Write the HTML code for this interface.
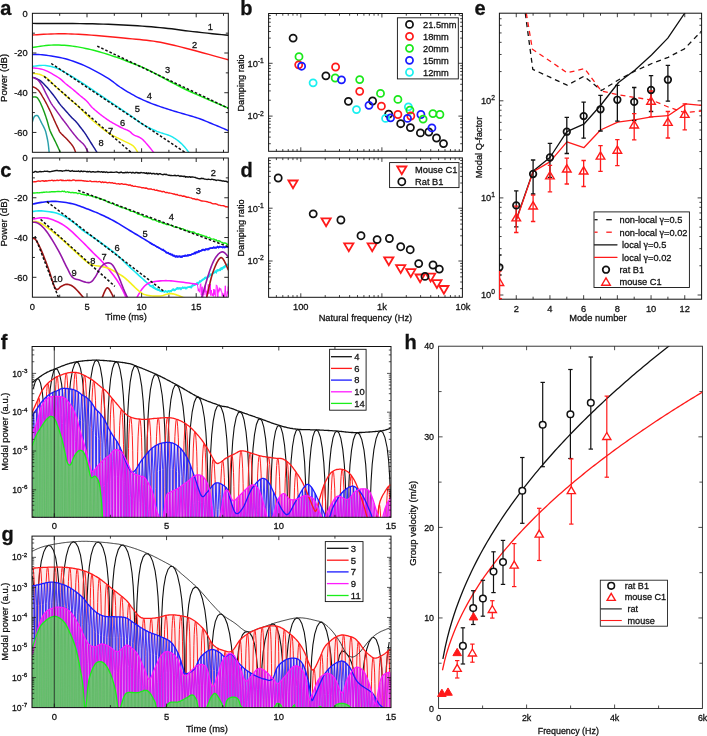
<!DOCTYPE html>
<html><head><meta charset="utf-8"><title>Figure</title>
<style>
html,body{margin:0;padding:0;background:#fff;}
body{width:707px;height:736px;overflow:hidden;}
svg{display:block;font-family:"Liberation Sans", sans-serif;will-change:transform;}
text{stroke:#111;stroke-width:0.28px;}
</style></head><body>
<svg width="707" height="736" viewBox="0 0 707 736">
<defs>
<clipPath id="clipA"><rect x="32.4" y="13.3" width="195.9" height="139"/></clipPath>
<clipPath id="clipC"><rect x="32.4" y="158" width="195.9" height="139.2"/></clipPath>
<clipPath id="clipE"><rect x="499.4" y="13.2" width="202.2" height="286"/></clipPath>
<clipPath id="clipH"><rect x="438.6" y="346.2" width="263.8" height="362.3"/></clipPath>
<clipPath id="clipF"><rect x="32.1" y="346.5" width="358.9" height="170.8"/></clipPath>
<clipPath id="clipG"><rect x="32" y="536.1" width="359" height="171.5"/></clipPath>
</defs>
<rect width="707" height="736" fill="#fff"/>

<g clip-path="url(#clipA)">
<path d="M32.4,23.4 L36.67,23.41 L42.44,23.43 L49.32,23.44 L56.91,23.46 L64.83,23.49 L72.68,23.53 L80.07,23.6 L86.6,23.7 L92.42,23.82 L97.97,23.96 L103.3,24.12 L108.43,24.29 L113.43,24.49 L118.32,24.71 L123.17,24.94 L128,25.2 L132.82,25.48 L137.57,25.79 L142.25,26.12 L146.84,26.47 L151.33,26.83 L155.71,27.21 L159.97,27.6 L164.1,28 L168,28.41 L171.66,28.84 L175.14,29.29 L178.54,29.74 L181.94,30.21 L185.41,30.67 L189.03,31.14 L192.9,31.6 L197.25,32.08 L202.12,32.6 L207.25,33.14 L212.4,33.67 L217.33,34.18 L221.78,34.63 L225.52,35.01 L228.3,35.3" stroke="#111" stroke-width="1.45" fill="none" stroke-linejoin="round" stroke-linecap="round" />
<path d="M32.4,35 L34.38,34.89 L37,34.73 L40.11,34.54 L43.58,34.34 L47.27,34.14 L51.05,33.97 L54.77,33.85 L58.3,33.8 L61.63,33.8 L64.9,33.83 L68.16,33.9 L71.48,33.99 L74.92,34.13 L78.55,34.31 L82.42,34.53 L86.6,34.8 L91.23,35.14 L96.32,35.55 L101.71,36.01 L107.26,36.51 L112.81,37.03 L118.22,37.55 L123.33,38.04 L128,38.5 L132.21,38.9 L136.11,39.26 L139.76,39.59 L143.24,39.92 L146.62,40.28 L149.98,40.68 L153.38,41.15 L156.9,41.7 L160.41,42.32 L163.78,42.97 L167.1,43.67 L170.44,44.42 L173.89,45.24 L177.53,46.14 L181.44,47.12 L185.7,48.2 L190.66,49.49 L196.38,51.01 L202.54,52.69 L208.8,54.41 L214.84,56.08 L220.32,57.6 L224.92,58.87 L228.3,59.8" stroke="#ff1a1a" stroke-width="1.45" fill="none" stroke-linejoin="round" stroke-linecap="round" />
<path d="M32.4,47.5 L33.83,47.29 L35.72,46.99 L37.97,46.63 L40.47,46.24 L43.15,45.86 L45.89,45.52 L48.61,45.25 L51.2,45.1 L53.74,45.04 L56.33,45.04 L58.97,45.09 L61.65,45.19 L64.34,45.34 L67.04,45.55 L69.73,45.8 L72.4,46.1 L75.05,46.46 L77.7,46.87 L80.35,47.34 L82.99,47.86 L85.64,48.42 L88.29,49.02 L90.95,49.65 L93.6,50.3 L96.31,51 L99.09,51.77 L101.9,52.59 L104.69,53.43 L107.44,54.28 L110.08,55.13 L112.58,55.94 L114.9,56.7 L116.97,57.4 L118.81,58.04 L120.49,58.65 L122.08,59.25 L123.66,59.86 L125.29,60.51 L127.04,61.22 L129,62 L131.03,62.79 L133.01,63.54 L135.02,64.3 L137.14,65.11 L139.44,66.04 L141.99,67.13 L144.89,68.43 L148.2,70 L151.98,71.89 L156.17,74.09 L160.7,76.51 L165.49,79.08 L170.46,81.74 L175.54,84.41 L180.64,87.02 L185.7,89.5 L191.07,92 L196.99,94.67 L203.17,97.39 L209.34,100.07 L215.22,102.59 L220.53,104.86 L224.98,106.76 L228.3,108.2" stroke="#1aee1a" stroke-width="1.45" fill="none" stroke-linejoin="round" stroke-linecap="round" />
<path d="M32.4,54.6 L33.24,54.61 L34.28,54.59 L35.51,54.57 L36.92,54.56 L38.5,54.58 L40.23,54.65 L42.1,54.78 L44.1,55 L46.3,55.28 L48.75,55.62 L51.39,56 L54.16,56.44 L57,56.93 L59.86,57.49 L62.68,58.11 L65.4,58.8 L68.05,59.56 L70.71,60.38 L73.36,61.27 L76.01,62.21 L78.65,63.22 L81.3,64.29 L83.95,65.42 L86.6,66.6 L89.31,67.89 L92.11,69.3 L94.95,70.79 L97.76,72.34 L100.51,73.89 L103.13,75.41 L105.58,76.86 L107.8,78.2 L109.73,79.43 L111.4,80.59 L112.88,81.68 L114.25,82.74 L115.57,83.79 L116.92,84.83 L118.37,85.9 L120,87 L121.79,88.15 L123.66,89.34 L125.61,90.55 L127.59,91.76 L129.61,92.96 L131.63,94.12 L133.63,95.24 L135.6,96.3 L137.54,97.3 L139.48,98.25 L141.42,99.16 L143.35,100.04 L145.28,100.89 L147.22,101.71 L149.16,102.51 L151.1,103.3 L153.05,104.06 L155,104.8 L156.95,105.51 L158.9,106.19 L160.85,106.86 L162.8,107.52 L164.75,108.16 L166.7,108.8 L168.64,109.43 L170.58,110.03 L172.52,110.63 L174.45,111.21 L176.38,111.78 L178.32,112.35 L180.26,112.92 L182.2,113.5 L184.15,114.07 L186.09,114.62 L188.04,115.16 L189.99,115.71 L191.95,116.26 L193.9,116.84 L195.85,117.45 L197.8,118.1 L199.75,118.8 L201.72,119.54 L203.68,120.3 L205.64,121.09 L207.6,121.9 L209.55,122.71 L211.48,123.51 L213.4,124.3 L215.4,125.13 L217.52,126.02 L219.69,126.93 L221.82,127.84 L223.83,128.69 L225.64,129.47 L227.16,130.11 L228.3,130.6" stroke="#1a1aff" stroke-width="1.45" fill="none" stroke-linejoin="round" stroke-linecap="round" />
<path d="M32.4,66.4 L33.3,66.3 L34.51,66.14 L35.94,65.95 L37.54,65.75 L39.22,65.57 L40.92,65.43 L42.57,65.37 L44.1,65.4 L45.55,65.52 L47.01,65.7 L48.46,65.94 L49.91,66.23 L51.35,66.57 L52.76,66.94 L54.15,67.36 L55.5,67.8 L56.78,68.27 L57.98,68.76 L59.14,69.3 L60.28,69.87 L61.45,70.49 L62.66,71.16 L63.97,71.9 L65.4,72.7 L66.91,73.55 L68.46,74.44 L70.07,75.37 L71.74,76.37 L73.51,77.44 L75.38,78.59 L77.37,79.84 L79.5,81.2 L81.76,82.67 L84.13,84.23 L86.62,85.89 L89.21,87.64 L91.92,89.47 L94.73,91.37 L97.66,93.35 L100.7,95.4 L104,97.62 L107.62,100.05 L111.45,102.62 L115.34,105.24 L119.17,107.82 L122.81,110.28 L126.13,112.53 L129,114.5 L131.38,116.17 L133.37,117.62 L135.07,118.9 L136.56,120.04 L137.95,121.09 L139.32,122.09 L140.77,123.08 L142.4,124.1 L144.16,125.13 L145.95,126.12 L147.76,127.07 L149.59,127.98 L151.42,128.86 L153.26,129.7 L155.08,130.52 L156.9,131.3 L158.73,132.02 L160.61,132.67 L162.5,133.27 L164.38,133.85 L166.22,134.43 L168,135.03 L169.71,135.68 L171.3,136.4 L172.78,137.19 L174.18,138.01 L175.5,138.86 L176.76,139.74 L177.96,140.66 L179.13,141.61 L180.27,142.59 L181.4,143.6 L182.55,144.72 L183.71,145.97 L184.87,147.31 L185.98,148.65 L187.01,149.94 L187.93,151.1 L188.71,152.08 L189.3,152.8" stroke="#1ae8f0" stroke-width="1.45" fill="none" stroke-linejoin="round" stroke-linecap="round" />
<path d="M32.4,67.8 L33.29,67.92 L34.44,68.05 L35.82,68.19 L37.36,68.38 L39.02,68.62 L40.73,68.94 L42.44,69.36 L44.1,69.9 L45.8,70.6 L47.64,71.45 L49.55,72.42 L51.49,73.46 L53.39,74.53 L55.19,75.58 L56.85,76.59 L58.3,77.5 L59.53,78.33 L60.58,79.12 L61.49,79.89 L62.3,80.63 L63.06,81.36 L63.8,82.07 L64.57,82.78 L65.4,83.5 L66.28,84.2 L67.14,84.89 L68.01,85.56 L68.87,86.22 L69.74,86.89 L70.61,87.57 L71.5,88.27 L72.4,89 L73.33,89.77 L74.28,90.58 L75.25,91.41 L76.23,92.25 L77.2,93.09 L78.16,93.92 L79.09,94.73 L80,95.5 L80.88,96.23 L81.74,96.92 L82.59,97.59 L83.42,98.25 L84.24,98.91 L85.04,99.58 L85.83,100.27 L86.6,101 L87.33,101.76 L88.02,102.55 L88.67,103.36 L89.32,104.17 L89.98,105 L90.66,105.84 L91.4,106.67 L92.2,107.5 L93.06,108.33 L93.97,109.15 L94.91,109.98 L95.88,110.81 L96.89,111.65 L97.93,112.49 L99,113.34 L100.1,114.2 L101.23,115.07 L102.39,115.96 L103.58,116.86 L104.8,117.76 L106.05,118.66 L107.34,119.55 L108.65,120.43 L110,121.3 L111.42,122.17 L112.95,123.07 L114.53,123.97 L116.13,124.85 L117.7,125.7 L119.22,126.51 L120.63,127.25 L121.9,127.9 L123.03,128.45 L124.07,128.9 L125.02,129.28 L125.89,129.62 L126.72,129.93 L127.5,130.25 L128.26,130.6 L129,131 L129.68,131.45 L130.27,131.91 L130.8,132.38 L131.31,132.87 L131.82,133.37 L132.39,133.87 L133.03,134.38 L133.8,134.9 L134.67,135.36 L135.61,135.75 L136.61,136.11 L137.68,136.5 L138.79,136.96 L139.95,137.55 L141.16,138.31 L142.4,139.3 L143.79,140.64 L145.36,142.35 L147.04,144.29 L148.74,146.33 L150.37,148.33 L151.85,150.16 L153.08,151.7 L154,152.8" stroke="#ff1aff" stroke-width="1.45" fill="none" stroke-linejoin="round" stroke-linecap="round" />
<path d="M32.4,73.4 L32.87,73.44 L33.51,73.49 L34.26,73.55 L35.1,73.61 L35.98,73.7 L36.87,73.8 L37.72,73.94 L38.5,74.1 L39.23,74.29 L39.95,74.51 L40.66,74.75 L41.37,75.01 L42.07,75.3 L42.75,75.61 L43.43,75.94 L44.1,76.3 L44.75,76.68 L45.38,77.07 L45.99,77.49 L46.59,77.93 L47.2,78.4 L47.81,78.9 L48.45,79.43 L49.1,80 L49.77,80.61 L50.45,81.27 L51.13,81.96 L51.82,82.69 L52.54,83.43 L53.27,84.19 L54.02,84.95 L54.8,85.7 L55.61,86.46 L56.46,87.23 L57.33,88.01 L58.21,88.81 L59.11,89.6 L60.01,90.4 L60.91,91.2 L61.8,92 L62.68,92.8 L63.57,93.6 L64.46,94.41 L65.34,95.22 L66.23,96.03 L67.12,96.83 L68.01,97.62 L68.9,98.4 L69.8,99.17 L70.73,99.94 L71.66,100.7 L72.59,101.46 L73.5,102.2 L74.38,102.92 L75.22,103.62 L76,104.3 L76.69,104.91 L77.28,105.46 L77.81,105.96 L78.33,106.45 L78.85,106.97 L79.43,107.54 L80.1,108.21 L80.9,109 L81.84,109.94 L82.91,111.02 L84.06,112.19 L85.26,113.42 L86.49,114.66 L87.71,115.88 L88.89,117.04 L90,118.1 L91.02,119.05 L91.96,119.91 L92.87,120.72 L93.76,121.51 L94.68,122.29 L95.66,123.1 L96.72,123.96 L97.9,124.9 L99.17,125.92 L100.48,126.99 L101.85,128.1 L103.29,129.24 L104.81,130.41 L106.43,131.58 L108.15,132.75 L110,133.9 L112.1,135.09 L114.48,136.34 L117.05,137.63 L119.68,138.91 L122.25,140.14 L124.65,141.29 L126.78,142.32 L128.5,143.2 L129.8,143.88 L130.78,144.38 L131.5,144.75 L132.04,145.04 L132.47,145.31 L132.85,145.6 L133.28,145.98 L133.8,146.5 L134.41,147.19 L135.05,148.01 L135.67,148.92 L136.28,149.86 L136.85,150.77 L137.35,151.6 L137.78,152.29 L138.1,152.8" stroke="#f5f01a" stroke-width="1.45" fill="none" stroke-linejoin="round" stroke-linecap="round" />
<path d="M32.4,77.1 L32.94,77.31 L33.67,77.59 L34.54,77.92 L35.49,78.29 L36.49,78.69 L37.47,79.12 L38.39,79.56 L39.2,80 L39.9,80.45 L40.54,80.91 L41.14,81.38 L41.72,81.88 L42.29,82.41 L42.86,82.96 L43.46,83.56 L44.1,84.2 L44.78,84.89 L45.49,85.65 L46.21,86.44 L46.94,87.26 L47.68,88.1 L48.41,88.95 L49.12,89.78 L49.8,90.6 L50.45,91.39 L51.09,92.17 L51.7,92.94 L52.31,93.71 L52.91,94.5 L53.52,95.3 L54.15,96.13 L54.8,97 L55.48,97.92 L56.17,98.9 L56.88,99.92 L57.6,100.95 L58.32,101.97 L59.03,102.97 L59.72,103.92 L60.4,104.8 L61.05,105.6 L61.68,106.34 L62.29,107.03 L62.9,107.69 L63.51,108.34 L64.12,109 L64.75,109.68 L65.4,110.4 L66.08,111.17 L66.77,111.98 L67.48,112.81 L68.2,113.64 L68.92,114.47 L69.63,115.29 L70.32,116.07 L71,116.8 L71.66,117.48 L72.32,118.13 L72.96,118.74 L73.6,119.34 L74.22,119.92 L74.83,120.5 L75.43,121.09 L76,121.7 L76.54,122.31 L77.04,122.89 L77.51,123.47 L77.98,124.06 L78.44,124.66 L78.92,125.29 L79.44,125.97 L80,126.7 L80.61,127.48 L81.24,128.3 L81.91,129.16 L82.59,130.04 L83.29,130.96 L84,131.91 L84.7,132.89 L85.4,133.9 L86.09,134.94 L86.79,136.03 L87.49,137.14 L88.2,138.29 L88.91,139.45 L89.63,140.63 L90.36,141.82 L91.1,143 L91.89,144.26 L92.76,145.63 L93.66,147.05 L94.56,148.47 L95.41,149.81 L96.17,151.02 L96.82,152.04 L97.3,152.8" stroke="#1a1a96" stroke-width="1.45" fill="none" stroke-linejoin="round" stroke-linecap="round" />
<path d="M32.4,77.1 L32.82,77.3 L33.4,77.56 L34.08,77.85 L34.84,78.19 L35.63,78.58 L36.41,79.01 L37.15,79.48 L37.8,80 L38.38,80.56 L38.93,81.16 L39.46,81.81 L39.97,82.51 L40.47,83.24 L40.97,84.02 L41.48,84.84 L42,85.7 L42.53,86.62 L43.05,87.59 L43.58,88.62 L44.11,89.68 L44.64,90.77 L45.18,91.88 L45.73,92.99 L46.3,94.1 L46.88,95.23 L47.48,96.39 L48.09,97.58 L48.71,98.78 L49.33,99.97 L49.95,101.13 L50.58,102.25 L51.2,103.3 L51.82,104.28 L52.43,105.21 L53.04,106.09 L53.66,106.94 L54.28,107.78 L54.91,108.62 L55.55,109.49 L56.2,110.4 L56.88,111.36 L57.59,112.35 L58.31,113.37 L59.04,114.39 L59.77,115.41 L60.48,116.39 L61.16,117.33 L61.8,118.2 L62.4,119 L62.97,119.75 L63.51,120.46 L64.04,121.13 L64.55,121.79 L65.06,122.44 L65.58,123.11 L66.1,123.8 L66.61,124.49 L67.09,125.14 L67.55,125.79 L68.02,126.44 L68.51,127.12 L69.04,127.84 L69.63,128.63 L70.3,129.5 L71.06,130.48 L71.9,131.57 L72.8,132.73 L73.74,133.94 L74.7,135.15 L75.66,136.33 L76.6,137.46 L77.5,138.5 L78.39,139.44 L79.29,140.32 L80.2,141.14 L81.1,141.94 L81.97,142.72 L82.81,143.52 L83.59,144.34 L84.3,145.2 L84.96,146.16 L85.59,147.21 L86.18,148.32 L86.72,149.42 L87.22,150.47 L87.65,151.41 L88.01,152.21 L88.3,152.8" stroke="#9418a8" stroke-width="1.45" fill="none" stroke-linejoin="round" stroke-linecap="round" />
<path d="M32.4,86.7 L32.65,86.8 L32.99,86.91 L33.39,87.04 L33.83,87.2 L34.3,87.38 L34.78,87.59 L35.26,87.83 L35.7,88.1 L36.13,88.4 L36.56,88.71 L37,89.06 L37.44,89.43 L37.88,89.84 L38.32,90.28 L38.76,90.77 L39.2,91.3 L39.64,91.89 L40.07,92.54 L40.51,93.23 L40.94,93.96 L41.38,94.71 L41.82,95.47 L42.26,96.24 L42.7,97 L43.14,97.74 L43.58,98.48 L44.02,99.22 L44.46,99.97 L44.9,100.75 L45.36,101.56 L45.82,102.4 L46.3,103.3 L46.8,104.26 L47.32,105.29 L47.86,106.36 L48.41,107.46 L48.95,108.57 L49.49,109.67 L50,110.76 L50.5,111.8 L50.97,112.8 L51.41,113.77 L51.83,114.71 L52.24,115.66 L52.66,116.6 L53.09,117.57 L53.53,118.56 L54,119.6 L54.51,120.72 L55.07,121.92 L55.65,123.18 L56.23,124.44 L56.81,125.67 L57.35,126.83 L57.86,127.89 L58.3,128.8 L58.64,129.53 L58.89,130.1 L59.08,130.56 L59.24,130.95 L59.43,131.32 L59.68,131.73 L60.02,132.2 L60.5,132.8 L61.14,133.52 L61.9,134.3 L62.76,135.14 L63.68,136.03 L64.63,136.93 L65.57,137.83 L66.47,138.73 L67.3,139.6 L68.08,140.45 L68.87,141.31 L69.65,142.17 L70.4,143.03 L71.12,143.88 L71.8,144.73 L72.43,145.57 L73,146.4 L73.51,147.26 L73.97,148.18 L74.39,149.11 L74.76,150.03 L75.08,150.89 L75.36,151.66 L75.6,152.31 L75.8,152.8" stroke="#a01616" stroke-width="1.45" fill="none" stroke-linejoin="round" stroke-linecap="round" />
<path d="M32.4,97 L32.66,96.99 L33.02,96.97 L33.45,96.94 L33.92,96.91 L34.41,96.9 L34.88,96.9 L35.32,96.93 L35.7,97 L36.02,97.08 L36.29,97.17 L36.54,97.27 L36.78,97.39 L37.01,97.56 L37.25,97.77 L37.51,98.05 L37.8,98.4 L38.11,98.82 L38.43,99.29 L38.77,99.82 L39.11,100.41 L39.47,101.05 L39.83,101.74 L40.21,102.49 L40.6,103.3 L41.01,104.19 L41.44,105.17 L41.89,106.22 L42.34,107.33 L42.8,108.45 L43.25,109.59 L43.69,110.71 L44.1,111.8 L44.49,112.86 L44.88,113.92 L45.25,114.99 L45.62,116.05 L45.98,117.11 L46.32,118.17 L46.67,119.24 L47,120.3 L47.33,121.39 L47.64,122.5 L47.95,123.64 L48.25,124.76 L48.54,125.86 L48.83,126.91 L49.12,127.9 L49.4,128.8 L49.66,129.57 L49.89,130.22 L50.1,130.79 L50.32,131.31 L50.55,131.84 L50.81,132.42 L51.12,133.09 L51.5,133.9 L51.95,134.84 L52.46,135.88 L53.01,136.99 L53.6,138.16 L54.21,139.36 L54.82,140.58 L55.42,141.8 L56,143 L56.59,144.26 L57.23,145.63 L57.89,147.05 L58.53,148.47 L59.14,149.81 L59.69,151.02 L60.15,152.04 L60.5,152.8" stroke="#189a18" stroke-width="1.45" fill="none" stroke-linejoin="round" stroke-linecap="round" />
<path d="M32.4,121.7 L32.53,121.3 L32.71,120.74 L32.91,120.07 L33.14,119.34 L33.39,118.6 L33.66,117.89 L33.93,117.28 L34.2,116.8 L34.48,116.44 L34.79,116.14 L35.12,115.9 L35.45,115.71 L35.78,115.57 L36.11,115.47 L36.42,115.42 L36.7,115.4 L36.95,115.41 L37.18,115.45 L37.38,115.54 L37.58,115.66 L37.78,115.84 L38,116.09 L38.23,116.4 L38.5,116.8 L38.8,117.29 L39.11,117.87 L39.44,118.53 L39.79,119.24 L40.15,120.01 L40.52,120.8 L40.9,121.6 L41.3,122.4 L41.73,123.23 L42.19,124.11 L42.68,125.02 L43.17,125.96 L43.66,126.89 L44.12,127.8 L44.54,128.68 L44.9,129.5 L45.2,130.25 L45.44,130.93 L45.65,131.57 L45.83,132.19 L45.99,132.82 L46.15,133.49 L46.31,134.2 L46.5,135 L46.7,135.87 L46.91,136.78 L47.12,137.74 L47.33,138.73 L47.54,139.76 L47.74,140.81 L47.92,141.9 L48.1,143 L48.27,144.21 L48.44,145.55 L48.6,146.97 L48.75,148.4 L48.89,149.76 L49.01,151 L49.12,152.03 L49.2,152.8" stroke="#2aa0aa" stroke-width="1.45" fill="none" stroke-linejoin="round" stroke-linecap="round" />
<path d="M97.2,46.1 L228.3,108.2" stroke="#111" stroke-width="1.5" fill="none" stroke-linejoin="round" stroke-linecap="round" stroke-dasharray="2.6 1.9" style="stroke-linecap:butt"/>
<path d="M51.2,63.5 L185,152.3" stroke="#111" stroke-width="1.5" fill="none" stroke-linejoin="round" stroke-linecap="round" stroke-dasharray="2.6 1.9" style="stroke-linecap:butt"/>
<path d="M44.1,76.4 L131,152.3" stroke="#111" stroke-width="1.5" fill="none" stroke-linejoin="round" stroke-linecap="round" stroke-dasharray="2.6 1.9" style="stroke-linecap:butt"/>
</g>
<text x="210.3" y="29.53" font-size="9.3" text-anchor="middle" font-weight="normal" fill="#111" >1</text>
<text x="194.7" y="47.63" font-size="9.3" text-anchor="middle" font-weight="normal" fill="#111" >2</text>
<text x="167.7" y="72.83" font-size="9.3" text-anchor="middle" font-weight="normal" fill="#111" >3</text>
<text x="149.4" y="99.33" font-size="9.3" text-anchor="middle" font-weight="normal" fill="#111" >4</text>
<text x="137.4" y="112.33" font-size="9.3" text-anchor="middle" font-weight="normal" fill="#111" >5</text>
<text x="122.6" y="126.33" font-size="9.3" text-anchor="middle" font-weight="normal" fill="#111" >6</text>
<text x="110.6" y="134.43" font-size="9.3" text-anchor="middle" font-weight="normal" fill="#111" >7</text>
<text x="101" y="146.13" font-size="9.3" text-anchor="middle" font-weight="normal" fill="#111" >8</text>
<line x1="32.4" y1="33.16" x2="34.9" y2="33.16" stroke="#111" stroke-width="0.9" />
<line x1="228.3" y1="33.16" x2="225.8" y2="33.16" stroke="#111" stroke-width="0.9" />
<line x1="32.4" y1="53.01" x2="36.4" y2="53.01" stroke="#111" stroke-width="0.9" />
<line x1="228.3" y1="53.01" x2="224.3" y2="53.01" stroke="#111" stroke-width="0.9" />
<line x1="32.4" y1="72.87" x2="34.9" y2="72.87" stroke="#111" stroke-width="0.9" />
<line x1="228.3" y1="72.87" x2="225.8" y2="72.87" stroke="#111" stroke-width="0.9" />
<line x1="32.4" y1="92.73" x2="36.4" y2="92.73" stroke="#111" stroke-width="0.9" />
<line x1="228.3" y1="92.73" x2="224.3" y2="92.73" stroke="#111" stroke-width="0.9" />
<line x1="32.4" y1="112.59" x2="34.9" y2="112.59" stroke="#111" stroke-width="0.9" />
<line x1="228.3" y1="112.59" x2="225.8" y2="112.59" stroke="#111" stroke-width="0.9" />
<line x1="32.4" y1="132.44" x2="36.4" y2="132.44" stroke="#111" stroke-width="0.9" />
<line x1="228.3" y1="132.44" x2="224.3" y2="132.44" stroke="#111" stroke-width="0.9" />
<line x1="59.7" y1="13.3" x2="59.7" y2="15.8" stroke="#111" stroke-width="0.9" />
<line x1="59.7" y1="152.3" x2="59.7" y2="149.8" stroke="#111" stroke-width="0.9" />
<line x1="87" y1="13.3" x2="87" y2="17.3" stroke="#111" stroke-width="0.9" />
<line x1="87" y1="152.3" x2="87" y2="148.3" stroke="#111" stroke-width="0.9" />
<line x1="114.3" y1="13.3" x2="114.3" y2="15.8" stroke="#111" stroke-width="0.9" />
<line x1="114.3" y1="152.3" x2="114.3" y2="149.8" stroke="#111" stroke-width="0.9" />
<line x1="141.6" y1="13.3" x2="141.6" y2="17.3" stroke="#111" stroke-width="0.9" />
<line x1="141.6" y1="152.3" x2="141.6" y2="148.3" stroke="#111" stroke-width="0.9" />
<line x1="168.9" y1="13.3" x2="168.9" y2="15.8" stroke="#111" stroke-width="0.9" />
<line x1="168.9" y1="152.3" x2="168.9" y2="149.8" stroke="#111" stroke-width="0.9" />
<line x1="196.2" y1="13.3" x2="196.2" y2="17.3" stroke="#111" stroke-width="0.9" />
<line x1="196.2" y1="152.3" x2="196.2" y2="148.3" stroke="#111" stroke-width="0.9" />
<line x1="223.5" y1="13.3" x2="223.5" y2="15.8" stroke="#111" stroke-width="0.9" />
<line x1="223.5" y1="152.3" x2="223.5" y2="149.8" stroke="#111" stroke-width="0.9" />
<rect x="32.4" y="13.3" width="195.9" height="139" stroke="#111" stroke-width="1.0" fill="none" />
<text x="27.6" y="16.63" font-size="9.3" text-anchor="end" font-weight="normal" fill="#111" >0</text>
<text x="27.6" y="56.34" font-size="9.3" text-anchor="end" font-weight="normal" fill="#111" >-20</text>
<text x="27.6" y="96.06" font-size="9.3" text-anchor="end" font-weight="normal" fill="#111" >-40</text>
<text x="27.6" y="135.77" font-size="9.3" text-anchor="end" font-weight="normal" fill="#111" >-60</text>
<text x="0" y="0" font-size="9.6" text-anchor="middle" fill="#111" transform="translate(7.4,77.9) rotate(-90)">Power (dB)</text>
<text x="0.3" y="14.9" font-size="20" text-anchor="start" font-weight="bold" fill="#111" >a</text>
<g clip-path="url(#clipC)">
<path d="M32.4,172.46 L33.65,172.4 L35.18,171.44 L36.05,171.43 L36.96,172.14 L37.94,171.99 L38.96,171.88 L40.03,171.47 L41.13,171.72 L42.28,171.67 L43.45,171.59 L44.66,171.11 L45.89,171.33 L47.14,171.24 L48.4,171.51 L49.68,171.73 L50.96,171.64 L52.25,171.18 L53.53,171.03 L54.81,170.81 L56.08,170.54 L57.34,170.49 L58.58,170.89 L59.8,170.71 L60.99,170.74 L62.15,171.23 L63.27,170.85 L64.36,170.87 L65.4,170.54 L66.41,170.32 L67.41,170.62 L68.39,170.44 L69.35,170.83 L70.31,171.33 L71.25,171.02 L72.18,170.55 L73.1,171.28 L74.02,171.21 L74.93,171.18 L75.83,171.38 L76.73,171.27 L77.62,171.33 L78.52,170.93 L79.41,171.6 L80.31,171.62 L81.2,170.86 L82.1,171.49 L83.01,171.5 L83.92,171.28 L84.84,171.39 L85.76,171.4 L86.7,171.87 L87.64,171.49 L88.6,171.86 L89.57,171.42 L90.55,171.98 L91.55,172.04 L92.57,171.63 L93.6,171.77 L94.66,172.15 L95.75,171.98 L96.88,171.78 L98.03,171.55 L99.21,171.68 L100.4,172.09 L101.62,171.59 L102.85,172.36 L104.09,171.75 L105.35,172.43 L106.61,171.86 L107.87,172.54 L109.14,172.32 L110.4,172.15 L111.66,172.2 L112.91,172.36 L114.15,172.33 L115.38,172.09 L116.59,172.01 L117.79,172.35 L118.95,172.8 L120.1,172.52 L121.22,172 L122.3,172.77 L123.35,172.7 L124.37,172.91 L125.34,172.22 L126.27,172.8 L127.16,172.14 L128,172.75 L129.51,172.41 L130.81,172.39 L131.93,173.06 L132.9,172.3 L133.74,172.73 L134.86,173.07 L135.88,172.47 L136.91,172.45 L138.04,173.16 L138.91,172.74 L139.91,173.08 L141.06,172.45 L142.4,172.86 L143.91,172.76 L145.53,173.37 L146.38,172.83 L147.25,173.76 L148.15,172.89 L149.07,173.66 L150,173.02 L150.96,173.32 L151.93,173.95 L152.92,173.36 L153.91,173.46 L154.92,174.04 L155.94,173.81 L156.97,173.55 L158.01,174.57 L159.04,173.81 L160.09,173.78 L161.13,174.17 L162.17,174.53 L163.22,174.74 L164.25,174.19 L165.29,174.5 L166.32,174.29 L167.33,174.79 L168.34,175.2 L169.34,175.26 L170.33,175.51 L171.3,175.46 L172.26,175.65 L173.23,175.59 L174.19,175.45 L175.16,175.3 L176.13,175.84 L177.09,175.59 L178.06,175.48 L179.03,175.93 L180,176.46 L180.96,175.82 L181.93,176.38 L182.9,176.3 L183.87,176.53 L184.83,176.26 L185.8,177.19 L186.77,176.6 L187.73,177.06 L188.7,176.98 L189.66,176.69 L190.63,177.35 L191.59,177.04 L192.55,177.07 L193.51,177.16 L194.47,177.4 L195.43,177.45 L196.39,178.1 L197.34,178.08 L198.3,178.67 L199.25,178.73 L200.2,178.89 L201.16,178.24 L202.15,178.57 L203.17,178.49 L204.2,178.95 L205.25,179.11 L206.32,179.41 L207.4,179.44 L208.48,179.12 L209.57,179.41 L210.67,179.64 L211.76,179.25 L212.85,179.41 L213.93,179.91 L215,179.74 L216.06,180.47 L217.1,180.11 L218.12,180.09 L219.12,180.29 L220.1,180.46 L221.04,180.56 L221.96,180.97 L222.84,181.02 L223.69,180.96 L224.49,181.39 L225.97,181.14 L227.24,181.98 L228.3,182.16 L228.3,181.7" stroke="#111" stroke-width="1.4" fill="none" stroke-linejoin="round" stroke-linecap="round" />
<path d="M32.4,181.69 L33.48,181.85 L34.34,181.63 L35.3,181.72 L36.36,181.64 L37.51,181.08 L38.73,180.93 L40.03,181.47 L41.39,180.89 L42.81,180.76 L44.27,181.26 L45.77,180.74 L47.3,180.94 L48.85,180.57 L50.42,180.64 L52,180.2 L52.81,180.56 L53.65,180.73 L54.5,180.43 L55.37,180.59 L56.25,180.51 L57.15,180.01 L58.07,180.55 L58.99,180.4 L59.93,180.16 L60.88,179.93 L61.84,180.59 L62.8,180.27 L63.78,180.46 L64.76,180.58 L65.74,180.45 L66.73,180.62 L67.72,180.2 L68.72,180.53 L69.71,180.25 L70.71,180.65 L71.71,180.62 L72.7,180 L73.69,180.05 L74.67,180.14 L75.65,180.76 L76.63,180.36 L77.59,180.54 L78.55,180.31 L79.5,180.51 L80.45,180.45 L81.4,180.46 L82.37,180.69 L83.34,180.74 L84.31,181.05 L85.29,180.93 L86.27,181.18 L87.26,181.19 L88.25,181.36 L89.23,181.17 L90.22,180.83 L91.21,181.46 L92.19,181.62 L93.18,181.65 L94.16,181.46 L95.13,181.65 L96.1,181.33 L97.06,181.9 L98.02,181.78 L98.97,181.63 L99.91,181.53 L100.83,182.25 L101.75,182.44 L102.66,181.8 L103.55,182.45 L104.43,182.22 L105.3,182.09 L106.15,182.28 L106.98,182.74 L107.8,182.9 L109.36,182.38 L110.83,182.97 L112.22,182.65 L113.54,183.32 L114.81,183.13 L116.05,183.7 L117.26,183.91 L118.47,183.67 L119.68,184.21 L120.92,183.81 L122.2,183.8 L123.53,184.4 L124.93,184.15 L126.42,184.51 L128,184.93 L128.83,185.22 L129.67,185 L130.54,185.05 L131.42,185.86 L132.31,185.57 L133.22,186.24 L134.15,186.35 L135.09,186.1 L136.03,186.34 L136.99,186.56 L137.96,186.83 L138.94,186.97 L139.92,187.13 L140.92,187.36 L141.91,187.8 L142.91,187.65 L143.92,187.78 L144.93,188.2 L145.94,188.01 L146.95,188.26 L147.96,188.99 L148.97,188.83 L149.98,189.05 L150.99,188.82 L151.99,189.34 L152.98,189.67 L153.97,189.42 L154.96,190.1 L155.93,190.31 L156.9,190.05 L157.85,190.7 L158.79,190.76 L159.72,191.12 L160.64,191.05 L161.55,191.53 L162.45,191.74 L163.34,191.36 L164.23,191.58 L165.11,192.26 L166,192.68 L166.88,192.3 L167.76,192.66 L168.65,192.97 L169.55,192.94 L170.44,193.18 L171.35,193.34 L172.27,193.59 L173.19,193.98 L174.13,193.96 L175.08,194.24 L176.05,194.77 L177.03,194.4 L178.04,195.07 L179.06,195.44 L180.1,195.34 L181.17,195.52 L182.26,196.24 L183.38,196.05 L184.53,196.27 L185.7,196.75 L186.93,197.25 L188.23,197.08 L189.59,197.58 L191.02,197.93 L192.49,198.69 L194.02,198.74 L195.58,199.45 L197.18,199.29 L198.81,199.82 L200.46,200.48 L202.12,201.07 L203.79,201.13 L205.47,201.36 L207.14,201.69 L208.8,202.42 L210.45,202.56 L212.07,203.45 L213.66,203.87 L215.23,203.73 L216.74,204.18 L218.22,204.96 L219.63,205.18 L220.99,205.65 L222.29,205.6 L223.51,205.73 L224.65,206.14 L225.7,206.8 L226.67,206.62 L227.54,206.89 L228.3,207.2" stroke="#ff1a1a" stroke-width="1.4" fill="none" stroke-linejoin="round" stroke-linecap="round" />
<path d="M32.4,193.13 L33.4,193.03 L34.65,193.01 L36.11,192.84 L36.91,192.76 L37.76,192.77 L38.64,192.83 L39.55,192.73 L40.49,192.65 L41.46,192.44 L42.45,192.45 L43.45,192.31 L44.47,192.21 L45.49,192.11 L46.52,192.07 L47.55,192.17 L48.57,192.08 L49.58,192.01 L50.58,191.94 L51.56,191.73 L52.53,191.7 L53.46,191.73 L54.37,191.7 L55.24,191.69 L56.07,191.66 L57.61,191.41 L58.96,191.52 L60.2,191.66 L61.37,191.5 L62.46,191.2 L63.49,191.54 L64.46,191.21 L65.38,192.12 L66.26,192.13 L67.11,191.89 L67.94,191.74 L68.75,192.44 L69.55,192.21 L70.35,192.62 L71.16,192.69 L71.98,192.46 L72.82,192.47 L73.65,192.76 L74.46,192.72 L75.65,192.64 L76.81,192.99 L77.94,193.72 L79.05,193.17 L80.14,193.41 L81.22,194.21 L82.29,194.09 L83.35,194.56 L84.39,194.71 L85.38,194.76 L86.33,195.58 L87.25,194.94 L88.16,195.32 L89.09,195.29 L90.03,195.92 L91.02,195.79 L92.08,196.13 L93.2,196.83 L94.41,196.76 L95.23,197.26 L96.07,197.87 L96.92,197.35 L97.79,197.6 L98.68,198.07 L99.59,198.93 L100.53,199.11 L101.48,199.08 L102.46,199.53 L103.47,199.75 L104.51,200.41 L105.57,200.4 L106.67,201.47 L107.8,202.1 L108.97,202.6 L110.18,202.86 L111.43,203.57 L112.72,203.14 L114.04,203.94 L115.38,205.15 L116.75,205.51 L118.13,205.71 L119.53,206.81 L120.94,207.06 L122.36,207.83 L123.77,207.89 L125.19,208.36 L126.6,209.18 L128,209.44 L129.4,210.25 L130.81,211.4 L132.23,211.36 L133.66,211.63 L135.09,212.26 L136.53,212.98 L137.98,214.19 L139.43,214.37 L140.89,214.89 L142.34,215.29 L143.8,216.75 L145.25,216.77 L146.7,217.12 L148.15,217.52 L149.6,218.06 L151.03,218.69 L152.43,219.7 L153.82,219.66 L155.19,220.03 L156.56,220.94 L157.93,221.16 L159.3,222.36 L160.69,221.94 L162.1,222.81 L163.53,223.51 L164.99,223.61 L166.5,224.67 L168.05,224.65 L169.64,224.92 L170.46,225.35 L171.3,225.24 L172.15,225.89 L173.02,225.99 L173.9,226.9 L174.8,227.11 L175.71,227.06 L176.63,226.87 L177.57,227.37 L178.51,227.64 L179.47,227.89 L180.43,228.2 L181.4,229.12 L182.38,228.68 L183.36,228.88 L184.36,230.05 L185.35,229.98 L186.35,230.7 L187.35,230.41 L188.35,231.21 L189.36,231.26 L190.36,231.7 L191.36,231.96 L192.36,232.01 L193.36,231.92 L194.36,232.34 L195.35,233.31 L196.33,233.65 L197.31,233.98 L198.28,233.71 L199.25,234.34 L200.2,234.8 L201.16,234.96 L202.15,235.47 L203.17,235.53 L204.2,236.01 L205.25,236.41 L206.32,236.37 L207.4,237.4 L208.48,237.82 L209.57,237.33 L210.67,238.62 L211.76,239 L212.85,239.1 L213.93,238.87 L215,240.11 L216.06,239.73 L217.1,240.95 L218.12,241.02 L219.12,240.79 L220.1,241.25 L221.04,242.07 L221.96,242.34 L222.84,242.84 L223.69,243.34 L224.49,242.92 L225.97,243.25 L227.24,244.64 L228.3,244.11 L228.3,244.6" stroke="#1aee1a" stroke-width="1.4" fill="none" stroke-linejoin="round" stroke-linecap="round" />
<path d="M32.4,204.2 L33.05,204.06 L33.87,203.86 L34.85,203.62 L35.96,203.36 L37.18,203.1 L38.49,202.84 L39.87,202.6 L41.3,202.4 L42.8,202.21 L44.41,202.01 L46.12,201.82 L47.9,201.64 L49.74,201.49 L51.64,201.39 L53.56,201.36 L55.5,201.4 L57.5,201.52 L59.6,201.7 L61.76,201.94 L63.95,202.23 L66.14,202.57 L68.3,202.94 L70.4,203.36 L72.4,203.8 L74.3,204.29 L76.14,204.83 L77.93,205.42 L79.68,206.04 L81.4,206.69 L83.12,207.36 L84.85,208.03 L86.6,208.7 L88.37,209.36 L90.13,210.04 L91.89,210.72 L93.65,211.41 L95.41,212.12 L97.17,212.86 L98.93,213.62 L100.7,214.4 L102.48,215.22 L104.27,216.06 L106.07,216.92 L107.86,217.81 L109.65,218.72 L111.43,219.64 L113.18,220.56 L114.9,221.5 L116.58,222.44 L118.22,223.4 L119.84,224.37 L121.44,225.35 L123.04,226.34 L124.66,227.35 L126.31,228.37 L128,229.4 L129.74,230.45 L131.51,231.52 L133.3,232.61 L135.11,233.71 L136.94,234.81 L138.76,235.91 L140.59,237.01 L142.4,238.1 L144.21,239.18 L146.02,240.27 L147.83,241.36 L149.65,242.44 L151.47,243.52 L153.28,244.59 L155.09,245.65 L156.9,246.7 L158.75,247.77 L160.68,248.89 L162.62,250.02 L164.56,251.13 L166.43,252.19 L168.21,253.16 L169.85,254.01 L171.3,254.7 L172.52,255.23 L173.54,255.63 L174.4,255.92 L175.17,256.11 L175.9,256.24 L176.66,256.31 L177.51,256.36 L178.5,256.4 L179.61,256.43 L180.79,256.42 L182.01,256.37 L183.27,256.27 L184.58,256.14 L185.9,255.95 L187.25,255.7 L188.6,255.4 L189.96,255.02 L191.33,254.54 L192.72,254 L194.13,253.41 L195.58,252.81 L197.07,252.2 L198.61,251.63 L200.2,251.1 L201.87,250.6 L203.62,250.08 L205.43,249.56 L207.27,249.06 L209.13,248.59 L210.98,248.17 L212.81,247.8 L214.6,247.5 L216.44,247.29 L218.4,247.15 L220.39,247.06 L222.35,247.03 L224.2,247.01 L225.85,247.02 L227.25,247.02 L228.3,247" stroke="#1a1aff" stroke-width="1.6" fill="none" stroke-linejoin="round" stroke-linecap="round" />
<path d="M150,243.06 L150.66,243.47 L151.33,243.85 L152.11,244.34 L152.78,244.59 L153.52,245.08 L154.34,245.07 L155.24,245.77 L155.88,246.36 L156.55,246.58 L157.27,247.1 L158.07,247.16 L158.95,247.84 L159.9,248.28 L160.9,249.07 L161.94,249.73 L163,249.23 L164.08,250.26 L165.16,251 L166.23,252.88 L167.27,253.16 L168.28,252.49 L169.23,254.28 L170.12,253.41 L170.93,254.76 L171.65,254.11 L172.3,254.14 L173.15,256.23 L173.9,255.18 L174.56,255.39 L175.17,257.08 L175.95,256.99 L176.56,255.88 L177.22,257.27 L177.95,256.46 L178.79,256.77 L179.69,255.84 L180.31,257.31 L180.95,256.79 L181.6,257.32 L182.26,257.14 L182.93,255.9 L183.62,255.96 L184.31,255.5 L185.01,255.37 L185.72,255.1 L186.44,255.46 L187.16,255.93 L187.88,254.57 L188.6,255.76 L189.32,254.88 L190.05,254.61 L190.78,255.38 L191.51,254.43 L192.25,253.82 L193,253.85 L193.75,253.98 L194.51,252.37 L195.29,253.88 L196.07,251.65 L196.87,252.78 L197.68,252.66 L198.5,250.7 L199.34,251.95 L200.2,250.83 L201.08,250.99 L201.99,249.58 L202.91,249.38 L203.86,249.37 L204.82,250.64 L205.79,248.85 L206.77,249.7 L207.76,249.79 L208.76,249.57 L209.75,248.13 L210.74,247.93 L211.72,248.06 L212.69,248.37 L213.65,246.86 L214.6,248 L215.56,247.97 L216.57,247.99 L217.6,246.27 L218.66,248.02 L219.73,246.27 L220.79,246.73 L221.84,247.25 L222.86,247.86 L223.84,246.7 L224.77,247.86 L225.65,247.11 L226.45,246.64 L227.16,246.65 L227.79,246.37 L228.3,247" stroke="#1a1aff" stroke-width="1.3" fill="none" stroke-linejoin="round" stroke-linecap="round" />
<path d="M32.4,211.6 L33.03,211.52 L33.81,211.39 L34.73,211.23 L35.79,211.08 L36.98,210.94 L38.3,210.85 L39.74,210.82 L41.3,210.9 L43.06,211.05 L45.05,211.24 L47.21,211.47 L49.47,211.77 L51.78,212.13 L54.06,212.57 L56.26,213.09 L58.3,213.7 L60.23,214.43 L62.13,215.28 L63.98,216.23 L65.79,217.24 L67.55,218.3 L69.24,219.38 L70.86,220.46 L72.4,221.5 L73.83,222.54 L75.14,223.6 L76.36,224.68 L77.53,225.76 L78.67,226.85 L79.83,227.92 L81.02,228.98 L82.3,230 L83.58,230.94 L84.79,231.78 L86,232.56 L87.24,233.36 L88.57,234.2 L90.04,235.16 L91.7,236.27 L93.6,237.6 L95.84,239.19 L98.41,241.01 L101.22,243.01 L104.14,245.11 L107.07,247.24 L109.92,249.34 L112.56,251.35 L114.9,253.2 L116.92,254.89 L118.72,256.49 L120.36,258.02 L121.88,259.51 L123.35,260.98 L124.83,262.45 L126.36,263.95 L128,265.5 L129.77,267.12 L131.61,268.8 L133.49,270.51 L135.39,272.22 L137.26,273.91 L139.07,275.54 L140.8,277.08 L142.4,278.5 L143.86,279.82 L145.19,281.08 L146.44,282.27 L147.63,283.39 L148.79,284.45 L149.97,285.44 L151.2,286.35 L152.5,287.2 L153.86,288 L155.23,288.75 L156.62,289.45 L158.03,290.07 L159.48,290.61 L160.97,291.03 L162.51,291.34 L164.1,291.5 L165.77,291.48 L167.5,291.28 L169.29,290.94 L171.12,290.5 L172.97,290 L174.83,289.49 L176.68,289.01 L178.5,288.6 L180.31,288.28 L182.12,288.01 L183.93,287.77 L185.75,287.51 L187.57,287.21 L189.38,286.83 L191.19,286.34 L193,285.7 L194.76,284.92 L196.45,284.03 L198.12,283.05 L199.8,281.97 L201.53,280.82 L203.35,279.61 L205.29,278.33 L207.4,277 L209.84,275.5 L212.66,273.77 L215.68,271.9 L218.75,270.01 L221.71,268.18 L224.39,266.52 L226.64,265.12 L228.3,264.1" stroke="#1ae8f0" stroke-width="1.6" fill="none" stroke-linejoin="round" stroke-linecap="round" />
<path d="M150,285.94 L150.84,286.46 L151.53,285.77 L152.32,285.5 L153.18,285.17 L154.12,287.83 L155.11,287.77 L156.15,289.26 L157.22,288.59 L158.31,290.4 L159.4,289.31 L160.5,291.46 L161.57,291.62 L162.61,290.93 L163.62,291.55 L164.58,292.13 L165.53,290.61 L166.48,291.73 L167.44,292.44 L168.39,290.57 L169.35,292.1 L170.31,291.49 L171.27,291.74 L172.24,289.83 L173.2,288.76 L174.16,290.73 L175.13,290.45 L176.09,289.02 L177.05,287.63 L178.02,287.73 L178.98,288.94 L179.95,287.67 L180.91,289.63 L181.88,288.33 L182.85,286.96 L183.81,288.28 L184.78,287.21 L185.75,288.9 L186.72,288.67 L187.69,287.24 L188.65,287.46 L189.62,287.41 L190.59,287.5 L191.55,287.75 L192.52,284.38 L193.48,285.06 L194.41,285.41 L195.33,284.01 L196.23,284.44 L197.12,282.34 L198.01,284.33 L198.9,282.64 L199.8,280.75 L200.71,281.89 L201.65,280.15 L202.61,279.13 L203.6,279.39 L204.62,277.6 L205.7,277.14 L206.82,278.53 L208.01,277.26 L208.65,274.68 L209.32,276.71 L210.02,273.85 L210.75,274.41 L211.5,275.78 L212.27,274.39 L213.05,272.9 L213.85,272.64 L214.66,272.18 L215.48,270.84 L216.3,273.12 L217.12,269.59 L217.94,270.26 L218.75,270.79 L219.56,269.18 L220.35,270.56 L221.13,267.72 L221.9,269.59 L222.64,268.86 L223.36,267.7 L224.06,267.97 L224.72,266.14 L225.35,266.98 L226.51,266.15 L227.5,264.65 L228.3,264.01 L228.3,264.1" stroke="#1ae8f0" stroke-width="1.3" fill="none" stroke-linejoin="round" stroke-linecap="round" />
<path d="M32.4,219.2 L33.08,219.07 L33.98,218.88 L35.04,218.65 L36.23,218.41 L37.5,218.18 L38.8,217.99 L40.08,217.85 L41.3,217.8 L42.46,217.8 L43.6,217.82 L44.75,217.87 L45.92,217.97 L47.13,218.13 L48.4,218.38 L49.75,218.73 L51.2,219.2 L52.77,219.78 L54.45,220.44 L56.21,221.2 L58.04,222.04 L59.89,222.98 L61.76,224 L63.6,225.11 L65.4,226.3 L67.17,227.61 L68.93,229.05 L70.69,230.59 L72.46,232.21 L74.22,233.88 L75.98,235.59 L77.74,237.3 L79.5,239 L81.29,240.73 L83.12,242.55 L84.97,244.4 L86.81,246.28 L88.62,248.12 L90.37,249.92 L92.04,251.62 L93.6,253.2 L95.03,254.61 L96.34,255.88 L97.55,257.04 L98.72,258.16 L99.86,259.27 L101.02,260.43 L102.22,261.69 L103.5,263.1 L104.88,264.68 L106.35,266.39 L107.86,268.2 L109.38,270.06 L110.88,271.93 L112.32,273.77 L113.68,275.54 L114.9,277.2 L116,278.77 L117.02,280.29 L117.97,281.77 L118.84,283.21 L119.67,284.6 L120.44,285.97 L121.18,287.3 L121.9,288.6 L122.6,289.92 L123.27,291.27 L123.9,292.62 L124.49,293.91 L125.02,295.12 L125.49,296.2 L125.89,297.11 L126.2,297.8" stroke="#ff1aff" stroke-width="1.6" fill="none" stroke-linejoin="round" stroke-linecap="round" />
<path d="M136.7,297.8 L137.13,297.07 L137.69,296.07 L138.35,294.87 L139.1,293.56 L139.9,292.21 L140.74,290.88 L141.58,289.65 L142.4,288.6 L143.18,287.69 L143.92,286.82 L144.67,286.01 L145.45,285.26 L146.3,284.55 L147.25,283.91 L148.34,283.32 L149.6,282.8 L151.06,282.34 L152.71,281.94 L154.51,281.61 L156.4,281.33 L158.35,281.1 L160.31,280.92 L162.24,280.79 L164.1,280.7 L165.87,280.67 L167.6,280.69 L169.31,280.78 L171.03,280.91 L172.78,281.07 L174.59,281.26 L176.49,281.48 L178.5,281.7 L180.77,281.97 L183.33,282.3 L186.05,282.67 L188.8,283.06 L191.43,283.45 L193.82,283.8 L195.82,284.09 L197.3,284.3" stroke="#ff1aff" stroke-width="1.6" fill="none" stroke-linejoin="round" stroke-linecap="round" />
<path d="M197.3,284.3 L197.8,286.83 L198.3,291.12 L198.8,288.68 L199.3,291.95 L199.8,292.26 L200.3,284.42 L200.8,283.68 L201.3,295.22 L201.8,287.13 L202.3,286.78 L202.8,297.44 L203.3,290.08 L203.8,295.21 L204.3,290.17 L204.8,292.45 L205.3,285.61 L205.8,292.39 L206.3,295.65 L206.8,290.82 L207.3,293.88 L207.8,292.9 L208.3,284.4 L208.8,294.12 L209.3,291.78 L209.8,287.72 L210.3,283.93 L210.8,295.62 L211.3,290.12 L211.8,293.56 L212.3,295.8 L212.8,293.5 L213.3,296.4 L213.8,289.03 L214.3,294.71 L214.8,289.72 L215.3,296.6 L215.8,295.8 L216.3,284.86 L216.8,285.4 L217.3,286.54 L217.8,297.02 L218.3,289.61 L218.8,292.27 L219.3,287.71 L219.8,290.6 L220.3,288.9 L220.8,288.41 L221.3,291.69 L221.8,291.68 L222.3,296.16 L222.8,293.05 L223.3,296.51 L223.8,295.49 L224.3,297.37 L224.8,292.9 L225.3,285.78 L225.8,295.55 L226.3,297 L226.8,296.17 L227.3,291.47 L227.8,293.49 L228.3,286.46 L228.8,295.14" stroke="#ff1aff" stroke-width="1.0" fill="none" stroke-linejoin="round" stroke-linecap="round" />
<path d="M32.4,221.4 L33.03,221.49 L33.81,221.53 L34.73,221.57 L35.79,221.66 L36.98,221.84 L38.3,222.18 L39.74,222.72 L41.3,223.5 L43.06,224.58 L45.05,225.93 L47.21,227.48 L49.47,229.18 L51.78,230.96 L54.06,232.77 L56.26,234.54 L58.3,236.2 L60.2,237.8 L62.03,239.4 L63.8,241 L65.53,242.6 L67.23,244.2 L68.94,245.8 L70.65,247.4 L72.4,249 L74.22,250.66 L76.11,252.4 L78.03,254.17 L79.94,255.93 L81.8,257.62 L83.55,259.17 L85.17,260.55 L86.6,261.7 L87.77,262.58 L88.69,263.24 L89.44,263.72 L90.1,264.07 L90.76,264.34 L91.51,264.59 L92.43,264.86 L93.6,265.2 L95.03,265.55 L96.65,265.83 L98.4,266.08 L100.26,266.33 L102.17,266.61 L104.09,266.96 L105.98,267.42 L107.8,268 L109.62,268.76 L111.52,269.67 L113.45,270.69 L115.36,271.77 L117.2,272.87 L118.94,273.94 L120.52,274.93 L121.9,275.8 L123.01,276.51 L123.86,277.09 L124.54,277.59 L125.11,278.06 L125.67,278.56 L126.28,279.13 L127.03,279.83 L128,280.7 L129.21,281.82 L130.59,283.15 L132.1,284.63 L133.68,286.18 L135.26,287.72 L136.79,289.17 L138.23,290.45 L139.5,291.5 L140.57,292.31 L141.48,292.97 L142.29,293.5 L143.04,293.92 L143.81,294.26 L144.66,294.56 L145.63,294.83 L146.8,295.1 L148.18,295.36 L149.73,295.59 L151.4,295.78 L153.15,295.93 L154.93,296.02 L156.7,296.07 L158.4,296.06 L160,296 L161.49,295.81 L162.92,295.48 L164.3,295.05 L165.66,294.59 L167.02,294.16 L168.4,293.81 L169.82,293.61 L171.3,293.6 L172.93,293.84 L174.74,294.28 L176.62,294.88 L178.51,295.55 L180.3,296.24 L181.92,296.89 L183.29,297.43 L184.3,297.8" stroke="#f5f01a" stroke-width="1.6" fill="none" stroke-linejoin="round" stroke-linecap="round" />
<path d="M32.4,222.1 L32.85,222.16 L33.44,222.19 L34.14,222.21 L34.92,222.27 L35.77,222.39 L36.66,222.62 L37.58,222.98 L38.5,223.5 L39.43,224.16 L40.39,224.89 L41.39,225.73 L42.42,226.69 L43.5,227.78 L44.62,229.01 L45.79,230.42 L47,232 L48.3,233.84 L49.69,235.94 L51.16,238.24 L52.65,240.67 L54.14,243.17 L55.61,245.67 L57,248.1 L58.3,250.4 L59.52,252.63 L60.69,254.89 L61.82,257.15 L62.91,259.38 L63.95,261.54 L64.94,263.6 L65.9,265.53 L66.8,267.3 L67.63,268.92 L68.37,270.43 L69.05,271.83 L69.69,273.12 L70.32,274.31 L70.96,275.38 L71.65,276.35 L72.4,277.2 L73.2,277.9 L74,278.43 L74.83,278.82 L75.68,279.11 L76.57,279.35 L77.49,279.57 L78.47,279.8 L79.5,280.1 L80.63,280.49 L81.88,280.94 L83.19,281.41 L84.54,281.87 L85.87,282.26 L87.15,282.54 L88.34,282.67 L89.4,282.6 L90.31,282.33 L91.12,281.91 L91.85,281.35 L92.52,280.68 L93.15,279.9 L93.78,279.05 L94.42,278.14 L95.1,277.2 L95.8,276.14 L96.5,274.91 L97.2,273.57 L97.9,272.18 L98.6,270.79 L99.3,269.48 L100,268.3 L100.7,267.3 L101.41,266.46 L102.12,265.72 L102.83,265.06 L103.55,264.49 L104.27,264.01 L104.98,263.62 L105.69,263.32 L106.4,263.1 L107.1,262.95 L107.8,262.86 L108.5,262.84 L109.2,262.92 L109.9,263.11 L110.6,263.42 L111.3,263.88 L112,264.5 L112.71,265.3 L113.42,266.28 L114.13,267.4 L114.84,268.65 L115.56,270 L116.27,271.42 L116.99,272.9 L117.7,274.4 L118.42,276 L119.16,277.76 L119.9,279.63 L120.64,281.54 L121.37,283.45 L122.08,285.3 L122.76,287.03 L123.4,288.6 L124.03,290.05 L124.65,291.47 L125.27,292.82 L125.86,294.09 L126.4,295.24 L126.88,296.26 L127.29,297.12 L127.6,297.8" stroke="#9418a8" stroke-width="1.6" fill="none" stroke-linejoin="round" stroke-linecap="round" />
<path d="M201.6,297.8 L202.26,295.55 L203.17,292.46 L204.24,288.76 L205.42,284.71 L206.66,280.56 L207.87,276.56 L209.01,272.96 L210,270 L210.86,267.61 L211.66,265.53 L212.4,263.7 L213.12,262.09 L213.82,260.65 L214.52,259.35 L215.24,258.15 L216,257 L216.79,255.91 L217.61,254.91 L218.43,254.03 L219.26,253.28 L220.09,252.66 L220.91,252.2 L221.72,251.91 L222.5,251.8 L223.3,251.97 L224.14,252.45 L224.98,253.15 L225.81,253.98 L226.58,254.84 L227.27,255.66 L227.86,256.34 L228.3,256.8" stroke="#9418a8" stroke-width="1.6" fill="none" stroke-linejoin="round" stroke-linecap="round" />
<path d="M32.4,238.3 L32.64,238.35 L32.94,238.36 L33.29,238.35 L33.7,238.39 L34.15,238.51 L34.64,238.75 L35.15,239.17 L35.7,239.8 L36.28,240.64 L36.9,241.63 L37.57,242.77 L38.26,244.05 L38.99,245.46 L39.74,247 L40.51,248.64 L41.3,250.4 L42.12,252.31 L42.97,254.4 L43.85,256.63 L44.76,258.97 L45.67,261.38 L46.59,263.83 L47.5,266.28 L48.4,268.7 L49.3,271.26 L50.21,274.08 L51.13,277.02 L52.04,279.93 L52.95,282.69 L53.83,285.14 L54.68,287.16 L55.5,288.6 L56.27,289.38 L57,289.6 L57.71,289.39 L58.39,288.88 L59.06,288.19 L59.73,287.46 L60.41,286.82 L61.1,286.4 L61.8,286.1 L62.49,285.75 L63.17,285.39 L63.86,285.04 L64.56,284.72 L65.28,284.48 L66.02,284.33 L66.8,284.3 L67.59,284.36 L68.39,284.47 L69.2,284.64 L70.04,284.9 L70.91,285.26 L71.82,285.73 L72.78,286.34 L73.8,287.1 L74.97,288.13 L76.3,289.47 L77.74,291 L79.19,292.62 L80.59,294.22 L81.85,295.69 L82.92,296.92 L83.7,297.8" stroke="#a01616" stroke-width="1.6" fill="none" stroke-linejoin="round" stroke-linecap="round" />
<path d="M102.1,297.8 L102.49,296.92 L103,295.62 L103.61,294.06 L104.29,292.4 L105.01,290.79 L105.74,289.38 L106.45,288.33 L107.1,287.8 L107.74,287.83 L108.41,288.31 L109.1,289.12 L109.77,290.15 L110.42,291.28 L111.02,292.41 L111.56,293.42 L112,294.2 L112.35,294.81 L112.63,295.38 L112.84,295.91 L113.01,296.4 L113.13,296.84 L113.23,297.22 L113.32,297.54 L113.4,297.8" stroke="#a01616" stroke-width="1.6" fill="none" stroke-linejoin="round" stroke-linecap="round" />
<path d="M206.6,297.8 L207.08,295.73 L207.71,292.9 L208.46,289.51 L209.29,285.8 L210.19,281.97 L211.13,278.25 L212.07,274.86 L213,272 L213.94,269.47 L214.93,266.98 L215.95,264.6 L217,262.43 L218.05,260.55 L219.1,259.06 L220.12,258.05 L221.1,257.6 L222.09,257.94 L223.13,259.07 L224.18,260.76 L225.21,262.8 L226.17,264.95 L227.03,266.98 L227.75,268.68 L228.3,269.8" stroke="#a01616" stroke-width="1.6" fill="none" stroke-linejoin="round" stroke-linecap="round" />
<path d="M78.1,190.4 L228.3,246.7" stroke="#111" stroke-width="1.5" fill="none" stroke-linejoin="round" stroke-linecap="round" stroke-dasharray="2.6 1.9" style="stroke-linecap:butt"/>
<path d="M47,201.7 L164.1,291.5" stroke="#111" stroke-width="1.5" fill="none" stroke-linejoin="round" stroke-linecap="round" stroke-dasharray="2.6 1.9" style="stroke-linecap:butt"/>
<path d="M40.6,219.4 L114.9,286.4" stroke="#111" stroke-width="1.5" fill="none" stroke-linejoin="round" stroke-linecap="round" stroke-dasharray="2.6 1.9" style="stroke-linecap:butt"/>
<path d="M35,236.2 L58.3,297.2" stroke="#111" stroke-width="1.5" fill="none" stroke-linejoin="round" stroke-linecap="round" stroke-dasharray="2.6 1.9" style="stroke-linecap:butt"/>
</g>
<text x="213.4" y="176.33" font-size="9.3" text-anchor="middle" font-weight="normal" fill="#111" >2</text>
<text x="198.3" y="194.43" font-size="9.3" text-anchor="middle" font-weight="normal" fill="#111" >3</text>
<text x="171.3" y="219.63" font-size="9.3" text-anchor="middle" font-weight="normal" fill="#111" >4</text>
<text x="145" y="236.63" font-size="9.3" text-anchor="middle" font-weight="normal" fill="#111" >5</text>
<text x="117" y="251.13" font-size="9.3" text-anchor="middle" font-weight="normal" fill="#111" >6</text>
<text x="104" y="259.63" font-size="9.3" text-anchor="middle" font-weight="normal" fill="#111" >7</text>
<text x="92.9" y="263.83" font-size="9.3" text-anchor="middle" font-weight="normal" fill="#111" >8</text>
<text x="74.1" y="275.63" font-size="9.3" text-anchor="middle" font-weight="normal" fill="#111" >9</text>
<text x="57.6" y="282.33" font-size="9.3" text-anchor="middle" font-weight="normal" fill="#111" >10</text>
<line x1="32.4" y1="177.89" x2="34.9" y2="177.89" stroke="#111" stroke-width="0.9" />
<line x1="228.3" y1="177.89" x2="225.8" y2="177.89" stroke="#111" stroke-width="0.9" />
<line x1="32.4" y1="197.77" x2="36.4" y2="197.77" stroke="#111" stroke-width="0.9" />
<line x1="228.3" y1="197.77" x2="224.3" y2="197.77" stroke="#111" stroke-width="0.9" />
<line x1="32.4" y1="217.66" x2="34.9" y2="217.66" stroke="#111" stroke-width="0.9" />
<line x1="228.3" y1="217.66" x2="225.8" y2="217.66" stroke="#111" stroke-width="0.9" />
<line x1="32.4" y1="237.54" x2="36.4" y2="237.54" stroke="#111" stroke-width="0.9" />
<line x1="228.3" y1="237.54" x2="224.3" y2="237.54" stroke="#111" stroke-width="0.9" />
<line x1="32.4" y1="257.43" x2="34.9" y2="257.43" stroke="#111" stroke-width="0.9" />
<line x1="228.3" y1="257.43" x2="225.8" y2="257.43" stroke="#111" stroke-width="0.9" />
<line x1="32.4" y1="277.31" x2="36.4" y2="277.31" stroke="#111" stroke-width="0.9" />
<line x1="228.3" y1="277.31" x2="224.3" y2="277.31" stroke="#111" stroke-width="0.9" />
<line x1="59.7" y1="158" x2="59.7" y2="160.5" stroke="#111" stroke-width="0.9" />
<line x1="59.7" y1="297.2" x2="59.7" y2="294.7" stroke="#111" stroke-width="0.9" />
<line x1="87" y1="158" x2="87" y2="162" stroke="#111" stroke-width="0.9" />
<line x1="87" y1="297.2" x2="87" y2="293.2" stroke="#111" stroke-width="0.9" />
<line x1="114.3" y1="158" x2="114.3" y2="160.5" stroke="#111" stroke-width="0.9" />
<line x1="114.3" y1="297.2" x2="114.3" y2="294.7" stroke="#111" stroke-width="0.9" />
<line x1="141.6" y1="158" x2="141.6" y2="162" stroke="#111" stroke-width="0.9" />
<line x1="141.6" y1="297.2" x2="141.6" y2="293.2" stroke="#111" stroke-width="0.9" />
<line x1="168.9" y1="158" x2="168.9" y2="160.5" stroke="#111" stroke-width="0.9" />
<line x1="168.9" y1="297.2" x2="168.9" y2="294.7" stroke="#111" stroke-width="0.9" />
<line x1="196.2" y1="158" x2="196.2" y2="162" stroke="#111" stroke-width="0.9" />
<line x1="196.2" y1="297.2" x2="196.2" y2="293.2" stroke="#111" stroke-width="0.9" />
<line x1="223.5" y1="158" x2="223.5" y2="160.5" stroke="#111" stroke-width="0.9" />
<line x1="223.5" y1="297.2" x2="223.5" y2="294.7" stroke="#111" stroke-width="0.9" />
<rect x="32.4" y="158" width="195.9" height="139.2" stroke="#111" stroke-width="1.0" fill="none" />
<text x="27.6" y="161.33" font-size="9.3" text-anchor="end" font-weight="normal" fill="#111" >0</text>
<text x="27.6" y="201.1" font-size="9.3" text-anchor="end" font-weight="normal" fill="#111" >-20</text>
<text x="27.6" y="240.87" font-size="9.3" text-anchor="end" font-weight="normal" fill="#111" >-40</text>
<text x="27.6" y="280.64" font-size="9.3" text-anchor="end" font-weight="normal" fill="#111" >-60</text>
<text x="32.4" y="309.83" font-size="9.3" text-anchor="middle" font-weight="normal" fill="#111" >0</text>
<text x="87" y="309.83" font-size="9.3" text-anchor="middle" font-weight="normal" fill="#111" >5</text>
<text x="141.6" y="309.83" font-size="9.3" text-anchor="middle" font-weight="normal" fill="#111" >10</text>
<text x="196.2" y="309.83" font-size="9.3" text-anchor="middle" font-weight="normal" fill="#111" >15</text>
<text x="126" y="319.83" font-size="9.3" text-anchor="middle" font-weight="normal" fill="#111" >Time (ms)</text>
<text x="0" y="0" font-size="9.7" text-anchor="middle" fill="#111" transform="translate(7.4,222.4) rotate(-90)">Power (dB)</text>
<text x="0.3" y="176.6" font-size="20" text-anchor="start" font-weight="bold" fill="#111" >c</text>
<line x1="276.39" y1="13.5" x2="276.39" y2="15.7" stroke="#111" stroke-width="0.8" />
<line x1="276.39" y1="151.3" x2="276.39" y2="149.1" stroke="#111" stroke-width="0.8" />
<line x1="282.81" y1="13.5" x2="282.81" y2="15.7" stroke="#111" stroke-width="0.8" />
<line x1="282.81" y1="151.3" x2="282.81" y2="149.1" stroke="#111" stroke-width="0.8" />
<line x1="288.24" y1="13.5" x2="288.24" y2="15.7" stroke="#111" stroke-width="0.8" />
<line x1="288.24" y1="151.3" x2="288.24" y2="149.1" stroke="#111" stroke-width="0.8" />
<line x1="292.94" y1="13.5" x2="292.94" y2="15.7" stroke="#111" stroke-width="0.8" />
<line x1="292.94" y1="151.3" x2="292.94" y2="149.1" stroke="#111" stroke-width="0.8" />
<line x1="297.09" y1="13.5" x2="297.09" y2="15.7" stroke="#111" stroke-width="0.8" />
<line x1="297.09" y1="151.3" x2="297.09" y2="149.1" stroke="#111" stroke-width="0.8" />
<line x1="300.8" y1="13.5" x2="300.8" y2="17.5" stroke="#111" stroke-width="0.8" />
<line x1="300.8" y1="151.3" x2="300.8" y2="147.3" stroke="#111" stroke-width="0.8" />
<line x1="325.21" y1="13.5" x2="325.21" y2="15.7" stroke="#111" stroke-width="0.8" />
<line x1="325.21" y1="151.3" x2="325.21" y2="149.1" stroke="#111" stroke-width="0.8" />
<line x1="339.49" y1="13.5" x2="339.49" y2="15.7" stroke="#111" stroke-width="0.8" />
<line x1="339.49" y1="151.3" x2="339.49" y2="149.1" stroke="#111" stroke-width="0.8" />
<line x1="349.63" y1="13.5" x2="349.63" y2="15.7" stroke="#111" stroke-width="0.8" />
<line x1="349.63" y1="151.3" x2="349.63" y2="149.1" stroke="#111" stroke-width="0.8" />
<line x1="357.49" y1="13.5" x2="357.49" y2="15.7" stroke="#111" stroke-width="0.8" />
<line x1="357.49" y1="151.3" x2="357.49" y2="149.1" stroke="#111" stroke-width="0.8" />
<line x1="363.91" y1="13.5" x2="363.91" y2="15.7" stroke="#111" stroke-width="0.8" />
<line x1="363.91" y1="151.3" x2="363.91" y2="149.1" stroke="#111" stroke-width="0.8" />
<line x1="369.34" y1="13.5" x2="369.34" y2="15.7" stroke="#111" stroke-width="0.8" />
<line x1="369.34" y1="151.3" x2="369.34" y2="149.1" stroke="#111" stroke-width="0.8" />
<line x1="374.04" y1="13.5" x2="374.04" y2="15.7" stroke="#111" stroke-width="0.8" />
<line x1="374.04" y1="151.3" x2="374.04" y2="149.1" stroke="#111" stroke-width="0.8" />
<line x1="378.19" y1="13.5" x2="378.19" y2="15.7" stroke="#111" stroke-width="0.8" />
<line x1="378.19" y1="151.3" x2="378.19" y2="149.1" stroke="#111" stroke-width="0.8" />
<line x1="381.9" y1="13.5" x2="381.9" y2="17.5" stroke="#111" stroke-width="0.8" />
<line x1="381.9" y1="151.3" x2="381.9" y2="147.3" stroke="#111" stroke-width="0.8" />
<line x1="406.31" y1="13.5" x2="406.31" y2="15.7" stroke="#111" stroke-width="0.8" />
<line x1="406.31" y1="151.3" x2="406.31" y2="149.1" stroke="#111" stroke-width="0.8" />
<line x1="420.59" y1="13.5" x2="420.59" y2="15.7" stroke="#111" stroke-width="0.8" />
<line x1="420.59" y1="151.3" x2="420.59" y2="149.1" stroke="#111" stroke-width="0.8" />
<line x1="430.73" y1="13.5" x2="430.73" y2="15.7" stroke="#111" stroke-width="0.8" />
<line x1="430.73" y1="151.3" x2="430.73" y2="149.1" stroke="#111" stroke-width="0.8" />
<line x1="438.59" y1="13.5" x2="438.59" y2="15.7" stroke="#111" stroke-width="0.8" />
<line x1="438.59" y1="151.3" x2="438.59" y2="149.1" stroke="#111" stroke-width="0.8" />
<line x1="445.01" y1="13.5" x2="445.01" y2="15.7" stroke="#111" stroke-width="0.8" />
<line x1="445.01" y1="151.3" x2="445.01" y2="149.1" stroke="#111" stroke-width="0.8" />
<line x1="450.44" y1="13.5" x2="450.44" y2="15.7" stroke="#111" stroke-width="0.8" />
<line x1="450.44" y1="151.3" x2="450.44" y2="149.1" stroke="#111" stroke-width="0.8" />
<line x1="455.14" y1="13.5" x2="455.14" y2="15.7" stroke="#111" stroke-width="0.8" />
<line x1="455.14" y1="151.3" x2="455.14" y2="149.1" stroke="#111" stroke-width="0.8" />
<line x1="459.29" y1="13.5" x2="459.29" y2="15.7" stroke="#111" stroke-width="0.8" />
<line x1="459.29" y1="151.3" x2="459.29" y2="149.1" stroke="#111" stroke-width="0.8" />
<line x1="268.6" y1="143.71" x2="270.8" y2="143.71" stroke="#111" stroke-width="0.8" />
<line x1="462.4" y1="143.71" x2="460.2" y2="143.71" stroke="#111" stroke-width="0.8" />
<line x1="268.6" y1="137.11" x2="270.8" y2="137.11" stroke="#111" stroke-width="0.8" />
<line x1="462.4" y1="137.11" x2="460.2" y2="137.11" stroke="#111" stroke-width="0.8" />
<line x1="268.6" y1="131.99" x2="270.8" y2="131.99" stroke="#111" stroke-width="0.8" />
<line x1="462.4" y1="131.99" x2="460.2" y2="131.99" stroke="#111" stroke-width="0.8" />
<line x1="268.6" y1="127.81" x2="270.8" y2="127.81" stroke="#111" stroke-width="0.8" />
<line x1="462.4" y1="127.81" x2="460.2" y2="127.81" stroke="#111" stroke-width="0.8" />
<line x1="268.6" y1="124.28" x2="270.8" y2="124.28" stroke="#111" stroke-width="0.8" />
<line x1="462.4" y1="124.28" x2="460.2" y2="124.28" stroke="#111" stroke-width="0.8" />
<line x1="268.6" y1="121.22" x2="270.8" y2="121.22" stroke="#111" stroke-width="0.8" />
<line x1="462.4" y1="121.22" x2="460.2" y2="121.22" stroke="#111" stroke-width="0.8" />
<line x1="268.6" y1="118.52" x2="270.8" y2="118.52" stroke="#111" stroke-width="0.8" />
<line x1="462.4" y1="118.52" x2="460.2" y2="118.52" stroke="#111" stroke-width="0.8" />
<line x1="268.6" y1="116.1" x2="272.6" y2="116.1" stroke="#111" stroke-width="0.8" />
<line x1="462.4" y1="116.1" x2="458.4" y2="116.1" stroke="#111" stroke-width="0.8" />
<line x1="268.6" y1="100.21" x2="270.8" y2="100.21" stroke="#111" stroke-width="0.8" />
<line x1="462.4" y1="100.21" x2="460.2" y2="100.21" stroke="#111" stroke-width="0.8" />
<line x1="268.6" y1="90.91" x2="270.8" y2="90.91" stroke="#111" stroke-width="0.8" />
<line x1="462.4" y1="90.91" x2="460.2" y2="90.91" stroke="#111" stroke-width="0.8" />
<line x1="268.6" y1="84.31" x2="270.8" y2="84.31" stroke="#111" stroke-width="0.8" />
<line x1="462.4" y1="84.31" x2="460.2" y2="84.31" stroke="#111" stroke-width="0.8" />
<line x1="268.6" y1="79.19" x2="270.8" y2="79.19" stroke="#111" stroke-width="0.8" />
<line x1="462.4" y1="79.19" x2="460.2" y2="79.19" stroke="#111" stroke-width="0.8" />
<line x1="268.6" y1="75.01" x2="270.8" y2="75.01" stroke="#111" stroke-width="0.8" />
<line x1="462.4" y1="75.01" x2="460.2" y2="75.01" stroke="#111" stroke-width="0.8" />
<line x1="268.6" y1="71.48" x2="270.8" y2="71.48" stroke="#111" stroke-width="0.8" />
<line x1="462.4" y1="71.48" x2="460.2" y2="71.48" stroke="#111" stroke-width="0.8" />
<line x1="268.6" y1="68.42" x2="270.8" y2="68.42" stroke="#111" stroke-width="0.8" />
<line x1="462.4" y1="68.42" x2="460.2" y2="68.42" stroke="#111" stroke-width="0.8" />
<line x1="268.6" y1="65.72" x2="270.8" y2="65.72" stroke="#111" stroke-width="0.8" />
<line x1="462.4" y1="65.72" x2="460.2" y2="65.72" stroke="#111" stroke-width="0.8" />
<line x1="268.6" y1="63.3" x2="272.6" y2="63.3" stroke="#111" stroke-width="0.8" />
<line x1="462.4" y1="63.3" x2="458.4" y2="63.3" stroke="#111" stroke-width="0.8" />
<line x1="268.6" y1="47.41" x2="270.8" y2="47.41" stroke="#111" stroke-width="0.8" />
<line x1="462.4" y1="47.41" x2="460.2" y2="47.41" stroke="#111" stroke-width="0.8" />
<line x1="268.6" y1="38.11" x2="270.8" y2="38.11" stroke="#111" stroke-width="0.8" />
<line x1="462.4" y1="38.11" x2="460.2" y2="38.11" stroke="#111" stroke-width="0.8" />
<line x1="268.6" y1="31.51" x2="270.8" y2="31.51" stroke="#111" stroke-width="0.8" />
<line x1="462.4" y1="31.51" x2="460.2" y2="31.51" stroke="#111" stroke-width="0.8" />
<line x1="268.6" y1="26.39" x2="270.8" y2="26.39" stroke="#111" stroke-width="0.8" />
<line x1="462.4" y1="26.39" x2="460.2" y2="26.39" stroke="#111" stroke-width="0.8" />
<line x1="268.6" y1="22.21" x2="270.8" y2="22.21" stroke="#111" stroke-width="0.8" />
<line x1="462.4" y1="22.21" x2="460.2" y2="22.21" stroke="#111" stroke-width="0.8" />
<line x1="268.6" y1="18.68" x2="270.8" y2="18.68" stroke="#111" stroke-width="0.8" />
<line x1="462.4" y1="18.68" x2="460.2" y2="18.68" stroke="#111" stroke-width="0.8" />
<line x1="268.6" y1="15.62" x2="270.8" y2="15.62" stroke="#111" stroke-width="0.8" />
<line x1="462.4" y1="15.62" x2="460.2" y2="15.62" stroke="#111" stroke-width="0.8" />
<rect x="268.6" y="13.5" width="193.8" height="137.8" stroke="#111" stroke-width="1.0" fill="none" />
<circle cx="293.1" cy="38.1" r="3.55" stroke="#111" stroke-width="1.75" fill="none"/>
<circle cx="299" cy="56.7" r="3.55" stroke="#1ae81a" stroke-width="1.75" fill="none"/>
<circle cx="298.7" cy="64.8" r="3.55" stroke="#ff1a1a" stroke-width="1.75" fill="none"/>
<circle cx="301.6" cy="66.2" r="3.55" stroke="#1a1aff" stroke-width="1.75" fill="none"/>
<circle cx="313.1" cy="82.8" r="3.55" stroke="#1af0f0" stroke-width="1.75" fill="none"/>
<circle cx="325.9" cy="75.8" r="3.55" stroke="#111" stroke-width="1.75" fill="none"/>
<circle cx="335.6" cy="67" r="3.55" stroke="#ff1a1a" stroke-width="1.75" fill="none"/>
<circle cx="335.2" cy="78" r="3.55" stroke="#1ae81a" stroke-width="1.75" fill="none"/>
<circle cx="341.5" cy="79.8" r="3.55" stroke="#1a1aff" stroke-width="1.75" fill="none"/>
<circle cx="359.7" cy="79.6" r="3.55" stroke="#1ae81a" stroke-width="1.75" fill="none"/>
<circle cx="359.7" cy="91.3" r="3.55" stroke="#ff1a1a" stroke-width="1.75" fill="none"/>
<circle cx="348.4" cy="101.3" r="3.55" stroke="#111" stroke-width="1.75" fill="none"/>
<circle cx="372.6" cy="101" r="3.55" stroke="#111" stroke-width="1.75" fill="none"/>
<circle cx="369" cy="105.3" r="3.55" stroke="#1a1aff" stroke-width="1.75" fill="none"/>
<circle cx="356.5" cy="109.6" r="3.55" stroke="#1af0f0" stroke-width="1.75" fill="none"/>
<circle cx="380.5" cy="93.4" r="3.55" stroke="#1ae81a" stroke-width="1.75" fill="none"/>
<circle cx="381.4" cy="106.2" r="3.55" stroke="#ff1a1a" stroke-width="1.75" fill="none"/>
<circle cx="397.9" cy="99.4" r="3.55" stroke="#1ae81a" stroke-width="1.75" fill="none"/>
<circle cx="388.7" cy="114.1" r="3.55" stroke="#111" stroke-width="1.75" fill="none"/>
<circle cx="385.6" cy="118.4" r="3.55" stroke="#1af0f0" stroke-width="1.75" fill="none"/>
<circle cx="390.6" cy="117.8" r="3.55" stroke="#1a1aff" stroke-width="1.75" fill="none"/>
<circle cx="397.9" cy="114.5" r="3.55" stroke="#ff1a1a" stroke-width="1.75" fill="none"/>
<circle cx="408.4" cy="106.8" r="3.55" stroke="#1af0f0" stroke-width="1.75" fill="none"/>
<circle cx="409.9" cy="110.1" r="3.55" stroke="#1ae81a" stroke-width="1.75" fill="none"/>
<circle cx="410.8" cy="116" r="3.55" stroke="#ff1a1a" stroke-width="1.75" fill="none"/>
<circle cx="407.5" cy="118.4" r="3.55" stroke="#1a1aff" stroke-width="1.75" fill="none"/>
<circle cx="420.9" cy="114.5" r="3.55" stroke="#1a1aff" stroke-width="1.75" fill="none"/>
<circle cx="423.1" cy="119.1" r="3.55" stroke="#1ae81a" stroke-width="1.75" fill="none"/>
<circle cx="432.9" cy="113.6" r="3.55" stroke="#1ae81a" stroke-width="1.75" fill="none"/>
<circle cx="439.9" cy="114.5" r="3.55" stroke="#1ae81a" stroke-width="1.75" fill="none"/>
<circle cx="400.7" cy="123.7" r="3.55" stroke="#111" stroke-width="1.75" fill="none"/>
<circle cx="410.4" cy="127.6" r="3.55" stroke="#111" stroke-width="1.75" fill="none"/>
<circle cx="420.4" cy="132.9" r="3.55" stroke="#111" stroke-width="1.75" fill="none"/>
<circle cx="428.8" cy="132" r="3.55" stroke="#111" stroke-width="1.75" fill="none"/>
<circle cx="431.9" cy="127.9" r="3.55" stroke="#1a1aff" stroke-width="1.75" fill="none"/>
<circle cx="436.5" cy="138" r="3.55" stroke="#111" stroke-width="1.75" fill="none"/>
<circle cx="443.5" cy="143.6" r="3.55" stroke="#111" stroke-width="1.75" fill="none"/>
<rect x="397.4" y="17.8" width="60.9" height="61.1" stroke="#111" stroke-width="0.9" fill="#fff" />
<circle cx="409.5" cy="24.4" r="3.55" stroke="#111" stroke-width="1.75" fill="none"/>
<text x="423" y="27.73" font-size="9.3" text-anchor="start" font-weight="normal" fill="#111" >21.5mm</text>
<circle cx="409.5" cy="36.37" r="3.55" stroke="#ff1a1a" stroke-width="1.75" fill="none"/>
<text x="423" y="39.7" font-size="9.3" text-anchor="start" font-weight="normal" fill="#111" >18mm</text>
<circle cx="409.5" cy="48.34" r="3.55" stroke="#1ae81a" stroke-width="1.75" fill="none"/>
<text x="423" y="51.67" font-size="9.3" text-anchor="start" font-weight="normal" fill="#111" >20mm</text>
<circle cx="409.5" cy="60.31" r="3.55" stroke="#1a1aff" stroke-width="1.75" fill="none"/>
<text x="423" y="63.64" font-size="9.3" text-anchor="start" font-weight="normal" fill="#111" >15mm</text>
<circle cx="409.5" cy="72.28" r="3.55" stroke="#1af0f0" stroke-width="1.75" fill="none"/>
<text x="423" y="75.61" font-size="9.3" text-anchor="start" font-weight="normal" fill="#111" >12mm</text>
<text x="263.8" y="66.63" font-size="9.3" text-anchor="end" fill="#111">10<tspan font-size="6.70" dy="-3.91">-1</tspan></text>
<text x="263.8" y="119.43" font-size="9.3" text-anchor="end" fill="#111">10<tspan font-size="6.70" dy="-3.91">-2</tspan></text>
<text x="0" y="0" font-size="9.2" text-anchor="middle" fill="#111" transform="translate(243.6,83) rotate(-90)">Damping ratio</text>
<text x="240.3" y="14.9" font-size="20" text-anchor="start" font-weight="bold" fill="#111" >b</text>
<line x1="276.39" y1="157.9" x2="276.39" y2="160.1" stroke="#111" stroke-width="0.8" />
<line x1="276.39" y1="297.3" x2="276.39" y2="295.1" stroke="#111" stroke-width="0.8" />
<line x1="282.81" y1="157.9" x2="282.81" y2="160.1" stroke="#111" stroke-width="0.8" />
<line x1="282.81" y1="297.3" x2="282.81" y2="295.1" stroke="#111" stroke-width="0.8" />
<line x1="288.24" y1="157.9" x2="288.24" y2="160.1" stroke="#111" stroke-width="0.8" />
<line x1="288.24" y1="297.3" x2="288.24" y2="295.1" stroke="#111" stroke-width="0.8" />
<line x1="292.94" y1="157.9" x2="292.94" y2="160.1" stroke="#111" stroke-width="0.8" />
<line x1="292.94" y1="297.3" x2="292.94" y2="295.1" stroke="#111" stroke-width="0.8" />
<line x1="297.09" y1="157.9" x2="297.09" y2="160.1" stroke="#111" stroke-width="0.8" />
<line x1="297.09" y1="297.3" x2="297.09" y2="295.1" stroke="#111" stroke-width="0.8" />
<line x1="300.8" y1="157.9" x2="300.8" y2="161.9" stroke="#111" stroke-width="0.8" />
<line x1="300.8" y1="297.3" x2="300.8" y2="293.3" stroke="#111" stroke-width="0.8" />
<line x1="325.21" y1="157.9" x2="325.21" y2="160.1" stroke="#111" stroke-width="0.8" />
<line x1="325.21" y1="297.3" x2="325.21" y2="295.1" stroke="#111" stroke-width="0.8" />
<line x1="339.49" y1="157.9" x2="339.49" y2="160.1" stroke="#111" stroke-width="0.8" />
<line x1="339.49" y1="297.3" x2="339.49" y2="295.1" stroke="#111" stroke-width="0.8" />
<line x1="349.63" y1="157.9" x2="349.63" y2="160.1" stroke="#111" stroke-width="0.8" />
<line x1="349.63" y1="297.3" x2="349.63" y2="295.1" stroke="#111" stroke-width="0.8" />
<line x1="357.49" y1="157.9" x2="357.49" y2="160.1" stroke="#111" stroke-width="0.8" />
<line x1="357.49" y1="297.3" x2="357.49" y2="295.1" stroke="#111" stroke-width="0.8" />
<line x1="363.91" y1="157.9" x2="363.91" y2="160.1" stroke="#111" stroke-width="0.8" />
<line x1="363.91" y1="297.3" x2="363.91" y2="295.1" stroke="#111" stroke-width="0.8" />
<line x1="369.34" y1="157.9" x2="369.34" y2="160.1" stroke="#111" stroke-width="0.8" />
<line x1="369.34" y1="297.3" x2="369.34" y2="295.1" stroke="#111" stroke-width="0.8" />
<line x1="374.04" y1="157.9" x2="374.04" y2="160.1" stroke="#111" stroke-width="0.8" />
<line x1="374.04" y1="297.3" x2="374.04" y2="295.1" stroke="#111" stroke-width="0.8" />
<line x1="378.19" y1="157.9" x2="378.19" y2="160.1" stroke="#111" stroke-width="0.8" />
<line x1="378.19" y1="297.3" x2="378.19" y2="295.1" stroke="#111" stroke-width="0.8" />
<line x1="381.9" y1="157.9" x2="381.9" y2="161.9" stroke="#111" stroke-width="0.8" />
<line x1="381.9" y1="297.3" x2="381.9" y2="293.3" stroke="#111" stroke-width="0.8" />
<line x1="406.31" y1="157.9" x2="406.31" y2="160.1" stroke="#111" stroke-width="0.8" />
<line x1="406.31" y1="297.3" x2="406.31" y2="295.1" stroke="#111" stroke-width="0.8" />
<line x1="420.59" y1="157.9" x2="420.59" y2="160.1" stroke="#111" stroke-width="0.8" />
<line x1="420.59" y1="297.3" x2="420.59" y2="295.1" stroke="#111" stroke-width="0.8" />
<line x1="430.73" y1="157.9" x2="430.73" y2="160.1" stroke="#111" stroke-width="0.8" />
<line x1="430.73" y1="297.3" x2="430.73" y2="295.1" stroke="#111" stroke-width="0.8" />
<line x1="438.59" y1="157.9" x2="438.59" y2="160.1" stroke="#111" stroke-width="0.8" />
<line x1="438.59" y1="297.3" x2="438.59" y2="295.1" stroke="#111" stroke-width="0.8" />
<line x1="445.01" y1="157.9" x2="445.01" y2="160.1" stroke="#111" stroke-width="0.8" />
<line x1="445.01" y1="297.3" x2="445.01" y2="295.1" stroke="#111" stroke-width="0.8" />
<line x1="450.44" y1="157.9" x2="450.44" y2="160.1" stroke="#111" stroke-width="0.8" />
<line x1="450.44" y1="297.3" x2="450.44" y2="295.1" stroke="#111" stroke-width="0.8" />
<line x1="455.14" y1="157.9" x2="455.14" y2="160.1" stroke="#111" stroke-width="0.8" />
<line x1="455.14" y1="297.3" x2="455.14" y2="295.1" stroke="#111" stroke-width="0.8" />
<line x1="459.29" y1="157.9" x2="459.29" y2="160.1" stroke="#111" stroke-width="0.8" />
<line x1="459.29" y1="297.3" x2="459.29" y2="295.1" stroke="#111" stroke-width="0.8" />
<line x1="268.6" y1="288.61" x2="270.8" y2="288.61" stroke="#111" stroke-width="0.8" />
<line x1="462.4" y1="288.61" x2="460.2" y2="288.61" stroke="#111" stroke-width="0.8" />
<line x1="268.6" y1="282.01" x2="270.8" y2="282.01" stroke="#111" stroke-width="0.8" />
<line x1="462.4" y1="282.01" x2="460.2" y2="282.01" stroke="#111" stroke-width="0.8" />
<line x1="268.6" y1="276.89" x2="270.8" y2="276.89" stroke="#111" stroke-width="0.8" />
<line x1="462.4" y1="276.89" x2="460.2" y2="276.89" stroke="#111" stroke-width="0.8" />
<line x1="268.6" y1="272.71" x2="270.8" y2="272.71" stroke="#111" stroke-width="0.8" />
<line x1="462.4" y1="272.71" x2="460.2" y2="272.71" stroke="#111" stroke-width="0.8" />
<line x1="268.6" y1="269.18" x2="270.8" y2="269.18" stroke="#111" stroke-width="0.8" />
<line x1="462.4" y1="269.18" x2="460.2" y2="269.18" stroke="#111" stroke-width="0.8" />
<line x1="268.6" y1="266.12" x2="270.8" y2="266.12" stroke="#111" stroke-width="0.8" />
<line x1="462.4" y1="266.12" x2="460.2" y2="266.12" stroke="#111" stroke-width="0.8" />
<line x1="268.6" y1="263.42" x2="270.8" y2="263.42" stroke="#111" stroke-width="0.8" />
<line x1="462.4" y1="263.42" x2="460.2" y2="263.42" stroke="#111" stroke-width="0.8" />
<line x1="268.6" y1="261" x2="272.6" y2="261" stroke="#111" stroke-width="0.8" />
<line x1="462.4" y1="261" x2="458.4" y2="261" stroke="#111" stroke-width="0.8" />
<line x1="268.6" y1="245.11" x2="270.8" y2="245.11" stroke="#111" stroke-width="0.8" />
<line x1="462.4" y1="245.11" x2="460.2" y2="245.11" stroke="#111" stroke-width="0.8" />
<line x1="268.6" y1="235.81" x2="270.8" y2="235.81" stroke="#111" stroke-width="0.8" />
<line x1="462.4" y1="235.81" x2="460.2" y2="235.81" stroke="#111" stroke-width="0.8" />
<line x1="268.6" y1="229.21" x2="270.8" y2="229.21" stroke="#111" stroke-width="0.8" />
<line x1="462.4" y1="229.21" x2="460.2" y2="229.21" stroke="#111" stroke-width="0.8" />
<line x1="268.6" y1="224.09" x2="270.8" y2="224.09" stroke="#111" stroke-width="0.8" />
<line x1="462.4" y1="224.09" x2="460.2" y2="224.09" stroke="#111" stroke-width="0.8" />
<line x1="268.6" y1="219.91" x2="270.8" y2="219.91" stroke="#111" stroke-width="0.8" />
<line x1="462.4" y1="219.91" x2="460.2" y2="219.91" stroke="#111" stroke-width="0.8" />
<line x1="268.6" y1="216.38" x2="270.8" y2="216.38" stroke="#111" stroke-width="0.8" />
<line x1="462.4" y1="216.38" x2="460.2" y2="216.38" stroke="#111" stroke-width="0.8" />
<line x1="268.6" y1="213.32" x2="270.8" y2="213.32" stroke="#111" stroke-width="0.8" />
<line x1="462.4" y1="213.32" x2="460.2" y2="213.32" stroke="#111" stroke-width="0.8" />
<line x1="268.6" y1="210.62" x2="270.8" y2="210.62" stroke="#111" stroke-width="0.8" />
<line x1="462.4" y1="210.62" x2="460.2" y2="210.62" stroke="#111" stroke-width="0.8" />
<line x1="268.6" y1="208.2" x2="272.6" y2="208.2" stroke="#111" stroke-width="0.8" />
<line x1="462.4" y1="208.2" x2="458.4" y2="208.2" stroke="#111" stroke-width="0.8" />
<line x1="268.6" y1="192.31" x2="270.8" y2="192.31" stroke="#111" stroke-width="0.8" />
<line x1="462.4" y1="192.31" x2="460.2" y2="192.31" stroke="#111" stroke-width="0.8" />
<line x1="268.6" y1="183.01" x2="270.8" y2="183.01" stroke="#111" stroke-width="0.8" />
<line x1="462.4" y1="183.01" x2="460.2" y2="183.01" stroke="#111" stroke-width="0.8" />
<line x1="268.6" y1="176.41" x2="270.8" y2="176.41" stroke="#111" stroke-width="0.8" />
<line x1="462.4" y1="176.41" x2="460.2" y2="176.41" stroke="#111" stroke-width="0.8" />
<line x1="268.6" y1="171.29" x2="270.8" y2="171.29" stroke="#111" stroke-width="0.8" />
<line x1="462.4" y1="171.29" x2="460.2" y2="171.29" stroke="#111" stroke-width="0.8" />
<line x1="268.6" y1="167.11" x2="270.8" y2="167.11" stroke="#111" stroke-width="0.8" />
<line x1="462.4" y1="167.11" x2="460.2" y2="167.11" stroke="#111" stroke-width="0.8" />
<line x1="268.6" y1="163.58" x2="270.8" y2="163.58" stroke="#111" stroke-width="0.8" />
<line x1="462.4" y1="163.58" x2="460.2" y2="163.58" stroke="#111" stroke-width="0.8" />
<line x1="268.6" y1="160.52" x2="270.8" y2="160.52" stroke="#111" stroke-width="0.8" />
<line x1="462.4" y1="160.52" x2="460.2" y2="160.52" stroke="#111" stroke-width="0.8" />
<rect x="268.6" y="157.9" width="193.8" height="139.4" stroke="#111" stroke-width="1.0" fill="none" />
<path d="M288.4,180.49 L297.6,180.49 L293,188.31 Z" stroke="#ff1a1a" stroke-width="1.8" fill="none" stroke-linejoin="miter"/>
<path d="M321.5,218.29 L330.7,218.29 L326.1,226.11 Z" stroke="#ff1a1a" stroke-width="1.8" fill="none" stroke-linejoin="miter"/>
<path d="M344.2,243.39 L353.4,243.39 L348.8,251.21 Z" stroke="#ff1a1a" stroke-width="1.8" fill="none" stroke-linejoin="miter"/>
<path d="M367.6,243.39 L376.8,243.39 L372.2,251.21 Z" stroke="#ff1a1a" stroke-width="1.8" fill="none" stroke-linejoin="miter"/>
<path d="M384.2,257.29 L393.4,257.29 L388.8,265.11 Z" stroke="#ff1a1a" stroke-width="1.8" fill="none" stroke-linejoin="miter"/>
<path d="M396.1,265.19 L405.3,265.19 L400.7,273.01 Z" stroke="#ff1a1a" stroke-width="1.8" fill="none" stroke-linejoin="miter"/>
<path d="M406.2,269.19 L415.4,269.19 L410.8,277.01 Z" stroke="#ff1a1a" stroke-width="1.8" fill="none" stroke-linejoin="miter"/>
<path d="M415.5,274.49 L424.7,274.49 L420.1,282.31 Z" stroke="#ff1a1a" stroke-width="1.8" fill="none" stroke-linejoin="miter"/>
<path d="M426,273.69 L435.2,273.69 L430.6,281.51 Z" stroke="#ff1a1a" stroke-width="1.8" fill="none" stroke-linejoin="miter"/>
<path d="M432.3,280.09 L441.5,280.09 L436.9,287.91 Z" stroke="#ff1a1a" stroke-width="1.8" fill="none" stroke-linejoin="miter"/>
<path d="M439.3,285.99 L448.5,285.99 L443.9,293.81 Z" stroke="#ff1a1a" stroke-width="1.8" fill="none" stroke-linejoin="miter"/>
<circle cx="278.2" cy="178" r="3.55" stroke="#111" stroke-width="1.75" fill="none"/>
<circle cx="313.2" cy="213.8" r="3.55" stroke="#111" stroke-width="1.75" fill="none"/>
<circle cx="340.9" cy="220" r="3.55" stroke="#111" stroke-width="1.75" fill="none"/>
<circle cx="361" cy="235.7" r="3.55" stroke="#111" stroke-width="1.75" fill="none"/>
<circle cx="377.1" cy="239.6" r="3.55" stroke="#111" stroke-width="1.75" fill="none"/>
<circle cx="389.4" cy="238.5" r="3.55" stroke="#111" stroke-width="1.75" fill="none"/>
<circle cx="400.7" cy="246.7" r="3.55" stroke="#111" stroke-width="1.75" fill="none"/>
<circle cx="410.2" cy="249.7" r="3.55" stroke="#111" stroke-width="1.75" fill="none"/>
<circle cx="418.7" cy="263.6" r="3.55" stroke="#111" stroke-width="1.75" fill="none"/>
<circle cx="433" cy="265" r="3.55" stroke="#111" stroke-width="1.75" fill="none"/>
<circle cx="439.3" cy="269.1" r="3.55" stroke="#111" stroke-width="1.75" fill="none"/>
<circle cx="425" cy="276.4" r="3.55" stroke="#111" stroke-width="1.75" fill="none"/>
<rect x="389.6" y="162.6" width="69.4" height="25" stroke="#111" stroke-width="0.9" fill="#fff" />
<path d="M397.2,166.49 L406.4,166.49 L401.8,174.31 Z" stroke="#ff1a1a" stroke-width="1.8" fill="none" stroke-linejoin="miter"/>
<circle cx="401.8" cy="181.7" r="3.55" stroke="#111" stroke-width="1.75" fill="none"/>
<text x="415" y="173.33" font-size="9.3" text-anchor="start" font-weight="normal" fill="#111" >Mouse C1</text>
<text x="415" y="184.93" font-size="9.3" text-anchor="start" font-weight="normal" fill="#111" >Rat B1</text>
<text x="263.8" y="211.53" font-size="9.3" text-anchor="end" fill="#111">10<tspan font-size="6.70" dy="-3.91">-1</tspan></text>
<text x="263.8" y="264.33" font-size="9.3" text-anchor="end" fill="#111">10<tspan font-size="6.70" dy="-3.91">-2</tspan></text>
<text x="0" y="0" font-size="9.2" text-anchor="middle" fill="#111" transform="translate(243.6,228) rotate(-90)">Damping ratio</text>
<text x="300.8" y="309.83" font-size="9.3" text-anchor="middle" font-weight="normal" fill="#111" >100</text>
<text x="381.9" y="309.83" font-size="9.3" text-anchor="middle" font-weight="normal" fill="#111" >1k</text>
<text x="463" y="309.83" font-size="9.3" text-anchor="middle" font-weight="normal" fill="#111" >10k</text>
<text x="365.4" y="320.53" font-size="9.3" text-anchor="middle" font-weight="normal" fill="#111" >Natural frequency (Hz)</text>
<text x="240.6" y="176.8" font-size="20" text-anchor="start" font-weight="bold" fill="#111" >d</text>
<line x1="516.25" y1="13.2" x2="516.25" y2="17.2" stroke="#111" stroke-width="0.8" />
<line x1="516.25" y1="299.2" x2="516.25" y2="295.2" stroke="#111" stroke-width="0.8" />
<line x1="533.1" y1="13.2" x2="533.1" y2="15.7" stroke="#111" stroke-width="0.8" />
<line x1="533.1" y1="299.2" x2="533.1" y2="296.7" stroke="#111" stroke-width="0.8" />
<line x1="549.95" y1="13.2" x2="549.95" y2="17.2" stroke="#111" stroke-width="0.8" />
<line x1="549.95" y1="299.2" x2="549.95" y2="295.2" stroke="#111" stroke-width="0.8" />
<line x1="566.8" y1="13.2" x2="566.8" y2="15.7" stroke="#111" stroke-width="0.8" />
<line x1="566.8" y1="299.2" x2="566.8" y2="296.7" stroke="#111" stroke-width="0.8" />
<line x1="583.65" y1="13.2" x2="583.65" y2="17.2" stroke="#111" stroke-width="0.8" />
<line x1="583.65" y1="299.2" x2="583.65" y2="295.2" stroke="#111" stroke-width="0.8" />
<line x1="600.5" y1="13.2" x2="600.5" y2="15.7" stroke="#111" stroke-width="0.8" />
<line x1="600.5" y1="299.2" x2="600.5" y2="296.7" stroke="#111" stroke-width="0.8" />
<line x1="617.35" y1="13.2" x2="617.35" y2="17.2" stroke="#111" stroke-width="0.8" />
<line x1="617.35" y1="299.2" x2="617.35" y2="295.2" stroke="#111" stroke-width="0.8" />
<line x1="634.2" y1="13.2" x2="634.2" y2="15.7" stroke="#111" stroke-width="0.8" />
<line x1="634.2" y1="299.2" x2="634.2" y2="296.7" stroke="#111" stroke-width="0.8" />
<line x1="651.05" y1="13.2" x2="651.05" y2="17.2" stroke="#111" stroke-width="0.8" />
<line x1="651.05" y1="299.2" x2="651.05" y2="295.2" stroke="#111" stroke-width="0.8" />
<line x1="667.9" y1="13.2" x2="667.9" y2="15.7" stroke="#111" stroke-width="0.8" />
<line x1="667.9" y1="299.2" x2="667.9" y2="296.7" stroke="#111" stroke-width="0.8" />
<line x1="684.75" y1="13.2" x2="684.75" y2="17.2" stroke="#111" stroke-width="0.8" />
<line x1="684.75" y1="299.2" x2="684.75" y2="295.2" stroke="#111" stroke-width="0.8" />
<line x1="499.4" y1="295" x2="503.4" y2="295" stroke="#111" stroke-width="0.8" />
<line x1="701.6" y1="295" x2="697.6" y2="295" stroke="#111" stroke-width="0.8" />
<line x1="499.4" y1="265.77" x2="501.6" y2="265.77" stroke="#111" stroke-width="0.8" />
<line x1="701.6" y1="265.77" x2="699.4" y2="265.77" stroke="#111" stroke-width="0.8" />
<line x1="499.4" y1="248.67" x2="501.6" y2="248.67" stroke="#111" stroke-width="0.8" />
<line x1="701.6" y1="248.67" x2="699.4" y2="248.67" stroke="#111" stroke-width="0.8" />
<line x1="499.4" y1="236.54" x2="501.6" y2="236.54" stroke="#111" stroke-width="0.8" />
<line x1="701.6" y1="236.54" x2="699.4" y2="236.54" stroke="#111" stroke-width="0.8" />
<line x1="499.4" y1="227.13" x2="501.6" y2="227.13" stroke="#111" stroke-width="0.8" />
<line x1="701.6" y1="227.13" x2="699.4" y2="227.13" stroke="#111" stroke-width="0.8" />
<line x1="499.4" y1="219.44" x2="501.6" y2="219.44" stroke="#111" stroke-width="0.8" />
<line x1="701.6" y1="219.44" x2="699.4" y2="219.44" stroke="#111" stroke-width="0.8" />
<line x1="499.4" y1="212.94" x2="501.6" y2="212.94" stroke="#111" stroke-width="0.8" />
<line x1="701.6" y1="212.94" x2="699.4" y2="212.94" stroke="#111" stroke-width="0.8" />
<line x1="499.4" y1="207.31" x2="501.6" y2="207.31" stroke="#111" stroke-width="0.8" />
<line x1="701.6" y1="207.31" x2="699.4" y2="207.31" stroke="#111" stroke-width="0.8" />
<line x1="499.4" y1="202.34" x2="501.6" y2="202.34" stroke="#111" stroke-width="0.8" />
<line x1="701.6" y1="202.34" x2="699.4" y2="202.34" stroke="#111" stroke-width="0.8" />
<line x1="499.4" y1="197.9" x2="503.4" y2="197.9" stroke="#111" stroke-width="0.8" />
<line x1="701.6" y1="197.9" x2="697.6" y2="197.9" stroke="#111" stroke-width="0.8" />
<line x1="499.4" y1="168.67" x2="501.6" y2="168.67" stroke="#111" stroke-width="0.8" />
<line x1="701.6" y1="168.67" x2="699.4" y2="168.67" stroke="#111" stroke-width="0.8" />
<line x1="499.4" y1="151.57" x2="501.6" y2="151.57" stroke="#111" stroke-width="0.8" />
<line x1="701.6" y1="151.57" x2="699.4" y2="151.57" stroke="#111" stroke-width="0.8" />
<line x1="499.4" y1="139.44" x2="501.6" y2="139.44" stroke="#111" stroke-width="0.8" />
<line x1="701.6" y1="139.44" x2="699.4" y2="139.44" stroke="#111" stroke-width="0.8" />
<line x1="499.4" y1="130.03" x2="501.6" y2="130.03" stroke="#111" stroke-width="0.8" />
<line x1="701.6" y1="130.03" x2="699.4" y2="130.03" stroke="#111" stroke-width="0.8" />
<line x1="499.4" y1="122.34" x2="501.6" y2="122.34" stroke="#111" stroke-width="0.8" />
<line x1="701.6" y1="122.34" x2="699.4" y2="122.34" stroke="#111" stroke-width="0.8" />
<line x1="499.4" y1="115.84" x2="501.6" y2="115.84" stroke="#111" stroke-width="0.8" />
<line x1="701.6" y1="115.84" x2="699.4" y2="115.84" stroke="#111" stroke-width="0.8" />
<line x1="499.4" y1="110.21" x2="501.6" y2="110.21" stroke="#111" stroke-width="0.8" />
<line x1="701.6" y1="110.21" x2="699.4" y2="110.21" stroke="#111" stroke-width="0.8" />
<line x1="499.4" y1="105.24" x2="501.6" y2="105.24" stroke="#111" stroke-width="0.8" />
<line x1="701.6" y1="105.24" x2="699.4" y2="105.24" stroke="#111" stroke-width="0.8" />
<line x1="499.4" y1="100.8" x2="503.4" y2="100.8" stroke="#111" stroke-width="0.8" />
<line x1="701.6" y1="100.8" x2="697.6" y2="100.8" stroke="#111" stroke-width="0.8" />
<line x1="499.4" y1="71.57" x2="501.6" y2="71.57" stroke="#111" stroke-width="0.8" />
<line x1="701.6" y1="71.57" x2="699.4" y2="71.57" stroke="#111" stroke-width="0.8" />
<line x1="499.4" y1="54.47" x2="501.6" y2="54.47" stroke="#111" stroke-width="0.8" />
<line x1="701.6" y1="54.47" x2="699.4" y2="54.47" stroke="#111" stroke-width="0.8" />
<line x1="499.4" y1="42.34" x2="501.6" y2="42.34" stroke="#111" stroke-width="0.8" />
<line x1="701.6" y1="42.34" x2="699.4" y2="42.34" stroke="#111" stroke-width="0.8" />
<line x1="499.4" y1="32.93" x2="501.6" y2="32.93" stroke="#111" stroke-width="0.8" />
<line x1="701.6" y1="32.93" x2="699.4" y2="32.93" stroke="#111" stroke-width="0.8" />
<line x1="499.4" y1="25.24" x2="501.6" y2="25.24" stroke="#111" stroke-width="0.8" />
<line x1="701.6" y1="25.24" x2="699.4" y2="25.24" stroke="#111" stroke-width="0.8" />
<line x1="499.4" y1="18.74" x2="501.6" y2="18.74" stroke="#111" stroke-width="0.8" />
<line x1="701.6" y1="18.74" x2="699.4" y2="18.74" stroke="#111" stroke-width="0.8" />
<g clip-path="url(#clipE)">
<path d="M525.3,13.2 L532.8,69.3 L549.9,77.2 L567.2,85.2 L584,76.2 L601.4,90.5 L618.3,80 L635.2,71 L651.8,63.5 L668.2,57.3 L684.5,48.8 L701.6,31" stroke="#111" stroke-width="1.3" fill="none" stroke-linejoin="round" stroke-linecap="round" stroke-dasharray="5 4" style="stroke-linecap:butt"/>
<path d="M526.3,13.2 L532.4,49.2 L549.9,61 L567.2,72.8 L584.6,68.6 L601.4,91 L618.3,94.8 L635.2,97.5 L651.8,100.1 L668.2,107 L684.5,112.5 L701.6,111" stroke="#ff1a1a" stroke-width="1.3" fill="none" stroke-linejoin="round" stroke-linecap="round" stroke-dasharray="5 4" style="stroke-linecap:butt"/>
<path d="M516.3,219.5 L533.2,171 L549.9,157.5 L566.9,131.7 L583.8,124.2 L600.5,105.5 L618.5,82.5 L635,70 L651.5,55 L667.8,38.1 L684.7,13.2" stroke="#111" stroke-width="1.3" fill="none" stroke-linejoin="round" stroke-linecap="round" />
<path d="M516.3,220.5 L533.2,171.6 L549.9,161.9 L566.9,141.9 L583.8,147.7 L600.5,130 L617.7,122.1 L634.5,119.8 L651.5,116.8 L668.1,115.7 L685.5,103.9 L701.6,105.4" stroke="#ff1a1a" stroke-width="1.3" fill="none" stroke-linejoin="round" stroke-linecap="round" />
</g>
<g clip-path="url(#clipE)">
<line x1="499.4" y1="255" x2="499.4" y2="275" stroke="#111" stroke-width="1.3" />
<line x1="497.2" y1="255" x2="501.6" y2="255" stroke="#111" stroke-width="1.3" />
<line x1="497.2" y1="275" x2="501.6" y2="275" stroke="#111" stroke-width="1.3" />
<line x1="516.25" y1="190.9" x2="516.25" y2="226.9" stroke="#111" stroke-width="1.3" />
<line x1="514.05" y1="190.9" x2="518.45" y2="190.9" stroke="#111" stroke-width="1.3" />
<line x1="514.05" y1="226.9" x2="518.45" y2="226.9" stroke="#111" stroke-width="1.3" />
<line x1="533.1" y1="160" x2="533.1" y2="194" stroke="#111" stroke-width="1.3" />
<line x1="530.9" y1="160" x2="535.3" y2="160" stroke="#111" stroke-width="1.3" />
<line x1="530.9" y1="194" x2="535.3" y2="194" stroke="#111" stroke-width="1.3" />
<line x1="549.95" y1="143.3" x2="549.95" y2="177.4" stroke="#111" stroke-width="1.3" />
<line x1="547.75" y1="143.3" x2="552.15" y2="143.3" stroke="#111" stroke-width="1.3" />
<line x1="547.75" y1="177.4" x2="552.15" y2="177.4" stroke="#111" stroke-width="1.3" />
<line x1="566.8" y1="117.4" x2="566.8" y2="153.5" stroke="#111" stroke-width="1.3" />
<line x1="564.6" y1="117.4" x2="569" y2="117.4" stroke="#111" stroke-width="1.3" />
<line x1="564.6" y1="153.5" x2="569" y2="153.5" stroke="#111" stroke-width="1.3" />
<line x1="583.65" y1="102.1" x2="583.65" y2="138.2" stroke="#111" stroke-width="1.3" />
<line x1="581.45" y1="102.1" x2="585.85" y2="102.1" stroke="#111" stroke-width="1.3" />
<line x1="581.45" y1="138.2" x2="585.85" y2="138.2" stroke="#111" stroke-width="1.3" />
<line x1="600.5" y1="95.3" x2="600.5" y2="131" stroke="#111" stroke-width="1.3" />
<line x1="598.3" y1="95.3" x2="602.7" y2="95.3" stroke="#111" stroke-width="1.3" />
<line x1="598.3" y1="131" x2="602.7" y2="131" stroke="#111" stroke-width="1.3" />
<line x1="617.35" y1="85.4" x2="617.35" y2="121.2" stroke="#111" stroke-width="1.3" />
<line x1="615.15" y1="85.4" x2="619.55" y2="85.4" stroke="#111" stroke-width="1.3" />
<line x1="615.15" y1="121.2" x2="619.55" y2="121.2" stroke="#111" stroke-width="1.3" />
<line x1="634.2" y1="87.5" x2="634.2" y2="120.5" stroke="#111" stroke-width="1.3" />
<line x1="632" y1="87.5" x2="636.4" y2="87.5" stroke="#111" stroke-width="1.3" />
<line x1="632" y1="120.5" x2="636.4" y2="120.5" stroke="#111" stroke-width="1.3" />
<line x1="651.05" y1="75.6" x2="651.05" y2="111.5" stroke="#111" stroke-width="1.3" />
<line x1="648.85" y1="75.6" x2="653.25" y2="75.6" stroke="#111" stroke-width="1.3" />
<line x1="648.85" y1="111.5" x2="653.25" y2="111.5" stroke="#111" stroke-width="1.3" />
<line x1="667.9" y1="65.3" x2="667.9" y2="101.2" stroke="#111" stroke-width="1.3" />
<line x1="665.7" y1="65.3" x2="670.1" y2="65.3" stroke="#111" stroke-width="1.3" />
<line x1="665.7" y1="101.2" x2="670.1" y2="101.2" stroke="#111" stroke-width="1.3" />
<line x1="499.4" y1="271" x2="499.4" y2="299" stroke="#ff1a1a" stroke-width="1.3" />
<line x1="497.2" y1="271" x2="501.6" y2="271" stroke="#ff1a1a" stroke-width="1.3" />
<line x1="497.2" y1="299" x2="501.6" y2="299" stroke="#ff1a1a" stroke-width="1.3" />
<line x1="516.25" y1="206.2" x2="516.25" y2="232.5" stroke="#ff1a1a" stroke-width="1.3" />
<line x1="514.05" y1="206.2" x2="518.45" y2="206.2" stroke="#ff1a1a" stroke-width="1.3" />
<line x1="514.05" y1="232.5" x2="518.45" y2="232.5" stroke="#ff1a1a" stroke-width="1.3" />
<line x1="533.1" y1="195.2" x2="533.1" y2="221.5" stroke="#ff1a1a" stroke-width="1.3" />
<line x1="530.9" y1="195.2" x2="535.3" y2="195.2" stroke="#ff1a1a" stroke-width="1.3" />
<line x1="530.9" y1="221.5" x2="535.3" y2="221.5" stroke="#ff1a1a" stroke-width="1.3" />
<line x1="549.95" y1="165.4" x2="549.95" y2="191.8" stroke="#ff1a1a" stroke-width="1.3" />
<line x1="547.75" y1="165.4" x2="552.15" y2="165.4" stroke="#ff1a1a" stroke-width="1.3" />
<line x1="547.75" y1="191.8" x2="552.15" y2="191.8" stroke="#ff1a1a" stroke-width="1.3" />
<line x1="566.8" y1="158.2" x2="566.8" y2="184" stroke="#ff1a1a" stroke-width="1.3" />
<line x1="564.6" y1="158.2" x2="569" y2="158.2" stroke="#ff1a1a" stroke-width="1.3" />
<line x1="564.6" y1="184" x2="569" y2="184" stroke="#ff1a1a" stroke-width="1.3" />
<line x1="583.65" y1="160.5" x2="583.65" y2="186.5" stroke="#ff1a1a" stroke-width="1.3" />
<line x1="581.45" y1="160.5" x2="585.85" y2="160.5" stroke="#ff1a1a" stroke-width="1.3" />
<line x1="581.45" y1="186.5" x2="585.85" y2="186.5" stroke="#ff1a1a" stroke-width="1.3" />
<line x1="600.5" y1="145.6" x2="600.5" y2="171.4" stroke="#ff1a1a" stroke-width="1.3" />
<line x1="598.3" y1="145.6" x2="602.7" y2="145.6" stroke="#ff1a1a" stroke-width="1.3" />
<line x1="598.3" y1="171.4" x2="602.7" y2="171.4" stroke="#ff1a1a" stroke-width="1.3" />
<line x1="617.35" y1="139.6" x2="617.35" y2="165.7" stroke="#ff1a1a" stroke-width="1.3" />
<line x1="615.15" y1="139.6" x2="619.55" y2="139.6" stroke="#ff1a1a" stroke-width="1.3" />
<line x1="615.15" y1="165.7" x2="619.55" y2="165.7" stroke="#ff1a1a" stroke-width="1.3" />
<line x1="634.2" y1="113.7" x2="634.2" y2="139.9" stroke="#ff1a1a" stroke-width="1.3" />
<line x1="632" y1="113.7" x2="636.4" y2="113.7" stroke="#ff1a1a" stroke-width="1.3" />
<line x1="632" y1="139.9" x2="636.4" y2="139.9" stroke="#ff1a1a" stroke-width="1.3" />
<line x1="651.05" y1="91" x2="651.05" y2="116.8" stroke="#ff1a1a" stroke-width="1.3" />
<line x1="648.85" y1="91" x2="653.25" y2="91" stroke="#ff1a1a" stroke-width="1.3" />
<line x1="648.85" y1="116.8" x2="653.25" y2="116.8" stroke="#ff1a1a" stroke-width="1.3" />
<line x1="667.9" y1="111.5" x2="667.9" y2="138" stroke="#ff1a1a" stroke-width="1.3" />
<line x1="665.7" y1="111.5" x2="670.1" y2="111.5" stroke="#ff1a1a" stroke-width="1.3" />
<line x1="665.7" y1="138" x2="670.1" y2="138" stroke="#ff1a1a" stroke-width="1.3" />
<line x1="684.75" y1="103.9" x2="684.75" y2="129.9" stroke="#ff1a1a" stroke-width="1.3" />
<line x1="682.55" y1="103.9" x2="686.95" y2="103.9" stroke="#ff1a1a" stroke-width="1.3" />
<line x1="682.55" y1="129.9" x2="686.95" y2="129.9" stroke="#ff1a1a" stroke-width="1.3" />
<path d="M495.1,285.45 L503.7,285.45 L499.4,278.15 Z" stroke="#ff1a1a" stroke-width="1.4" fill="none" stroke-linejoin="miter"/>
<path d="M511.95,220.85 L520.55,220.85 L516.25,213.54 Z" stroke="#ff1a1a" stroke-width="1.4" fill="none" stroke-linejoin="miter"/>
<path d="M528.8,209.06 L537.4,209.06 L533.1,201.75 Z" stroke="#ff1a1a" stroke-width="1.4" fill="none" stroke-linejoin="miter"/>
<path d="M545.65,178.85 L554.25,178.85 L549.95,171.54 Z" stroke="#ff1a1a" stroke-width="1.4" fill="none" stroke-linejoin="miter"/>
<path d="M562.5,172.06 L571.1,172.06 L566.8,164.75 Z" stroke="#ff1a1a" stroke-width="1.4" fill="none" stroke-linejoin="miter"/>
<path d="M579.35,174.06 L587.95,174.06 L583.65,166.75 Z" stroke="#ff1a1a" stroke-width="1.4" fill="none" stroke-linejoin="miter"/>
<path d="M596.2,159.16 L604.8,159.16 L600.5,151.84 Z" stroke="#ff1a1a" stroke-width="1.4" fill="none" stroke-linejoin="miter"/>
<path d="M613.05,153.25 L621.65,153.25 L617.35,145.94 Z" stroke="#ff1a1a" stroke-width="1.4" fill="none" stroke-linejoin="miter"/>
<path d="M629.9,127.95 L638.5,127.95 L634.2,120.64 Z" stroke="#ff1a1a" stroke-width="1.4" fill="none" stroke-linejoin="miter"/>
<path d="M646.75,104.25 L655.35,104.25 L651.05,96.94 Z" stroke="#ff1a1a" stroke-width="1.4" fill="none" stroke-linejoin="miter"/>
<path d="M663.6,125.36 L672.2,125.36 L667.9,118.05 Z" stroke="#ff1a1a" stroke-width="1.4" fill="none" stroke-linejoin="miter"/>
<path d="M680.45,117.36 L689.05,117.36 L684.75,110.05 Z" stroke="#ff1a1a" stroke-width="1.4" fill="none" stroke-linejoin="miter"/>
<circle cx="499.4" cy="267.3" r="3.3" stroke="#111" stroke-width="1.7" fill="none"/>
<circle cx="516.25" cy="205.4" r="3.3" stroke="#111" stroke-width="1.7" fill="none"/>
<circle cx="533.1" cy="174" r="3.3" stroke="#111" stroke-width="1.7" fill="none"/>
<circle cx="549.95" cy="157.5" r="3.3" stroke="#111" stroke-width="1.7" fill="none"/>
<circle cx="566.8" cy="131.7" r="3.3" stroke="#111" stroke-width="1.7" fill="none"/>
<circle cx="583.65" cy="116.1" r="3.3" stroke="#111" stroke-width="1.7" fill="none"/>
<circle cx="600.5" cy="109.3" r="3.3" stroke="#111" stroke-width="1.7" fill="none"/>
<circle cx="617.35" cy="99.8" r="3.3" stroke="#111" stroke-width="1.7" fill="none"/>
<circle cx="634.2" cy="101.9" r="3.3" stroke="#111" stroke-width="1.7" fill="none"/>
<circle cx="651.05" cy="90" r="3.3" stroke="#111" stroke-width="1.7" fill="none"/>
<circle cx="667.9" cy="79.7" r="3.3" stroke="#111" stroke-width="1.7" fill="none"/>
</g>
<rect x="499.4" y="13.2" width="202.2" height="286" stroke="#111" stroke-width="1.0" fill="none" />
<line x1="499.6" y1="271" x2="499.6" y2="299.2" stroke="#ff1a1a" stroke-width="1.3" />
<line x1="499.4" y1="298.6" x2="501.8" y2="298.6" stroke="#ff1a1a" stroke-width="1.3" />
<rect x="594" y="211.9" width="95.4" height="75.6" stroke="#111" stroke-width="0.9" fill="#fff" />
<line x1="594.5" y1="219.7" x2="597.6" y2="219.7" stroke="#111" stroke-width="1.3" />
<line x1="606.3" y1="219.7" x2="611.8" y2="219.7" stroke="#111" stroke-width="1.3" />
<line x1="594.5" y1="232.2" x2="597.6" y2="232.2" stroke="#ff1a1a" stroke-width="1.3" />
<line x1="606.3" y1="232.2" x2="611.8" y2="232.2" stroke="#ff1a1a" stroke-width="1.3" />
<path d="M594.5,244.8 L617,244.8" stroke="#111" stroke-width="1.3" fill="none" stroke-linejoin="round" stroke-linecap="round" />
<path d="M594.5,257.3 L617,257.3" stroke="#ff1a1a" stroke-width="1.3" fill="none" stroke-linejoin="round" stroke-linecap="round" />
<circle cx="606" cy="269.7" r="3.3" stroke="#111" stroke-width="1.7" fill="none"/>
<path d="M601.7,285.25 L610.3,285.25 L606,277.95 Z" stroke="#ff1a1a" stroke-width="1.4" fill="none" stroke-linejoin="miter"/>
<text x="619.5" y="223.01" font-size="9.25" text-anchor="start" font-weight="normal" fill="#111" >non-local <tspan font-family="Liberation Serif" font-size="10">&#947;</tspan>=0.5</text>
<text x="619.5" y="235.51" font-size="9.25" text-anchor="start" font-weight="normal" fill="#111" >non-local <tspan font-family="Liberation Serif" font-size="10">&#947;</tspan>=0.02</text>
<text x="622" y="248.11" font-size="9.25" text-anchor="start" font-weight="normal" fill="#111" >local <tspan font-family="Liberation Serif" font-size="10">&#947;</tspan>=0.5</text>
<text x="622" y="260.61" font-size="9.25" text-anchor="start" font-weight="normal" fill="#111" >local <tspan font-family="Liberation Serif" font-size="10">&#947;</tspan>=0.02</text>
<text x="619.5" y="273.01" font-size="9.25" text-anchor="start" font-weight="normal" fill="#111" >rat B1</text>
<text x="619.5" y="284.91" font-size="9.25" text-anchor="start" font-weight="normal" fill="#111" >mouse C1</text>
<text x="495" y="104.13" font-size="9.3" text-anchor="end" fill="#111">10<tspan font-size="6.70" dy="-3.91">2</tspan></text>
<text x="495" y="201.23" font-size="9.3" text-anchor="end" fill="#111">10<tspan font-size="6.70" dy="-3.91">1</tspan></text>
<text x="495" y="298.33" font-size="9.3" text-anchor="end" fill="#111">10<tspan font-size="6.70" dy="-3.91">0</tspan></text>
<text x="516.25" y="312.03" font-size="9.3" text-anchor="middle" font-weight="normal" fill="#111" >2</text>
<text x="549.95" y="312.03" font-size="9.3" text-anchor="middle" font-weight="normal" fill="#111" >4</text>
<text x="583.65" y="312.03" font-size="9.3" text-anchor="middle" font-weight="normal" fill="#111" >6</text>
<text x="617.35" y="312.03" font-size="9.3" text-anchor="middle" font-weight="normal" fill="#111" >8</text>
<text x="651.05" y="312.03" font-size="9.3" text-anchor="middle" font-weight="normal" fill="#111" >10</text>
<text x="684.75" y="312.03" font-size="9.3" text-anchor="middle" font-weight="normal" fill="#111" >12</text>
<text x="597.9" y="321.43" font-size="9.3" text-anchor="middle" font-weight="normal" fill="#111" >Mode number</text>
<text x="0" y="0" font-size="9.3" text-anchor="middle" fill="#111" transform="translate(482,147.4) rotate(-90)">Modal Q-factor</text>
<text x="474.5" y="14.9" font-size="20" text-anchor="start" font-weight="bold" fill="#111" >e</text>
<g clip-path="url(#clipF)">
<path d="M32.1,517.3 32.1,412.3 32.9,410.6 33.7,408.8 34.5,407.1 35.3,405.4 36.1,403.6 36.9,401.9 37.7,400.0 38.5,398.1 39.3,396.2 40.1,394.4 40.9,392.7 41.7,391.3 42.5,390.0 43.3,388.8 44.1,387.6 44.9,386.5 45.7,385.5 46.5,384.6 47.3,383.7 48.1,382.9 48.9,382.2 49.7,381.5 50.5,381.0 51.3,380.4 52.1,379.8 52.9,379.3 53.7,378.7 54.5,378.1 55.3,377.6 56.1,377.1 56.9,376.7 57.7,376.4 58.5,376.0 59.3,375.7 60.1,375.4 60.9,375.1 61.7,374.8 62.5,374.5 63.3,374.2 64.1,374.0 64.9,373.7 65.7,373.5 66.5,373.3 67.3,373.0 68.1,372.9 68.9,372.7 69.7,372.6 70.5,372.5 71.3,372.4 72.1,372.4 72.9,372.3 73.7,372.3 74.5,372.3 75.3,372.4 76.1,372.5 76.9,372.6 77.7,372.8 78.5,373.0 79.3,373.2 80.1,373.5 80.9,373.8 81.7,374.1 82.5,374.5 83.3,374.9 84.1,375.3 84.9,375.7 85.7,376.1 86.5,376.5 87.3,377.0 88.1,377.4 88.9,377.9 89.7,378.4 90.5,378.9 91.3,379.4 92.1,379.9 92.9,380.4 93.7,381.0 94.5,381.6 95.3,382.3 96.1,382.9 96.9,383.6 97.7,384.3 98.5,385.0 99.3,385.6 100.1,386.3 100.9,386.9 101.7,387.6 102.5,388.2 103.3,388.8 104.1,389.4 104.9,390.1 105.7,390.8 106.5,391.6 107.3,392.4 108.1,393.3 108.9,394.3 109.7,395.3 110.5,396.3 111.3,397.3 112.1,398.3 112.9,399.3 113.7,400.2 114.5,401.1 115.3,402.1 116.1,403.0 116.9,404.0 117.7,404.9 118.5,405.9 119.3,406.9 120.1,407.9 120.9,408.8 121.7,409.7 122.5,410.7 123.3,411.5 124.1,412.4 124.9,413.2 125.7,413.9 126.5,414.6 127.3,415.2 128.1,415.8 128.9,416.2 129.7,416.7 130.5,417.0 131.3,417.4 132.1,417.7 132.9,417.9 133.7,418.1 134.5,418.3 135.3,418.5 136.1,418.6 136.9,418.8 137.7,418.9 138.5,419.0 139.3,419.0 140.1,419.1 140.9,419.2 141.7,419.3 142.5,419.3 143.3,419.4 144.1,419.4 144.9,419.4 145.7,419.4 146.5,419.3 147.3,419.2 148.1,419.2 148.9,419.1 149.7,419.0 150.5,418.9 151.3,418.8 152.1,418.7 152.9,418.6 153.7,418.5 154.5,418.4 155.3,418.4 156.1,418.3 156.9,418.3 157.7,418.2 158.5,418.2 159.3,418.1 160.1,418.0 160.9,418.0 161.7,417.9 162.5,417.8 163.3,417.8 164.1,417.7 164.9,417.7 165.7,417.7 166.5,417.6 167.3,417.6 168.1,417.6 168.9,417.7 169.7,417.7 170.5,417.8 171.3,417.9 172.1,418.1 172.9,418.2 173.7,418.4 174.5,418.6 175.3,418.8 176.1,419.1 176.9,419.3 177.7,419.6 178.5,419.9 179.3,420.3 180.1,420.6 180.9,421.0 181.7,421.4 182.5,421.8 183.3,422.3 184.1,422.7 184.9,423.2 185.7,423.7 186.5,424.3 187.3,424.9 188.1,425.5 188.9,426.1 189.7,426.8 190.5,427.5 191.3,428.2 192.1,429.0 192.9,429.8 193.7,430.6 194.5,431.4 195.3,432.3 196.1,433.2 196.9,434.1 197.7,435.0 198.5,435.9 199.3,436.9 200.1,437.9 200.9,438.9 201.7,439.9 202.5,441.0 203.3,442.1 204.1,443.3 204.9,444.5 205.7,445.8 206.5,447.1 207.3,448.4 208.1,449.7 208.9,451.0 209.7,452.4 210.5,453.8 211.3,455.3 212.1,456.8 212.9,458.2 213.7,459.6 214.5,460.9 215.3,462.0 216.1,462.9 216.9,463.4 217.7,463.5 218.5,463.3 219.3,462.8 220.1,462.5 220.9,462.0 221.7,461.4 222.5,460.8 223.3,460.2 224.1,459.5 224.9,458.9 225.7,458.4 226.5,457.9 227.3,457.5 228.1,457.0 228.9,456.6 229.7,456.2 230.5,455.8 231.3,455.4 232.1,455.0 232.9,454.7 233.7,454.3 234.5,453.9 235.3,453.5 236.1,453.0 236.9,452.6 237.7,452.1 238.5,451.7 239.3,451.3 240.1,451.0 240.9,450.9 241.7,450.8 242.5,450.8 243.3,450.9 244.1,451.1 244.9,451.2 245.7,451.4 246.5,451.7 247.3,451.9 248.1,452.2 248.9,452.4 249.7,452.7 250.5,452.9 251.3,453.1 252.1,453.4 252.9,453.6 253.7,453.9 254.5,454.1 255.3,454.4 256.1,454.6 256.9,454.9 257.7,455.1 258.5,455.4 259.3,455.6 260.1,455.8 260.9,456.0 261.7,456.2 262.5,456.3 263.3,456.5 264.1,456.6 264.9,456.7 265.7,456.9 266.5,457.0 267.3,457.1 268.1,457.2 268.9,457.3 269.7,457.4 270.5,457.5 271.3,457.7 272.1,457.8 272.9,457.9 273.7,458.0 274.5,458.1 275.3,458.2 276.1,458.3 276.9,458.3 277.7,458.4 278.5,458.4 279.3,458.4 280.1,458.4 280.9,458.5 281.7,458.6 282.5,458.9 283.3,459.2 284.1,459.6 284.9,460.0 285.7,460.6 286.5,461.1 287.3,461.7 288.1,462.4 288.9,463.1 289.7,463.9 290.5,464.8 291.3,465.7 292.1,466.7 292.9,467.7 293.7,468.8 294.5,469.9 295.3,471.0 296.1,472.1 296.9,473.3 297.7,474.4 298.5,475.6 299.3,476.8 300.1,478.1 300.9,479.5 301.7,480.9 302.5,482.4 303.3,484.0 304.1,485.8 304.9,487.6 305.7,489.5 306.5,491.4 307.3,493.3 308.1,495.2 308.9,497.2 309.7,499.1 310.5,501.1 311.3,503.1 312.1,505.0 312.9,506.8 313.7,508.6 314.5,510.4 315.3,511.4 316.1,510.8 316.9,508.9 317.7,506.1 318.5,502.9 319.3,499.9 320.1,497.2 320.9,494.5 321.7,491.9 322.5,489.3 323.3,486.9 324.1,484.8 324.9,482.9 325.7,481.2 326.5,479.6 327.3,478.1 328.1,476.7 328.9,475.4 329.7,474.3 330.5,473.3 331.3,472.5 332.1,471.8 332.9,471.2 333.7,470.7 334.5,470.3 335.3,470.0 336.1,469.7 336.9,469.5 337.7,469.4 338.5,469.3 339.3,469.2 340.1,469.2 340.9,469.2 341.7,469.3 342.5,469.5 343.3,469.7 344.1,469.9 344.9,470.2 345.7,470.6 346.5,471.0 347.3,471.5 348.1,472.1 348.9,472.8 349.7,473.6 350.5,474.5 351.3,475.5 352.1,476.6 352.9,477.8 353.7,479.1 354.5,480.5 355.3,482.1 356.1,483.8 356.9,485.7 357.7,487.7 358.5,489.9 359.3,492.0 360.1,494.3 360.9,496.6 361.7,499.0 362.5,501.5 363.3,504.0 364.1,506.6 364.9,509.4 365.7,512.4 366.5,515.2 367.3,517.3 368.1,517.3 368.9,517.3 369.7,517.3 370.5,517.3 371.3,517.3 372.1,517.3 372.9,517.3 373.7,517.3 374.5,517.3 375.3,517.3 376.1,517.3 376.9,517.0 377.7,513.6 378.5,508.8 379.3,504.3 380.1,501.3 380.9,499.2 381.7,497.4 382.5,495.8 383.3,494.3 384.1,493.0 384.9,491.6 385.7,490.4 386.5,489.1 387.3,487.9 388.1,486.9 388.9,486.1 389.7,485.3 390.5,484.7 391.0,484.2 391.0,517.3 Z" fill="#ffe0e0" fill-opacity="0.3" stroke="none"/>
<path d="M33.3,388.7 35.2,381.9 37.1,378.8 38.9,379.2 40.6,383.4 42.4,393.0 43.7,406.6 44.6,422.7 45.2,443.3 45.6,466.4 45.8,499.3 45.9,519.3 M46.7,519.3 46.8,498.8 47.0,465.7 47.4,442.2 48.0,420.9 48.9,403.8 50.2,388.8 52.0,377.3 53.7,371.1 55.5,368.7 57.5,369.6 59.6,374.2 61.6,384.2 63.1,398.1 64.1,414.3 64.9,435.0 65.3,458.2 65.5,491.1 65.7,519.3 M66.5,519.3 66.7,490.7 66.9,457.6 67.3,434.2 68.1,413.0 69.1,396.0 70.6,381.1 72.6,369.8 74.7,363.9 76.7,361.8 78.6,363.2 80.5,368.4 82.4,378.9 83.8,393.2 84.8,409.8 85.4,430.7 85.8,453.9 86.1,486.9 86.2,519.3 M87.0,519.3 87.1,486.9 87.4,453.8 87.8,430.5 88.4,409.5 89.4,392.8 90.8,378.2 92.7,367.4 94.6,361.9 96.5,360.2 98.4,361.9 100.3,367.4 102.2,378.3 103.6,392.9 104.6,409.6 105.2,430.6 105.6,453.9 105.9,487.0 106.0,519.3 M106.8,519.3 106.9,487.0 107.2,454.0 107.6,430.8 108.2,409.9 109.2,393.3 110.6,379.0 112.5,368.4 114.4,363.2 116.3,361.7 118.2,363.6 120.0,369.3 121.9,380.3 123.3,395.0 124.3,411.8 124.9,432.9 125.3,456.2 125.5,489.3 125.7,519.3 M126.4,519.3 126.6,489.5 126.8,456.5 127.2,433.2 127.8,412.4 128.8,395.9 130.2,381.8 132.1,371.5 133.9,366.8 135.8,365.9 137.8,368.4 139.7,374.6 141.7,386.1 143.2,401.2 144.2,418.2 144.9,439.5 145.2,462.9 145.5,496.1 145.6,519.3 M146.5,519.3 146.6,496.5 146.9,463.6 147.2,440.5 147.9,419.8 148.9,403.5 150.4,389.7 152.4,379.8 154.3,375.2 156.3,374.4 158.3,377.0 160.2,383.4 162.2,395.2 163.7,410.4 164.7,427.5 165.4,448.9 165.7,472.3 166.0,505.5 166.1,519.3 M167.0,519.3 167.1,506.1 167.4,473.2 167.7,450.1 168.4,429.5 169.4,413.3 170.9,399.7 172.9,389.9 174.8,385.6 176.8,384.9 178.9,387.8 180.9,394.4 183.0,406.4 184.6,421.7 185.6,439.0 186.3,460.4 186.8,483.9 187.0,517.1 187.2,519.3 M188.0,519.3 188.2,517.8 188.4,485.0 188.9,461.9 189.6,441.4 190.6,425.3 192.2,411.8 194.3,402.2 196.3,397.8 198.4,397.2 200.4,399.8 202.4,406.1 204.4,417.7 205.9,432.8 206.9,449.8 207.6,471.1 208.0,494.5 208.2,519.3 208.4,519.3 M209.2,519.3 209.4,519.3 209.6,495.1 210.0,472.0 210.7,451.3 211.7,435.0 213.2,421.1 215.2,411.0 217.2,406.3 219.2,405.3 221.2,407.6 223.3,413.5 225.3,424.5 226.8,439.2 227.8,456.2 228.5,477.4 228.9,500.8 229.2,519.3 229.3,519.3 M230.2,519.3 230.3,519.3 230.6,501.4 231.0,478.2 231.7,457.5 232.7,441.2 234.2,427.3 236.2,417.3 238.3,412.7 240.3,411.7 242.2,414.1 244.1,420.2 246.0,431.7 247.5,446.6 248.4,463.6 249.1,484.8 249.5,508.2 249.7,519.3 249.9,519.3 M250.6,519.3 250.8,519.3 251.0,508.8 251.4,485.6 252.1,464.9 253.0,448.6 254.5,434.6 256.4,424.5 258.3,419.7 260.2,418.7 262.0,421.0 263.8,427.2 265.6,438.6 267.0,453.6 267.9,470.6 268.5,491.8 268.9,515.2 269.1,519.3 269.3,519.3 M270.0,519.3 270.2,519.3 270.4,515.7 270.8,492.6 271.4,471.9 272.3,455.5 273.7,441.5 275.5,431.4 277.3,426.6 279.1,425.4 280.9,427.6 282.7,433.6 284.5,444.8 285.9,459.6 286.8,476.5 287.4,497.6 287.8,519.3 288.0,519.3 288.1,519.3 M288.9,519.3 289.0,519.3 289.2,519.3 289.6,498.1 290.2,477.2 291.1,460.7 292.5,446.5 294.3,436.0 296.1,430.8 297.9,429.3 299.7,431.2 301.5,436.7 303.2,447.5 304.6,462.0 305.4,478.7 306.1,499.7 306.4,519.3 306.6,519.3 306.8,519.3 M307.5,519.3 307.7,519.3 307.9,519.3 308.2,499.7 308.9,478.8 309.7,462.1 311.1,447.7 312.8,436.9 314.6,431.5 316.4,429.9 318.4,431.7 320.4,437.2 322.3,448.1 323.8,462.6 324.8,479.3 325.5,500.3 325.9,519.3 326.1,519.3 326.3,519.3 M327.1,519.3 327.3,519.3 327.5,519.3 327.9,500.5 328.6,479.5 329.6,462.9 331.1,448.6 333.0,437.9 335.0,432.6 337.0,431.1 338.9,432.9 340.9,438.6 342.8,449.6 344.3,464.2 345.3,481.0 346.0,502.0 346.4,519.3 346.6,519.3 346.7,519.3 M347.6,519.3 347.7,519.3 347.9,519.3 348.3,502.2 349.0,481.3 350.0,464.7 351.5,450.4 353.4,439.7 355.4,434.3 357.3,432.6 359.5,434.2 361.8,439.6 364.0,450.2 365.7,464.6 366.8,481.2 367.6,502.1 368.0,519.3 368.3,519.3 368.5,519.3 M369.4,519.3 369.6,519.3 369.9,519.3 370.3,501.9 371.1,480.9 372.2,464.2 373.9,449.6 376.1,438.6 378.4,432.9 380.6,430.9 382.8,432.3 384.9,437.3 387.1,447.5 388.7,461.4 389.7,477.7 390.5,498.4 390.9,519.3" fill="none" stroke="#111" stroke-width="1.1" />
<path d="M32.1,505.5 32.2,519.3 32.3,519.3 M35.7,519.3 35.8,519.3 35.9,497.4 36.0,473.9 36.2,452.5 36.5,435.2 36.9,419.8 37.5,407.7 38.0,400.9 38.6,397.8 39.2,398.2 39.7,402.3 40.3,411.8 40.7,425.4 41.0,441.5 41.2,462.1 41.3,485.2 41.4,518.1 41.5,519.3 M44.9,519.3 45.0,512.7 45.1,479.6 45.2,456.2 45.4,435.0 45.7,417.9 46.1,403.0 46.7,391.5 47.2,385.4 47.8,383.2 48.4,384.3 48.9,389.3 49.5,399.6 49.9,413.7 50.2,430.2 50.4,451.0 50.5,474.2 50.6,507.2 50.7,519.3 M54.1,519.3 54.2,504.7 54.3,471.6 54.4,448.2 54.6,427.1 54.9,410.3 55.3,395.5 55.9,384.4 56.4,378.7 57.0,376.7 57.6,378.1 58.1,383.3 58.7,393.8 59.1,408.1 59.4,424.7 59.6,445.6 59.7,468.8 59.8,501.8 59.9,519.3 M63.3,519.3 63.4,500.5 63.5,467.5 63.6,444.1 63.8,423.1 64.1,406.3 64.5,391.7 65.1,380.8 65.6,375.2 66.2,373.3 66.8,374.9 67.3,380.2 67.9,390.8 68.3,405.2 68.6,421.8 68.8,442.7 68.9,466.0 69.0,499.0 69.1,519.3 M72.5,519.3 72.6,498.6 72.7,465.6 72.8,442.3 73.0,421.4 73.3,404.7 73.7,390.2 74.3,379.5 74.8,374.1 75.4,372.4 76.0,374.2 76.5,379.7 77.1,390.6 77.5,405.1 77.8,421.9 78.0,442.9 78.1,466.2 78.2,499.3 78.3,519.3 M81.7,519.3 81.8,500.5 81.9,467.5 82.0,444.2 82.2,423.4 82.5,406.8 82.9,392.6 83.5,382.1 84.0,376.9 84.6,375.5 85.2,377.5 85.7,383.2 86.3,394.3 86.7,409.0 87.0,425.8 87.2,446.9 87.3,470.3 87.4,503.4 87.5,519.3 M90.9,519.3 91.0,505.5 91.1,472.5 91.2,449.3 91.4,428.5 91.7,412.0 92.1,397.8 92.7,387.4 93.2,382.4 93.8,381.1 94.4,383.2 94.9,389.1 95.5,400.3 95.9,415.2 96.2,432.0 96.4,453.2 96.5,476.6 96.6,509.7 96.7,519.3 M100.1,519.3 100.2,512.7 100.3,479.7 100.4,456.5 100.6,435.7 100.9,419.3 101.3,405.1 101.9,394.8 102.4,389.8 103.0,388.6 103.6,390.7 104.1,396.6 104.7,407.8 105.1,422.7 105.4,439.6 105.6,460.7 105.7,484.1 105.8,517.2 105.9,519.3 M109.3,519.3 109.4,519.3 109.5,488.2 109.6,465.1 109.8,444.4 110.1,428.1 110.5,414.2 111.1,404.1 111.6,399.4 112.2,398.4 112.8,400.8 113.3,406.9 113.9,418.4 114.3,433.3 114.6,450.3 114.8,471.5 114.9,494.9 115.0,519.3 115.1,519.3 M118.5,519.3 118.6,519.3 118.7,499.4 118.8,476.3 119.0,455.5 119.3,439.2 119.7,425.3 120.3,415.2 120.8,410.4 121.4,409.4 122.0,411.7 122.5,417.8 123.1,429.2 123.5,444.2 123.8,461.1 124.0,482.3 124.1,505.7 124.2,519.3 124.3,519.3 M127.7,519.3 127.8,519.3 127.9,508.9 128.0,485.7 128.2,464.8 128.5,448.3 128.9,434.1 129.5,423.7 130.0,418.5 130.6,417.1 131.2,419.0 131.7,424.7 132.3,435.7 132.7,450.2 133.0,467.0 133.2,488.0 133.3,511.3 133.4,519.3 133.5,519.3 M136.9,519.3 137.0,519.3 137.1,512.1 137.2,488.8 137.4,467.9 137.7,451.2 138.1,436.8 138.7,426.1 139.2,420.7 139.8,419.1 140.4,420.8 140.9,426.3 141.5,437.2 141.9,451.7 142.2,468.3 142.4,489.3 142.5,512.6 142.6,519.3 142.7,519.3 M146.1,519.3 146.2,519.3 146.3,512.6 146.4,489.3 146.6,468.3 146.9,451.7 147.3,437.2 147.9,426.3 148.4,420.8 149.0,419.1 149.6,420.7 150.1,426.1 150.7,436.8 151.1,451.2 151.4,467.8 151.6,488.8 151.7,512.0 151.8,519.3 151.9,519.3 M155.3,519.3 155.4,519.3 155.5,511.6 155.6,488.3 155.8,467.4 156.1,450.7 156.5,436.2 157.1,425.4 157.6,419.9 158.2,418.2 158.8,419.8 159.3,425.2 159.9,436.0 160.3,450.4 160.6,467.0 160.8,488.0 160.9,511.2 161.0,519.3 161.1,519.3 M164.5,519.3 164.6,519.3 164.7,511.0 164.8,487.7 165.0,466.7 165.3,450.0 165.7,435.6 166.3,424.8 166.8,419.3 167.4,417.6 168.0,419.3 168.5,424.8 169.1,435.6 169.5,450.1 169.8,466.8 170.0,487.8 170.1,511.1 170.2,519.3 170.3,519.3 M173.7,519.3 173.8,519.3 173.9,511.7 174.0,488.4 174.2,467.5 174.5,451.0 174.9,436.6 175.5,426.0 176.0,420.7 176.6,419.2 177.2,421.1 177.7,426.8 178.3,437.8 178.7,452.4 179.0,469.2 179.2,490.2 179.3,513.6 179.4,519.3 179.5,519.3 M182.9,519.3 183.0,519.3 183.1,515.4 183.2,492.2 183.4,471.3 183.7,454.8 184.1,440.6 184.7,430.2 185.2,425.1 185.8,423.8 186.4,425.9 186.9,431.8 187.5,443.0 187.9,457.7 188.2,474.6 188.4,495.7 188.5,519.1 188.6,519.3 188.7,519.3 M192.1,519.3 192.2,519.3 192.3,519.3 192.4,499.2 192.6,478.5 192.9,462.1 193.3,448.1 193.9,437.9 194.4,433.0 195.0,431.9 195.6,434.3 196.1,440.3 196.7,451.8 197.1,466.7 197.4,483.7 197.6,504.9 197.7,519.3 197.8,519.3 197.9,519.3 M201.3,519.3 201.4,519.3 201.5,519.3 201.6,509.8 201.8,489.1 202.1,472.8 202.5,458.9 203.1,448.9 203.6,444.3 204.2,443.4 204.8,446.0 205.3,452.3 205.9,464.0 206.3,479.2 206.6,496.3 206.8,517.6 206.9,519.3 207.0,519.3 207.1,519.3 M210.5,519.3 210.6,519.3 210.7,519.3 210.8,519.3 211.0,503.7 211.3,487.6 211.7,473.9 212.3,464.2 212.8,459.8 213.4,459.1 214.0,461.8 214.5,468.1 215.1,479.7 215.5,494.7 215.8,511.6 216.0,519.3 216.1,519.3 216.2,519.3 216.3,519.3 M219.7,519.3 219.8,519.3 219.9,519.3 220.0,519.3 220.2,511.4 220.5,494.6 220.9,479.9 221.5,468.8 222.0,462.9 222.6,460.7 223.2,462.0 223.7,466.9 224.3,477.3 224.7,491.4 225.0,507.9 225.2,519.3 225.3,519.3 225.4,519.3 225.5,519.3 M228.9,519.3 229.0,519.3 229.1,519.3 229.2,519.3 229.4,505.4 229.7,488.6 230.1,473.9 230.7,462.9 231.2,457.2 231.8,455.2 232.4,456.6 232.9,461.8 233.5,472.3 233.9,486.5 234.2,503.1 234.4,519.3 234.5,519.3 234.6,519.3 234.7,519.3 M238.1,519.3 238.2,519.3 238.3,519.3 238.4,519.3 238.6,500.6 238.9,483.9 239.3,469.2 239.9,458.2 240.4,452.7 241.0,450.9 241.6,452.5 242.1,458.0 242.7,468.8 243.1,483.3 243.4,500.0 243.6,519.3 243.7,519.3 243.8,519.3 243.9,519.3 M247.3,519.3 247.4,519.3 247.5,519.3 247.6,519.3 247.8,501.1 248.1,484.5 248.5,470.2 249.1,459.6 249.6,454.3 250.2,452.8 250.8,454.7 251.3,460.3 251.9,471.2 252.3,485.8 252.6,502.5 252.8,519.3 252.9,519.3 253.0,519.3 253.1,519.3 M256.5,519.3 256.6,519.3 256.7,519.3 256.8,519.3 257.0,504.0 257.3,487.4 257.7,473.1 258.3,462.5 258.8,457.2 259.4,455.6 260.0,457.5 260.5,463.1 261.1,473.9 261.5,488.5 261.8,505.2 262.0,519.3 262.1,519.3 262.2,519.3 262.3,519.3 M265.7,519.3 265.8,519.3 265.9,519.3 266.0,519.3 266.2,506.0 266.5,489.3 266.9,474.9 267.5,464.3 268.0,458.9 268.6,457.3 269.2,459.1 269.7,464.6 270.3,475.4 270.7,489.9 271.0,506.6 271.2,519.3 271.3,519.3 271.4,519.3 271.5,519.3 M274.9,519.3 275.0,519.3 275.1,519.3 275.2,519.3 275.4,507.2 275.7,490.6 276.1,476.2 276.7,465.5 277.2,460.0 277.8,458.4 278.4,460.1 278.9,465.5 279.5,476.3 279.9,490.8 280.2,507.4 280.4,519.3 280.5,519.3 280.6,519.3 280.7,519.3 M284.1,519.3 284.2,519.3 284.3,519.3 284.4,519.3 284.6,508.9 284.9,492.4 285.3,478.2 285.9,467.8 286.4,462.8 287.0,461.5 287.6,463.6 288.1,469.6 288.7,480.9 289.1,495.7 289.4,512.7 289.6,519.3 289.7,519.3 289.8,519.3 289.9,519.3 M293.3,519.3 293.4,519.3 293.5,519.3 293.6,519.3 293.8,517.9 294.1,501.6 294.5,487.8 295.1,477.8 295.6,473.2 296.2,472.3 296.8,474.8 297.3,481.1 297.9,492.7 298.3,507.8 298.6,519.3 298.8,519.3 298.9,519.3 299.0,519.3 299.1,519.3 M302.5,519.3 302.6,519.3 302.7,519.3 302.8,519.3 303.0,519.3 303.3,516.3 303.7,502.8 304.3,493.3 304.8,489.1 305.4,488.8 306.0,491.8 306.5,498.7 307.1,510.8 307.5,519.3 307.8,519.3 308.0,519.3 308.1,519.3 308.2,519.3 308.3,519.3 M311.7,519.3 311.8,519.3 311.9,519.3 312.0,519.3 312.2,519.3 312.5,519.3 312.9,519.3 313.5,515.1 314.0,511.0 314.6,510.6 315.2,513.0 315.7,518.4 316.3,519.3 316.7,519.3 317.0,519.3 317.2,519.3 317.3,519.3 317.4,519.3 317.5,519.3 M320.9,519.3 321.0,519.3 321.1,519.3 321.2,519.3 321.4,519.3 321.7,519.3 322.1,508.5 322.7,496.0 323.2,488.8 323.8,485.5 324.4,485.8 324.9,489.9 325.5,499.5 325.9,513.0 326.2,519.3 326.4,519.3 326.5,519.3 326.6,519.3 326.7,519.3 M330.1,519.3 330.2,519.3 330.3,519.3 330.4,519.3 330.6,519.3 330.9,505.3 331.3,490.4 331.9,479.2 332.4,473.3 333.0,471.2 333.6,472.5 334.1,477.7 334.7,488.2 335.1,502.4 335.4,519.0 335.6,519.3 335.7,519.3 335.8,519.3 335.9,519.3 M339.3,519.3 339.4,519.3 339.5,519.3 339.6,519.3 339.8,518.2 340.1,501.6 340.5,487.1 341.1,476.4 341.6,471.0 342.2,469.4 342.8,471.2 343.3,476.8 343.9,487.8 344.3,502.4 344.6,519.1 344.8,519.3 344.9,519.3 345.0,519.3 345.1,519.3 M348.5,519.3 348.6,519.3 348.7,519.3 348.8,519.3 349.0,519.3 349.3,505.5 349.7,491.5 350.3,481.4 350.8,476.6 351.4,475.7 352.0,478.1 352.5,484.4 353.1,496.1 353.5,511.2 353.8,519.3 354.0,519.3 354.1,519.3 354.2,519.3 354.3,519.3 M357.7,519.3 357.8,519.3 357.9,519.3 358.0,519.3 358.2,519.3 358.5,519.3 358.9,508.8 359.5,499.6 360.0,495.7 360.6,495.7 361.2,499.1 361.7,506.3 362.3,518.8 362.7,519.3 363.0,519.3 363.2,519.3 363.3,519.3 363.4,519.3 363.5,519.3 M366.9,519.3 367.0,519.3 367.1,519.3 367.2,519.3 367.4,519.3 367.7,519.3 368.1,519.3 368.7,519.3 369.2,519.3 369.8,519.3 370.4,519.3 370.9,519.3 371.5,519.3 371.9,519.3 372.2,519.3 372.4,519.3 372.5,519.3 372.6,519.3 372.7,519.3 M376.1,519.3 376.2,519.3 376.3,519.3 376.4,519.3 376.6,519.3 376.9,519.3 377.3,519.3 377.9,519.3 378.4,510.9 379.0,505.8 379.6,504.9 380.1,508.3 380.7,517.6 381.1,519.3 381.4,519.3 381.6,519.3 381.7,519.3 381.8,519.3 381.9,519.3 M385.3,519.3 385.4,519.3 385.5,519.3 385.6,519.3 385.8,519.3 386.1,519.3 386.5,507.0 387.1,495.4 387.6,489.2 388.2,486.8 388.8,487.9 389.3,492.8 389.9,503.1 390.3,517.2 390.6,519.3 390.8,519.3 390.9,519.3 391.0,519.3" fill="none" stroke="#ff2020" stroke-width="1.0" />
<path d="M32.1,517.3 32.1,415.9 32.9,414.7 33.7,413.5 34.5,412.3 35.3,411.1 36.1,409.9 36.9,408.8 37.7,407.6 38.5,406.4 39.3,405.2 40.1,404.1 40.9,402.9 41.7,401.9 42.5,400.9 43.3,400.0 44.1,399.1 44.9,398.3 45.7,397.5 46.5,396.8 47.3,396.1 48.1,395.4 48.9,394.8 49.7,394.2 50.5,393.7 51.3,393.2 52.1,392.8 52.9,392.4 53.7,392.0 54.5,391.7 55.3,391.5 56.1,391.2 56.9,390.9 57.7,390.5 58.5,390.1 59.3,389.6 60.1,389.2 60.9,388.8 61.7,388.6 62.5,388.5 63.3,388.4 64.1,388.4 64.9,388.4 65.7,388.5 66.5,388.5 67.3,388.6 68.1,388.7 68.9,388.8 69.7,388.9 70.5,389.0 71.3,389.1 72.1,389.3 72.9,389.5 73.7,389.7 74.5,390.0 75.3,390.3 76.1,390.6 76.9,391.1 77.7,391.5 78.5,392.1 79.3,392.7 80.1,393.3 80.9,394.0 81.7,394.6 82.5,395.1 83.3,395.6 84.1,396.0 84.9,396.5 85.7,397.0 86.5,397.5 87.3,398.2 88.1,398.9 88.9,399.6 89.7,400.5 90.5,401.4 91.3,402.4 92.1,403.5 92.9,404.8 93.7,406.1 94.5,407.3 95.3,408.5 96.1,409.5 96.9,410.3 97.7,411.1 98.5,411.8 99.3,412.6 100.1,413.5 100.9,414.5 101.7,415.6 102.5,416.7 103.3,417.9 104.1,419.2 104.9,420.6 105.7,422.1 106.5,423.8 107.3,425.5 108.1,427.2 108.9,428.8 109.7,430.2 110.5,431.7 111.3,433.0 112.1,434.4 112.9,435.6 113.7,436.8 114.5,437.9 115.3,439.0 116.1,440.2 116.9,441.4 117.7,442.7 118.5,444.2 119.3,445.8 120.1,447.6 120.9,449.4 121.7,451.3 122.5,453.2 123.3,455.2 124.1,457.4 124.9,459.4 125.7,461.4 126.5,463.2 127.3,464.9 128.1,466.7 128.9,468.3 129.7,469.7 130.5,470.9 131.3,471.8 132.1,472.2 132.9,472.2 133.7,471.7 134.5,471.0 135.3,470.1 136.1,469.1 136.9,467.8 137.7,466.5 138.5,465.1 139.3,463.8 140.1,462.5 140.9,461.3 141.7,460.2 142.5,459.2 143.3,458.2 144.1,457.1 144.9,456.1 145.7,455.1 146.5,454.1 147.3,453.1 148.1,452.2 148.9,451.3 149.7,450.4 150.5,449.6 151.3,448.8 152.1,448.1 152.9,447.5 153.7,446.9 154.5,446.3 155.3,445.8 156.1,445.4 156.9,445.0 157.7,444.6 158.5,444.2 159.3,443.9 160.1,443.6 160.9,443.4 161.7,443.1 162.5,442.9 163.3,442.8 164.1,442.6 164.9,442.5 165.7,442.4 166.5,442.4 167.3,442.4 168.1,442.4 168.9,442.4 169.7,442.5 170.5,442.6 171.3,442.8 172.1,442.9 172.9,443.2 173.7,443.5 174.5,443.8 175.3,444.2 176.1,444.7 176.9,445.2 177.7,445.8 178.5,446.4 179.3,447.1 180.1,447.9 180.9,448.8 181.7,449.7 182.5,450.7 183.3,451.8 184.1,452.9 184.9,454.1 185.7,455.4 186.5,456.7 187.3,458.1 188.1,459.7 188.9,461.4 189.7,463.3 190.5,465.4 191.3,467.6 192.1,469.9 192.9,472.2 193.7,474.5 194.5,476.7 195.3,478.9 196.1,481.4 196.9,483.9 197.7,486.4 198.5,488.8 199.3,491.1 200.1,493.2 200.9,494.9 201.7,496.1 202.5,496.7 203.3,496.7 204.1,496.1 204.9,495.1 205.7,494.0 206.5,492.9 207.3,492.1 208.1,491.2 208.9,490.3 209.7,489.2 210.5,488.2 211.3,487.1 212.1,486.1 212.9,485.2 213.7,484.4 214.5,483.7 215.3,483.2 216.1,482.9 216.9,482.8 217.7,482.8 218.5,482.9 219.3,483.2 220.1,483.5 220.9,483.9 221.7,484.3 222.5,484.8 223.3,485.3 224.1,485.8 224.9,486.4 225.7,487.1 226.5,488.0 227.3,489.3 228.1,491.0 228.9,494.0 229.7,497.6 230.5,500.1 231.3,502.7 232.1,505.2 232.9,507.6 233.7,509.7 234.5,511.5 235.3,512.8 236.1,513.5 236.9,513.7 237.7,513.6 238.5,513.2 239.3,512.6 240.1,511.7 240.9,510.7 241.7,509.6 242.5,508.5 243.3,507.2 244.1,505.7 244.9,504.0 245.7,502.2 246.5,500.2 247.3,498.3 248.1,496.3 248.9,494.4 249.7,492.7 250.5,491.1 251.3,489.6 252.1,488.4 252.9,487.2 253.7,486.1 254.5,485.1 255.3,484.1 256.1,483.1 256.9,482.3 257.7,481.4 258.5,480.7 259.3,480.0 260.1,479.4 260.9,479.0 261.7,478.6 262.5,478.4 263.3,478.3 264.1,478.5 264.9,478.8 265.7,479.3 266.5,480.0 267.3,480.9 268.1,481.8 268.9,482.9 269.7,484.2 270.5,485.6 271.3,487.3 272.1,489.0 272.9,490.8 273.7,492.6 274.5,494.3 275.3,496.0 276.1,497.6 276.9,499.3 277.7,501.0 278.5,502.7 279.3,504.4 280.1,506.1 280.9,507.6 281.7,509.1 282.5,510.3 283.3,511.5 284.1,512.5 284.9,513.5 285.7,514.1 286.5,514.5 287.3,514.5 288.1,514.2 288.9,513.5 289.7,512.4 290.5,511.1 291.3,509.6 292.1,508.1 292.9,506.5 293.7,504.9 294.5,503.4 295.3,502.0 296.1,500.6 296.9,499.2 297.7,497.8 298.5,496.4 299.3,494.9 300.1,493.5 300.9,492.1 301.7,490.8 302.5,489.5 303.3,488.2 304.1,487.1 304.9,486.1 305.7,485.3 306.5,484.7 307.3,484.4 308.1,484.3 308.9,484.7 309.7,485.3 310.5,486.1 311.3,487.0 312.1,488.1 312.9,489.4 313.7,490.8 314.5,492.3 315.3,493.9 316.1,495.5 316.9,497.2 317.7,498.8 318.5,500.4 319.3,502.1 320.1,503.9 320.9,505.7 321.7,507.6 322.5,509.4 323.3,511.2 324.1,513.0 324.9,515.0 325.7,517.0 326.5,517.3 327.3,517.3 328.1,517.3 328.9,517.3 329.7,516.6 330.5,514.7 331.3,511.8 332.1,509.3 332.9,507.5 333.7,505.9 334.5,504.4 335.3,502.8 336.1,501.4 336.9,500.0 337.7,498.6 338.5,497.3 339.3,496.1 340.1,495.0 340.9,494.0 341.7,493.0 342.5,492.2 343.3,491.4 344.1,490.6 344.9,490.0 345.7,489.3 346.5,488.7 347.3,488.2 348.1,487.7 348.9,487.2 349.7,486.8 350.5,486.5 351.3,486.3 352.1,486.2 352.9,486.2 353.7,486.4 354.5,486.7 355.3,487.1 356.1,487.7 356.9,488.4 357.7,489.1 358.5,489.9 359.3,490.8 360.1,491.8 360.9,492.9 361.7,494.1 362.5,495.4 363.3,496.7 364.1,498.2 364.9,499.8 365.7,501.5 366.5,503.3 367.3,505.1 368.1,507.0 368.9,508.9 369.7,510.8 370.5,512.6 371.3,514.8 372.1,517.3 372.9,517.3 373.7,517.3 374.5,517.3 375.3,517.3 376.1,517.3 376.9,517.3 377.7,517.3 378.5,517.3 379.3,517.3 380.1,517.3 380.9,517.3 381.7,517.3 382.5,517.3 383.3,517.3 384.1,517.3 384.9,517.3 385.7,517.3 386.5,517.3 387.3,517.3 388.1,517.3 388.9,517.3 389.7,517.3 390.5,517.3 391.0,517.3 391.0,517.3 Z" fill="#c4c4f6" fill-opacity="0.5" stroke="none"/>
<path d="M32.2,490.2 32.5,441.9 33.6,413.6 34.7,438.7 35.0,486.0 35.1,519.3 M35.3,519.3 35.4,485.4 35.7,437.1 36.8,408.9 37.9,433.9 38.2,481.3 38.3,519.3 M38.5,519.3 38.6,480.7 38.9,432.4 40.0,404.2 41.1,429.3 41.4,476.7 41.5,519.3 M41.7,519.3 41.8,476.2 42.1,427.9 43.2,400.1 44.3,425.6 44.6,473.1 44.7,519.3 M44.9,519.3 45.0,472.7 45.3,424.5 46.4,396.9 47.5,422.6 47.8,470.1 47.9,519.3 M48.1,519.3 48.2,469.8 48.5,421.7 49.6,394.3 50.7,420.2 51.0,467.8 51.1,519.3 M51.3,519.3 51.4,467.6 51.7,419.6 52.8,392.4 53.9,418.6 54.2,466.3 54.3,519.3 M54.5,519.3 54.6,466.2 54.9,418.2 56.0,391.2 57.1,417.4 57.4,465.1 57.5,519.3 M57.7,519.3 57.8,464.9 58.1,416.9 59.2,389.7 60.3,415.7 60.6,463.4 60.7,519.3 M60.9,519.3 61.0,463.3 61.3,415.3 62.4,388.5 63.5,415.0 63.8,462.9 63.9,519.3 M64.1,519.3 64.2,462.9 64.5,415.0 65.6,388.5 66.7,415.2 67.0,463.0 67.1,519.3 M67.3,519.3 67.4,463.1 67.7,415.3 68.8,388.7 69.9,415.5 70.2,463.4 70.3,519.3 M70.5,519.3 70.6,463.5 70.9,415.7 72.0,389.3 73.1,416.1 73.4,464.1 73.5,519.3 M73.7,519.3 73.8,464.2 74.1,416.5 75.2,390.2 76.3,417.3 76.6,465.4 76.7,519.3 M76.9,519.3 77.0,465.6 77.3,417.9 78.4,392.0 79.5,419.4 79.8,467.6 79.9,519.3 M80.1,519.3 80.2,467.9 80.5,420.3 81.6,394.5 82.7,421.8 83.0,469.9 83.1,519.3 M83.3,519.3 83.4,470.1 83.7,422.4 84.8,396.4 85.9,423.7 86.2,471.8 86.3,519.3 M86.5,519.3 86.6,472.1 86.9,424.5 88.0,398.8 89.1,426.4 89.4,474.6 89.5,519.3 M89.7,519.3 89.8,475.0 90.1,427.6 91.2,402.2 92.3,430.4 92.6,478.8 92.7,519.3 M92.9,519.3 93.0,479.4 93.3,432.1 94.4,407.2 95.5,435.3 95.8,483.6 95.9,519.3 M96.1,519.3 96.2,484.1 96.5,436.6 97.6,411.0 98.7,438.6 99.0,486.8 99.1,519.3 M99.3,519.3 99.4,487.2 99.7,439.7 100.8,414.4 101.9,442.4 102.2,490.8 102.3,519.3 M102.5,519.3 102.6,491.3 102.9,444.0 104.0,419.0 105.1,447.5 105.4,496.0 105.5,519.3 M105.7,519.3 105.8,496.7 106.1,449.6 107.2,425.3 108.3,454.2 108.6,502.7 108.7,519.3 M108.9,519.3 109.0,503.4 109.3,456.2 110.4,431.5 111.5,459.9 111.8,508.4 111.9,519.3 M112.1,519.3 112.2,509.0 112.5,461.7 113.6,436.6 114.7,464.7 115.0,513.1 115.1,519.3 M115.3,519.3 115.4,513.6 115.7,466.2 116.8,441.2 117.9,469.6 118.2,518.1 118.3,519.3 M118.5,519.3 118.6,518.8 118.9,471.7 120.0,447.4 121.1,476.4 121.4,519.3 121.5,519.3 M121.7,519.3 121.8,519.3 122.1,478.9 123.2,455.0 124.3,484.4 124.6,519.3 124.7,519.3 M124.9,519.3 125.0,519.3 125.3,487.1 126.4,462.9 127.5,491.9 127.8,519.3 127.9,519.3 M128.1,519.3 128.2,519.3 128.5,494.2 129.6,469.6 130.7,497.7 131.0,519.3 131.1,519.3 M131.3,519.3 131.4,519.3 131.7,498.7 132.8,472.2 133.9,498.2 134.2,519.3 134.3,519.3 M134.5,519.3 134.6,519.3 134.9,497.2 136.0,469.2 137.1,494.2 137.4,519.3 137.5,519.3 M137.7,519.3 137.8,519.3 138.1,492.4 139.2,464.0 140.3,488.9 140.6,519.3 140.7,519.3 M140.9,519.3 141.0,519.3 141.3,487.3 142.4,459.3 143.5,484.6 143.8,519.3 143.9,519.3 M144.1,519.3 144.2,519.3 144.5,483.2 145.6,455.2 146.7,480.5 147.0,519.3 147.1,519.3 M147.3,519.3 147.4,519.3 147.7,479.2 148.8,451.4 149.9,476.9 150.2,519.3 150.3,519.3 M150.5,519.3 150.6,519.3 150.9,475.8 152.0,448.2 153.1,474.0 153.4,519.3 153.5,519.3 M153.7,519.3 153.8,519.3 154.1,473.2 155.2,445.9 156.3,471.9 156.6,519.3 156.7,519.3 M156.9,519.3 157.0,519.3 157.3,471.4 158.4,444.3 159.5,470.5 159.8,518.2 159.9,519.3 M160.1,519.3 160.2,518.1 160.5,470.1 161.6,443.2 162.7,469.5 163.0,517.3 163.1,519.3 M163.3,519.3 163.4,517.2 163.7,469.3 164.8,442.5 165.9,469.0 166.2,516.9 166.3,519.3 M166.5,519.3 166.6,516.9 166.9,469.0 168.0,442.4 169.1,469.0 169.4,516.9 169.5,519.3 M169.7,519.3 169.8,517.0 170.1,469.2 171.2,442.7 172.3,469.6 172.6,517.6 172.7,519.3 M172.9,519.3 173.0,517.7 173.3,469.9 174.4,443.8 175.5,470.9 175.8,519.0 175.9,519.3 M176.1,519.3 176.2,519.2 176.5,471.5 177.6,445.7 178.7,473.2 179.0,519.3 179.1,519.3 M179.3,519.3 179.4,519.3 179.7,474.2 180.8,448.7 181.9,476.5 182.2,519.3 182.3,519.3 M182.5,519.3 182.6,519.3 182.9,477.9 184.0,452.8 185.1,481.0 185.4,519.3 185.5,519.3 M185.7,519.3 185.8,519.3 186.1,482.7 187.2,457.9 188.3,486.6 188.6,519.3 188.7,519.3 M188.9,519.3 189.0,519.3 189.3,489.0 190.4,465.1 191.5,494.7 191.8,519.3 191.9,519.3 M192.1,519.3 192.2,519.3 192.5,497.8 193.6,474.2 194.7,503.8 195.0,519.3 195.1,519.3 M195.3,519.3 195.4,519.3 195.7,506.9 196.8,483.5 197.9,513.5 198.2,519.3 198.3,519.3 M198.5,519.3 198.6,519.3 198.9,516.7 200.0,492.9 201.1,519.3 201.4,519.3 201.5,519.3 M201.7,519.3 201.8,519.3 202.1,519.3 203.2,496.7 204.3,519.3 204.6,519.3 204.7,519.3 M204.9,519.3 205.0,519.3 205.3,519.3 206.4,493.1 207.5,518.5 207.8,519.3 207.9,519.3 M208.1,519.3 208.2,519.3 208.5,517.3 209.6,489.4 210.7,514.6 211.0,519.3 211.1,519.3 M211.3,519.3 211.4,519.3 211.7,513.2 212.8,485.3 213.9,510.9 214.2,519.3 214.3,519.3 M214.5,519.3 214.6,519.3 214.9,510.0 216.0,482.9 217.1,509.4 217.4,519.3 217.5,519.3 M217.7,519.3 217.8,519.3 218.1,509.5 219.2,483.2 220.3,510.2 220.6,519.3 220.7,519.3 M220.9,519.3 221.0,519.3 221.3,510.7 222.4,484.8 223.5,512.0 223.8,519.3 223.9,519.3 M224.1,519.3 224.2,519.3 224.5,512.7 225.6,487.0 226.7,514.9 227.0,519.3 227.1,519.3 M227.3,519.3 227.4,519.3 227.7,516.8 228.8,493.5 229.9,519.3 230.2,519.3 230.3,519.3 M230.5,519.3 230.6,519.3 230.9,519.3 232.0,504.9 233.1,519.3 233.4,519.3 233.5,519.3 M233.7,519.3 233.8,519.3 234.1,519.3 235.2,512.7 236.3,519.3 236.6,519.3 236.7,519.3 M236.9,519.3 237.0,519.3 237.3,519.3 238.4,513.3 239.5,519.3 239.8,519.3 239.9,519.3 M240.1,519.3 240.2,519.3 240.5,519.3 241.6,509.8 242.7,519.3 243.0,519.3 243.1,519.3 M243.3,519.3 243.4,519.3 243.7,519.3 244.8,504.2 245.9,519.3 246.2,519.3 246.3,519.3 M246.5,519.3 246.6,519.3 246.9,519.3 248.0,496.5 249.1,519.3 249.4,519.3 249.5,519.3 M249.7,519.3 249.8,519.3 250.1,518.4 251.2,489.8 252.3,514.8 252.6,519.3 252.7,519.3 M252.9,519.3 253.0,519.3 253.3,513.2 254.4,485.2 255.5,510.5 255.8,519.3 255.9,519.3 M256.1,519.3 256.2,519.3 256.5,509.3 257.6,481.5 258.7,507.2 259.0,519.3 259.1,519.3 M259.3,519.3 259.4,519.3 259.7,506.3 260.8,479.0 261.9,505.2 262.2,519.3 262.3,519.3 M262.5,519.3 262.6,519.3 262.9,504.9 264.0,478.5 265.1,505.5 265.4,519.3 265.5,519.3 M265.7,519.3 265.8,519.3 266.1,506.3 267.2,480.8 268.3,508.6 268.6,519.3 268.7,519.3 M268.9,519.3 269.0,519.3 269.3,510.2 270.4,485.4 271.5,514.2 271.8,519.3 271.9,519.3 M272.1,519.3 272.2,519.3 272.5,516.6 273.6,492.3 274.7,519.3 275.0,519.3 275.1,519.3 M275.3,519.3 275.4,519.3 275.7,519.3 276.8,499.1 277.9,519.3 278.2,519.3 278.3,519.3 M278.5,519.3 278.6,519.3 278.9,519.3 280.0,505.9 281.1,519.3 281.4,519.3 281.5,519.3 M281.7,519.3 281.8,519.3 282.1,519.3 283.2,511.3 284.3,519.3 284.6,519.3 284.7,519.3 M284.9,519.3 285.0,519.3 285.3,519.3 286.4,514.5 287.5,519.3 287.8,519.3 287.9,519.3 M288.1,519.3 288.2,519.3 288.5,519.3 289.6,512.6 290.7,519.3 291.0,519.3 291.1,519.3 M291.3,519.3 291.4,519.3 291.7,519.3 292.8,506.7 293.9,519.3 294.2,519.3 294.3,519.3 M294.5,519.3 294.6,519.3 294.9,519.3 296.0,500.8 297.1,519.3 297.4,519.3 297.5,519.3 M297.7,519.3 297.8,519.3 298.1,519.3 299.2,495.1 300.3,519.3 300.6,519.3 300.7,519.3 M300.9,519.3 301.0,519.3 301.3,518.0 302.4,489.6 303.5,514.6 303.8,519.3 303.9,519.3 M304.1,519.3 304.2,519.3 304.5,513.2 305.6,485.4 306.7,511.2 307.0,519.3 307.1,519.3 M307.3,519.3 307.4,519.3 307.7,510.9 308.8,484.6 309.9,512.1 310.2,519.3 310.3,519.3 M310.5,519.3 310.6,519.3 310.9,513.2 312.0,487.9 313.1,516.3 313.4,519.3 313.5,519.3 M313.7,519.3 313.8,519.3 314.1,518.2 315.2,493.7 316.3,519.3 316.6,519.3 316.7,519.3 M316.9,519.3 317.0,519.3 317.3,519.3 318.4,500.2 319.5,519.3 319.8,519.3 319.9,519.3 M320.1,519.3 320.2,519.3 320.5,519.3 321.6,507.3 322.7,519.3 323.0,519.3 323.1,519.3 M323.3,519.3 323.4,519.3 323.7,519.3 324.8,514.8 325.9,519.3 326.2,519.3 326.3,519.3 M326.5,519.3 326.6,519.3 326.9,519.3 328.0,519.0 329.1,519.3 329.4,519.3 329.5,519.3 M329.7,519.3 329.8,519.3 330.1,519.3 331.2,512.1 332.3,519.3 332.6,519.3 332.7,519.3 M332.9,519.3 333.0,519.3 333.3,519.3 334.4,504.5 335.5,519.3 335.8,519.3 335.9,519.3 M336.1,519.3 336.2,519.3 336.5,519.3 337.6,498.8 338.7,519.3 339.0,519.3 339.1,519.3 M339.3,519.3 339.4,519.3 339.7,519.3 340.8,494.1 341.9,519.3 342.2,519.3 342.3,519.3 M342.5,519.3 342.6,519.3 342.9,518.3 344.0,490.7 345.1,516.4 345.4,519.3 345.5,519.3 M345.7,519.3 345.8,519.3 346.1,515.6 347.2,488.2 348.3,514.2 348.6,519.3 348.7,519.3 M348.9,519.3 349.0,519.3 349.3,513.6 350.4,486.5 351.5,512.9 351.8,519.3 351.9,519.3 M352.1,519.3 352.2,519.3 352.5,512.8 353.6,486.3 354.7,513.4 355.0,519.3 355.1,519.3 M355.3,519.3 355.4,519.3 355.7,514.1 356.8,488.3 357.9,515.8 358.2,519.3 358.3,519.3 M358.5,519.3 358.6,519.3 358.9,517.0 360.0,491.6 361.1,519.3 361.4,519.3 361.5,519.3 M361.7,519.3 361.8,519.3 362.1,519.3 363.2,496.6 364.3,519.3 364.6,519.3 364.7,519.3 M364.9,519.3 365.0,519.3 365.3,519.3 366.4,503.0 367.5,519.3 367.8,519.3 367.9,519.3 M368.1,519.3 368.2,519.3 368.5,519.3 369.6,510.6 370.7,519.3 371.0,519.3 371.1,519.3 M371.3,519.3 371.4,519.3 371.7,519.3 372.8,519.3 373.9,519.3 374.2,519.3 374.3,519.3 M374.5,519.3 374.6,519.3 374.9,519.3 376.0,519.3 377.1,519.3 377.4,519.3 377.5,519.3 M377.7,519.3 377.8,519.3 378.1,519.3 379.2,519.3 380.3,519.3 380.6,519.3 380.7,519.3 M380.9,519.3 381.0,519.3 381.3,519.3 382.4,519.3 383.5,519.3 383.8,519.3 383.9,519.3 M384.1,519.3 384.2,519.3 384.5,519.3 385.6,519.3 386.7,519.3 387.0,519.3 387.1,519.3 M387.3,519.3 387.4,519.3 387.7,519.3 388.8,519.3 389.9,519.3 390.2,519.3 390.3,519.3 M390.5,519.3 390.6,519.3 390.9,519.3" fill="none" stroke="#1818ff" stroke-width="0.85" />
<path d="M32.1,517.3 32.1,434.0 32.9,432.1 33.7,430.3 34.5,428.5 35.3,426.5 36.1,424.5 36.9,422.2 37.7,419.5 38.5,416.3 39.3,413.1 40.1,410.2 40.9,407.7 41.7,405.8 42.5,404.3 43.3,403.0 44.1,401.9 44.9,400.9 45.7,400.0 46.5,399.3 47.3,398.5 48.1,397.9 48.9,397.5 49.7,397.2 50.5,396.9 51.3,396.7 52.1,396.6 52.9,396.5 53.7,396.4 54.5,396.3 55.3,396.3 56.1,396.3 56.9,396.3 57.7,396.4 58.5,396.4 59.3,396.5 60.1,396.6 60.9,396.6 61.7,396.8 62.5,397.0 63.3,397.3 64.1,397.7 64.9,398.3 65.7,399.0 66.5,399.8 67.3,400.7 68.1,401.6 68.9,402.6 69.7,403.7 70.5,404.8 71.3,406.0 72.1,407.3 72.9,408.7 73.7,410.3 74.5,412.0 75.3,414.0 76.1,416.3 76.9,418.8 77.7,421.7 78.5,424.8 79.3,428.0 80.1,431.0 80.9,433.8 81.7,436.4 82.5,439.0 83.3,441.5 84.1,444.0 84.9,446.6 85.7,449.4 86.5,452.6 87.3,456.0 88.1,459.5 88.9,462.6 89.7,465.6 90.5,468.8 91.3,470.7 92.1,471.3 92.9,471.1 93.7,470.6 94.5,469.8 95.3,468.9 96.1,467.9 96.9,466.9 97.7,465.9 98.5,465.0 99.3,464.2 100.1,463.4 100.9,462.6 101.7,461.7 102.5,460.9 103.3,460.1 104.1,459.3 104.9,458.6 105.7,457.9 106.5,457.3 107.3,456.8 108.1,456.2 108.9,455.7 109.7,455.1 110.5,454.3 111.3,453.3 112.1,452.2 112.9,451.2 113.7,450.4 114.5,449.9 115.3,449.8 116.1,449.7 116.9,449.8 117.7,450.0 118.5,450.2 119.3,450.6 120.1,451.1 120.9,451.7 121.7,452.4 122.5,453.3 123.3,454.5 124.1,455.9 124.9,457.5 125.7,459.2 126.5,460.9 127.3,462.6 128.1,464.2 128.9,465.9 129.7,467.9 130.5,469.8 131.3,471.3 132.1,472.3 132.9,473.0 133.7,473.5 134.5,473.9 135.3,474.3 136.1,474.6 136.9,474.9 137.7,475.2 138.5,475.4 139.3,475.7 140.1,476.0 140.9,476.3 141.7,476.4 142.5,476.5 143.3,476.7 144.1,477.2 144.9,478.0 145.7,479.0 146.5,480.1 147.3,481.4 148.1,482.7 148.9,484.1 149.7,485.6 150.5,487.2 151.3,489.0 152.1,491.1 152.9,493.7 153.7,497.0 154.5,500.7 155.3,504.7 156.1,508.4 156.9,511.2 157.7,513.4 158.5,515.3 159.3,517.3 160.1,517.3 160.9,517.3 161.7,517.3 162.5,517.3 163.3,517.3 164.1,511.8 164.9,504.7 165.7,498.9 166.5,495.6 167.3,494.0 168.1,493.3 168.9,492.9 169.7,492.6 170.5,492.1 171.3,491.7 172.1,491.3 172.9,490.9 173.7,490.6 174.5,490.2 175.3,489.9 176.1,489.5 176.9,489.1 177.7,488.6 178.5,488.1 179.3,487.5 180.1,487.0 180.9,486.4 181.7,485.8 182.5,485.2 183.3,484.6 184.1,484.0 184.9,483.4 185.7,482.9 186.5,482.3 187.3,481.7 188.1,481.1 188.9,480.4 189.7,479.7 190.5,479.1 191.3,478.4 192.1,477.7 192.9,477.1 193.7,476.5 194.5,476.0 195.3,475.5 196.1,475.2 196.9,475.0 197.7,474.9 198.5,474.9 199.3,474.9 200.1,475.1 200.9,475.4 201.7,475.8 202.5,476.3 203.3,477.0 204.1,477.8 204.9,478.9 205.7,480.1 206.5,481.5 207.3,483.2 208.1,485.1 208.9,487.7 209.7,491.2 210.5,496.2 211.3,502.2 212.1,509.0 212.9,516.4 213.7,517.3 214.5,517.3 215.3,517.3 216.1,517.3 216.9,517.3 217.7,517.3 218.5,517.3 219.3,517.3 220.1,516.5 220.9,512.4 221.7,507.4 222.5,502.3 223.3,497.6 224.1,494.0 224.9,491.7 225.7,490.4 226.5,490.0 227.3,490.3 228.1,490.9 228.9,492.2 229.7,494.1 230.5,496.3 231.3,498.2 232.1,499.6 232.9,500.5 233.7,500.7 234.5,500.4 235.3,499.9 236.1,499.1 236.9,498.3 237.7,497.4 238.5,496.5 239.3,495.7 240.1,495.0 240.9,494.3 241.7,493.5 242.5,492.7 243.3,491.9 244.1,491.1 244.9,490.3 245.7,489.5 246.5,488.8 247.3,488.0 248.1,487.3 248.9,486.7 249.7,486.1 250.5,485.6 251.3,485.2 252.1,485.0 252.9,484.9 253.7,484.9 254.5,485.1 255.3,485.6 256.1,486.2 256.9,487.1 257.7,488.1 258.5,489.3 259.3,490.8 260.1,492.7 260.9,494.8 261.7,497.3 262.5,499.9 263.3,502.6 264.1,505.3 264.9,508.3 265.7,511.8 266.5,515.5 267.3,517.3 268.1,517.3 268.9,517.3 269.7,517.3 270.5,517.3 271.3,517.3 272.1,517.3 272.9,516.9 273.7,514.0 274.5,511.0 275.3,508.1 276.1,505.4 276.9,502.9 277.7,500.6 278.5,498.8 279.3,497.3 280.1,496.1 280.9,495.2 281.7,494.4 282.5,494.0 283.3,493.7 284.1,493.6 284.9,494.0 285.7,494.7 286.5,495.8 287.3,496.9 288.1,497.9 288.9,498.7 289.7,499.2 290.5,499.5 291.3,499.7 292.1,499.8 292.9,499.8 293.7,499.7 294.5,499.6 295.3,499.5 296.1,499.3 296.9,499.1 297.7,498.9 298.5,498.5 299.3,498.1 300.1,497.7 300.9,497.2 301.7,496.8 302.5,496.4 303.3,496.1 304.1,495.8 304.9,495.7 305.7,495.7 306.5,495.8 307.3,495.9 308.1,496.0 308.9,496.2 309.7,496.5 310.5,496.8 311.3,497.2 312.1,497.7 312.9,498.4 313.7,499.2 314.5,500.3 315.3,501.7 316.1,503.4 316.9,505.3 317.7,507.5 318.5,509.6 319.3,511.7 320.1,513.5 320.9,515.3 321.7,517.2 322.5,517.3 323.3,517.3 324.1,517.3 324.9,517.3 325.7,516.9 326.5,514.0 327.3,512.0 328.1,510.2 328.9,508.5 329.7,507.0 330.5,505.6 331.3,504.3 332.1,503.0 332.9,501.6 333.7,500.2 334.5,499.0 335.3,498.0 336.1,497.1 336.9,496.5 337.7,496.1 338.5,496.0 339.3,496.2 340.1,496.4 340.9,496.8 341.7,497.2 342.5,497.7 343.3,498.2 344.1,498.6 344.9,499.0 345.7,499.3 346.5,499.4 347.3,499.4 348.1,499.2 348.9,498.7 349.7,498.0 350.5,497.2 351.3,496.2 352.1,495.2 352.9,494.1 353.7,493.1 354.5,492.2 355.3,491.5 356.1,491.0 356.9,490.5 357.7,490.1 358.5,489.7 359.3,489.4 360.1,489.2 360.9,489.0 361.7,488.8 362.5,488.8 363.3,488.8 364.1,488.8 364.9,488.9 365.7,489.0 366.5,489.2 367.3,489.5 368.1,490.0 368.9,490.8 369.7,491.8 370.5,493.1 371.3,494.9 372.1,497.0 372.9,499.3 373.7,501.8 374.5,504.4 375.3,507.1 376.1,509.8 376.9,512.4 377.7,514.8 378.5,517.0 379.3,517.3 380.1,517.3 380.9,517.3 381.7,517.3 382.5,517.3 383.3,514.8 384.1,511.9 384.9,509.2 385.7,506.8 386.5,504.8 387.3,503.1 388.1,501.7 388.9,500.5 389.7,499.4 390.5,498.2 391.0,497.5 391.0,517.3 Z" fill="#e070f0" fill-opacity="0.6" stroke="none"/>
<path d="M32.6,432.8 33.5,457.3 33.8,504.5 33.9,519.3 M34.1,519.3 34.2,503.7 34.5,455.1 35.4,426.3 36.3,450.4 36.6,497.4 36.7,519.3 M36.9,519.3 37.0,496.5 37.3,447.6 38.2,417.5 39.1,440.4 39.4,487.1 39.5,519.3 M39.7,519.3 39.8,485.9 40.1,436.9 41.0,407.5 41.9,432.0 42.2,479.2 42.3,519.3 M42.5,519.3 42.6,478.7 42.9,430.3 43.8,402.3 44.7,427.7 45.0,475.2 45.1,519.3 M45.3,519.3 45.4,474.9 45.7,426.7 46.6,399.2 47.5,425.0 47.8,472.6 47.9,519.3 M48.1,519.3 48.2,472.4 48.5,424.3 49.4,397.3 50.3,423.6 50.6,471.4 50.7,519.3 M50.9,519.3 51.0,471.3 51.3,423.4 52.2,396.6 53.1,423.0 53.4,470.9 53.5,519.3 M53.7,519.3 53.8,470.8 54.1,422.9 55.0,396.3 55.9,422.9 56.2,470.8 56.3,519.3 M56.5,519.3 56.6,470.8 56.9,422.9 57.8,396.4 58.7,423.1 59.0,470.9 59.1,519.3 M59.3,519.3 59.4,471.0 59.7,423.1 60.6,396.6 61.5,423.3 61.8,471.2 61.9,519.3 M62.1,519.3 62.2,471.3 62.5,423.6 63.4,397.3 64.3,424.5 64.6,472.6 64.7,519.3 M64.9,519.3 65.0,472.8 65.3,425.2 66.2,399.5 67.1,427.1 67.4,475.3 67.5,519.3 M67.7,519.3 67.8,475.7 68.1,428.2 69.0,402.7 69.9,430.6 70.2,478.9 70.3,519.3 M70.5,519.3 70.6,479.3 70.9,431.9 71.8,406.8 72.7,435.0 73.0,483.4 73.1,519.3 M73.3,519.3 73.4,484.1 73.7,436.8 74.6,412.3 75.5,441.2 75.8,490.0 75.9,519.3 M76.1,519.3 76.2,490.9 76.5,444.0 77.4,420.6 78.3,450.8 78.6,499.9 78.7,519.3 M78.9,519.3 79.0,501.1 79.3,454.5 80.2,431.4 81.1,461.2 81.4,510.1 81.5,519.3 M81.7,519.3 81.8,511.1 82.1,464.2 83.0,440.5 83.9,470.1 84.2,518.9 84.3,519.3 M84.5,519.3 84.6,519.3 84.9,473.1 85.8,449.8 86.7,480.2 87.0,519.3 87.1,519.3 M87.3,519.3 87.4,519.3 87.7,484.2 88.6,461.5 89.5,491.5 89.8,519.3 89.9,519.3 M90.1,519.3 90.2,519.3 90.5,495.3 91.4,470.8 92.3,497.9 92.6,519.3 92.7,519.3 M92.9,519.3 93.0,519.3 93.3,497.5 94.2,470.1 95.1,495.7 95.4,519.3 95.5,519.3 M95.7,519.3 95.8,519.3 96.1,494.6 97.0,466.8 97.9,492.3 98.2,519.3 98.3,519.3 M98.5,519.3 98.6,519.3 98.9,491.2 99.8,463.7 100.7,489.3 101.0,519.3 101.1,519.3 M101.3,519.3 101.4,519.3 101.7,488.4 102.6,460.8 103.5,486.5 103.8,519.3 103.9,519.3 M104.1,519.3 104.2,519.3 104.5,485.6 105.4,458.2 106.3,484.1 106.6,519.3 106.7,519.3 M106.9,519.3 107.0,519.3 107.3,483.4 108.2,456.2 109.1,482.1 109.4,519.3 109.5,519.3 M109.7,519.3 109.8,519.3 110.1,481.3 111.0,453.7 111.9,479.0 112.2,519.3 112.3,519.3 M112.5,519.3 112.6,519.3 112.9,477.8 113.8,450.3 114.7,476.5 115.0,519.3 115.1,519.3 M115.3,519.3 115.4,519.3 115.7,476.3 116.6,449.8 117.5,476.5 117.8,519.3 117.9,519.3 M118.1,519.3 118.2,519.3 118.5,476.8 119.4,450.7 120.3,477.8 120.6,519.3 120.7,519.3 M120.9,519.3 121.0,519.3 121.3,478.6 122.2,453.0 123.1,480.9 123.4,519.3 123.5,519.3 M123.7,519.3 123.8,519.3 124.1,482.5 125.0,457.7 125.9,486.3 126.2,519.3 126.3,519.3 M126.5,519.3 126.6,519.3 126.9,488.3 127.8,463.6 128.7,492.2 129.0,519.3 129.1,519.3 M129.3,519.3 129.4,519.3 129.7,494.5 130.6,470.0 131.5,498.2 131.8,519.3 131.9,519.3 M132.1,519.3 132.2,519.3 132.5,499.2 133.4,473.3 134.3,500.5 134.6,519.3 134.7,519.3 M134.9,519.3 135.0,519.3 135.3,500.9 136.2,474.6 137.1,501.6 137.4,519.3 137.5,519.3 M137.7,519.3 137.8,519.3 138.1,501.9 139.0,475.6 139.9,502.6 140.2,519.3 140.3,519.3 M140.5,519.3 140.6,519.3 140.9,502.9 141.8,476.4 142.7,503.1 143.0,519.3 143.1,519.3 M143.3,519.3 143.4,519.3 143.7,503.5 144.6,477.7 145.5,505.4 145.8,519.3 145.9,519.3 M146.1,519.3 146.2,519.3 146.5,506.7 147.4,481.5 148.3,509.7 148.6,519.3 148.7,519.3 M148.9,519.3 149.0,519.3 149.3,511.4 150.2,486.6 151.1,515.2 151.4,519.3 151.5,519.3 M151.7,519.3 151.8,519.3 152.1,517.6 153.0,494.1 153.9,519.3 154.2,519.3 154.3,519.3 M154.5,519.3 154.6,519.3 154.9,519.3 155.8,507.1 156.7,519.3 157.0,519.3 157.1,519.3 M157.3,519.3 157.4,519.3 157.7,519.3 158.6,515.5 159.5,519.3 159.8,519.3 159.9,519.3 M160.1,519.3 160.2,519.3 160.5,519.3 161.4,519.3 162.3,519.3 162.6,519.3 162.7,519.3 M162.9,519.3 163.0,519.3 163.3,519.3 164.2,511.0 165.1,519.3 165.4,519.3 165.5,519.3 M165.7,519.3 165.8,519.3 166.1,519.3 167.0,494.4 167.9,519.3 168.2,519.3 168.3,519.3 M168.5,519.3 168.6,519.3 168.9,519.3 169.8,492.5 170.7,518.6 171.0,519.3 171.1,519.3 M171.3,519.3 171.4,519.3 171.7,518.1 172.6,491.0 173.5,517.3 173.8,519.3 173.9,519.3 M174.1,519.3 174.2,519.3 174.5,516.9 175.4,489.8 176.3,516.0 176.6,519.3 176.7,519.3 M176.9,519.3 177.0,519.3 177.3,515.4 178.2,488.2 179.1,514.2 179.4,519.3 179.5,519.3 M179.7,519.3 179.8,519.3 180.1,513.6 181.0,486.3 181.9,512.3 182.2,519.3 182.3,519.3 M182.5,519.3 182.6,519.3 182.9,511.6 183.8,484.3 184.7,510.2 185.0,519.3 185.1,519.3 M185.3,519.3 185.4,519.3 185.7,509.5 186.6,482.2 187.5,508.1 187.8,519.3 187.9,519.3 M188.1,519.3 188.2,519.3 188.5,507.4 189.4,480.0 190.3,505.8 190.6,519.3 190.7,519.3 M190.9,519.3 191.0,519.3 191.3,505.0 192.2,477.6 193.1,503.5 193.4,519.3 193.5,519.3 M193.7,519.3 193.8,519.3 194.1,502.8 195.0,475.7 195.9,501.9 196.2,519.3 196.3,519.3 M196.5,519.3 196.6,519.3 196.9,501.7 197.8,474.9 198.7,501.5 199.0,519.3 199.1,519.3 M199.3,519.3 199.4,519.3 199.7,501.6 200.6,475.3 201.5,502.3 201.8,519.3 201.9,519.3 M202.1,519.3 202.2,519.3 202.5,502.9 203.4,477.1 204.3,504.7 204.6,519.3 204.7,519.3 M204.9,519.3 205.0,519.3 205.3,506.0 206.2,480.9 207.1,509.4 207.4,519.3 207.5,519.3 M207.7,519.3 207.8,519.3 208.1,511.7 209.0,488.0 209.9,519.2 210.2,519.3 210.3,519.3 M210.5,519.3 210.6,519.3 210.9,519.3 211.8,506.0 212.7,519.3 213.0,519.3 213.1,519.3 M213.3,519.3 213.4,519.3 213.7,519.3 214.6,519.3 215.5,519.3 215.8,519.3 215.9,519.3 M216.1,519.3 216.2,519.3 216.5,519.3 217.4,519.3 218.3,519.3 218.6,519.3 218.7,519.3 M218.9,519.3 219.0,519.3 219.3,519.3 220.2,516.1 221.1,519.3 221.4,519.3 221.5,519.3 M221.7,519.3 221.8,519.3 222.1,519.3 223.0,499.3 223.9,519.3 224.2,519.3 224.3,519.3 M224.5,519.3 224.6,519.3 224.9,518.4 225.8,490.3 226.7,516.7 227.0,519.3 227.1,519.3 M227.3,519.3 227.4,519.3 227.7,517.2 228.6,491.6 229.5,519.3 229.8,519.3 229.9,519.3 M230.1,519.3 230.2,519.3 230.5,519.3 231.4,498.4 232.3,519.3 232.6,519.3 232.7,519.3 M232.9,519.3 233.0,519.3 233.3,519.3 234.2,500.6 235.1,519.3 235.4,519.3 235.5,519.3 M235.7,519.3 235.8,519.3 236.1,519.3 237.0,498.2 237.9,519.3 238.2,519.3 238.3,519.3 M238.5,519.3 238.6,519.3 238.9,519.3 239.8,495.3 240.7,519.3 241.0,519.3 241.1,519.3 M241.3,519.3 241.4,519.3 241.7,519.3 242.6,492.6 243.5,518.3 243.8,519.3 243.9,519.3 M244.1,519.3 244.2,519.3 244.5,517.4 245.4,489.8 246.3,515.5 246.6,519.3 246.7,519.3 M246.9,519.3 247.0,519.3 247.3,514.7 248.2,487.2 249.1,513.1 249.4,519.3 249.5,519.3 M249.7,519.3 249.8,519.3 250.1,512.4 251.0,485.3 251.9,511.6 252.2,519.3 252.3,519.3 M252.5,519.3 252.6,519.3 252.9,511.5 253.8,484.9 254.7,511.9 255.0,519.3 255.1,519.3 M255.3,519.3 255.4,519.3 255.7,512.5 256.6,486.7 257.5,514.5 257.8,519.3 257.9,519.3 M258.1,519.3 258.2,519.3 258.5,515.9 259.4,491.0 260.3,519.3 260.6,519.3 260.7,519.3 M260.9,519.3 261.0,519.3 261.3,519.3 262.2,498.9 263.1,519.3 263.4,519.3 263.5,519.3 M263.7,519.3 263.8,519.3 264.1,519.3 265.0,508.7 265.9,519.3 266.2,519.3 266.3,519.3 M266.5,519.3 266.6,519.3 266.9,519.3 267.8,519.3 268.7,519.3 269.0,519.3 269.1,519.3 M269.3,519.3 269.4,519.3 269.7,519.3 270.6,519.3 271.5,519.3 271.8,519.3 271.9,519.3 M272.1,519.3 272.2,519.3 272.5,519.3 273.4,515.1 274.3,519.3 274.6,519.3 274.7,519.3 M274.9,519.3 275.0,519.3 275.3,519.3 276.2,505.1 277.1,519.3 277.4,519.3 277.5,519.3 M277.7,519.3 277.8,519.3 278.1,519.3 279.0,497.8 279.9,519.3 280.2,519.3 280.3,519.3 M280.5,519.3 280.6,519.3 280.9,519.3 281.8,494.4 282.7,519.3 283.0,519.3 283.1,519.3 M283.3,519.3 283.4,519.3 283.7,519.3 284.6,493.8 285.5,519.3 285.8,519.3 285.9,519.3 M286.1,519.3 286.2,519.3 286.5,519.3 287.4,497.0 288.3,519.3 288.6,519.3 288.7,519.3 M288.9,519.3 289.0,519.3 289.3,519.3 290.2,499.4 291.1,519.3 291.4,519.3 291.5,519.3 M291.7,519.3 291.8,519.3 292.1,519.3 293.0,499.8 293.9,519.3 294.2,519.3 294.3,519.3 M294.5,519.3 294.6,519.3 294.9,519.3 295.8,499.4 296.7,519.3 297.0,519.3 297.1,519.3 M297.3,519.3 297.4,519.3 297.7,519.3 298.6,498.5 299.5,519.3 299.8,519.3 299.9,519.3 M300.1,519.3 300.2,519.3 300.5,519.3 301.4,496.9 302.3,519.3 302.6,519.3 302.7,519.3 M302.9,519.3 303.0,519.3 303.3,519.3 304.2,495.8 305.1,519.3 305.4,519.3 305.5,519.3 M305.7,519.3 305.8,519.3 306.1,519.3 307.0,495.8 307.9,519.3 308.2,519.3 308.3,519.3 M308.5,519.3 308.6,519.3 308.9,519.3 309.8,496.5 310.7,519.3 311.0,519.3 311.1,519.3 M311.3,519.3 311.4,519.3 311.7,519.3 312.6,498.1 313.5,519.3 313.8,519.3 313.9,519.3 M314.1,519.3 314.2,519.3 314.5,519.3 315.4,501.9 316.3,519.3 316.6,519.3 316.7,519.3 M316.9,519.3 317.0,519.3 317.3,519.3 318.2,508.8 319.1,519.3 319.4,519.3 319.5,519.3 M319.7,519.3 319.8,519.3 320.1,519.3 321.0,515.5 321.9,519.3 322.2,519.3 322.3,519.3 M322.5,519.3 322.6,519.3 322.9,519.3 323.8,519.3 324.7,519.3 325.0,519.3 325.1,519.3 M325.3,519.3 325.4,519.3 325.7,519.3 326.6,513.7 327.5,519.3 327.8,519.3 327.9,519.3 M328.1,519.3 328.2,519.3 328.5,519.3 329.4,507.6 330.3,519.3 330.6,519.3 330.7,519.3 M330.9,519.3 331.0,519.3 331.3,519.3 332.2,502.8 333.1,519.3 333.4,519.3 333.5,519.3 M333.7,519.3 333.8,519.3 334.1,519.3 335.0,498.3 335.9,519.3 336.2,519.3 336.3,519.3 M336.5,519.3 336.6,519.3 336.9,519.3 337.8,496.1 338.7,519.3 339.0,519.3 339.1,519.3 M339.3,519.3 339.4,519.3 339.7,519.3 340.6,496.6 341.5,519.3 341.8,519.3 341.9,519.3 M342.1,519.3 342.2,519.3 342.5,519.3 343.4,498.2 344.3,519.3 344.6,519.3 344.7,519.3 M344.9,519.3 345.0,519.3 345.3,519.3 346.2,499.4 347.1,519.3 347.4,519.3 347.5,519.3 M347.7,519.3 347.8,519.3 348.1,519.3 349.0,498.6 349.9,519.3 350.2,519.3 350.3,519.3 M350.5,519.3 350.6,519.3 350.9,519.3 351.8,495.6 352.7,519.3 353.0,519.3 353.1,519.3 M353.3,519.3 353.4,519.3 353.7,519.3 354.6,492.1 355.5,517.9 355.8,519.3 355.9,519.3 M356.1,519.3 356.2,519.3 356.5,517.3 357.4,490.2 358.3,516.4 358.6,519.3 358.7,519.3 M358.9,519.3 359.0,519.3 359.3,516.1 360.2,489.2 361.1,515.6 361.4,519.3 361.5,519.3 M361.7,519.3 361.8,519.3 362.1,515.4 363.0,488.8 363.9,515.4 364.2,519.3 364.3,519.3 M364.5,519.3 364.6,519.3 364.9,515.5 365.8,489.0 366.7,515.9 367.0,519.3 367.1,519.3 M367.3,519.3 367.4,519.3 367.7,516.3 368.6,490.4 369.5,518.1 369.8,519.3 369.9,519.3 M370.1,519.3 370.2,519.3 370.5,519.3 371.4,495.1 372.3,519.3 372.6,519.3 372.7,519.3 M372.9,519.3 373.0,519.3 373.3,519.3 374.2,503.4 375.1,519.3 375.4,519.3 375.5,519.3 M375.7,519.3 375.8,519.3 376.1,519.3 377.0,512.7 377.9,519.3 378.2,519.3 378.3,519.3 M378.5,519.3 378.6,519.3 378.9,519.3 379.8,519.3 380.7,519.3 381.0,519.3 381.1,519.3 M381.3,519.3 381.4,519.3 381.7,519.3 382.6,518.8 383.5,519.3 383.8,519.3 383.9,519.3 M384.1,519.3 384.2,519.3 384.5,519.3 385.4,507.7 386.3,519.3 386.6,519.3 386.7,519.3 M386.9,519.3 387.0,519.3 387.3,519.3 388.2,501.6 389.1,519.3 389.4,519.3 389.5,519.3 M389.7,519.3 389.8,519.3 390.1,519.3 391.0,497.5" fill="none" stroke="#e800f0" stroke-width="0.85" />
<path d="M32.1,517.3 32.1,446.0 32.9,443.8 33.7,441.6 34.5,439.5 35.3,437.6 36.1,435.8 36.9,434.3 37.7,432.8 38.5,431.5 39.3,430.2 40.1,428.9 40.9,427.6 41.7,426.4 42.5,425.0 43.3,423.8 44.1,422.5 44.9,421.4 45.7,420.3 46.5,419.5 47.3,418.6 48.1,417.9 48.9,417.3 49.7,416.7 50.5,416.4 51.3,416.3 52.1,416.5 52.9,416.9 53.7,417.7 54.5,418.7 55.3,420.0 56.1,421.8 56.9,424.0 57.7,426.3 58.5,428.5 59.3,430.8 60.1,433.1 60.9,435.7 61.7,438.4 62.5,441.3 63.3,444.6 64.1,448.3 64.9,452.5 65.7,456.5 66.5,460.1 67.3,462.6 68.1,464.2 68.9,465.0 69.7,465.1 70.5,464.7 71.3,463.6 72.1,461.7 72.9,459.4 73.7,457.4 74.5,455.8 75.3,454.6 76.1,453.5 76.9,452.4 77.7,451.6 78.5,450.9 79.3,450.5 80.1,450.3 80.9,450.4 81.7,450.6 82.5,451.1 83.3,452.0 84.1,453.2 84.9,455.1 85.7,457.5 86.5,460.4 87.3,463.4 88.1,466.4 88.9,469.8 89.7,473.6 90.5,476.5 91.3,477.8 92.1,477.8 92.9,477.2 93.7,476.5 94.5,476.1 95.3,476.3 96.1,477.0 96.9,478.1 97.7,479.4 98.5,481.2 99.3,483.7 100.1,488.1 100.9,495.3 101.7,504.3 102.5,517.0 103.3,517.3 104.1,517.3 104.9,517.3 105.7,517.3 106.5,517.3 107.3,517.3 108.1,517.3 108.9,517.3 109.7,517.3 110.5,517.3 111.3,517.3 112.1,517.3 112.9,517.3 113.7,517.3 114.5,517.3 115.3,517.3 116.1,517.3 116.9,517.3 117.7,517.3 118.5,517.3 119.3,517.3 120.1,517.3 120.9,517.3 121.7,517.3 122.5,517.3 123.3,517.3 124.1,517.3 124.9,517.3 125.7,517.3 126.5,517.3 127.3,517.3 128.1,517.3 128.9,517.3 129.7,517.3 130.5,517.3 131.3,517.3 132.1,517.3 132.9,517.3 133.7,517.3 134.5,517.3 135.3,517.3 136.1,517.3 136.9,517.3 137.7,517.3 138.5,517.3 139.3,517.3 140.1,517.3 140.9,517.3 141.7,517.3 142.5,517.3 143.3,517.3 144.1,517.3 144.9,517.3 145.7,517.3 146.5,517.3 147.3,517.3 148.1,517.3 148.9,517.3 149.7,517.3 150.5,517.3 151.3,517.3 152.1,517.3 152.9,517.3 153.7,517.3 154.5,517.3 155.3,517.3 156.1,517.3 156.9,517.3 157.7,517.3 158.5,517.3 159.3,517.3 160.1,517.3 160.9,517.3 161.7,517.3 162.5,517.3 163.3,517.3 164.1,517.3 164.9,517.3 165.7,517.3 166.5,517.3 167.3,517.3 168.1,517.3 168.9,517.3 169.7,517.3 170.5,517.3 171.3,517.3 172.1,517.3 172.9,517.3 173.7,517.3 174.5,517.3 175.3,517.3 176.1,517.3 176.9,517.3 177.7,517.3 178.5,517.3 179.3,517.3 180.1,517.3 180.9,517.3 181.7,517.3 182.5,517.3 183.3,517.3 184.1,517.3 184.9,517.3 185.7,517.3 186.5,517.3 187.3,517.3 188.1,517.3 188.9,517.3 189.7,517.3 190.5,517.3 191.3,517.3 192.1,517.3 192.9,517.3 193.7,517.3 194.5,517.3 195.3,517.3 196.1,517.3 196.9,517.3 197.7,517.3 198.5,517.3 199.3,517.3 200.1,517.3 200.9,517.3 201.7,517.3 202.5,517.3 203.3,517.3 204.1,517.3 204.9,517.3 205.7,517.3 206.5,517.3 207.3,517.3 208.1,517.3 208.9,517.3 209.7,517.3 210.5,517.3 211.3,517.3 212.1,517.3 212.9,517.3 213.7,517.3 214.5,517.3 215.3,517.3 216.1,517.3 216.9,517.3 217.7,517.3 218.5,517.3 219.3,517.3 220.1,517.3 220.9,517.3 221.7,517.3 222.5,517.3 223.3,517.3 224.1,517.3 224.9,517.3 225.7,517.3 226.5,517.3 227.3,517.3 228.1,517.3 228.9,517.3 229.7,517.3 230.5,517.3 231.3,517.3 232.1,517.3 232.9,517.3 233.7,517.3 234.5,517.3 235.3,517.3 236.1,517.3 236.9,517.3 237.7,517.3 238.5,517.3 239.3,517.3 240.1,517.3 240.9,517.3 241.7,517.3 242.5,517.3 243.3,517.3 244.1,517.3 244.9,517.3 245.7,517.3 246.5,517.3 247.3,517.3 248.1,517.3 248.9,517.3 249.7,517.3 250.5,517.3 251.3,517.3 252.1,517.3 252.9,517.3 253.7,517.3 254.5,517.3 255.3,517.3 256.1,517.3 256.9,517.3 257.7,517.3 258.5,517.3 259.3,517.3 260.1,517.3 260.9,517.3 261.7,517.3 262.5,517.3 263.3,517.3 264.1,517.3 264.9,517.3 265.7,517.3 266.5,517.3 267.3,517.3 268.1,517.3 268.9,517.3 269.7,517.3 270.5,517.3 271.3,517.3 272.1,517.3 272.9,517.3 273.7,517.3 274.5,517.3 275.3,517.3 276.1,517.3 276.9,517.3 277.7,517.3 278.5,517.3 279.3,517.3 280.1,517.3 280.9,517.3 281.7,517.3 282.5,517.3 283.3,517.3 284.1,517.3 284.9,517.3 285.7,517.3 286.5,517.3 287.3,517.3 288.1,517.3 288.9,517.3 289.7,517.3 290.5,517.3 291.3,517.3 292.1,517.3 292.9,517.3 293.7,517.3 294.5,517.3 295.3,517.3 296.1,517.3 296.9,517.3 297.7,517.3 298.5,517.3 299.3,517.3 300.1,517.3 300.9,517.3 301.7,517.3 302.5,517.3 303.3,517.3 304.1,517.3 304.9,517.3 305.7,517.3 306.5,517.3 307.3,517.3 308.1,517.3 308.9,517.3 309.7,517.3 310.5,517.3 311.3,517.3 312.1,517.3 312.9,517.3 313.7,517.3 314.5,517.3 315.3,517.3 316.1,517.3 316.9,517.3 317.7,517.3 318.5,517.3 319.3,517.3 320.1,517.3 320.9,517.3 321.7,517.3 322.5,517.3 323.3,517.3 324.1,517.3 324.9,517.3 325.7,517.3 326.5,517.3 327.3,517.3 328.1,517.3 328.9,517.3 329.7,517.3 330.5,517.3 331.3,517.3 332.1,517.3 332.9,517.3 333.7,517.3 334.5,517.3 335.3,517.3 336.1,517.3 336.9,517.3 337.7,517.3 338.5,517.3 339.3,517.3 340.1,517.3 340.9,517.3 341.7,517.3 342.5,517.3 343.3,517.3 344.1,517.3 344.9,517.3 345.7,517.3 346.5,517.3 347.3,517.3 348.1,517.3 348.9,517.3 349.7,517.3 350.5,517.3 351.3,517.3 352.1,517.3 352.9,517.3 353.7,517.3 354.5,517.3 355.3,517.3 356.1,517.3 356.9,517.3 357.7,517.3 358.5,517.3 359.3,517.3 360.1,517.3 360.9,517.3 361.7,517.3 362.5,517.3 363.3,517.3 364.1,517.3 364.9,517.3 365.7,517.3 366.5,517.3 367.3,517.3 368.1,517.3 368.9,517.3 369.7,517.3 370.5,517.3 371.3,517.3 372.1,517.3 372.9,517.3 373.7,517.3 374.5,517.3 375.3,517.3 376.1,517.3 376.9,517.3 377.7,517.3 378.5,517.3 379.3,517.3 380.1,517.3 380.9,517.3 381.7,517.3 382.5,517.3 383.3,517.3 384.1,517.3 384.9,517.3 385.7,517.3 386.5,517.3 387.3,517.3 388.1,517.3 388.9,517.3 389.7,517.3 390.5,517.3 391.0,517.3 391.0,517.3 Z" fill="#6cc870" fill-opacity="0.94" stroke="none"/>
<path d="M32.3,472.2 32.9,443.8 33.5,468.7 33.7,516.0 33.8,519.3 M35.6,519.3 35.7,511.2 35.9,462.9 36.5,435.0 37.1,460.4 37.3,507.9 37.4,519.3 M39.2,519.3 39.3,504.7 39.5,456.5 40.1,428.9 40.7,454.5 40.9,502.0 41.0,519.3 M42.8,519.3 42.9,498.9 43.1,450.7 43.7,423.1 44.3,448.8 44.5,496.3 44.6,519.3 M46.4,519.3 46.5,494.0 46.7,445.9 47.3,418.6 47.9,444.7 48.1,492.3 48.2,519.3 M50.0,519.3 50.1,491.0 50.3,443.1 50.9,416.3 51.5,442.9 51.7,490.8 51.8,519.3 M53.6,519.3 53.7,492.1 53.9,444.5 54.5,418.7 55.1,446.3 55.3,494.6 55.4,519.3 M57.2,519.3 57.3,499.5 57.5,452.2 58.1,427.4 58.7,455.8 58.9,504.2 59.0,519.3 M60.8,519.3 60.9,510.0 61.1,462.8 61.7,438.4 62.3,467.3 62.5,515.9 62.6,519.3 M64.4,519.3 64.5,519.3 64.7,477.9 65.3,454.6 65.9,484.2 66.1,519.3 66.2,519.3 M68.0,519.3 68.1,519.3 68.3,491.0 68.9,465.0 69.5,491.7 69.7,519.3 69.8,519.3 M71.6,519.3 71.7,519.3 71.9,488.9 72.5,460.6 73.1,485.4 73.3,519.3 73.4,519.3 M75.2,519.3 75.3,519.3 75.5,481.0 76.1,453.5 76.7,479.3 76.9,519.3 77.0,519.3 M78.8,519.3 78.9,519.3 79.1,477.2 79.7,450.4 80.3,476.9 80.5,519.3 80.6,519.3 M82.4,519.3 82.5,519.3 82.7,477.9 83.3,452.0 83.9,479.5 84.1,519.3 84.2,519.3 M86.0,519.3 86.1,519.3 86.3,486.2 86.9,461.9 87.5,490.9 87.7,519.3 87.8,519.3 M89.6,519.3 89.7,519.3 89.9,500.9 90.5,476.5 91.1,504.2 91.3,519.3 91.4,519.3 M93.2,519.3 93.3,519.3 93.5,503.3 94.1,476.2 94.7,502.7 94.9,519.3 95.0,519.3 M96.8,519.3 96.9,519.3 97.1,504.9 97.7,479.4 98.3,507.4 98.5,519.3 98.6,519.3 M100.4,519.3 100.5,519.3 100.7,519.3 101.3,499.6 101.9,519.3 102.1,519.3 102.2,519.3 M104.0,519.3 104.1,519.3 104.3,519.3 104.9,519.3 105.5,519.3 105.7,519.3 105.8,519.3 M107.6,519.3 107.7,519.3 107.9,519.3 108.5,519.3 109.1,519.3 109.3,519.3 109.4,519.3 M111.2,519.3 111.3,519.3 111.5,519.3 112.1,519.3 112.7,519.3 112.9,519.3 113.0,519.3 M114.8,519.3 114.9,519.3 115.1,519.3 115.7,519.3 116.3,519.3 116.5,519.3 116.6,519.3 M118.4,519.3 118.5,519.3 118.7,519.3 119.3,519.3 119.9,519.3 120.1,519.3 120.2,519.3 M122.0,519.3 122.1,519.3 122.3,519.3 122.9,519.3 123.5,519.3 123.7,519.3 123.8,519.3 M125.6,519.3 125.7,519.3 125.9,519.3 126.5,519.3 127.1,519.3 127.3,519.3 127.4,519.3 M129.2,519.3 129.3,519.3 129.5,519.3 130.1,519.3 130.7,519.3 130.9,519.3 131.0,519.3 M132.8,519.3 132.9,519.3 133.1,519.3 133.7,519.3 134.3,519.3 134.5,519.3 134.6,519.3 M136.4,519.3 136.5,519.3 136.7,519.3 137.3,519.3 137.9,519.3 138.1,519.3 138.2,519.3 M140.0,519.3 140.1,519.3 140.3,519.3 140.9,519.3 141.5,519.3 141.7,519.3 141.8,519.3 M143.6,519.3 143.7,519.3 143.9,519.3 144.5,519.3 145.1,519.3 145.3,519.3 145.4,519.3 M147.2,519.3 147.3,519.3 147.5,519.3 148.1,519.3 148.7,519.3 148.9,519.3 149.0,519.3 M150.8,519.3 150.9,519.3 151.1,519.3 151.7,519.3 152.3,519.3 152.5,519.3 152.6,519.3 M154.4,519.3 154.5,519.3 154.7,519.3 155.3,519.3 155.9,519.3 156.1,519.3 156.2,519.3 M158.0,519.3 158.1,519.3 158.3,519.3 158.9,519.3 159.5,519.3 159.7,519.3 159.8,519.3 M161.6,519.3 161.7,519.3 161.9,519.3 162.5,519.3 163.1,519.3 163.3,519.3 163.4,519.3 M165.2,519.3 165.3,519.3 165.5,519.3 166.1,519.3 166.7,519.3 166.9,519.3 167.0,519.3 M168.8,519.3 168.9,519.3 169.1,519.3 169.7,519.3 170.3,519.3 170.5,519.3 170.6,519.3 M172.4,519.3 172.5,519.3 172.7,519.3 173.3,519.3 173.9,519.3 174.1,519.3 174.2,519.3 M176.0,519.3 176.1,519.3 176.3,519.3 176.9,519.3 177.5,519.3 177.7,519.3 177.8,519.3 M179.6,519.3 179.7,519.3 179.9,519.3 180.5,519.3 181.1,519.3 181.3,519.3 181.4,519.3 M183.2,519.3 183.3,519.3 183.5,519.3 184.1,519.3 184.7,519.3 184.9,519.3 185.0,519.3 M186.8,519.3 186.9,519.3 187.1,519.3 187.7,519.3 188.3,519.3 188.5,519.3 188.6,519.3 M190.4,519.3 190.5,519.3 190.7,519.3 191.3,519.3 191.9,519.3 192.1,519.3 192.2,519.3 M194.0,519.3 194.1,519.3 194.3,519.3 194.9,519.3 195.5,519.3 195.7,519.3 195.8,519.3 M197.6,519.3 197.7,519.3 197.9,519.3 198.5,519.3 199.1,519.3 199.3,519.3 199.4,519.3 M201.2,519.3 201.3,519.3 201.5,519.3 202.1,519.3 202.7,519.3 202.9,519.3 203.0,519.3 M204.8,519.3 204.9,519.3 205.1,519.3 205.7,519.3 206.3,519.3 206.5,519.3 206.6,519.3 M208.4,519.3 208.5,519.3 208.7,519.3 209.3,519.3 209.9,519.3 210.1,519.3 210.2,519.3 M212.0,519.3 212.1,519.3 212.3,519.3 212.9,519.3 213.5,519.3 213.7,519.3 213.8,519.3 M215.6,519.3 215.7,519.3 215.9,519.3 216.5,519.3 217.1,519.3 217.3,519.3 217.4,519.3 M219.2,519.3 219.3,519.3 219.5,519.3 220.1,519.3 220.7,519.3 220.9,519.3 221.0,519.3 M222.8,519.3 222.9,519.3 223.1,519.3 223.7,519.3 224.3,519.3 224.5,519.3 224.6,519.3 M226.4,519.3 226.5,519.3 226.7,519.3 227.3,519.3 227.9,519.3 228.1,519.3 228.2,519.3 M230.0,519.3 230.1,519.3 230.3,519.3 230.9,519.3 231.5,519.3 231.7,519.3 231.8,519.3 M233.6,519.3 233.7,519.3 233.9,519.3 234.5,519.3 235.1,519.3 235.3,519.3 235.4,519.3 M237.2,519.3 237.3,519.3 237.5,519.3 238.1,519.3 238.7,519.3 238.9,519.3 239.0,519.3 M240.8,519.3 240.9,519.3 241.1,519.3 241.7,519.3 242.3,519.3 242.5,519.3 242.6,519.3 M244.4,519.3 244.5,519.3 244.7,519.3 245.3,519.3 245.9,519.3 246.1,519.3 246.2,519.3 M248.0,519.3 248.1,519.3 248.3,519.3 248.9,519.3 249.5,519.3 249.7,519.3 249.8,519.3 M251.6,519.3 251.7,519.3 251.9,519.3 252.5,519.3 253.1,519.3 253.3,519.3 253.4,519.3 M255.2,519.3 255.3,519.3 255.5,519.3 256.1,519.3 256.7,519.3 256.9,519.3 257.0,519.3 M258.8,519.3 258.9,519.3 259.1,519.3 259.7,519.3 260.3,519.3 260.5,519.3 260.6,519.3 M262.4,519.3 262.5,519.3 262.7,519.3 263.3,519.3 263.9,519.3 264.1,519.3 264.2,519.3 M266.0,519.3 266.1,519.3 266.3,519.3 266.9,519.3 267.5,519.3 267.7,519.3 267.8,519.3 M269.6,519.3 269.7,519.3 269.9,519.3 270.5,519.3 271.1,519.3 271.3,519.3 271.4,519.3 M273.2,519.3 273.3,519.3 273.5,519.3 274.1,519.3 274.7,519.3 274.9,519.3 275.0,519.3 M276.8,519.3 276.9,519.3 277.1,519.3 277.7,519.3 278.3,519.3 278.5,519.3 278.6,519.3 M280.4,519.3 280.5,519.3 280.7,519.3 281.3,519.3 281.9,519.3 282.1,519.3 282.2,519.3 M284.0,519.3 284.1,519.3 284.3,519.3 284.9,519.3 285.5,519.3 285.7,519.3 285.8,519.3 M287.6,519.3 287.7,519.3 287.9,519.3 288.5,519.3 289.1,519.3 289.3,519.3 289.4,519.3 M291.2,519.3 291.3,519.3 291.5,519.3 292.1,519.3 292.7,519.3 292.9,519.3 293.0,519.3 M294.8,519.3 294.9,519.3 295.1,519.3 295.7,519.3 296.3,519.3 296.5,519.3 296.6,519.3 M298.4,519.3 298.5,519.3 298.7,519.3 299.3,519.3 299.9,519.3 300.1,519.3 300.2,519.3 M302.0,519.3 302.1,519.3 302.3,519.3 302.9,519.3 303.5,519.3 303.7,519.3 303.8,519.3 M305.6,519.3 305.7,519.3 305.9,519.3 306.5,519.3 307.1,519.3 307.3,519.3 307.4,519.3 M309.2,519.3 309.3,519.3 309.5,519.3 310.1,519.3 310.7,519.3 310.9,519.3 311.0,519.3 M312.8,519.3 312.9,519.3 313.1,519.3 313.7,519.3 314.3,519.3 314.5,519.3 314.6,519.3 M316.4,519.3 316.5,519.3 316.7,519.3 317.3,519.3 317.9,519.3 318.1,519.3 318.2,519.3 M320.0,519.3 320.1,519.3 320.3,519.3 320.9,519.3 321.5,519.3 321.7,519.3 321.8,519.3 M323.6,519.3 323.7,519.3 323.9,519.3 324.5,519.3 325.1,519.3 325.3,519.3 325.4,519.3 M327.2,519.3 327.3,519.3 327.5,519.3 328.1,519.3 328.7,519.3 328.9,519.3 329.0,519.3 M330.8,519.3 330.9,519.3 331.1,519.3 331.7,519.3 332.3,519.3 332.5,519.3 332.6,519.3 M334.4,519.3 334.5,519.3 334.7,519.3 335.3,519.3 335.9,519.3 336.1,519.3 336.2,519.3 M338.0,519.3 338.1,519.3 338.3,519.3 338.9,519.3 339.5,519.3 339.7,519.3 339.8,519.3 M341.6,519.3 341.7,519.3 341.9,519.3 342.5,519.3 343.1,519.3 343.3,519.3 343.4,519.3 M345.2,519.3 345.3,519.3 345.5,519.3 346.1,519.3 346.7,519.3 346.9,519.3 347.0,519.3 M348.8,519.3 348.9,519.3 349.1,519.3 349.7,519.3 350.3,519.3 350.5,519.3 350.6,519.3 M352.4,519.3 352.5,519.3 352.7,519.3 353.3,519.3 353.9,519.3 354.1,519.3 354.2,519.3 M356.0,519.3 356.1,519.3 356.3,519.3 356.9,519.3 357.5,519.3 357.7,519.3 357.8,519.3 M359.6,519.3 359.7,519.3 359.9,519.3 360.5,519.3 361.1,519.3 361.3,519.3 361.4,519.3 M363.2,519.3 363.3,519.3 363.5,519.3 364.1,519.3 364.7,519.3 364.9,519.3 365.0,519.3 M366.8,519.3 366.9,519.3 367.1,519.3 367.7,519.3 368.3,519.3 368.5,519.3 368.6,519.3 M370.4,519.3 370.5,519.3 370.7,519.3 371.3,519.3 371.9,519.3 372.1,519.3 372.2,519.3 M374.0,519.3 374.1,519.3 374.3,519.3 374.9,519.3 375.5,519.3 375.7,519.3 375.8,519.3 M377.6,519.3 377.7,519.3 377.9,519.3 378.5,519.3 379.1,519.3 379.3,519.3 379.4,519.3 M381.2,519.3 381.3,519.3 381.5,519.3 382.1,519.3 382.7,519.3 382.9,519.3 383.0,519.3 M384.8,519.3 384.9,519.3 385.1,519.3 385.7,519.3 386.3,519.3 386.5,519.3 386.6,519.3 M388.4,519.3 388.5,519.3 388.7,519.3 389.3,519.3 389.9,519.3 390.1,519.3 390.2,519.3" fill="none" stroke="#58b860" stroke-width="0.6" />
<path d="M32.1,382.5 32.9,381.9 33.7,381.3 34.5,380.7 35.3,380.1 36.1,379.5 36.9,379.0 37.7,378.4 38.5,377.8 39.3,377.2 40.1,376.6 40.9,376.1 41.7,375.5 42.5,375.0 43.3,374.5 44.1,374.0 44.9,373.5 45.7,373.1 46.5,372.6 47.3,372.2 48.1,371.8 48.9,371.5 49.7,371.1 50.5,370.7 51.3,370.4 52.1,370.1 52.9,369.8 53.7,369.4 54.5,369.1 55.3,368.8 56.1,368.5 56.9,368.2 57.7,367.8 58.5,367.5 59.3,367.2 60.1,366.9 60.9,366.5 61.7,366.2 62.5,365.9 63.3,365.6 64.1,365.3 64.9,365.0 65.7,364.7 66.5,364.5 67.3,364.2 68.1,363.9 68.9,363.7 69.7,363.4 70.5,363.2 71.3,363.0 72.1,362.8 72.9,362.6 73.7,362.4 74.5,362.2 75.3,362.1 76.1,361.9 76.9,361.8 77.7,361.6 78.5,361.5 79.3,361.4 80.1,361.3 80.9,361.2 81.7,361.1 82.5,361.0 83.3,360.9 84.1,360.8 84.9,360.7 85.7,360.7 86.5,360.6 87.3,360.5 88.1,360.5 88.9,360.4 89.7,360.4 90.5,360.3 91.3,360.3 92.1,360.2 92.9,360.2 93.7,360.2 94.5,360.2 95.3,360.2 96.1,360.2 96.9,360.2 97.7,360.2 98.5,360.2 99.3,360.2 100.1,360.3 100.9,360.3 101.7,360.4 102.5,360.4 103.3,360.5 104.1,360.5 104.9,360.6 105.7,360.6 106.5,360.7 107.3,360.8 108.1,360.8 108.9,360.9 109.7,361.0 110.5,361.0 111.3,361.1 112.1,361.2 112.9,361.3 113.7,361.4 114.5,361.5 115.3,361.6 116.1,361.7 116.9,361.8 117.7,361.9 118.5,362.0 119.3,362.1 120.1,362.2 120.9,362.3 121.7,362.4 122.5,362.5 123.3,362.6 124.1,362.7 124.9,362.9 125.7,363.0 126.5,363.1 127.3,363.3 128.1,363.4 128.9,363.6 129.7,363.7 130.5,363.9 131.3,364.1 132.1,364.4 132.9,364.7 133.7,365.0 134.5,365.4 135.3,365.7 136.1,366.0 136.9,366.4 137.7,366.7 138.5,367.0 139.3,367.3 140.1,367.6 140.9,367.9 141.7,368.2 142.5,368.5 143.3,368.9 144.1,369.2 144.9,369.5 145.7,369.8 146.5,370.2 147.3,370.5 148.1,370.8 148.9,371.2 149.7,371.5 150.5,371.8 151.3,372.2 152.1,372.5 152.9,372.9 153.7,373.2 154.5,373.6 155.3,373.9 156.1,374.3 156.9,374.7 157.7,375.1 158.5,375.4 159.3,375.8 160.1,376.2 160.9,376.6 161.7,377.0 162.5,377.4 163.3,377.8 164.1,378.2 164.9,378.6 165.7,379.0 166.5,379.5 167.3,379.9 168.1,380.3 168.9,380.7 169.7,381.1 170.5,381.5 171.3,382.0 172.1,382.4 172.9,382.8 173.7,383.3 174.5,383.7 175.3,384.1 176.1,384.5 176.9,385.0 177.7,385.4 178.5,385.9 179.3,386.3 180.1,386.7 180.9,387.2 181.7,387.7 182.5,388.1 183.3,388.6 184.1,389.1 184.9,389.6 185.7,390.0 186.5,390.5 187.3,391.0 188.1,391.5 188.9,391.9 189.7,392.4 190.5,392.9 191.3,393.3 192.1,393.8 192.9,394.3 193.7,394.7 194.5,395.1 195.3,395.6 196.1,396.0 196.9,396.4 197.7,396.8 198.5,397.2 199.3,397.6 200.1,397.9 200.9,398.3 201.7,398.7 202.5,399.0 203.3,399.3 204.1,399.7 204.9,400.0 205.7,400.3 206.5,400.6 207.3,401.0 208.1,401.3 208.9,401.6 209.7,401.9 210.5,402.2 211.3,402.5 212.1,402.8 212.9,403.1 213.7,403.3 214.5,403.6 215.3,403.9 216.1,404.2 216.9,404.5 217.7,404.8 218.5,405.0 219.3,405.3 220.1,405.6 220.9,405.8 221.7,406.0 222.5,406.3 223.3,406.4 224.1,406.5 224.9,406.6 225.7,406.7 226.5,406.8 227.3,407.0 228.1,407.2 228.9,407.5 229.7,407.8 230.5,408.0 231.3,408.3 232.1,408.6 232.9,408.9 233.7,409.2 234.5,409.5 235.3,409.8 236.1,410.1 236.9,410.5 237.7,410.8 238.5,411.1 239.3,411.4 240.1,411.7 240.9,411.9 241.7,412.2 242.5,412.5 243.3,412.8 244.1,413.1 244.9,413.4 245.7,413.6 246.5,413.9 247.3,414.2 248.1,414.5 248.9,414.8 249.7,415.0 250.5,415.3 251.3,415.6 252.1,415.9 252.9,416.2 253.7,416.4 254.5,416.7 255.3,417.0 256.1,417.3 256.9,417.5 257.7,417.8 258.5,418.1 259.3,418.4 260.1,418.7 260.9,419.0 261.7,419.2 262.5,419.5 263.3,419.8 264.1,420.1 264.9,420.4 265.7,420.7 266.5,421.0 267.3,421.3 268.1,421.6 268.9,421.9 269.7,422.2 270.5,422.5 271.3,422.8 272.1,423.1 272.9,423.4 273.7,423.7 274.5,423.9 275.3,424.2 276.1,424.5 276.9,424.7 277.7,425.0 278.5,425.2 279.3,425.5 280.1,425.7 280.9,425.9 281.7,426.2 282.5,426.4 283.3,426.6 284.1,426.8 284.9,427.0 285.7,427.2 286.5,427.4 287.3,427.6 288.1,427.8 288.9,427.9 289.7,428.1 290.5,428.3 291.3,428.4 292.1,428.5 292.9,428.7 293.7,428.8 294.5,428.9 295.3,429.0 296.1,429.1 296.9,429.2 297.7,429.3 298.5,429.4 299.3,429.4 300.1,429.5 300.9,429.5 301.7,429.6 302.5,429.6 303.3,429.6 304.1,429.7 304.9,429.7 305.7,429.7 306.5,429.7 307.3,429.7 308.1,429.7 308.9,429.7 309.7,429.7 310.5,429.8 311.3,429.8 312.1,429.8 312.9,429.8 313.7,429.8 314.5,429.8 315.3,429.9 316.1,429.9 316.9,429.9 317.7,430.0 318.5,430.0 319.3,430.0 320.1,430.1 320.9,430.1 321.7,430.1 322.5,430.2 323.3,430.2 324.1,430.3 324.9,430.3 325.7,430.4 326.5,430.4 327.3,430.4 328.1,430.5 328.9,430.5 329.7,430.6 330.5,430.6 331.3,430.7 332.1,430.7 332.9,430.8 333.7,430.8 334.5,430.9 335.3,430.9 336.1,431.0 336.9,431.1 337.7,431.1 338.5,431.2 339.3,431.3 340.1,431.3 340.9,431.4 341.7,431.5 342.5,431.6 343.3,431.7 344.1,431.8 344.9,431.9 345.7,432.0 346.5,432.1 347.3,432.1 348.1,432.2 348.9,432.3 349.7,432.4 350.5,432.4 351.3,432.5 352.1,432.5 352.9,432.5 353.7,432.6 354.5,432.6 355.3,432.6 356.1,432.6 356.9,432.6 357.7,432.6 358.5,432.6 359.3,432.5 360.1,432.5 360.9,432.5 361.7,432.5 362.5,432.4 363.3,432.4 364.1,432.3 364.9,432.3 365.7,432.2 366.5,432.2 367.3,432.1 368.1,432.1 368.9,432.0 369.7,432.0 370.5,431.9 371.3,431.9 372.1,431.8 372.9,431.7 373.7,431.7 374.5,431.6 375.3,431.5 376.1,431.4 376.9,431.4 377.7,431.3 378.5,431.2 379.3,431.1 380.1,431.0 380.9,430.9 381.7,430.8 382.5,430.7 383.3,430.5 384.1,430.3 384.9,430.2 385.7,430.0 386.5,429.7 387.3,429.5 388.1,429.2 388.9,429.0 389.7,428.7 390.5,428.4" fill="none" stroke="#111" stroke-width="1.3"/>
<path d="M32.1,412.3 32.9,410.6 33.7,408.8 34.5,407.1 35.3,405.4 36.1,403.6 36.9,401.9 37.7,400.0 38.5,398.1 39.3,396.2 40.1,394.4 40.9,392.7 41.7,391.3 42.5,390.0 43.3,388.8 44.1,387.6 44.9,386.5 45.7,385.5 46.5,384.6 47.3,383.7 48.1,382.9 48.9,382.2 49.7,381.5 50.5,381.0 51.3,380.4 52.1,379.8 52.9,379.3 53.7,378.7 54.5,378.1 55.3,377.6 56.1,377.1 56.9,376.7 57.7,376.4 58.5,376.0 59.3,375.7 60.1,375.4 60.9,375.1 61.7,374.8 62.5,374.5 63.3,374.2 64.1,374.0 64.9,373.7 65.7,373.5 66.5,373.3 67.3,373.0 68.1,372.9 68.9,372.7 69.7,372.6 70.5,372.5 71.3,372.4 72.1,372.4 72.9,372.3 73.7,372.3 74.5,372.3 75.3,372.4 76.1,372.5 76.9,372.6 77.7,372.8 78.5,373.0 79.3,373.2 80.1,373.5 80.9,373.8 81.7,374.1 82.5,374.5 83.3,374.9 84.1,375.3 84.9,375.7 85.7,376.1 86.5,376.5 87.3,377.0 88.1,377.4 88.9,377.9 89.7,378.4 90.5,378.9 91.3,379.4 92.1,379.9 92.9,380.4 93.7,381.0 94.5,381.6 95.3,382.3 96.1,382.9 96.9,383.6 97.7,384.3 98.5,385.0 99.3,385.6 100.1,386.3 100.9,386.9 101.7,387.6 102.5,388.2 103.3,388.8 104.1,389.4 104.9,390.1 105.7,390.8 106.5,391.6 107.3,392.4 108.1,393.3 108.9,394.3 109.7,395.3 110.5,396.3 111.3,397.3 112.1,398.3 112.9,399.3 113.7,400.2 114.5,401.1 115.3,402.1 116.1,403.0 116.9,404.0 117.7,404.9 118.5,405.9 119.3,406.9 120.1,407.9 120.9,408.8 121.7,409.7 122.5,410.7 123.3,411.5 124.1,412.4 124.9,413.2 125.7,413.9 126.5,414.6 127.3,415.2 128.1,415.8 128.9,416.2 129.7,416.7 130.5,417.0 131.3,417.4 132.1,417.7 132.9,417.9 133.7,418.1 134.5,418.3 135.3,418.5 136.1,418.6 136.9,418.8 137.7,418.9 138.5,419.0 139.3,419.0 140.1,419.1 140.9,419.2 141.7,419.3 142.5,419.3 143.3,419.4 144.1,419.4 144.9,419.4 145.7,419.4 146.5,419.3 147.3,419.2 148.1,419.2 148.9,419.1 149.7,419.0 150.5,418.9 151.3,418.8 152.1,418.7 152.9,418.6 153.7,418.5 154.5,418.4 155.3,418.4 156.1,418.3 156.9,418.3 157.7,418.2 158.5,418.2 159.3,418.1 160.1,418.0 160.9,418.0 161.7,417.9 162.5,417.8 163.3,417.8 164.1,417.7 164.9,417.7 165.7,417.7 166.5,417.6 167.3,417.6 168.1,417.6 168.9,417.7 169.7,417.7 170.5,417.8 171.3,417.9 172.1,418.1 172.9,418.2 173.7,418.4 174.5,418.6 175.3,418.8 176.1,419.1 176.9,419.3 177.7,419.6 178.5,419.9 179.3,420.3 180.1,420.6 180.9,421.0 181.7,421.4 182.5,421.8 183.3,422.3 184.1,422.7 184.9,423.2 185.7,423.7 186.5,424.3 187.3,424.9 188.1,425.5 188.9,426.1 189.7,426.8 190.5,427.5 191.3,428.2 192.1,429.0 192.9,429.8 193.7,430.6 194.5,431.4 195.3,432.3 196.1,433.2 196.9,434.1 197.7,435.0 198.5,435.9 199.3,436.9 200.1,437.9 200.9,438.9 201.7,439.9 202.5,441.0 203.3,442.1 204.1,443.3 204.9,444.5 205.7,445.8 206.5,447.1 207.3,448.4 208.1,449.7 208.9,451.0 209.7,452.4 210.5,453.8 211.3,455.3 212.1,456.8 212.9,458.2 213.7,459.6 214.5,460.9 215.3,462.0 216.1,462.9 216.9,463.4 217.7,463.5 218.5,463.3 219.3,462.8 220.1,462.5 220.9,462.0 221.7,461.4 222.5,460.8 223.3,460.2 224.1,459.5 224.9,458.9 225.7,458.4 226.5,457.9 227.3,457.5 228.1,457.0 228.9,456.6 229.7,456.2 230.5,455.8 231.3,455.4 232.1,455.0 232.9,454.7 233.7,454.3 234.5,453.9 235.3,453.5 236.1,453.0 236.9,452.6 237.7,452.1 238.5,451.7 239.3,451.3 240.1,451.0 240.9,450.9 241.7,450.8 242.5,450.8 243.3,450.9 244.1,451.1 244.9,451.2 245.7,451.4 246.5,451.7 247.3,451.9 248.1,452.2 248.9,452.4 249.7,452.7 250.5,452.9 251.3,453.1 252.1,453.4 252.9,453.6 253.7,453.9 254.5,454.1 255.3,454.4 256.1,454.6 256.9,454.9 257.7,455.1 258.5,455.4 259.3,455.6 260.1,455.8 260.9,456.0 261.7,456.2 262.5,456.3 263.3,456.5 264.1,456.6 264.9,456.7 265.7,456.9 266.5,457.0 267.3,457.1 268.1,457.2 268.9,457.3 269.7,457.4 270.5,457.5 271.3,457.7 272.1,457.8 272.9,457.9 273.7,458.0 274.5,458.1 275.3,458.2 276.1,458.3 276.9,458.3 277.7,458.4 278.5,458.4 279.3,458.4 280.1,458.4 280.9,458.5 281.7,458.6 282.5,458.9 283.3,459.2 284.1,459.6 284.9,460.0 285.7,460.6 286.5,461.1 287.3,461.7 288.1,462.4 288.9,463.1 289.7,463.9 290.5,464.8 291.3,465.7 292.1,466.7 292.9,467.7 293.7,468.8 294.5,469.9 295.3,471.0 296.1,472.1 296.9,473.3 297.7,474.4 298.5,475.6 299.3,476.8 300.1,478.1 300.9,479.5 301.7,480.9 302.5,482.4 303.3,484.0 304.1,485.8 304.9,487.6 305.7,489.5 306.5,491.4 307.3,493.3 308.1,495.2 308.9,497.2 309.7,499.1 310.5,501.1 311.3,503.1 312.1,505.0 312.9,506.8 313.7,508.6 314.5,510.4 315.3,511.4 316.1,510.8 316.9,508.9 317.7,506.1 318.5,502.9 319.3,499.9 320.1,497.2 320.9,494.5 321.7,491.9 322.5,489.3 323.3,486.9 324.1,484.8 324.9,482.9 325.7,481.2 326.5,479.6 327.3,478.1 328.1,476.7 328.9,475.4 329.7,474.3 330.5,473.3 331.3,472.5 332.1,471.8 332.9,471.2 333.7,470.7 334.5,470.3 335.3,470.0 336.1,469.7 336.9,469.5 337.7,469.4 338.5,469.3 339.3,469.2 340.1,469.2 340.9,469.2 341.7,469.3 342.5,469.5 343.3,469.7 344.1,469.9 344.9,470.2 345.7,470.6 346.5,471.0 347.3,471.5 348.1,472.1 348.9,472.8 349.7,473.6 350.5,474.5 351.3,475.5 352.1,476.6 352.9,477.8 353.7,479.1 354.5,480.5 355.3,482.1 356.1,483.8 356.9,485.7 357.7,487.7 358.5,489.9 359.3,492.0 360.1,494.3 360.9,496.6 361.7,499.0 362.5,501.5 363.3,504.0 364.1,506.6 364.9,509.4 365.7,512.4 366.5,515.2 367.3,517.6 368.1,520.0 368.9,520.3 369.7,520.3 370.5,520.3 371.3,520.3 372.1,520.3 372.9,520.3 373.7,520.3 374.5,520.3 375.3,520.3 376.1,519.6 376.9,517.0 377.7,513.6 378.5,508.8 379.3,504.3 380.1,501.3 380.9,499.2 381.7,497.4 382.5,495.8 383.3,494.3 384.1,493.0 384.9,491.6 385.7,490.4 386.5,489.1 387.3,487.9 388.1,486.9 388.9,486.1 389.7,485.3 390.5,484.7" fill="none" stroke="#ff1a1a" stroke-width="1.3"/>
<path d="M32.1,415.9 32.9,414.7 33.7,413.5 34.5,412.3 35.3,411.1 36.1,409.9 36.9,408.8 37.7,407.6 38.5,406.4 39.3,405.2 40.1,404.1 40.9,402.9 41.7,401.9 42.5,400.9 43.3,400.0 44.1,399.1 44.9,398.3 45.7,397.5 46.5,396.8 47.3,396.1 48.1,395.4 48.9,394.8 49.7,394.2 50.5,393.7 51.3,393.2 52.1,392.8 52.9,392.4 53.7,392.0 54.5,391.7 55.3,391.5 56.1,391.2 56.9,390.9 57.7,390.5 58.5,390.1 59.3,389.6 60.1,389.2 60.9,388.8 61.7,388.6 62.5,388.5 63.3,388.4 64.1,388.4 64.9,388.4 65.7,388.5 66.5,388.5 67.3,388.6 68.1,388.7 68.9,388.8 69.7,388.9 70.5,389.0 71.3,389.1 72.1,389.3 72.9,389.5 73.7,389.7 74.5,390.0 75.3,390.3 76.1,390.6 76.9,391.1 77.7,391.5 78.5,392.1 79.3,392.7 80.1,393.3 80.9,394.0 81.7,394.6 82.5,395.1 83.3,395.6 84.1,396.0 84.9,396.5 85.7,397.0 86.5,397.5 87.3,398.2 88.1,398.9 88.9,399.6 89.7,400.5 90.5,401.4 91.3,402.4 92.1,403.5 92.9,404.8 93.7,406.1 94.5,407.3 95.3,408.5 96.1,409.5 96.9,410.3 97.7,411.1 98.5,411.8 99.3,412.6 100.1,413.5 100.9,414.5 101.7,415.6 102.5,416.7 103.3,417.9 104.1,419.2 104.9,420.6 105.7,422.1 106.5,423.8 107.3,425.5 108.1,427.2 108.9,428.8 109.7,430.2 110.5,431.7 111.3,433.0 112.1,434.4 112.9,435.6 113.7,436.8 114.5,437.9 115.3,439.0 116.1,440.2 116.9,441.4 117.7,442.7 118.5,444.2 119.3,445.8 120.1,447.6 120.9,449.4 121.7,451.3 122.5,453.2 123.3,455.2 124.1,457.4 124.9,459.4 125.7,461.4 126.5,463.2 127.3,464.9 128.1,466.7 128.9,468.3 129.7,469.7 130.5,470.9 131.3,471.8 132.1,472.2 132.9,472.2 133.7,471.7 134.5,471.0 135.3,470.1 136.1,469.1 136.9,467.8 137.7,466.5 138.5,465.1 139.3,463.8 140.1,462.5 140.9,461.3 141.7,460.2 142.5,459.2 143.3,458.2 144.1,457.1 144.9,456.1 145.7,455.1 146.5,454.1 147.3,453.1 148.1,452.2 148.9,451.3 149.7,450.4 150.5,449.6 151.3,448.8 152.1,448.1 152.9,447.5 153.7,446.9 154.5,446.3 155.3,445.8 156.1,445.4 156.9,445.0 157.7,444.6 158.5,444.2 159.3,443.9 160.1,443.6 160.9,443.4 161.7,443.1 162.5,442.9 163.3,442.8 164.1,442.6 164.9,442.5 165.7,442.4 166.5,442.4 167.3,442.4 168.1,442.4 168.9,442.4 169.7,442.5 170.5,442.6 171.3,442.8 172.1,442.9 172.9,443.2 173.7,443.5 174.5,443.8 175.3,444.2 176.1,444.7 176.9,445.2 177.7,445.8 178.5,446.4 179.3,447.1 180.1,447.9 180.9,448.8 181.7,449.7 182.5,450.7 183.3,451.8 184.1,452.9 184.9,454.1 185.7,455.4 186.5,456.7 187.3,458.1 188.1,459.7 188.9,461.4 189.7,463.3 190.5,465.4 191.3,467.6 192.1,469.9 192.9,472.2 193.7,474.5 194.5,476.7 195.3,478.9 196.1,481.4 196.9,483.9 197.7,486.4 198.5,488.8 199.3,491.1 200.1,493.2 200.9,494.9 201.7,496.1 202.5,496.7 203.3,496.7 204.1,496.1 204.9,495.1 205.7,494.0 206.5,492.9 207.3,492.1 208.1,491.2 208.9,490.3 209.7,489.2 210.5,488.2 211.3,487.1 212.1,486.1 212.9,485.2 213.7,484.4 214.5,483.7 215.3,483.2 216.1,482.9 216.9,482.8 217.7,482.8 218.5,482.9 219.3,483.2 220.1,483.5 220.9,483.9 221.7,484.3 222.5,484.8 223.3,485.3 224.1,485.8 224.9,486.4 225.7,487.1 226.5,488.0 227.3,489.3 228.1,491.0 228.9,494.0 229.7,497.6 230.5,500.1 231.3,502.7 232.1,505.2 232.9,507.6 233.7,509.7 234.5,511.5 235.3,512.8 236.1,513.5 236.9,513.7 237.7,513.6 238.5,513.2 239.3,512.6 240.1,511.7 240.9,510.7 241.7,509.6 242.5,508.5 243.3,507.2 244.1,505.7 244.9,504.0 245.7,502.2 246.5,500.2 247.3,498.3 248.1,496.3 248.9,494.4 249.7,492.7 250.5,491.1 251.3,489.6 252.1,488.4 252.9,487.2 253.7,486.1 254.5,485.1 255.3,484.1 256.1,483.1 256.9,482.3 257.7,481.4 258.5,480.7 259.3,480.0 260.1,479.4 260.9,479.0 261.7,478.6 262.5,478.4 263.3,478.3 264.1,478.5 264.9,478.8 265.7,479.3 266.5,480.0 267.3,480.9 268.1,481.8 268.9,482.9 269.7,484.2 270.5,485.6 271.3,487.3 272.1,489.0 272.9,490.8 273.7,492.6 274.5,494.3 275.3,496.0 276.1,497.6 276.9,499.3 277.7,501.0 278.5,502.7 279.3,504.4 280.1,506.1 280.9,507.6 281.7,509.1 282.5,510.3 283.3,511.5 284.1,512.5 284.9,513.5 285.7,514.1 286.5,514.5 287.3,514.5 288.1,514.2 288.9,513.5 289.7,512.4 290.5,511.1 291.3,509.6 292.1,508.1 292.9,506.5 293.7,504.9 294.5,503.4 295.3,502.0 296.1,500.6 296.9,499.2 297.7,497.8 298.5,496.4 299.3,494.9 300.1,493.5 300.9,492.1 301.7,490.8 302.5,489.5 303.3,488.2 304.1,487.1 304.9,486.1 305.7,485.3 306.5,484.7 307.3,484.4 308.1,484.3 308.9,484.7 309.7,485.3 310.5,486.1 311.3,487.0 312.1,488.1 312.9,489.4 313.7,490.8 314.5,492.3 315.3,493.9 316.1,495.5 316.9,497.2 317.7,498.8 318.5,500.4 319.3,502.1 320.1,503.9 320.9,505.7 321.7,507.6 322.5,509.4 323.3,511.2 324.1,513.0 324.9,515.0 325.7,517.0 326.5,518.5 327.3,519.1 328.1,518.9 328.9,518.0 329.7,516.6 330.5,514.7 331.3,511.8 332.1,509.3 332.9,507.5 333.7,505.9 334.5,504.4 335.3,502.8 336.1,501.4 336.9,500.0 337.7,498.6 338.5,497.3 339.3,496.1 340.1,495.0 340.9,494.0 341.7,493.0 342.5,492.2 343.3,491.4 344.1,490.6 344.9,490.0 345.7,489.3 346.5,488.7 347.3,488.2 348.1,487.7 348.9,487.2 349.7,486.8 350.5,486.5 351.3,486.3 352.1,486.2 352.9,486.2 353.7,486.4 354.5,486.7 355.3,487.1 356.1,487.7 356.9,488.4 357.7,489.1 358.5,489.9 359.3,490.8 360.1,491.8 360.9,492.9 361.7,494.1 362.5,495.4 363.3,496.7 364.1,498.2 364.9,499.8 365.7,501.5 366.5,503.3 367.3,505.1 368.1,507.0 368.9,508.9 369.7,510.8 370.5,512.6 371.3,514.8 372.1,517.6 372.9,519.5 373.7,520.3 374.5,520.3 375.3,520.3 376.1,520.3 376.9,520.3 377.7,520.3 378.5,520.3 379.3,520.3 380.1,520.3 380.9,520.3 381.7,520.3 382.5,520.3 383.3,520.3 384.1,520.3 384.9,520.3 385.7,520.3 386.5,520.3 387.3,520.3 388.1,520.3 388.9,520.3 389.7,520.3 390.5,520.3" fill="none" stroke="#1a1aff" stroke-width="1.3"/>
<path d="M32.1,434.0 32.9,432.1 33.7,430.3 34.5,428.5 35.3,426.5 36.1,424.5 36.9,422.2 37.7,419.5 38.5,416.3 39.3,413.1 40.1,410.2 40.9,407.7 41.7,405.8 42.5,404.3 43.3,403.0 44.1,401.9 44.9,400.9 45.7,400.0 46.5,399.3 47.3,398.5 48.1,397.9 48.9,397.5 49.7,397.2 50.5,396.9 51.3,396.7 52.1,396.6 52.9,396.5 53.7,396.4 54.5,396.3 55.3,396.3 56.1,396.3 56.9,396.3 57.7,396.4 58.5,396.4 59.3,396.5 60.1,396.6 60.9,396.6 61.7,396.8 62.5,397.0 63.3,397.3 64.1,397.7 64.9,398.3 65.7,399.0 66.5,399.8 67.3,400.7 68.1,401.6 68.9,402.6 69.7,403.7 70.5,404.8 71.3,406.0 72.1,407.3 72.9,408.7 73.7,410.3 74.5,412.0 75.3,414.0 76.1,416.3 76.9,418.8 77.7,421.7 78.5,424.8 79.3,428.0 80.1,431.0 80.9,433.8 81.7,436.4 82.5,439.0 83.3,441.5 84.1,444.0 84.9,446.6 85.7,449.4 86.5,452.6 87.3,456.0 88.1,459.5 88.9,462.6 89.7,465.6 90.5,468.8 91.3,470.7 92.1,471.3 92.9,471.1 93.7,470.6 94.5,469.8 95.3,468.9 96.1,467.9 96.9,466.9 97.7,465.9 98.5,465.0 99.3,464.2 100.1,463.4 100.9,462.6 101.7,461.7 102.5,460.9 103.3,460.1 104.1,459.3 104.9,458.6 105.7,457.9 106.5,457.3 107.3,456.8 108.1,456.2 108.9,455.7 109.7,455.1 110.5,454.3 111.3,453.3 112.1,452.2 112.9,451.2 113.7,450.4 114.5,449.9 115.3,449.8 116.1,449.7 116.9,449.8 117.7,450.0 118.5,450.2 119.3,450.6 120.1,451.1 120.9,451.7 121.7,452.4 122.5,453.3 123.3,454.5 124.1,455.9 124.9,457.5 125.7,459.2 126.5,460.9 127.3,462.6 128.1,464.2 128.9,465.9 129.7,467.9 130.5,469.8 131.3,471.3 132.1,472.3 132.9,473.0 133.7,473.5 134.5,473.9 135.3,474.3 136.1,474.6 136.9,474.9 137.7,475.2 138.5,475.4 139.3,475.7 140.1,476.0 140.9,476.3 141.7,476.4 142.5,476.5 143.3,476.7 144.1,477.2 144.9,478.0 145.7,479.0 146.5,480.1 147.3,481.4 148.1,482.7 148.9,484.1 149.7,485.6 150.5,487.2 151.3,489.0 152.1,491.1 152.9,493.7 153.7,497.0 154.5,500.7 155.3,504.7 156.1,508.4 156.9,511.2 157.7,513.4 158.5,515.3 159.3,517.8 160.1,520.3 160.9,520.3 161.7,520.3 162.5,520.3 163.3,517.5 164.1,511.8 164.9,504.7 165.7,498.9 166.5,495.6 167.3,494.0 168.1,493.3 168.9,492.9 169.7,492.6 170.5,492.1 171.3,491.7 172.1,491.3 172.9,490.9 173.7,490.6 174.5,490.2 175.3,489.9 176.1,489.5 176.9,489.1 177.7,488.6 178.5,488.1 179.3,487.5 180.1,487.0 180.9,486.4 181.7,485.8 182.5,485.2 183.3,484.6 184.1,484.0 184.9,483.4 185.7,482.9 186.5,482.3 187.3,481.7 188.1,481.1 188.9,480.4 189.7,479.7 190.5,479.1 191.3,478.4 192.1,477.7 192.9,477.1 193.7,476.5 194.5,476.0 195.3,475.5 196.1,475.2 196.9,475.0 197.7,474.9 198.5,474.9 199.3,474.9 200.1,475.1 200.9,475.4 201.7,475.8 202.5,476.3 203.3,477.0 204.1,477.8 204.9,478.9 205.7,480.1 206.5,481.5 207.3,483.2 208.1,485.1 208.9,487.7 209.7,491.2 210.5,496.2 211.3,502.2 212.1,509.0 212.9,516.4 213.7,520.3 214.5,520.3 215.3,520.3 216.1,520.3 216.9,520.3 217.7,520.3 218.5,520.3 219.3,519.8 220.1,516.5 220.9,512.4 221.7,507.4 222.5,502.3 223.3,497.6 224.1,494.0 224.9,491.7 225.7,490.4 226.5,490.0 227.3,490.3 228.1,490.9 228.9,492.2 229.7,494.1 230.5,496.3 231.3,498.2 232.1,499.6 232.9,500.5 233.7,500.7 234.5,500.4 235.3,499.9 236.1,499.1 236.9,498.3 237.7,497.4 238.5,496.5 239.3,495.7 240.1,495.0 240.9,494.3 241.7,493.5 242.5,492.7 243.3,491.9 244.1,491.1 244.9,490.3 245.7,489.5 246.5,488.8 247.3,488.0 248.1,487.3 248.9,486.7 249.7,486.1 250.5,485.6 251.3,485.2 252.1,485.0 252.9,484.9 253.7,484.9 254.5,485.1 255.3,485.6 256.1,486.2 256.9,487.1 257.7,488.1 258.5,489.3 259.3,490.8 260.1,492.7 260.9,494.8 261.7,497.3 262.5,499.9 263.3,502.6 264.1,505.3 264.9,508.3 265.7,511.8 266.5,515.5 267.3,518.8 268.1,520.3 268.9,520.3 269.7,520.3 270.5,520.3 271.3,520.3 272.1,520.0 272.9,516.9 273.7,514.0 274.5,511.0 275.3,508.1 276.1,505.4 276.9,502.9 277.7,500.6 278.5,498.8 279.3,497.3 280.1,496.1 280.9,495.2 281.7,494.4 282.5,494.0 283.3,493.7 284.1,493.6 284.9,494.0 285.7,494.7 286.5,495.8 287.3,496.9 288.1,497.9 288.9,498.7 289.7,499.2 290.5,499.5 291.3,499.7 292.1,499.8 292.9,499.8 293.7,499.7 294.5,499.6 295.3,499.5 296.1,499.3 296.9,499.1 297.7,498.9 298.5,498.5 299.3,498.1 300.1,497.7 300.9,497.2 301.7,496.8 302.5,496.4 303.3,496.1 304.1,495.8 304.9,495.7 305.7,495.7 306.5,495.8 307.3,495.9 308.1,496.0 308.9,496.2 309.7,496.5 310.5,496.8 311.3,497.2 312.1,497.7 312.9,498.4 313.7,499.2 314.5,500.3 315.3,501.7 316.1,503.4 316.9,505.3 317.7,507.5 318.5,509.6 319.3,511.7 320.1,513.5 320.9,515.3 321.7,517.2 322.5,519.8 323.3,520.3 324.1,520.3 324.9,520.3 325.7,516.9 326.5,514.0 327.3,512.0 328.1,510.2 328.9,508.5 329.7,507.0 330.5,505.6 331.3,504.3 332.1,503.0 332.9,501.6 333.7,500.2 334.5,499.0 335.3,498.0 336.1,497.1 336.9,496.5 337.7,496.1 338.5,496.0 339.3,496.2 340.1,496.4 340.9,496.8 341.7,497.2 342.5,497.7 343.3,498.2 344.1,498.6 344.9,499.0 345.7,499.3 346.5,499.4 347.3,499.4 348.1,499.2 348.9,498.7 349.7,498.0 350.5,497.2 351.3,496.2 352.1,495.2 352.9,494.1 353.7,493.1 354.5,492.2 355.3,491.5 356.1,491.0 356.9,490.5 357.7,490.1 358.5,489.7 359.3,489.4 360.1,489.2 360.9,489.0 361.7,488.8 362.5,488.8 363.3,488.8 364.1,488.8 364.9,488.9 365.7,489.0 366.5,489.2 367.3,489.5 368.1,490.0 368.9,490.8 369.7,491.8 370.5,493.1 371.3,494.9 372.1,497.0 372.9,499.3 373.7,501.8 374.5,504.4 375.3,507.1 376.1,509.8 376.9,512.4 377.7,514.8 378.5,517.0 379.3,519.1 380.1,520.3 380.9,520.3 381.7,520.3 382.5,519.4 383.3,514.8 384.1,511.9 384.9,509.2 385.7,506.8 386.5,504.8 387.3,503.1 388.1,501.7 388.9,500.5 389.7,499.4 390.5,498.2" fill="none" stroke="#ff1aff" stroke-width="1.3"/>
<path d="M32.1,446.0 32.9,443.8 33.7,441.6 34.5,439.5 35.3,437.6 36.1,435.8 36.9,434.3 37.7,432.8 38.5,431.5 39.3,430.2 40.1,428.9 40.9,427.6 41.7,426.4 42.5,425.0 43.3,423.8 44.1,422.5 44.9,421.4 45.7,420.3 46.5,419.5 47.3,418.6 48.1,417.9 48.9,417.3 49.7,416.7 50.5,416.4 51.3,416.3 52.1,416.5 52.9,416.9 53.7,417.7 54.5,418.7 55.3,420.0 56.1,421.8 56.9,424.0 57.7,426.3 58.5,428.5 59.3,430.8 60.1,433.1 60.9,435.7 61.7,438.4 62.5,441.3 63.3,444.6 64.1,448.3 64.9,452.5 65.7,456.5 66.5,460.1 67.3,462.6 68.1,464.2 68.9,465.0 69.7,465.1 70.5,464.7 71.3,463.6 72.1,461.7 72.9,459.4 73.7,457.4 74.5,455.8 75.3,454.6 76.1,453.5 76.9,452.4 77.7,451.6 78.5,450.9 79.3,450.5 80.1,450.3 80.9,450.4 81.7,450.6 82.5,451.1 83.3,452.0 84.1,453.2 84.9,455.1 85.7,457.5 86.5,460.4 87.3,463.4 88.1,466.4 88.9,469.8 89.7,473.6 90.5,476.5 91.3,477.8 92.1,477.8 92.9,477.2 93.7,476.5 94.5,476.1 95.3,476.3 96.1,477.0 96.9,478.1 97.7,479.4 98.5,481.2 99.3,483.7 100.1,488.1 100.9,495.3 101.7,504.3 102.5,517.0 103.3,520.3 104.1,520.3 104.9,520.3 105.7,520.3 106.5,520.3 107.3,520.3 108.1,520.3 108.9,520.3 109.7,520.3 110.5,520.3 111.3,520.3 112.1,520.3 112.9,520.3 113.7,520.3 114.5,520.3 115.3,520.3 116.1,520.3 116.9,520.3 117.7,520.3 118.5,520.3 119.3,520.3 120.1,520.3 120.9,520.3 121.7,520.3 122.5,520.3 123.3,520.3 124.1,520.3 124.9,520.3 125.7,520.3 126.5,520.3 127.3,520.3 128.1,520.3 128.9,520.3 129.7,520.3 130.5,520.3 131.3,520.3 132.1,520.3 132.9,520.3 133.7,520.3 134.5,520.3 135.3,520.3 136.1,520.3 136.9,520.3 137.7,520.3 138.5,520.3 139.3,520.3 140.1,520.3 140.9,520.3 141.7,520.3 142.5,520.3 143.3,520.3 144.1,520.3 144.9,520.3 145.7,520.3 146.5,520.3 147.3,520.3 148.1,520.3 148.9,520.3 149.7,520.3 150.5,520.3 151.3,520.3 152.1,520.3 152.9,520.3 153.7,520.3 154.5,520.3 155.3,520.3 156.1,520.3 156.9,520.3 157.7,520.3 158.5,520.3 159.3,520.3 160.1,520.3 160.9,520.3 161.7,520.3 162.5,520.3 163.3,520.3 164.1,520.3 164.9,520.3 165.7,520.3 166.5,520.3 167.3,520.3 168.1,520.3 168.9,520.3 169.7,520.3 170.5,520.3 171.3,520.3 172.1,520.3 172.9,520.3 173.7,520.3 174.5,520.3 175.3,520.3 176.1,520.3 176.9,520.3 177.7,520.3 178.5,520.3 179.3,520.3 180.1,520.3 180.9,520.3 181.7,520.3 182.5,520.3 183.3,520.3 184.1,520.3 184.9,520.3 185.7,520.3 186.5,520.3 187.3,520.3 188.1,520.3 188.9,520.3 189.7,520.3 190.5,520.3 191.3,520.3 192.1,520.3 192.9,520.3 193.7,520.3 194.5,520.3 195.3,520.3 196.1,520.3 196.9,520.3 197.7,520.3 198.5,520.3 199.3,520.3 200.1,520.3 200.9,520.3 201.7,520.3 202.5,520.3 203.3,520.3 204.1,520.3 204.9,520.3 205.7,520.3 206.5,520.3 207.3,520.3 208.1,520.3 208.9,520.3 209.7,520.3 210.5,520.3 211.3,520.3 212.1,520.3 212.9,520.3 213.7,520.3 214.5,520.3 215.3,520.3 216.1,520.3 216.9,520.3 217.7,520.3 218.5,520.3 219.3,520.3 220.1,520.3 220.9,520.3 221.7,520.3 222.5,520.3 223.3,520.3 224.1,520.3 224.9,520.3 225.7,520.3 226.5,520.3 227.3,520.3 228.1,520.3 228.9,520.3 229.7,520.3 230.5,520.3 231.3,520.3 232.1,520.3 232.9,520.3 233.7,520.3 234.5,520.3 235.3,520.3 236.1,520.3 236.9,520.3 237.7,520.3 238.5,520.3 239.3,520.3 240.1,520.3 240.9,520.3 241.7,520.3 242.5,520.3 243.3,520.3 244.1,520.3 244.9,520.3 245.7,520.3 246.5,520.3 247.3,520.3 248.1,520.3 248.9,520.3 249.7,520.3 250.5,520.3 251.3,520.3 252.1,520.3 252.9,520.3 253.7,520.3 254.5,520.3 255.3,520.3 256.1,520.3 256.9,520.3 257.7,520.3 258.5,520.3 259.3,520.3 260.1,520.3 260.9,520.3 261.7,520.3 262.5,520.3 263.3,520.3 264.1,520.3 264.9,520.3 265.7,520.3 266.5,520.3 267.3,520.3 268.1,520.3 268.9,520.3 269.7,520.3 270.5,520.3 271.3,520.3 272.1,520.3 272.9,520.3 273.7,520.3 274.5,520.3 275.3,520.3 276.1,520.3 276.9,520.3 277.7,520.3 278.5,520.3 279.3,520.3 280.1,520.3 280.9,520.3 281.7,520.3 282.5,520.3 283.3,520.3 284.1,520.3 284.9,520.3 285.7,520.3 286.5,520.3 287.3,520.3 288.1,520.3 288.9,520.3 289.7,520.3 290.5,520.3 291.3,520.3 292.1,520.3 292.9,520.3 293.7,520.3 294.5,520.3 295.3,520.3 296.1,520.3 296.9,520.3 297.7,520.3 298.5,520.3 299.3,520.3 300.1,520.3 300.9,520.3 301.7,520.3 302.5,520.3 303.3,520.3 304.1,520.3 304.9,520.3 305.7,520.3 306.5,520.3 307.3,520.3 308.1,520.3 308.9,520.3 309.7,520.3 310.5,520.3 311.3,520.3 312.1,520.3 312.9,520.3 313.7,520.3 314.5,520.3 315.3,520.3 316.1,520.3 316.9,520.3 317.7,520.3 318.5,520.3 319.3,520.3 320.1,520.3 320.9,520.3 321.7,520.3 322.5,520.3 323.3,520.3 324.1,520.3 324.9,520.3 325.7,520.3 326.5,520.3 327.3,520.3 328.1,520.3 328.9,520.3 329.7,520.3 330.5,520.3 331.3,520.3 332.1,520.3 332.9,520.3 333.7,520.3 334.5,520.3 335.3,520.3 336.1,520.3 336.9,520.3 337.7,520.3 338.5,520.3 339.3,520.3 340.1,520.3 340.9,520.3 341.7,520.3 342.5,520.3 343.3,520.3 344.1,520.3 344.9,520.3 345.7,520.3 346.5,520.3 347.3,520.3 348.1,520.3 348.9,520.3 349.7,520.3 350.5,520.3 351.3,520.3 352.1,520.3 352.9,520.3 353.7,520.3 354.5,520.3 355.3,520.3 356.1,520.3 356.9,520.3 357.7,520.3 358.5,520.3 359.3,520.3 360.1,520.3 360.9,520.3 361.7,520.3 362.5,520.3 363.3,520.3 364.1,520.3 364.9,520.3 365.7,520.3 366.5,520.3 367.3,520.3 368.1,520.3 368.9,520.3 369.7,520.3 370.5,520.3 371.3,520.3 372.1,520.3 372.9,520.3 373.7,520.3 374.5,520.3 375.3,520.3 376.1,520.3 376.9,520.3 377.7,520.3 378.5,520.3 379.3,520.3 380.1,520.3 380.9,520.3 381.7,520.3 382.5,520.3 383.3,520.3 384.1,520.3 384.9,520.3 385.7,520.3 386.5,520.3 387.3,520.3 388.1,520.3 388.9,520.3 389.7,520.3 390.5,520.3" fill="none" stroke="#1aee1a" stroke-width="1.3"/>
<line x1="54.3" y1="346.5" x2="54.3" y2="517.3" stroke="#222" stroke-width="0.8" />
</g>
<line x1="32.1" y1="516.92" x2="34.3" y2="516.92" stroke="#111" stroke-width="0.7" />
<line x1="391" y1="516.92" x2="388.8" y2="516.92" stroke="#111" stroke-width="0.7" />
<line x1="32.1" y1="510.09" x2="34.3" y2="510.09" stroke="#111" stroke-width="0.7" />
<line x1="391" y1="510.09" x2="388.8" y2="510.09" stroke="#111" stroke-width="0.7" />
<line x1="32.1" y1="505.24" x2="34.3" y2="505.24" stroke="#111" stroke-width="0.7" />
<line x1="391" y1="505.24" x2="388.8" y2="505.24" stroke="#111" stroke-width="0.7" />
<line x1="32.1" y1="501.48" x2="34.3" y2="501.48" stroke="#111" stroke-width="0.7" />
<line x1="391" y1="501.48" x2="388.8" y2="501.48" stroke="#111" stroke-width="0.7" />
<line x1="32.1" y1="498.41" x2="34.3" y2="498.41" stroke="#111" stroke-width="0.7" />
<line x1="391" y1="498.41" x2="388.8" y2="498.41" stroke="#111" stroke-width="0.7" />
<line x1="32.1" y1="495.81" x2="34.3" y2="495.81" stroke="#111" stroke-width="0.7" />
<line x1="391" y1="495.81" x2="388.8" y2="495.81" stroke="#111" stroke-width="0.7" />
<line x1="32.1" y1="493.56" x2="34.3" y2="493.56" stroke="#111" stroke-width="0.7" />
<line x1="391" y1="493.56" x2="388.8" y2="493.56" stroke="#111" stroke-width="0.7" />
<line x1="32.1" y1="491.58" x2="34.3" y2="491.58" stroke="#111" stroke-width="0.7" />
<line x1="391" y1="491.58" x2="388.8" y2="491.58" stroke="#111" stroke-width="0.7" />
<line x1="32.1" y1="489.8" x2="36.1" y2="489.8" stroke="#111" stroke-width="0.7" />
<line x1="391" y1="489.8" x2="387" y2="489.8" stroke="#111" stroke-width="0.7" />
<line x1="32.1" y1="478.12" x2="34.3" y2="478.12" stroke="#111" stroke-width="0.7" />
<line x1="391" y1="478.12" x2="388.8" y2="478.12" stroke="#111" stroke-width="0.7" />
<line x1="32.1" y1="471.29" x2="34.3" y2="471.29" stroke="#111" stroke-width="0.7" />
<line x1="391" y1="471.29" x2="388.8" y2="471.29" stroke="#111" stroke-width="0.7" />
<line x1="32.1" y1="466.44" x2="34.3" y2="466.44" stroke="#111" stroke-width="0.7" />
<line x1="391" y1="466.44" x2="388.8" y2="466.44" stroke="#111" stroke-width="0.7" />
<line x1="32.1" y1="462.68" x2="34.3" y2="462.68" stroke="#111" stroke-width="0.7" />
<line x1="391" y1="462.68" x2="388.8" y2="462.68" stroke="#111" stroke-width="0.7" />
<line x1="32.1" y1="459.61" x2="34.3" y2="459.61" stroke="#111" stroke-width="0.7" />
<line x1="391" y1="459.61" x2="388.8" y2="459.61" stroke="#111" stroke-width="0.7" />
<line x1="32.1" y1="457.01" x2="34.3" y2="457.01" stroke="#111" stroke-width="0.7" />
<line x1="391" y1="457.01" x2="388.8" y2="457.01" stroke="#111" stroke-width="0.7" />
<line x1="32.1" y1="454.76" x2="34.3" y2="454.76" stroke="#111" stroke-width="0.7" />
<line x1="391" y1="454.76" x2="388.8" y2="454.76" stroke="#111" stroke-width="0.7" />
<line x1="32.1" y1="452.78" x2="34.3" y2="452.78" stroke="#111" stroke-width="0.7" />
<line x1="391" y1="452.78" x2="388.8" y2="452.78" stroke="#111" stroke-width="0.7" />
<line x1="32.1" y1="451" x2="36.1" y2="451" stroke="#111" stroke-width="0.7" />
<line x1="391" y1="451" x2="387" y2="451" stroke="#111" stroke-width="0.7" />
<line x1="32.1" y1="439.32" x2="34.3" y2="439.32" stroke="#111" stroke-width="0.7" />
<line x1="391" y1="439.32" x2="388.8" y2="439.32" stroke="#111" stroke-width="0.7" />
<line x1="32.1" y1="432.49" x2="34.3" y2="432.49" stroke="#111" stroke-width="0.7" />
<line x1="391" y1="432.49" x2="388.8" y2="432.49" stroke="#111" stroke-width="0.7" />
<line x1="32.1" y1="427.64" x2="34.3" y2="427.64" stroke="#111" stroke-width="0.7" />
<line x1="391" y1="427.64" x2="388.8" y2="427.64" stroke="#111" stroke-width="0.7" />
<line x1="32.1" y1="423.88" x2="34.3" y2="423.88" stroke="#111" stroke-width="0.7" />
<line x1="391" y1="423.88" x2="388.8" y2="423.88" stroke="#111" stroke-width="0.7" />
<line x1="32.1" y1="420.81" x2="34.3" y2="420.81" stroke="#111" stroke-width="0.7" />
<line x1="391" y1="420.81" x2="388.8" y2="420.81" stroke="#111" stroke-width="0.7" />
<line x1="32.1" y1="418.21" x2="34.3" y2="418.21" stroke="#111" stroke-width="0.7" />
<line x1="391" y1="418.21" x2="388.8" y2="418.21" stroke="#111" stroke-width="0.7" />
<line x1="32.1" y1="415.96" x2="34.3" y2="415.96" stroke="#111" stroke-width="0.7" />
<line x1="391" y1="415.96" x2="388.8" y2="415.96" stroke="#111" stroke-width="0.7" />
<line x1="32.1" y1="413.98" x2="34.3" y2="413.98" stroke="#111" stroke-width="0.7" />
<line x1="391" y1="413.98" x2="388.8" y2="413.98" stroke="#111" stroke-width="0.7" />
<line x1="32.1" y1="412.2" x2="36.1" y2="412.2" stroke="#111" stroke-width="0.7" />
<line x1="391" y1="412.2" x2="387" y2="412.2" stroke="#111" stroke-width="0.7" />
<line x1="32.1" y1="400.52" x2="34.3" y2="400.52" stroke="#111" stroke-width="0.7" />
<line x1="391" y1="400.52" x2="388.8" y2="400.52" stroke="#111" stroke-width="0.7" />
<line x1="32.1" y1="393.69" x2="34.3" y2="393.69" stroke="#111" stroke-width="0.7" />
<line x1="391" y1="393.69" x2="388.8" y2="393.69" stroke="#111" stroke-width="0.7" />
<line x1="32.1" y1="388.84" x2="34.3" y2="388.84" stroke="#111" stroke-width="0.7" />
<line x1="391" y1="388.84" x2="388.8" y2="388.84" stroke="#111" stroke-width="0.7" />
<line x1="32.1" y1="385.08" x2="34.3" y2="385.08" stroke="#111" stroke-width="0.7" />
<line x1="391" y1="385.08" x2="388.8" y2="385.08" stroke="#111" stroke-width="0.7" />
<line x1="32.1" y1="382.01" x2="34.3" y2="382.01" stroke="#111" stroke-width="0.7" />
<line x1="391" y1="382.01" x2="388.8" y2="382.01" stroke="#111" stroke-width="0.7" />
<line x1="32.1" y1="379.41" x2="34.3" y2="379.41" stroke="#111" stroke-width="0.7" />
<line x1="391" y1="379.41" x2="388.8" y2="379.41" stroke="#111" stroke-width="0.7" />
<line x1="32.1" y1="377.16" x2="34.3" y2="377.16" stroke="#111" stroke-width="0.7" />
<line x1="391" y1="377.16" x2="388.8" y2="377.16" stroke="#111" stroke-width="0.7" />
<line x1="32.1" y1="375.18" x2="34.3" y2="375.18" stroke="#111" stroke-width="0.7" />
<line x1="391" y1="375.18" x2="388.8" y2="375.18" stroke="#111" stroke-width="0.7" />
<line x1="32.1" y1="373.4" x2="36.1" y2="373.4" stroke="#111" stroke-width="0.7" />
<line x1="391" y1="373.4" x2="387" y2="373.4" stroke="#111" stroke-width="0.7" />
<line x1="32.1" y1="361.72" x2="34.3" y2="361.72" stroke="#111" stroke-width="0.7" />
<line x1="391" y1="361.72" x2="388.8" y2="361.72" stroke="#111" stroke-width="0.7" />
<line x1="32.1" y1="354.89" x2="34.3" y2="354.89" stroke="#111" stroke-width="0.7" />
<line x1="391" y1="354.89" x2="388.8" y2="354.89" stroke="#111" stroke-width="0.7" />
<line x1="32.1" y1="350.04" x2="34.3" y2="350.04" stroke="#111" stroke-width="0.7" />
<line x1="391" y1="350.04" x2="388.8" y2="350.04" stroke="#111" stroke-width="0.7" />
<line x1="54.3" y1="346.5" x2="54.3" y2="350.5" stroke="#111" stroke-width="0.8" />
<line x1="54.3" y1="517.3" x2="54.3" y2="513.3" stroke="#111" stroke-width="0.8" />
<line x1="110.42" y1="346.5" x2="110.42" y2="349" stroke="#111" stroke-width="0.8" />
<line x1="110.42" y1="517.3" x2="110.42" y2="514.8" stroke="#111" stroke-width="0.8" />
<line x1="166.55" y1="346.5" x2="166.55" y2="350.5" stroke="#111" stroke-width="0.8" />
<line x1="166.55" y1="517.3" x2="166.55" y2="513.3" stroke="#111" stroke-width="0.8" />
<line x1="222.68" y1="346.5" x2="222.68" y2="349" stroke="#111" stroke-width="0.8" />
<line x1="222.68" y1="517.3" x2="222.68" y2="514.8" stroke="#111" stroke-width="0.8" />
<line x1="278.8" y1="346.5" x2="278.8" y2="350.5" stroke="#111" stroke-width="0.8" />
<line x1="278.8" y1="517.3" x2="278.8" y2="513.3" stroke="#111" stroke-width="0.8" />
<line x1="334.93" y1="346.5" x2="334.93" y2="349" stroke="#111" stroke-width="0.8" />
<line x1="334.93" y1="517.3" x2="334.93" y2="514.8" stroke="#111" stroke-width="0.8" />
<rect x="32.1" y="346.5" width="358.9" height="170.8" stroke="#111" stroke-width="1.0" fill="none" />
<rect x="329.6" y="349.3" width="36.5" height="60.9" stroke="#111" stroke-width="0.9" fill="#fff" />
<line x1="331" y1="356.7" x2="351.9" y2="356.7" stroke="#111" stroke-width="1.3" />
<text x="354.2" y="360.07" font-size="9.4" text-anchor="start" font-weight="normal" fill="#111" >4</text>
<line x1="331" y1="368.4" x2="351.9" y2="368.4" stroke="#ff1a1a" stroke-width="1.3" />
<text x="354.2" y="371.77" font-size="9.4" text-anchor="start" font-weight="normal" fill="#111" >6</text>
<line x1="331" y1="380.1" x2="351.9" y2="380.1" stroke="#1a1aff" stroke-width="1.3" />
<text x="354.2" y="383.47" font-size="9.4" text-anchor="start" font-weight="normal" fill="#111" >8</text>
<line x1="331" y1="391.8" x2="351.9" y2="391.8" stroke="#ff1aff" stroke-width="1.3" />
<text x="354.2" y="395.17" font-size="9.4" text-anchor="start" font-weight="normal" fill="#111" >10</text>
<line x1="331" y1="403.4" x2="351.9" y2="403.4" stroke="#1aee1a" stroke-width="1.3" />
<text x="354.2" y="406.77" font-size="9.4" text-anchor="start" font-weight="normal" fill="#111" >14</text>
<text x="27.4" y="376.51" font-size="8.7" text-anchor="end" fill="#111">10<tspan font-size="6.26" dy="-3.65">-3</tspan></text>
<text x="27.4" y="415.31" font-size="8.7" text-anchor="end" fill="#111">10<tspan font-size="6.26" dy="-3.65">-4</tspan></text>
<text x="27.4" y="454.11" font-size="8.7" text-anchor="end" fill="#111">10<tspan font-size="6.26" dy="-3.65">-5</tspan></text>
<text x="27.4" y="492.91" font-size="8.7" text-anchor="end" fill="#111">10<tspan font-size="6.26" dy="-3.65">-6</tspan></text>
<text x="54.3" y="529.37" font-size="9.4" text-anchor="middle" font-weight="normal" fill="#111" >0</text>
<text x="166.55" y="529.37" font-size="9.4" text-anchor="middle" font-weight="normal" fill="#111" >5</text>
<text x="278.8" y="529.37" font-size="9.4" text-anchor="middle" font-weight="normal" fill="#111" >10</text>
<text x="391.05" y="529.37" font-size="9.4" text-anchor="middle" font-weight="normal" fill="#111" >15</text>
<text x="0" y="0" font-size="9.4" text-anchor="middle" fill="#111" transform="translate(7.8,431.7) rotate(-90)">Modal power (a.u.)</text>
<text x="0.8" y="348.7" font-size="20" text-anchor="start" font-weight="bold" fill="#111" >f</text>
<g clip-path="url(#clipG)">
<path d="M32.0,707.6 32.0,568.2 32.8,568.2 33.6,568.1 34.4,568.0 35.2,568.0 36.0,567.9 36.8,567.8 37.6,567.8 38.4,567.7 39.2,567.7 40.0,567.6 40.8,567.6 41.6,567.5 42.4,567.5 43.2,567.4 44.0,567.4 44.8,567.4 45.6,567.3 46.4,567.3 47.2,567.3 48.0,567.2 48.8,567.2 49.6,567.2 50.4,567.2 51.2,567.1 52.0,567.1 52.8,567.1 53.6,567.1 54.4,567.1 55.2,567.1 56.0,567.1 56.8,567.1 57.6,567.1 58.4,567.1 59.2,567.1 60.0,567.2 60.8,567.2 61.6,567.2 62.4,567.2 63.2,567.3 64.0,567.3 64.8,567.4 65.6,567.4 66.4,567.5 67.2,567.5 68.0,567.6 68.8,567.7 69.6,567.8 70.4,567.9 71.2,568.0 72.0,568.1 72.8,568.2 73.6,568.4 74.4,568.5 75.2,568.6 76.0,568.8 76.8,568.9 77.6,569.1 78.4,569.2 79.2,569.4 80.0,569.6 80.8,569.8 81.6,570.0 82.4,570.3 83.2,570.5 84.0,570.8 84.8,571.1 85.6,571.4 86.4,571.7 87.2,572.0 88.0,572.3 88.8,572.7 89.6,573.1 90.4,573.4 91.2,573.8 92.0,574.2 92.8,574.6 93.6,575.1 94.4,575.5 95.2,576.0 96.0,576.4 96.8,576.9 97.6,577.4 98.4,577.9 99.2,578.4 100.0,579.0 100.8,579.6 101.6,580.1 102.4,580.8 103.2,581.4 104.0,582.0 104.8,582.7 105.6,583.3 106.4,584.0 107.2,584.6 108.0,585.3 108.8,586.0 109.6,586.7 110.4,587.3 111.2,588.0 112.0,588.7 112.8,589.3 113.6,590.0 114.4,590.6 115.2,591.2 116.0,591.8 116.8,592.4 117.6,593.1 118.4,593.7 119.2,594.3 120.0,594.9 120.8,595.6 121.6,596.2 122.4,596.8 123.2,597.5 124.0,598.2 124.8,598.9 125.6,599.6 126.4,600.4 127.2,601.3 128.0,602.2 128.8,603.2 129.6,604.3 130.4,605.4 131.2,606.6 132.0,607.7 132.8,608.7 133.6,609.7 134.4,610.8 135.2,611.8 136.0,612.8 136.8,613.8 137.6,614.7 138.4,615.6 139.2,616.3 140.0,616.9 140.8,617.4 141.6,617.8 142.4,618.0 143.2,618.2 144.0,618.3 144.8,618.3 145.6,618.4 146.4,618.4 147.2,618.4 148.0,618.4 148.8,618.4 149.6,618.4 150.4,618.4 151.2,618.3 152.0,618.3 152.8,618.2 153.6,618.2 154.4,618.1 155.2,618.0 156.0,617.9 156.8,617.7 157.6,617.6 158.4,617.4 159.2,617.3 160.0,617.0 160.8,616.8 161.6,616.6 162.4,616.3 163.2,616.1 164.0,615.9 164.8,615.7 165.6,615.5 166.4,615.3 167.2,615.2 168.0,615.1 168.8,615.0 169.6,614.9 170.4,614.9 171.2,614.8 172.0,614.8 172.8,614.9 173.6,614.9 174.4,614.9 175.2,615.0 176.0,615.1 176.8,615.2 177.6,615.3 178.4,615.4 179.2,615.5 180.0,615.7 180.8,615.8 181.6,615.9 182.4,616.1 183.2,616.2 184.0,616.4 184.8,616.6 185.6,616.7 186.4,617.0 187.2,617.2 188.0,617.4 188.8,617.7 189.6,618.0 190.4,618.4 191.2,618.8 192.0,619.2 192.8,619.7 193.6,620.2 194.4,620.7 195.2,621.3 196.0,621.9 196.8,622.5 197.6,623.2 198.4,623.9 199.2,624.6 200.0,625.4 200.8,626.1 201.6,627.0 202.4,627.8 203.2,628.7 204.0,629.6 204.8,630.7 205.6,631.8 206.4,633.1 207.2,634.6 208.0,636.1 208.8,637.7 209.6,639.3 210.4,640.8 211.2,642.1 212.0,643.4 212.8,644.4 213.6,645.3 214.4,646.0 215.2,646.6 216.0,647.2 216.8,647.7 217.6,648.2 218.4,648.6 219.2,649.0 220.0,649.3 220.8,649.6 221.6,649.9 222.4,650.2 223.2,650.5 224.0,650.7 224.8,651.0 225.6,651.2 226.4,651.4 227.2,651.6 228.0,651.8 228.8,651.9 229.6,651.9 230.4,651.7 231.2,651.4 232.0,650.9 232.8,650.2 233.6,649.4 234.4,648.3 235.2,647.1 236.0,645.8 236.8,644.5 237.6,643.3 238.4,642.1 239.2,641.0 240.0,640.0 240.8,639.1 241.6,638.4 242.4,637.7 243.2,637.0 244.0,636.4 244.8,635.8 245.6,635.2 246.4,634.7 247.2,634.1 248.0,633.7 248.8,633.2 249.6,632.7 250.4,632.3 251.2,631.9 252.0,631.5 252.8,631.1 253.6,630.7 254.4,630.3 255.2,630.0 256.0,629.6 256.8,629.3 257.6,629.0 258.4,628.7 259.2,628.4 260.0,628.1 260.8,627.9 261.6,627.6 262.4,627.4 263.2,627.2 264.0,626.9 264.8,626.8 265.6,626.6 266.4,626.4 267.2,626.3 268.0,626.1 268.8,626.0 269.6,625.9 270.4,625.8 271.2,625.8 272.0,625.8 272.8,625.8 273.6,625.8 274.4,625.8 275.2,625.9 276.0,626.0 276.8,626.2 277.6,626.4 278.4,626.6 279.2,626.9 280.0,627.2 280.8,627.6 281.6,628.0 282.4,628.4 283.2,628.9 284.0,629.4 284.8,630.0 285.6,630.5 286.4,631.1 287.2,631.7 288.0,632.3 288.8,632.9 289.6,633.5 290.4,634.2 291.2,634.9 292.0,635.6 292.8,636.3 293.6,637.0 294.4,637.8 295.2,638.6 296.0,639.4 296.8,640.3 297.6,641.2 298.4,642.2 299.2,643.3 300.0,644.4 300.8,645.6 301.6,646.9 302.4,648.3 303.2,649.8 304.0,651.3 304.8,652.9 305.6,654.7 306.4,656.7 307.2,658.8 308.0,660.9 308.8,663.0 309.6,665.0 310.4,666.7 311.2,668.3 312.0,669.7 312.8,670.1 313.6,669.7 314.4,668.7 315.2,667.4 316.0,665.9 316.8,664.2 317.6,662.4 318.4,660.7 319.2,658.9 320.0,657.2 320.8,655.5 321.6,653.6 322.4,651.5 323.2,649.6 324.0,648.1 324.8,646.8 325.6,645.7 326.4,644.8 327.2,643.9 328.0,643.1 328.8,642.4 329.6,641.6 330.4,640.9 331.2,640.3 332.0,639.6 332.8,639.0 333.6,638.4 334.4,637.9 335.2,637.4 336.0,636.9 336.8,636.5 337.6,636.1 338.4,635.8 339.2,635.5 340.0,635.3 340.8,635.1 341.6,635.0 342.4,635.0 343.2,635.0 344.0,635.1 344.8,635.2 345.6,635.3 346.4,635.5 347.2,635.6 348.0,635.8 348.8,636.1 349.6,636.3 350.4,636.5 351.2,636.8 352.0,637.1 352.8,637.4 353.6,637.8 354.4,638.2 355.2,638.8 356.0,639.5 356.8,640.3 357.6,641.2 358.4,642.0 359.2,643.0 360.0,644.0 360.8,645.1 361.6,646.3 362.4,647.5 363.2,648.6 364.0,649.7 364.8,650.6 365.6,651.5 366.4,652.4 367.2,653.1 368.0,653.9 368.8,654.6 369.6,655.2 370.4,655.8 371.2,656.5 372.0,657.1 372.8,657.7 373.6,658.0 374.4,658.2 375.2,658.2 376.0,658.1 376.8,657.8 377.6,657.6 378.4,657.3 379.2,656.9 380.0,656.5 380.8,656.1 381.6,655.7 382.4,655.2 383.2,654.7 384.0,654.2 384.8,653.7 385.6,653.1 386.4,652.5 387.2,651.8 388.0,651.1 388.8,650.4 389.6,649.7 390.4,649.0 391.0,648.5 391.0,707.6 Z" fill="#f9d8d8" fill-opacity="0.55" stroke="none"/>
<path d="M32.6,576.1 33.8,588.4 34.6,604.3 35.1,622.1 35.4,647.6 35.6,709.6 M36.6,709.6 36.8,646.9 37.0,621.2 37.5,603.0 38.4,586.4 39.6,573.0 41.3,561.1 43.7,552.1 46.1,547.2 48.5,545.3 50.9,546.2 53.3,549.9 55.7,557.8 57.4,568.7 58.6,581.5 59.5,597.6 60.0,615.5 60.2,641.1 60.4,709.6 M61.4,709.6 61.6,640.9 61.9,615.3 62.4,597.1 63.2,580.8 64.4,567.7 66.2,556.3 68.6,547.7 71.0,543.3 73.3,541.7 75.7,542.9 78.1,547.0 80.5,555.2 82.3,566.4 83.5,579.3 84.3,595.5 84.8,613.5 85.1,639.1 85.3,709.6 M86.3,709.6 86.5,639.2 86.7,613.6 87.2,595.5 88.1,579.3 89.3,566.5 91.0,555.4 93.4,547.2 95.8,543.1 98.2,542.0 100.6,543.5 103.0,547.9 105.4,556.4 107.1,567.8 108.3,580.8 109.2,597.1 109.7,615.2 109.9,640.9 110.1,709.6 M111.1,709.6 111.3,641.0 111.6,615.5 112.1,597.5 112.9,581.4 114.1,568.6 115.9,557.7 118.3,549.6 120.7,545.8 123.1,545.0 125.4,547.0 127.8,551.9 130.2,560.9 132.0,572.7 133.2,586.0 134.0,602.5 134.5,620.7 134.8,646.4 135.0,709.6 M136.0,709.6 136.2,646.8 136.4,621.3 136.9,603.5 137.8,587.5 139.0,575.1 140.7,564.5 143.1,557.1 145.5,553.9 147.9,553.6 150.3,556.0 152.7,561.4 155.1,570.9 156.8,583.0 158.0,596.5 158.9,613.2 159.4,631.5 159.6,657.2 159.8,709.6 M160.8,709.6 161.0,657.9 161.3,632.5 161.8,614.7 162.6,598.9 163.8,586.6 165.6,576.4 168.0,569.4 170.4,566.5 172.8,566.5 175.1,569.3 177.5,575.6 179.9,586.3 181.7,599.0 182.9,612.9 183.7,629.9 184.2,648.3 184.5,674.2 184.7,709.6 M185.7,709.6 185.9,675.3 186.1,650.0 186.6,632.3 187.5,616.8 188.7,604.9 190.4,595.3 192.8,589.1 195.2,587.0 197.6,588.0 200.0,591.8 202.4,598.7 204.8,609.8 206.5,623.1 207.7,637.4 208.6,654.6 209.1,673.2 209.3,699.1 209.5,709.6 M210.5,709.6 210.7,700.6 211.0,675.4 211.5,657.8 212.3,642.5 213.5,630.9 215.3,621.6 217.7,615.8 220.1,613.9 222.5,614.7 224.8,617.8 227.2,623.7 229.6,633.6 231.4,645.9 232.6,659.6 233.4,676.3 233.9,694.7 234.2,709.6 234.4,709.6 M235.4,709.6 235.6,709.6 235.8,696.1 236.3,678.4 237.2,662.9 238.4,651.0 240.1,641.3 242.5,634.8 244.9,632.1 247.3,631.6 249.7,632.9 252.1,636.6 254.5,644.0 256.2,654.5 257.4,666.9 258.3,682.9 258.8,700.8 259.0,709.6 259.2,709.6 M260.2,709.6 260.4,709.6 260.7,700.1 261.2,681.9 262.0,665.4 263.2,652.1 265.0,640.3 267.4,631.1 269.8,626.0 272.1,623.9 274.5,624.4 276.9,627.9 279.3,635.6 281.1,646.3 282.3,658.9 283.1,674.9 283.6,692.8 283.9,709.6 284.1,709.6 M285.1,709.6 285.3,709.6 285.5,692.3 286.0,674.2 286.9,657.7 288.1,644.5 289.8,632.9 292.2,624.1 294.6,619.5 297.0,617.9 299.4,619.1 301.8,623.4 304.2,632.0 305.9,643.4 307.1,656.5 308.0,672.9 308.5,691.1 308.7,709.6 308.9,709.6 M309.9,709.6 310.1,709.6 310.4,691.5 310.9,673.5 311.7,657.5 312.9,644.9 314.7,634.1 317.1,626.4 319.5,622.7 321.9,622.2 324.2,625.0 326.6,631.0 329.0,641.6 330.8,654.6 332.0,668.8 332.8,686.1 333.3,704.7 333.6,709.6 333.8,709.6 M334.8,709.6 335.0,709.6 335.2,707.2 335.7,689.9 336.6,674.8 337.8,663.6 339.5,655.2 341.9,651.0 344.3,651.6 346.7,653.8 349.1,657.2 351.5,662.5 353.9,670.6 355.6,680.9 356.8,692.9 357.7,708.5 358.2,709.6 358.4,709.6 358.6,709.6 M359.6,709.6 359.8,709.6 360.1,709.6 360.6,705.5 361.4,688.2 362.6,673.8 364.4,660.4 366.8,649.0 369.2,641.9 371.6,638.1 373.9,637.3 376.3,639.7 378.7,646.6 380.5,656.8 381.7,669.1 382.5,685.0 383.0,702.8 383.3,709.6 383.5,709.6 M384.5,709.6 384.7,709.6 384.9,702.1 385.4,683.8 386.3,667.3 387.5,653.9 389.2,642.0" fill="none" stroke="#111" stroke-width="1.1" />
<path d="M32.3,569.5 32.8,568.2 33.3,569.4 33.7,573.6 34.2,581.9 34.5,593.1 34.7,606.0 34.9,622.2 35.0,640.2 35.1,665.8 35.1,709.6 M37.9,709.6 37.9,665.6 38.0,640.0 38.1,621.9 38.3,605.7 38.5,592.8 38.8,581.6 39.3,573.2 39.7,568.9 40.2,567.6 40.7,568.9 41.1,573.1 41.6,581.4 41.9,592.6 42.1,605.5 42.3,621.7 42.4,639.7 42.5,665.3 42.5,709.6 M45.3,709.6 45.3,665.2 45.4,639.6 45.5,621.6 45.7,605.3 45.9,592.4 46.2,581.2 46.7,572.8 47.1,568.6 47.6,567.3 48.1,568.5 48.5,572.8 49.0,581.1 49.3,592.3 49.5,605.2 49.7,621.4 49.8,639.4 49.9,665.0 49.9,709.6 M52.7,709.6 52.7,664.9 52.8,639.4 52.9,621.3 53.1,605.1 53.3,592.2 53.6,581.0 54.1,572.6 54.5,568.4 55.0,567.1 55.5,568.4 55.9,572.6 56.4,581.0 56.7,592.2 56.9,605.1 57.1,621.3 57.2,639.4 57.3,664.9 57.3,709.6 M60.1,709.6 60.1,665.0 60.2,639.4 60.3,621.4 60.5,605.1 60.7,592.3 61.0,581.1 61.5,572.7 61.9,568.5 62.4,567.2 62.9,568.6 63.3,572.8 63.8,581.2 64.1,592.4 64.3,605.3 64.5,621.5 64.6,639.6 64.7,665.2 64.7,709.6 M67.5,709.6 67.5,665.4 67.6,639.8 67.7,621.8 67.9,605.6 68.1,592.7 68.4,581.5 68.9,573.2 69.3,569.1 69.8,567.8 70.3,569.2 70.7,573.5 71.2,581.9 71.5,593.1 71.7,606.1 71.9,622.3 72.0,640.4 72.1,666.0 72.1,709.6 M74.9,709.6 74.9,666.4 75.0,640.8 75.1,622.8 75.3,606.6 75.5,593.7 75.8,582.6 76.3,574.4 76.7,570.2 77.2,569.0 77.7,570.4 78.1,574.7 78.6,583.2 78.9,594.4 79.1,607.4 79.3,623.7 79.4,641.7 79.5,667.3 79.5,709.6 M82.3,709.6 82.3,668.1 82.4,642.5 82.5,624.5 82.7,608.3 82.9,595.5 83.2,584.4 83.7,576.2 84.1,572.2 84.6,571.0 85.1,572.5 85.5,576.9 86.0,585.4 86.3,596.7 86.5,609.7 86.7,626.0 86.8,644.1 86.9,669.7 86.9,709.6 M89.7,709.6 89.7,671.0 89.8,645.4 89.9,627.4 90.1,611.2 90.3,598.4 90.6,587.4 91.1,579.3 91.5,575.3 92.0,574.2 92.5,575.8 92.9,580.2 93.4,588.8 93.7,600.2 93.9,613.2 94.1,629.5 94.2,647.6 94.3,673.3 94.3,709.6 M97.1,709.6 97.1,674.9 97.2,649.4 97.3,631.4 97.5,615.3 97.7,602.5 98.0,591.5 98.5,583.5 98.9,579.6 99.4,578.6 99.9,580.2 100.3,584.7 100.8,593.4 101.1,604.9 101.3,617.9 101.5,634.3 101.6,652.4 101.7,678.0 101.7,709.6 M104.5,709.6 104.5,680.3 104.6,654.7 104.7,636.8 104.9,620.7 105.1,608.0 105.4,597.0 105.9,589.1 106.3,585.2 106.8,584.3 107.3,586.0 107.7,590.6 108.2,599.3 108.5,610.8 108.7,623.9 108.9,640.3 109.0,658.4 109.1,684.0 109.1,709.6 M111.9,709.6 111.9,686.5 112.0,660.9 112.1,642.9 112.3,626.8 112.5,614.1 112.8,603.2 113.3,595.2 113.7,591.4 114.2,590.4 114.7,592.1 115.1,596.7 115.6,605.4 115.9,616.8 116.1,629.9 116.3,646.3 116.4,664.4 116.5,690.0 116.5,709.6 M119.3,709.6 119.3,692.2 119.4,666.7 119.5,648.7 119.7,632.6 119.9,619.9 120.2,609.0 120.7,601.0 121.1,597.1 121.6,596.2 122.1,597.9 122.5,602.5 123.0,611.2 123.3,622.7 123.5,635.8 123.7,652.1 123.8,670.3 123.9,695.9 123.9,709.6 M126.7,709.6 126.7,698.6 126.8,673.1 126.9,655.1 127.1,639.1 127.3,626.4 127.6,615.6 128.1,607.8 128.5,604.2 129.0,603.5 129.5,605.4 129.9,610.3 130.4,619.3 130.7,631.0 130.9,644.2 131.1,660.7 131.2,678.8 131.3,704.5 131.3,709.6 M134.1,709.6 134.1,708.3 134.2,682.7 134.3,664.8 134.5,648.8 134.7,636.2 135.0,625.4 135.5,617.7 135.9,614.0 136.4,613.3 136.9,615.2 137.3,619.9 137.8,628.8 138.1,640.3 138.3,653.5 138.5,669.9 138.6,688.0 138.7,709.6 138.7,709.6 M141.5,709.6 141.5,709.6 141.6,690.0 141.7,672.0 141.9,655.8 142.1,643.0 142.4,631.9 142.9,623.7 143.3,619.5 143.8,618.3 144.3,619.6 144.7,623.9 145.2,632.2 145.5,643.4 145.7,656.3 145.9,672.6 146.0,690.6 146.1,709.6 146.1,709.6 M148.9,709.6 148.9,709.6 149.0,690.7 149.1,672.6 149.3,656.4 149.5,643.5 149.8,632.3 150.3,623.9 150.7,619.7 151.2,618.3 151.7,619.6 152.1,623.8 152.6,632.1 152.9,643.3 153.1,656.2 153.3,672.4 153.4,690.4 153.5,709.6 153.5,709.6 M156.3,709.6 156.3,709.6 156.4,690.1 156.5,672.0 156.7,655.7 156.9,642.8 157.2,631.5 157.7,623.1 158.1,618.8 158.6,617.4 159.1,618.6 159.5,622.7 160.0,630.9 160.3,642.0 160.5,654.9 160.7,671.0 160.8,689.1 160.9,709.6 160.9,709.6 M163.7,709.6 163.7,709.6 163.8,688.2 163.9,670.1 164.1,653.8 164.3,640.9 164.6,629.6 165.1,621.1 165.5,616.8 166.0,615.4 166.5,616.6 166.9,620.7 167.4,629.0 167.7,640.2 167.9,653.0 168.1,669.2 168.2,687.3 168.3,709.6 168.3,709.6 M171.1,709.6 171.1,709.6 171.2,687.1 171.3,669.1 171.5,652.8 171.7,639.9 172.0,628.7 172.5,620.4 172.9,616.2 173.4,614.9 173.9,616.2 174.3,620.5 174.8,628.8 175.1,640.1 175.3,653.0 175.5,669.2 175.6,687.3 175.7,709.6 175.7,709.6 M178.5,709.6 178.5,709.6 178.6,687.7 178.7,669.6 178.9,653.4 179.1,640.6 179.4,629.4 179.9,621.2 180.3,617.0 180.8,615.8 181.3,617.2 181.7,621.5 182.2,629.9 182.5,641.2 182.7,654.1 182.9,670.4 183.0,688.4 183.1,709.6 183.1,709.6 M185.9,709.6 185.9,709.6 186.0,689.1 186.1,671.1 186.3,654.9 186.5,642.0 186.8,630.9 187.3,622.7 187.7,618.7 188.2,617.5 188.7,619.0 189.1,623.4 189.6,631.9 189.9,643.2 190.1,656.2 190.3,672.5 190.4,690.6 190.5,709.6 190.5,709.6 M193.3,709.6 193.3,709.6 193.4,692.3 193.5,674.3 193.7,658.2 193.9,645.4 194.2,634.5 194.7,626.4 195.1,622.6 195.6,621.6 196.1,623.3 196.5,627.8 197.0,636.5 197.3,648.0 197.5,661.1 197.7,677.5 197.8,695.6 197.9,709.6 197.9,709.6 M200.7,709.6 200.7,709.6 200.8,698.4 200.9,680.4 201.1,664.4 201.3,651.7 201.6,640.9 202.1,633.0 202.5,629.3 203.0,628.5 203.5,630.3 203.9,635.1 204.4,644.0 204.7,655.6 204.9,668.8 205.1,685.3 205.2,703.5 205.3,709.6 205.3,709.6 M208.1,709.6 208.1,709.6 208.2,708.7 208.3,690.9 208.5,675.0 208.7,662.5 209.0,652.0 209.5,644.6 209.9,641.2 210.4,640.8 210.9,642.9 211.3,647.9 211.8,656.9 212.1,668.6 212.3,681.8 212.5,698.3 212.6,709.6 212.7,709.6 212.7,709.6 M215.5,709.6 215.5,709.6 215.6,709.6 215.7,701.2 215.9,685.1 216.1,672.3 216.4,661.3 216.9,653.3 217.3,649.3 217.8,648.3 218.3,649.8 218.7,654.3 219.2,662.8 219.5,674.2 219.7,687.2 219.9,703.5 220.0,709.6 220.1,709.6 220.1,709.6 M222.9,709.6 222.9,709.6 223.0,709.6 223.1,704.7 223.3,688.5 223.5,675.7 223.8,664.6 224.3,656.4 224.7,652.3 225.2,651.1 225.7,652.5 226.1,656.9 226.6,665.3 226.9,676.6 227.1,689.6 227.3,705.9 227.4,709.6 227.5,709.6 227.5,709.6 M230.3,709.6 230.3,709.6 230.4,709.6 230.5,705.9 230.7,689.6 230.9,676.6 231.2,665.2 231.7,656.6 232.1,652.1 232.6,650.4 233.1,651.3 233.5,655.0 234.0,662.8 234.3,673.5 234.5,686.1 234.7,702.1 234.8,709.6 234.9,709.6 234.9,709.6 M237.7,709.6 237.7,709.6 237.8,709.6 237.9,697.0 238.1,680.5 238.3,667.3 238.6,655.6 239.1,646.6 239.5,641.8 240.0,640.0 240.5,640.8 240.9,644.5 241.4,652.4 241.7,663.3 241.9,676.0 242.1,692.1 242.2,709.6 242.3,709.6 242.3,709.6 M245.1,709.6 245.1,709.6 245.2,707.7 245.3,689.6 245.5,673.3 245.7,660.2 246.0,648.8 246.5,640.1 246.9,635.6 247.4,634.0 247.9,635.0 248.3,639.0 248.8,647.1 249.1,658.1 249.3,670.8 249.5,687.0 249.6,705.0 249.7,709.6 249.7,709.6 M252.5,709.6 252.5,709.6 252.6,703.4 252.7,685.3 252.9,669.0 253.1,656.0 253.4,644.6 253.9,636.1 254.3,631.7 254.8,630.1 255.3,631.3 255.7,635.3 256.2,643.4 256.5,654.5 256.7,667.3 256.9,683.5 257.0,701.5 257.1,709.6 257.1,709.6 M259.9,709.6 259.9,709.6 260.0,700.4 260.1,682.3 260.3,666.0 260.5,653.1 260.8,641.7 261.3,633.3 261.7,628.9 262.2,627.4 262.7,628.6 263.1,632.7 263.6,640.9 263.9,652.0 264.1,664.9 264.3,681.1 264.4,699.1 264.5,709.6 264.5,709.6 M267.3,709.6 267.3,709.6 267.4,698.5 267.5,680.4 267.7,664.1 267.9,651.2 268.2,640.0 268.7,631.6 269.1,627.3 269.6,625.9 270.1,627.2 270.5,631.4 271.0,639.7 271.3,650.8 271.5,663.7 271.7,680.0 271.8,698.0 271.9,709.6 271.9,709.6 M274.7,709.6 274.7,709.6 274.8,698.1 274.9,680.1 275.1,663.9 275.3,651.0 275.6,639.8 276.1,631.6 276.5,627.4 277.0,626.2 277.5,627.7 277.9,632.0 278.4,640.5 278.7,651.8 278.9,664.8 279.1,681.1 279.2,699.1 279.3,709.6 279.3,709.6 M282.1,709.6 282.1,709.6 282.2,700.6 282.3,682.6 282.5,666.4 282.7,653.7 283.0,642.7 283.5,634.6 283.9,630.7 284.4,629.7 284.9,631.3 285.3,635.9 285.8,644.5 286.1,656.0 286.3,669.1 286.5,685.4 286.6,703.5 286.7,709.6 286.7,709.6 M289.5,709.6 289.5,709.6 289.6,705.8 289.7,687.8 289.9,671.7 290.1,659.0 290.4,648.1 290.9,640.1 291.3,636.3 291.8,635.4 292.3,637.1 292.7,641.7 293.2,650.5 293.5,662.0 293.7,675.1 293.9,691.5 294.0,709.6 294.1,709.6 294.1,709.6 M296.9,709.6 296.9,709.6 297.0,709.6 297.1,694.8 297.3,678.8 297.5,666.1 297.8,655.3 298.3,647.6 298.7,644.0 299.2,643.3 299.7,645.2 300.1,650.1 300.6,659.2 300.9,670.9 301.1,684.2 301.3,700.7 301.4,709.6 301.5,709.6 301.5,709.6 M304.3,709.6 304.3,709.6 304.4,709.6 304.5,706.5 304.7,690.6 304.9,678.2 305.2,667.7 305.7,660.4 306.1,657.3 306.6,657.2 307.1,659.7 307.5,665.1 308.0,674.7 308.3,686.8 308.5,700.4 308.7,709.6 308.8,709.6 308.9,709.6 308.9,709.6 M311.7,709.6 311.7,709.6 311.8,709.6 311.9,709.6 312.1,707.7 312.3,695.0 312.6,684.0 313.1,675.5 313.5,671.0 314.0,669.3 314.5,670.0 314.9,673.5 315.4,681.0 315.7,691.5 315.9,703.9 316.1,709.6 316.2,709.6 316.3,709.6 316.3,709.6 M319.1,709.6 319.1,709.6 319.2,709.6 319.3,709.6 319.5,696.3 319.7,682.9 320.0,671.0 320.5,661.7 320.9,656.5 321.4,654.1 321.9,654.2 322.3,657.3 322.8,664.5 323.1,674.9 323.3,687.3 323.5,703.2 323.6,709.6 323.7,709.6 323.7,709.6 M326.5,709.6 326.5,709.6 326.6,709.6 326.7,698.7 326.9,682.3 327.1,669.1 327.4,657.6 327.9,648.8 328.3,644.1 328.8,642.4 329.3,643.2 329.7,647.1 330.2,655.0 330.5,665.9 330.7,678.6 330.9,694.7 331.0,709.6 331.1,709.6 331.1,709.6 M333.9,709.6 333.9,709.6 334.0,709.6 334.1,692.3 334.3,676.0 334.5,662.9 334.8,651.5 335.3,642.9 335.7,638.4 336.2,636.8 336.7,637.9 337.1,641.9 337.6,650.0 337.9,661.0 338.1,673.8 338.3,690.0 338.4,708.0 338.5,709.6 338.5,709.6 M341.3,709.6 341.3,709.6 341.4,707.3 341.5,689.3 341.7,673.0 341.9,660.1 342.2,648.9 342.7,640.6 343.1,636.3 343.6,635.1 344.1,636.4 344.5,640.7 345.0,649.1 345.3,660.3 345.5,673.3 345.7,689.5 345.8,707.6 345.9,709.6 345.9,709.6 M348.7,709.6 348.7,709.6 348.8,708.3 348.9,690.3 349.1,674.1 349.3,661.3 349.6,650.2 350.1,642.0 350.5,637.9 351.0,636.7 351.5,638.2 351.9,642.6 352.4,651.1 352.7,662.4 352.9,675.4 353.1,691.7 353.2,709.6 353.3,709.6 353.3,709.6 M356.1,709.6 356.1,709.6 356.2,709.6 356.3,694.0 356.5,677.9 356.7,665.3 357.0,654.4 357.5,646.6 357.9,642.8 358.4,642.0 358.9,643.9 359.3,648.6 359.8,657.6 360.1,669.3 360.3,682.5 360.5,698.9 360.6,709.6 360.7,709.6 360.7,709.6 M363.5,709.6 363.5,709.6 363.6,709.6 363.7,703.5 363.9,687.5 364.1,674.9 364.4,664.1 364.9,656.3 365.3,652.6 365.8,651.7 366.3,653.5 366.7,658.2 367.2,667.0 367.5,678.5 367.7,691.6 367.9,708.0 368.0,709.6 368.1,709.6 368.1,709.6 M370.9,709.6 370.9,709.6 371.0,709.6 371.1,709.6 371.3,694.5 371.5,681.8 371.8,670.9 372.3,662.9 372.7,659.0 373.2,657.9 373.7,659.4 374.1,663.7 374.6,672.1 374.9,683.3 375.1,696.2 375.3,709.6 375.4,709.6 375.5,709.6 375.5,709.6 M378.3,709.6 378.3,709.6 378.4,709.6 378.5,709.6 378.7,695.1 378.9,682.1 379.2,670.8 379.7,662.2 380.1,657.7 380.6,656.2 381.1,657.3 381.5,661.2 382.0,669.3 382.3,680.3 382.5,693.1 382.7,709.2 382.8,709.6 382.9,709.6 382.9,709.6 M385.7,709.6 385.7,709.6 385.8,709.6 385.9,707.1 386.1,690.7 386.3,677.6 386.6,666.2 387.1,657.4 387.5,652.8 388.0,651.1 388.5,652.0 388.9,655.9 389.4,663.8 389.7,674.7 389.9,687.4 390.1,703.5 390.2,709.6 390.3,709.6 390.3,709.6" fill="none" stroke="#ff2020" stroke-width="1.0" />
<path d="M32.0,707.6 32.0,585.9 32.8,585.8 33.6,585.6 34.4,585.5 35.2,585.3 36.0,585.2 36.8,585.0 37.6,584.8 38.4,584.7 39.2,584.5 40.0,584.3 40.8,584.1 41.6,583.9 42.4,583.7 43.2,583.5 44.0,583.3 44.8,583.1 45.6,582.9 46.4,582.7 47.2,582.6 48.0,582.4 48.8,582.3 49.6,582.2 50.4,582.1 51.2,582.1 52.0,582.1 52.8,582.1 53.6,582.2 54.4,582.3 55.2,582.4 56.0,582.6 56.8,582.7 57.6,582.9 58.4,583.1 59.2,583.3 60.0,583.6 60.8,583.8 61.6,584.0 62.4,584.3 63.2,584.6 64.0,584.9 64.8,585.2 65.6,585.5 66.4,585.9 67.2,586.3 68.0,586.7 68.8,587.1 69.6,587.5 70.4,588.0 71.2,588.5 72.0,589.0 72.8,589.5 73.6,590.1 74.4,590.7 75.2,591.2 76.0,591.8 76.8,592.4 77.6,593.0 78.4,593.7 79.2,594.3 80.0,595.0 80.8,595.7 81.6,596.4 82.4,597.2 83.2,598.0 84.0,598.9 84.8,599.9 85.6,601.0 86.4,602.0 87.2,603.1 88.0,604.1 88.8,605.0 89.6,605.9 90.4,606.8 91.2,607.6 92.0,608.5 92.8,609.3 93.6,610.1 94.4,610.8 95.2,611.5 96.0,612.1 96.8,612.6 97.6,613.2 98.4,613.7 99.2,614.2 100.0,614.6 100.8,615.0 101.6,615.4 102.4,615.7 103.2,616.0 104.0,616.2 104.8,616.4 105.6,616.5 106.4,616.6 107.2,616.7 108.0,616.7 108.8,616.7 109.6,616.8 110.4,616.8 111.2,616.7 112.0,616.7 112.8,616.7 113.6,616.7 114.4,616.7 115.2,616.8 116.0,616.8 116.8,616.9 117.6,616.9 118.4,616.9 119.2,616.9 120.0,616.9 120.8,617.0 121.6,617.0 122.4,617.1 123.2,617.2 124.0,617.3 124.8,617.5 125.6,617.7 126.4,618.0 127.2,618.3 128.0,618.7 128.8,619.2 129.6,619.8 130.4,620.4 131.2,621.0 132.0,621.6 132.8,622.2 133.6,622.8 134.4,623.3 135.2,623.8 136.0,624.4 136.8,624.9 137.6,625.4 138.4,625.9 139.2,626.5 140.0,627.0 140.8,627.5 141.6,628.0 142.4,628.5 143.2,629.0 144.0,629.4 144.8,629.9 145.6,630.4 146.4,630.8 147.2,631.2 148.0,631.6 148.8,632.0 149.6,632.3 150.4,632.6 151.2,633.0 152.0,633.3 152.8,633.6 153.6,633.9 154.4,634.2 155.2,634.5 156.0,634.7 156.8,635.0 157.6,635.3 158.4,635.6 159.2,636.0 160.0,636.3 160.8,636.6 161.6,637.0 162.4,637.4 163.2,637.7 164.0,638.1 164.8,638.4 165.6,638.8 166.4,639.2 167.2,639.6 168.0,640.0 168.8,640.5 169.6,641.0 170.4,641.7 171.2,642.4 172.0,643.3 172.8,644.2 173.6,645.3 174.4,646.5 175.2,647.8 176.0,649.2 176.8,650.7 177.6,652.3 178.4,654.0 179.2,656.0 180.0,658.2 180.8,660.8 181.6,663.5 182.4,666.0 183.2,668.7 184.0,672.0 184.8,673.3 185.6,673.6 186.4,673.6 187.2,673.5 188.0,673.3 188.8,673.0 189.6,672.6 190.4,672.2 191.2,671.7 192.0,671.1 192.8,670.5 193.6,669.7 194.4,668.8 195.2,667.6 196.0,666.1 196.8,664.5 197.6,662.7 198.4,661.0 199.2,659.4 200.0,658.1 200.8,657.0 201.6,656.0 202.4,655.2 203.2,654.4 204.0,653.7 204.8,653.0 205.6,652.4 206.4,651.8 207.2,651.3 208.0,650.8 208.8,650.4 209.6,650.0 210.4,649.8 211.2,649.6 212.0,649.5 212.8,649.5 213.6,649.7 214.4,649.9 215.2,650.2 216.0,650.6 216.8,651.0 217.6,651.4 218.4,651.9 219.2,652.3 220.0,652.8 220.8,653.4 221.6,654.1 222.4,655.0 223.2,655.7 224.0,656.3 224.8,656.6 225.6,656.7 226.4,656.3 227.2,655.7 228.0,655.0 228.8,654.4 229.6,653.9 230.4,653.8 231.2,654.0 232.0,654.5 232.8,655.3 233.6,656.2 234.4,657.3 235.2,658.4 236.0,659.6 236.8,660.7 237.6,661.8 238.4,662.7 239.2,663.6 240.0,664.5 240.8,665.3 241.6,666.1 242.4,666.8 243.2,667.6 244.0,668.3 244.8,668.9 245.6,669.6 246.4,670.2 247.2,670.8 248.0,671.3 248.8,671.8 249.6,672.4 250.4,672.9 251.2,673.4 252.0,673.9 252.8,674.3 253.6,674.8 254.4,675.2 255.2,675.6 256.0,676.0 256.8,676.4 257.6,676.7 258.4,677.1 259.2,677.4 260.0,677.7 260.8,678.0 261.6,678.3 262.4,678.6 263.2,678.8 264.0,679.0 264.8,679.2 265.6,679.4 266.4,679.7 267.2,679.9 268.0,680.1 268.8,680.3 269.6,680.3 270.4,680.2 271.2,680.0 272.0,679.5 272.8,678.5 273.6,677.0 274.4,674.9 275.2,672.5 276.0,670.2 276.8,668.3 277.6,666.9 278.4,665.8 279.2,664.8 280.0,664.0 280.8,663.3 281.6,662.6 282.4,662.0 283.2,661.4 284.0,660.9 284.8,660.4 285.6,659.9 286.4,659.5 287.2,659.2 288.0,658.9 288.8,658.6 289.6,658.5 290.4,658.3 291.2,658.2 292.0,658.2 292.8,658.1 293.6,658.1 294.4,658.2 295.2,658.3 296.0,658.4 296.8,658.6 297.6,659.0 298.4,659.4 299.2,659.9 300.0,660.6 300.8,661.4 301.6,662.3 302.4,663.5 303.2,664.9 304.0,666.6 304.8,668.7 305.6,671.0 306.4,673.7 307.2,676.6 308.0,679.8 308.8,683.2 309.6,687.5 310.4,693.4 311.2,698.4 312.0,700.5 312.8,700.0 313.6,698.1 314.4,696.2 315.2,694.6 316.0,692.9 316.8,691.1 317.6,689.2 318.4,687.3 319.2,685.4 320.0,683.6 320.8,681.8 321.6,680.1 322.4,678.4 323.2,676.8 324.0,675.3 324.8,673.9 325.6,672.7 326.4,671.6 327.2,670.6 328.0,669.6 328.8,668.7 329.6,668.0 330.4,667.2 331.2,666.5 332.0,665.8 332.8,665.2 333.6,664.6 334.4,664.0 335.2,663.5 336.0,663.0 336.8,662.6 337.6,662.2 338.4,661.8 339.2,661.5 340.0,661.3 340.8,661.1 341.6,661.0 342.4,661.1 343.2,661.3 344.0,661.6 344.8,662.1 345.6,662.7 346.4,663.4 347.2,664.3 348.0,665.2 348.8,666.1 349.6,667.2 350.4,668.4 351.2,669.9 352.0,671.5 352.8,673.3 353.6,675.0 354.4,676.7 355.2,678.2 356.0,679.6 356.8,680.9 357.6,681.9 358.4,682.8 359.2,683.6 360.0,684.3 360.8,685.0 361.6,685.5 362.4,686.1 363.2,686.6 364.0,687.2 364.8,687.7 365.6,688.2 366.4,688.7 367.2,689.2 368.0,689.7 368.8,690.2 369.6,690.8 370.4,691.4 371.2,692.1 372.0,692.8 372.8,693.7 373.6,694.7 374.4,695.9 375.2,697.2 376.0,698.7 376.8,700.2 377.6,701.7 378.4,703.0 379.2,704.1 380.0,705.0 380.8,705.7 381.6,706.4 382.4,707.0 383.2,707.5 384.0,707.6 384.8,707.6 385.6,707.6 386.4,707.6 387.2,707.6 388.0,707.6 388.8,707.6 389.6,707.6 390.4,707.6 391.0,707.6 391.0,707.6 Z" fill="#c4c4f6" fill-opacity="0.5" stroke="none"/>
<path d="M32.8,585.8 33.8,606.2 34.1,643.2 34.2,709.6 M34.3,709.6 34.4,643.1 34.7,606.0 35.7,585.2 36.7,605.6 37.0,642.6 37.1,709.6 M37.2,709.6 37.3,642.6 37.6,605.5 38.6,584.6 39.6,605.1 39.9,642.0 40.0,709.6 M40.1,709.6 40.2,642.0 40.5,604.8 41.5,584.0 42.5,604.3 42.8,641.3 42.9,709.6 M43.0,709.6 43.1,641.2 43.4,604.1 44.4,583.2 45.4,603.6 45.7,640.6 45.8,709.6 M45.9,709.6 46.0,640.5 46.3,603.4 47.3,582.5 48.3,603.0 48.6,640.0 48.7,709.6 M48.8,709.6 48.9,639.9 49.2,602.8 50.2,582.1 51.2,602.7 51.5,639.8 51.6,709.6 M51.7,709.6 51.8,639.8 52.1,602.7 53.1,582.2 54.1,602.9 54.4,640.0 54.5,709.6 M54.6,709.6 54.7,640.0 55.0,603.0 56.0,582.6 57.0,603.4 57.3,640.5 57.4,709.6 M57.5,709.6 57.6,640.6 57.9,603.6 58.9,583.2 59.9,604.1 60.2,641.3 60.3,709.6 M60.4,709.6 60.5,641.4 60.8,604.4 61.8,584.1 62.8,605.0 63.1,642.2 63.2,709.6 M63.3,709.6 63.4,642.3 63.7,605.4 64.7,585.1 65.7,606.2 66.0,643.4 66.1,709.6 M66.2,709.6 66.3,643.5 66.6,606.6 67.6,586.5 68.6,607.6 68.9,644.8 69.0,709.6 M69.1,709.6 69.2,645.0 69.5,608.1 70.5,588.1 71.5,609.3 71.8,646.5 71.9,709.6 M72.0,709.6 72.1,646.8 72.4,609.9 73.4,590.0 74.4,611.2 74.7,648.5 74.8,709.6 M74.9,709.6 75.0,648.8 75.3,611.9 76.3,592.0 77.3,613.4 77.6,650.7 77.7,709.6 M77.8,709.6 77.9,651.0 78.2,614.2 79.2,594.3 80.2,615.8 80.5,653.1 80.6,709.6 M80.7,709.6 80.8,653.4 81.1,616.6 82.1,596.9 83.1,618.5 83.4,655.9 83.5,709.6 M83.6,709.6 83.7,656.3 84.0,619.6 85.0,600.2 86.0,622.1 86.3,659.5 86.4,709.6 M86.5,709.6 86.6,660.0 86.9,623.3 87.9,604.0 88.9,625.7 89.2,663.1 89.3,709.6 M89.4,709.6 89.5,663.5 89.8,626.8 90.8,607.2 91.8,628.9 92.1,666.2 92.2,709.6 M92.3,709.6 92.4,666.6 92.7,629.9 93.7,610.2 94.7,631.6 95.0,669.0 95.1,709.6 M95.2,709.6 95.3,669.2 95.6,632.4 96.6,612.5 97.6,633.8 97.9,671.0 98.0,709.6 M98.1,709.6 98.2,671.3 98.5,634.4 99.5,614.3 100.5,635.5 100.8,672.7 100.9,709.6 M101.0,709.6 101.1,672.8 101.4,635.9 102.4,615.7 103.4,636.6 103.7,673.8 103.8,709.6 M103.9,709.6 104.0,673.9 104.3,636.9 105.3,616.5 106.3,637.2 106.6,674.3 106.7,709.6 M106.8,709.6 106.9,674.3 107.2,637.3 108.2,616.7 109.2,637.4 109.5,674.4 109.6,709.6 M109.7,709.6 109.8,674.4 110.1,637.4 111.1,616.7 112.1,637.3 112.4,674.4 112.5,709.6 M112.6,709.6 112.7,674.4 113.0,637.3 114.0,616.7 115.0,637.4 115.3,674.5 115.4,709.6 M115.5,709.6 115.6,674.5 115.9,637.4 116.9,616.9 117.9,637.5 118.2,674.6 118.3,709.6 M118.4,709.6 118.5,674.6 118.8,637.5 119.8,616.9 120.8,637.6 121.1,674.7 121.2,709.6 M121.3,709.6 121.4,674.7 121.7,637.6 122.7,617.1 123.7,637.8 124.0,675.0 124.1,709.6 M124.2,709.6 124.3,675.0 124.6,638.0 125.6,617.7 126.6,638.6 126.9,675.8 127.0,709.6 M127.1,709.6 127.2,676.0 127.5,639.1 128.5,619.0 129.5,640.3 129.8,677.6 129.9,709.6 M130.0,709.6 130.1,677.9 130.4,641.0 131.4,621.2 132.4,642.5 132.7,679.8 132.8,709.6 M132.9,709.6 133.0,680.1 133.3,643.2 134.3,623.3 135.3,644.5 135.6,681.8 135.7,709.6 M135.8,709.6 135.9,682.0 136.2,645.1 137.2,625.1 138.2,646.4 138.5,683.7 138.6,709.6 M138.7,709.6 138.8,683.9 139.1,647.0 140.1,627.0 141.1,648.3 141.4,685.5 141.5,709.6 M141.6,709.6 141.7,685.7 142.0,648.9 143.0,628.9 144.0,650.0 144.3,687.3 144.4,709.6 M144.5,709.6 144.6,687.5 144.9,650.6 145.9,630.5 146.9,651.6 147.2,688.9 147.3,709.6 M147.4,709.6 147.5,689.0 147.8,652.1 148.8,632.0 149.8,653.0 150.1,690.2 150.2,709.6 M150.3,709.6 150.4,690.3 150.7,653.4 151.7,633.1 152.7,654.1 153.0,691.3 153.1,709.6 M153.2,709.6 153.3,691.4 153.6,654.5 154.6,634.2 155.6,655.2 155.9,692.4 156.0,709.6 M156.1,709.6 156.2,692.5 156.5,655.6 157.5,635.3 158.5,656.3 158.8,693.5 158.9,709.6 M159.0,709.6 159.1,693.6 159.4,656.7 160.4,636.5 161.4,657.5 161.7,694.7 161.8,709.6 M161.9,709.6 162.0,694.9 162.3,657.9 163.3,637.8 164.3,658.8 164.6,696.0 164.7,709.6 M164.8,709.6 164.9,696.1 165.2,659.2 166.2,639.1 167.2,660.2 167.5,697.4 167.6,709.6 M167.7,709.6 167.8,697.6 168.1,660.7 169.1,640.7 170.1,662.0 170.4,699.3 170.5,709.6 M170.6,709.6 170.7,699.6 171.0,662.9 172.0,643.3 173.0,665.0 173.3,702.5 173.4,709.6 M173.5,709.6 173.6,703.0 173.9,666.4 174.9,647.3 175.9,669.6 176.2,707.2 176.3,709.6 M176.4,709.6 176.5,707.9 176.8,671.4 177.8,652.7 178.8,675.5 179.1,709.6 179.2,709.6 M179.3,709.6 179.4,709.6 179.7,678.0 180.7,660.4 181.7,684.3 182.0,709.6 182.1,709.6 M182.2,709.6 182.3,709.6 182.6,687.3 183.6,670.6 184.6,693.7 184.9,709.6 185.0,709.6 M185.1,709.6 185.2,709.6 185.5,694.2 186.5,673.6 187.5,694.1 187.8,709.6 187.9,709.6 M188.0,709.6 188.1,709.6 188.4,693.8 189.4,672.7 190.4,692.8 190.7,709.6 190.8,709.6 M190.9,709.6 191.0,709.6 191.3,692.2 192.3,670.9 193.3,690.6 193.6,709.6 193.7,709.6 M193.8,709.6 193.9,709.6 194.2,689.6 195.2,667.6 196.2,686.4 196.5,709.6 196.6,709.6 M196.7,709.6 196.8,709.6 197.1,684.3 198.1,661.6 199.1,680.3 199.4,709.6 199.5,709.6 M199.6,709.6 199.7,709.6 200.0,678.6 201.0,656.7 202.0,676.2 202.3,709.6 202.4,709.6 M202.5,709.6 202.6,709.6 202.9,675.3 203.9,653.8 204.9,673.6 205.2,709.6 205.3,709.6 M205.4,709.6 205.5,709.6 205.8,672.8 206.8,651.5 207.8,671.5 208.1,708.4 208.2,709.6 M208.3,709.6 208.4,708.3 208.7,671.0 209.7,650.0 210.7,670.3 211.0,707.3 211.1,709.6 M211.2,709.6 211.3,707.2 211.6,670.1 212.6,649.5 213.6,670.3 213.9,707.4 214.0,709.6 M214.1,709.6 214.2,707.5 214.5,670.5 215.5,650.3 216.5,671.4 216.8,708.6 216.9,709.6 M217.0,709.6 217.1,708.8 217.4,671.9 218.4,651.9 219.4,673.0 219.7,709.6 219.8,709.6 M219.9,709.6 220.0,709.6 220.3,673.6 221.3,653.8 222.3,675.4 222.6,709.6 222.7,709.6 M222.8,709.6 222.9,709.6 223.2,676.4 224.2,656.4 225.2,677.3 225.5,709.6 225.6,709.6 M225.7,709.6 225.8,709.6 226.1,677.0 227.1,655.8 228.1,675.6 228.4,709.6 228.5,709.6 M228.6,709.6 228.7,709.6 229.0,674.8 230.0,653.8 231.0,674.5 231.3,709.6 231.4,709.6 M231.5,709.6 231.6,709.6 231.9,675.1 232.9,655.4 233.9,677.2 234.2,709.6 234.3,709.6 M234.4,709.6 234.5,709.6 234.8,678.5 235.8,659.3 236.8,681.3 237.1,709.6 237.2,709.6 M237.3,709.6 237.4,709.6 237.7,682.6 238.7,663.1 239.7,684.7 240.0,709.6 240.1,709.6 M240.2,709.6 240.3,709.6 240.6,685.7 241.6,666.1 242.6,687.6 242.9,709.6 243.0,709.6 M243.1,709.6 243.2,709.6 243.5,688.5 244.5,668.7 245.5,690.1 245.8,709.6 245.9,709.6 M246.0,709.6 246.1,709.6 246.4,690.8 247.4,670.9 248.4,692.2 248.7,709.6 248.8,709.6 M248.9,709.6 249.0,709.6 249.3,692.8 250.3,672.8 251.3,694.0 251.6,709.6 251.7,709.6 M251.8,709.6 251.9,709.6 252.2,694.6 253.2,674.6 254.2,695.7 254.5,709.6 254.6,709.6 M254.7,709.6 254.8,709.6 255.1,696.2 256.1,676.0 257.1,697.1 257.4,709.6 257.5,709.6 M257.6,709.6 257.7,709.6 258.0,697.5 259.0,677.3 260.0,698.3 260.3,709.6 260.4,709.6 M260.5,709.6 260.6,709.6 260.9,698.7 261.9,678.4 262.9,699.3 263.2,709.6 263.3,709.6 M263.4,709.6 263.5,709.6 263.8,699.6 264.8,679.2 265.8,700.1 266.1,709.6 266.2,709.6 M266.3,709.6 266.4,709.6 266.7,700.4 267.7,680.1 268.7,700.9 269.0,709.6 269.1,709.6 M269.2,709.6 269.3,709.6 269.6,700.9 270.6,680.2 271.6,700.4 271.9,709.6 272.0,709.6 M272.1,709.6 272.2,709.6 272.5,699.5 273.5,677.2 274.5,695.4 274.8,709.6 274.9,709.6 M275.0,709.6 275.1,709.6 275.4,692.4 276.4,669.2 277.4,687.9 277.7,709.6 277.8,709.6 M277.9,709.6 278.0,709.6 278.3,686.5 279.3,664.7 280.3,684.4 280.6,709.6 280.7,709.6 M280.8,709.6 280.9,709.6 281.2,683.5 282.2,662.1 283.2,682.0 283.5,709.6 283.6,709.6 M283.7,709.6 283.8,709.6 284.1,681.4 285.1,660.2 286.1,680.3 286.4,709.6 286.5,709.6 M286.6,709.6 286.7,709.6 287.0,679.8 288.0,658.9 289.0,679.2 289.3,709.6 289.4,709.6 M289.5,709.6 289.6,709.6 289.9,679.0 290.9,658.3 291.9,678.8 292.2,709.6 292.3,709.6 M292.4,709.6 292.5,709.6 292.8,678.7 293.8,658.1 294.8,678.8 295.1,709.6 295.2,709.6 M295.3,709.6 295.4,709.6 295.7,679.0 296.7,658.6 297.7,679.6 298.0,709.6 298.1,709.6 M298.2,709.6 298.3,709.6 298.6,680.2 299.6,660.3 300.6,681.8 300.9,709.6 301.0,709.6 M301.1,709.6 301.2,709.6 301.5,682.9 302.5,663.6 303.5,686.0 303.8,709.6 303.9,709.6 M304.0,709.6 304.1,709.6 304.4,688.3 305.4,670.4 306.4,694.2 306.7,709.6 306.8,709.6 M306.9,709.6 307.0,709.6 307.3,697.7 308.3,681.0 309.3,706.1 309.6,709.6 309.7,709.6 M309.8,709.6 309.9,709.6 310.2,709.6 311.2,698.4 312.2,709.6 312.5,709.6 312.6,709.6 M312.7,709.6 312.8,709.6 313.1,709.6 314.1,696.9 315.1,709.6 315.4,709.6 315.5,709.6 M315.6,709.6 315.7,709.6 316.0,709.6 317.0,690.6 318.0,708.9 318.3,709.6 318.4,709.6 M318.5,709.6 318.6,709.6 318.9,706.7 319.9,683.8 320.9,702.3 321.2,709.6 321.3,709.6 M321.4,709.6 321.5,709.6 321.8,700.2 322.8,677.6 323.8,696.3 324.1,709.6 324.2,709.6 M324.3,709.6 324.4,709.6 324.7,694.6 325.7,672.5 326.7,691.8 327.0,709.6 327.1,709.6 M327.2,709.6 327.3,709.6 327.6,690.6 328.6,669.0 329.6,688.6 329.9,709.6 330.0,709.6 M330.1,709.6 330.2,709.6 330.5,687.7 331.5,666.2 332.5,686.1 332.8,709.6 332.9,709.6 M333.0,709.6 333.1,709.6 333.4,685.3 334.4,664.0 335.4,684.0 335.7,709.6 335.8,709.6 M335.9,709.6 336.0,709.6 336.3,683.4 337.3,662.3 338.3,682.5 338.6,709.6 338.7,709.6 M338.8,709.6 338.9,709.6 339.2,682.1 340.2,661.2 341.2,681.7 341.5,709.6 341.6,709.6 M341.7,709.6 341.8,709.6 342.1,681.7 343.1,661.2 344.1,682.2 344.4,709.6 344.5,709.6 M344.6,709.6 344.7,709.6 345.0,682.8 346.0,663.0 347.0,684.6 347.3,709.6 347.4,709.6 M347.5,709.6 347.6,709.6 347.9,685.7 348.9,666.3 349.9,688.2 350.2,709.6 350.3,709.6 M350.4,709.6 350.5,709.6 350.8,689.8 351.8,671.1 352.8,693.8 353.1,709.6 353.2,709.6 M353.3,709.6 353.4,709.6 353.7,695.9 354.7,677.3 355.7,699.7 356.0,709.6 356.1,709.6 M356.2,709.6 356.3,709.6 356.6,701.2 357.6,681.9 358.6,703.6 358.9,709.6 359.0,709.6 M359.1,709.6 359.2,709.6 359.5,704.5 360.5,684.7 361.5,706.1 361.8,709.6 361.9,709.6 M362.0,709.6 362.1,709.6 362.4,706.7 363.4,686.8 364.4,708.0 364.7,709.6 364.8,709.6 M364.9,709.6 365.0,709.6 365.3,708.6 366.3,688.6 367.3,709.6 367.6,709.6 367.7,709.6 M367.8,709.6 367.9,709.6 368.2,709.6 369.2,690.5 370.2,709.6 370.5,709.6 370.6,709.6 M370.7,709.6 370.8,709.6 371.1,709.6 372.1,692.9 373.1,709.6 373.4,709.6 373.5,709.6 M373.6,709.6 373.7,709.6 374.0,709.6 375.0,696.9 376.0,709.6 376.3,709.6 376.4,709.6 M376.5,709.6 376.6,709.6 376.9,709.6 377.9,702.2 378.9,709.6 379.2,709.6 379.3,709.6 M379.4,709.6 379.5,709.6 379.8,709.6 380.8,705.7 381.8,709.6 382.1,709.6 382.2,709.6 M382.3,709.6 382.4,709.6 382.7,709.6 383.7,707.9 384.7,709.6 385.0,709.6 385.1,709.6 M385.2,709.6 385.3,709.6 385.6,709.6 386.6,709.6 387.6,709.6 387.9,709.6 388.0,709.6 M388.1,709.6 388.2,709.6 388.5,709.6 389.5,709.6 390.5,709.6 390.8,709.6 390.9,709.6" fill="none" stroke="#1818ff" stroke-width="0.8" />
<path d="M32.0,707.6 32.0,655.0 32.8,652.3 33.6,648.7 34.4,645.1 35.2,641.5 36.0,638.0 36.8,634.3 37.6,630.4 38.4,627.0 39.2,624.4 40.0,622.2 40.8,620.2 41.6,618.4 42.4,616.7 43.2,615.3 44.0,614.1 44.8,613.0 45.6,612.2 46.4,611.4 47.2,610.8 48.0,610.3 48.8,609.8 49.6,609.3 50.4,609.0 51.2,608.6 52.0,608.3 52.8,608.0 53.6,607.8 54.4,607.5 55.2,607.4 56.0,607.2 56.8,607.1 57.6,607.1 58.4,607.1 59.2,607.1 60.0,607.1 60.8,607.3 61.6,607.4 62.4,607.6 63.2,607.8 64.0,608.1 64.8,608.3 65.6,608.7 66.4,609.0 67.2,609.5 68.0,610.0 68.8,610.6 69.6,611.2 70.4,612.0 71.2,612.9 72.0,613.9 72.8,614.9 73.6,616.1 74.4,617.3 75.2,618.6 76.0,619.9 76.8,621.3 77.6,622.7 78.4,624.1 79.2,625.6 80.0,627.1 80.8,628.8 81.6,630.6 82.4,632.4 83.2,634.2 84.0,636.0 84.8,637.7 85.6,639.4 86.4,640.9 87.2,642.2 88.0,643.3 88.8,644.2 89.6,645.0 90.4,645.5 91.2,646.0 92.0,646.3 92.8,646.5 93.6,646.7 94.4,646.8 95.2,646.8 96.0,646.6 96.8,646.2 97.6,645.8 98.4,645.3 99.2,644.8 100.0,644.4 100.8,644.1 101.6,644.0 102.4,644.0 103.2,644.1 104.0,644.3 104.8,644.5 105.6,644.8 106.4,645.1 107.2,645.4 108.0,645.8 108.8,646.2 109.6,646.7 110.4,647.3 111.2,647.9 112.0,648.6 112.8,649.3 113.6,649.9 114.4,650.5 115.2,651.0 116.0,651.4 116.8,651.6 117.6,651.6 118.4,651.4 119.2,651.0 120.0,650.5 120.8,649.8 121.6,649.1 122.4,648.3 123.2,647.6 124.0,646.9 124.8,646.4 125.6,645.6 126.4,645.0 127.2,645.1 128.0,645.4 128.8,645.9 129.6,646.4 130.4,646.9 131.2,647.5 132.0,648.2 132.8,648.9 133.6,649.6 134.4,650.3 135.2,651.2 136.0,652.1 136.8,653.1 137.6,654.3 138.4,655.6 139.2,657.2 140.0,658.9 140.8,660.7 141.6,662.7 142.4,664.7 143.2,666.6 144.0,668.5 144.8,670.3 145.6,672.3 146.4,674.4 147.2,676.5 148.0,678.1 148.8,679.1 149.6,679.2 150.4,678.4 151.2,676.9 152.0,675.0 152.8,672.9 153.6,670.9 154.4,669.2 155.2,667.5 156.0,665.8 156.8,664.0 157.6,662.2 158.4,660.5 159.2,658.9 160.0,657.4 160.8,656.1 161.6,655.1 162.4,654.2 163.2,653.4 164.0,652.7 164.8,652.2 165.6,651.9 166.4,651.7 167.2,651.6 168.0,651.7 168.8,651.8 169.6,652.0 170.4,652.4 171.2,652.8 172.0,653.2 172.8,653.8 173.6,654.4 174.4,655.1 175.2,655.9 176.0,656.9 176.8,658.0 177.6,659.4 178.4,661.3 179.2,663.5 180.0,666.1 180.8,668.7 181.6,671.2 182.4,673.2 183.2,674.5 184.0,675.4 184.8,675.7 185.6,675.6 186.4,675.3 187.2,674.9 188.0,674.2 188.8,673.4 189.6,672.5 190.4,671.6 191.2,670.7 192.0,669.9 192.8,669.1 193.6,668.4 194.4,667.7 195.2,667.0 196.0,666.3 196.8,665.7 197.6,665.2 198.4,664.8 199.2,664.6 200.0,664.5 200.8,664.4 201.6,664.5 202.4,664.6 203.2,664.8 204.0,665.2 204.8,665.8 205.6,666.6 206.4,667.7 207.2,669.3 208.0,671.8 208.8,674.9 209.6,678.4 210.4,681.7 211.2,684.4 212.0,686.0 212.8,686.5 213.6,685.9 214.4,684.5 215.2,682.7 216.0,680.5 216.8,678.2 217.6,675.9 218.4,673.7 219.2,671.0 220.0,668.0 220.8,665.2 221.6,662.9 222.4,661.2 223.2,659.8 224.0,658.5 224.8,657.4 225.6,656.3 226.4,655.5 227.2,654.7 228.0,654.1 228.8,653.7 229.6,653.5 230.4,653.4 231.2,653.5 232.0,653.9 232.8,654.4 233.6,655.1 234.4,656.0 235.2,657.3 236.0,658.7 236.8,660.4 237.6,662.1 238.4,663.9 239.2,665.8 240.0,667.7 240.8,669.9 241.6,672.3 242.4,674.7 243.2,677.0 244.0,678.9 244.8,680.3 245.6,681.0 246.4,681.2 247.2,680.8 248.0,680.0 248.8,679.1 249.6,678.1 250.4,677.1 251.2,676.3 252.0,675.4 252.8,674.3 253.6,673.3 254.4,672.2 255.2,671.2 256.0,670.3 256.8,669.5 257.6,669.0 258.4,668.6 259.2,668.5 260.0,668.5 260.8,668.7 261.6,668.9 262.4,669.3 263.2,669.7 264.0,670.2 264.8,670.8 265.6,671.4 266.4,672.0 267.2,672.8 268.0,673.5 268.8,674.4 269.6,675.2 270.4,676.1 271.2,676.9 272.0,677.8 272.8,678.7 273.6,679.5 274.4,680.5 275.2,681.7 276.0,682.9 276.8,683.6 277.6,683.6 278.4,683.3 279.2,682.7 280.0,682.0 280.8,681.2 281.6,680.3 282.4,679.4 283.2,678.4 284.0,677.5 284.8,676.6 285.6,675.7 286.4,674.7 287.2,673.6 288.0,672.5 288.8,671.5 289.6,670.4 290.4,669.4 291.2,668.5 292.0,667.7 292.8,667.0 293.6,666.6 294.4,666.2 295.2,666.0 296.0,666.0 296.8,666.0 297.6,666.2 298.4,666.6 299.2,667.1 300.0,667.7 300.8,668.5 301.6,669.5 302.4,670.7 303.2,672.1 304.0,673.7 304.8,675.7 305.6,678.0 306.4,681.2 307.2,686.7 308.0,694.0 308.8,698.8 309.6,700.0 310.4,698.8 311.2,696.7 312.0,694.9 312.8,693.1 313.6,691.1 314.4,689.0 315.2,686.9 316.0,684.9 316.8,683.0 317.6,681.3 318.4,679.9 319.2,678.7 320.0,677.7 320.8,676.9 321.6,676.2 322.4,675.5 323.2,675.0 324.0,674.6 324.8,674.2 325.6,673.9 326.4,673.7 327.2,673.5 328.0,673.5 328.8,673.6 329.6,673.8 330.4,674.2 331.2,674.7 332.0,675.3 332.8,676.1 333.6,677.0 334.4,678.0 335.2,679.1 336.0,680.6 336.8,682.3 337.6,684.3 338.4,686.4 339.2,688.4 340.0,690.2 340.8,691.8 341.6,692.7 342.4,692.8 343.2,691.9 344.0,689.7 344.8,686.8 345.6,683.8 346.4,681.2 347.2,679.2 348.0,677.7 348.8,676.3 349.6,674.9 350.4,673.6 351.2,672.4 352.0,671.2 352.8,670.2 353.6,669.2 354.4,668.4 355.2,667.8 356.0,667.4 356.8,667.2 357.6,667.2 358.4,667.3 359.2,667.6 360.0,668.0 360.8,668.5 361.6,669.2 362.4,670.0 363.2,671.0 364.0,672.0 364.8,673.2 365.6,674.6 366.4,676.3 367.2,678.2 368.0,680.4 368.8,682.7 369.6,685.1 370.4,687.7 371.2,690.2 372.0,692.6 372.8,695.3 373.6,699.1 374.4,702.8 375.2,703.9 376.0,702.5 376.8,699.1 377.6,694.7 378.4,690.0 379.2,685.6 380.0,681.9 380.8,679.1 381.6,677.3 382.4,676.1 383.2,675.2 384.0,674.5 384.8,674.0 385.6,673.5 386.4,673.2 387.2,672.9 388.0,672.6 388.8,672.3 389.6,672.5 390.4,673.1 391.0,673.5 391.0,707.6 Z" fill="#e070f0" fill-opacity="0.6" stroke="none"/>
<path d="M32.6,653.2 33.5,669.6 33.8,705.3 33.9,709.6 M34.1,709.6 34.2,703.8 34.5,665.4 35.4,640.6 36.3,657.1 36.6,692.7 36.7,709.6 M36.9,709.6 37.0,691.1 37.3,652.6 38.2,627.8 39.1,645.2 39.4,681.4 39.5,709.6 M39.7,709.6 39.8,680.5 40.1,642.6 41.0,619.7 41.9,638.3 42.2,674.7 42.3,709.6 M42.5,709.6 42.6,674.1 42.9,636.5 43.8,614.4 44.7,633.7 45.0,670.4 45.1,709.6 M45.3,709.6 45.4,670.1 45.7,632.7 46.6,611.3 47.5,631.2 47.8,668.0 47.9,709.6 M48.1,709.6 48.2,667.8 48.5,630.6 49.4,609.4 50.3,629.6 50.6,666.5 50.7,709.6 M50.9,709.6 51.0,666.4 51.3,629.2 52.2,608.2 53.1,628.5 53.4,665.5 53.5,709.6 M53.7,709.6 53.8,665.4 54.1,628.2 55.0,607.4 55.9,627.8 56.2,664.9 56.3,709.6 M56.5,709.6 56.6,664.8 56.9,627.7 57.8,607.1 58.7,627.7 59.0,664.7 59.1,709.6 M59.3,709.6 59.4,664.8 59.7,627.7 60.6,607.2 61.5,628.0 61.8,665.1 61.9,709.6 M62.1,709.6 62.2,665.2 62.5,628.2 63.4,607.9 64.3,628.8 64.6,665.9 64.7,709.6 M64.9,709.6 65.0,666.1 65.3,629.1 66.2,608.9 67.1,630.0 67.4,667.3 67.5,709.6 M67.7,709.6 67.8,667.5 68.1,630.6 69.0,610.7 69.9,632.2 70.2,669.5 70.3,709.6 M70.5,709.6 70.6,669.9 70.9,633.1 71.8,613.6 72.7,635.5 73.0,672.9 73.1,709.6 M73.3,709.6 73.4,673.4 73.7,636.8 74.6,617.6 75.5,639.7 75.8,677.3 75.9,709.6 M76.1,709.6 76.2,677.9 76.5,641.3 77.4,622.3 78.3,644.6 78.6,682.2 78.7,709.6 M78.9,709.6 79.0,682.8 79.3,646.3 80.2,627.5 81.1,650.2 81.4,687.9 81.5,709.6 M81.7,709.6 81.8,688.6 82.1,652.2 83.0,633.8 83.9,656.5 84.2,694.2 84.3,709.6 M84.5,709.6 84.6,694.9 84.9,658.5 85.8,639.8 86.7,662.1 87.0,699.6 87.1,709.6 M87.3,709.6 87.4,700.1 87.7,663.5 88.6,644.0 89.5,665.5 89.8,702.8 89.9,709.6 M90.1,709.6 90.2,703.1 90.5,666.2 91.4,646.1 92.3,667.0 92.6,704.2 92.7,709.6 M92.9,709.6 93.0,704.2 93.3,667.2 94.2,646.8 95.1,667.4 95.4,704.4 95.5,709.6 M95.7,709.6 95.8,704.3 96.1,667.2 97.0,646.1 97.9,666.2 98.2,703.1 98.3,709.6 M98.5,709.6 98.6,702.9 98.9,665.6 99.8,644.5 100.7,664.7 101.0,701.8 101.1,709.6 M101.3,709.6 101.4,701.7 101.7,664.6 102.6,644.0 103.5,664.8 103.8,701.9 103.9,709.6 M104.1,709.6 104.2,702.0 104.5,665.0 105.4,644.7 106.3,665.7 106.6,702.9 106.7,709.6 M106.9,709.6 107.0,703.0 107.3,666.1 108.2,645.9 109.1,667.0 109.4,704.3 109.5,709.6 M109.7,709.6 109.8,704.5 110.1,667.7 111.0,647.8 111.9,669.2 112.2,706.5 112.3,709.6 M112.5,709.6 112.6,706.8 112.9,670.0 113.8,650.1 114.7,671.4 115.0,708.6 115.1,709.6 M115.3,709.6 115.4,708.8 115.7,671.9 116.6,651.6 117.5,672.3 117.8,709.3 117.9,709.6 M118.1,709.6 118.2,709.2 118.5,672.0 119.4,650.9 120.3,670.8 120.6,707.6 120.7,709.6 M120.9,709.6 121.0,707.3 121.3,670.0 122.2,648.5 123.1,668.2 123.4,705.0 123.5,709.6 M123.7,709.6 123.8,704.8 124.1,667.5 125.0,646.2 125.9,665.9 126.2,702.8 126.3,709.6 M126.5,709.6 126.6,702.7 126.9,665.6 127.8,645.3 128.7,666.4 129.0,703.7 129.1,709.6 M129.3,709.6 129.4,703.9 129.7,667.0 130.6,647.1 131.5,668.4 131.8,705.7 131.9,709.6 M132.1,709.6 132.2,706.0 132.5,669.2 133.4,649.4 134.3,670.9 134.6,708.3 134.7,709.6 M134.9,709.6 135.0,708.6 135.3,671.9 136.2,652.3 137.1,674.2 137.4,709.6 137.5,709.6 M137.7,709.6 137.8,709.6 138.1,675.6 139.0,656.8 139.9,679.3 140.2,709.6 140.3,709.6 M140.5,709.6 140.6,709.6 140.9,681.5 141.8,663.2 142.7,686.1 143.0,709.6 143.1,709.6 M143.3,709.6 143.4,709.6 143.7,688.4 144.6,669.9 145.5,692.7 145.8,709.6 145.9,709.6 M146.1,709.6 146.2,709.6 146.5,695.2 147.4,676.9 148.3,699.3 148.6,709.6 148.7,709.6 M148.9,709.6 149.0,709.6 149.3,699.9 150.2,678.7 151.1,697.7 151.4,709.6 151.5,709.6 M151.7,709.6 151.8,709.6 152.1,695.4 153.0,672.4 153.9,690.8 154.2,709.6 154.3,709.6 M154.5,709.6 154.6,709.6 154.9,688.8 155.8,666.2 156.7,684.8 157.0,709.6 157.1,709.6 M157.3,709.6 157.4,709.6 157.7,682.7 158.6,660.1 159.5,678.9 159.8,709.6 159.9,709.6 M160.1,709.6 160.2,709.6 160.5,677.3 161.4,655.3 162.3,674.8 162.6,709.6 162.7,709.6 M162.9,709.6 163.0,709.6 163.3,673.9 164.2,652.6 165.1,672.7 165.4,709.6 165.5,709.6 M165.7,709.6 165.8,709.5 166.1,672.4 167.0,651.6 167.9,672.3 168.2,709.4 168.3,709.6 M168.5,709.6 168.6,709.4 168.9,672.4 169.8,652.1 170.7,673.1 171.0,709.6 171.1,709.6 M171.3,709.6 171.4,709.6 171.7,673.6 172.6,653.6 173.5,674.9 173.8,709.6 173.9,709.6 M174.1,709.6 174.2,709.6 174.5,675.8 175.4,656.1 176.3,677.9 176.6,709.6 176.7,709.6 M176.9,709.6 177.0,709.6 177.3,679.4 178.2,660.7 179.1,683.9 179.4,709.6 179.5,709.6 M179.7,709.6 179.8,709.6 180.1,686.9 181.0,669.4 181.9,692.7 182.2,709.6 182.3,709.6 M182.5,709.6 182.6,709.6 182.9,694.6 183.8,675.2 184.7,696.3 185.0,709.6 185.1,709.6 M185.3,709.6 185.4,709.6 185.7,696.2 186.6,675.2 187.5,695.2 187.8,709.6 187.9,709.6 M188.1,709.6 188.2,709.6 188.5,694.4 189.4,672.7 190.3,692.3 190.6,709.6 190.7,709.6 M190.9,709.6 191.0,709.6 191.3,691.2 192.2,669.7 193.1,689.5 193.4,709.6 193.5,709.6 M193.7,709.6 193.8,709.6 194.1,688.6 195.0,667.2 195.9,687.0 196.2,709.6 196.3,709.6 M196.5,709.6 196.6,709.6 196.9,686.3 197.8,665.1 198.7,685.3 199.0,709.6 199.1,709.6 M199.3,709.6 199.4,709.6 199.7,685.1 200.6,664.4 201.5,685.1 201.8,709.6 201.9,709.6 M202.1,709.6 202.2,709.6 202.5,685.2 203.4,664.9 204.3,686.0 204.6,709.6 204.7,709.6 M204.9,709.6 205.0,709.6 205.3,686.8 206.2,667.4 207.1,689.8 207.4,709.6 207.5,709.6 M207.7,709.6 207.8,709.6 208.1,692.7 209.0,675.8 209.9,700.4 210.2,709.6 210.3,709.6 M210.5,709.6 210.6,709.6 210.9,703.9 211.8,685.8 212.7,707.1 213.0,709.6 213.1,709.6 M213.3,709.6 213.4,709.6 213.7,706.4 214.6,684.1 215.5,702.4 215.8,709.6 215.9,709.6 M216.1,709.6 216.2,709.6 216.5,699.8 217.4,676.4 218.3,694.5 218.6,709.6 218.7,709.6 M218.9,709.6 219.0,709.6 219.3,691.4 220.2,667.3 221.1,684.8 221.4,709.6 221.5,709.6 M221.7,709.6 221.8,709.6 222.1,682.5 223.0,660.1 223.9,679.2 224.2,709.6 224.3,709.6 M224.5,709.6 224.6,709.6 224.9,677.9 225.8,656.1 226.7,675.8 227.0,709.6 227.1,709.6 M227.3,709.6 227.4,709.6 227.7,675.0 228.6,653.8 229.5,674.1 229.8,709.6 229.9,709.6 M230.1,709.6 230.2,709.6 230.5,674.0 231.4,653.6 232.3,674.7 232.6,709.6 232.7,709.6 M232.9,709.6 233.0,709.6 233.3,675.4 234.2,655.8 235.1,677.7 235.4,709.6 235.5,709.6 M235.7,709.6 235.8,709.6 236.1,679.5 237.0,660.8 237.9,683.5 238.2,709.6 238.3,709.6 M238.5,709.6 238.6,709.6 238.9,685.6 239.8,667.2 240.7,690.3 241.0,709.6 241.1,709.6 M241.3,709.6 241.4,709.6 241.7,693.1 242.6,675.3 243.5,698.5 243.8,709.6 243.9,709.6 M244.1,709.6 244.2,709.6 244.5,700.4 245.4,680.9 246.3,701.8 246.6,709.6 246.7,709.6 M246.9,709.6 247.0,709.6 247.3,701.3 248.2,679.8 249.1,699.3 249.4,709.6 249.5,709.6 M249.7,709.6 249.8,709.6 250.1,698.1 251.0,676.5 251.9,696.1 252.2,709.6 252.3,709.6 M252.5,709.6 252.6,709.6 252.9,694.9 253.8,673.0 254.7,692.4 255.0,709.6 255.1,709.6 M255.3,709.6 255.4,709.6 255.7,691.2 256.6,669.7 257.5,689.6 257.8,709.6 257.9,709.6 M258.1,709.6 258.2,709.6 258.5,689.2 259.4,668.5 260.3,689.2 260.6,709.6 260.7,709.6 M260.9,709.6 261.0,709.6 261.3,689.4 262.2,669.2 263.1,690.3 263.4,709.6 263.5,709.6 M263.7,709.6 263.8,709.6 264.1,690.9 265.0,670.9 265.9,692.2 266.2,709.6 266.3,709.6 M266.5,709.6 266.6,709.6 266.9,693.1 267.8,673.3 268.7,694.9 269.0,709.6 269.1,709.6 M269.3,709.6 269.4,709.6 269.7,695.9 270.6,676.3 271.5,697.9 271.8,709.6 271.9,709.6 M272.1,709.6 272.2,709.6 272.5,698.9 273.4,679.3 274.3,701.0 274.6,709.6 274.7,709.6 M274.9,709.6 275.0,709.6 275.3,702.4 276.2,683.1 277.1,704.3 277.4,709.6 277.5,709.6 M277.7,709.6 277.8,709.6 278.1,704.1 279.0,682.9 279.9,702.7 280.2,709.6 280.3,709.6 M280.5,709.6 280.6,709.6 280.9,701.7 281.8,680.1 282.7,699.6 283.0,709.6 283.1,709.6 M283.3,709.6 283.4,709.6 283.7,698.5 284.6,676.8 285.5,696.4 285.8,709.6 285.9,709.6 M286.1,709.6 286.2,709.6 286.5,695.2 287.4,673.3 288.3,692.7 288.6,709.6 288.7,709.6 M288.9,709.6 289.0,709.6 289.3,691.5 290.2,669.7 291.1,689.2 291.4,709.6 291.5,709.6 M291.7,709.6 291.8,709.6 292.1,688.2 293.0,666.9 293.9,687.0 294.2,709.6 294.3,709.6 M294.5,709.6 294.6,709.6 294.9,686.7 295.8,666.0 296.7,686.6 297.0,709.6 297.1,709.6 M297.3,709.6 297.4,709.6 297.7,686.9 298.6,666.7 299.5,687.9 299.8,709.6 299.9,709.6 M300.1,709.6 300.2,709.6 300.5,688.8 301.4,669.3 302.3,691.2 302.6,709.6 302.7,709.6 M302.9,709.6 303.0,709.6 303.3,692.8 304.2,674.2 305.1,697.2 305.4,709.6 305.5,709.6 M305.7,709.6 305.8,709.6 306.1,700.3 307.0,685.0 307.9,709.6 308.2,709.6 308.3,709.6 M308.5,709.6 308.6,709.6 308.9,709.6 309.8,699.9 310.7,709.6 311.0,709.6 311.1,709.6 M311.3,709.6 311.4,709.6 311.7,709.6 312.6,693.6 313.5,709.6 313.8,709.6 313.9,709.6 M314.1,709.6 314.2,709.6 314.5,709.5 315.4,686.4 316.3,704.7 316.6,709.6 316.7,709.6 M316.9,709.6 317.0,709.6 317.3,702.6 318.2,680.2 319.1,699.4 319.4,709.6 319.5,709.6 M319.7,709.6 319.8,709.6 320.1,698.2 321.0,676.7 321.9,696.5 322.2,709.6 322.3,709.6 M322.5,709.6 322.6,709.6 322.9,695.8 323.8,674.7 324.7,694.8 325.0,709.6 325.1,709.6 M325.3,709.6 325.4,709.6 325.7,694.5 326.6,673.6 327.5,694.1 327.8,709.6 327.9,709.6 M328.1,709.6 328.2,709.6 328.5,694.2 329.4,673.7 330.3,694.7 330.6,709.6 330.7,709.6 M330.9,709.6 331.0,709.6 331.3,695.3 332.2,675.5 333.1,697.1 333.4,709.6 333.5,709.6 M333.7,709.6 333.8,709.6 334.1,698.2 335.0,678.8 335.9,701.0 336.2,709.6 336.3,709.6 M336.5,709.6 336.6,709.6 336.9,703.1 337.8,684.8 338.7,707.8 339.0,709.6 339.1,709.6 M339.3,709.6 339.4,709.6 339.7,709.6 340.6,691.4 341.5,709.6 341.8,709.6 341.9,709.6 M342.1,709.6 342.2,709.6 342.5,709.6 343.4,691.4 344.3,709.2 344.6,709.6 344.7,709.6 M344.9,709.6 345.0,709.6 345.3,705.6 346.2,681.7 347.1,700.0 347.4,709.6 347.5,709.6 M347.7,709.6 347.8,709.6 348.1,698.2 349.0,675.9 349.9,695.0 350.2,709.6 350.3,709.6 M350.5,709.6 350.6,709.6 350.9,693.5 351.8,671.5 352.7,690.8 353.0,709.6 353.1,709.6 M353.3,709.6 353.4,709.6 353.7,689.8 354.6,668.3 355.5,688.2 355.8,709.6 355.9,709.6 M356.1,709.6 356.2,709.6 356.5,687.9 357.4,667.2 358.3,687.9 358.6,709.6 358.7,709.6 M358.9,709.6 359.0,709.6 359.3,688.2 360.2,668.1 361.1,689.4 361.4,709.6 361.5,709.6 M361.7,709.6 361.8,709.6 362.1,690.3 363.0,670.7 363.9,692.5 364.2,709.6 364.3,709.6 M364.5,709.6 364.6,709.6 364.9,693.9 365.8,675.0 366.7,697.6 367.0,709.6 367.1,709.6 M367.3,709.6 367.4,709.6 367.7,700.1 368.6,682.1 369.5,705.5 369.8,709.6 369.9,709.6 M370.1,709.6 370.2,709.6 370.5,708.5 371.4,690.8 372.3,709.6 372.6,709.6 372.7,709.6 M372.9,709.6 373.0,709.6 373.3,709.6 374.2,702.0 375.1,709.6 375.4,709.6 375.5,709.6 M375.7,709.6 375.8,709.6 376.1,709.6 377.0,698.1 377.9,709.6 378.2,709.6 378.3,709.6 M378.5,709.6 378.6,709.6 378.9,708.0 379.8,682.7 380.7,699.9 381.0,709.6 381.1,709.6 M381.3,709.6 381.4,709.6 381.7,697.8 382.6,675.8 383.5,695.5 383.8,709.6 383.9,709.6 M384.1,709.6 384.2,709.6 384.5,694.8 385.4,673.6 386.3,693.9 386.6,709.6 386.7,709.6 M386.9,709.6 387.0,709.6 387.3,693.5 388.2,672.5 389.1,693.0 389.4,709.6 389.5,709.6 M389.7,709.6 389.8,709.6 390.1,693.4 391.0,673.5" fill="none" stroke="#e800f0" stroke-width="0.85" />
<path d="M32.0,707.6 32.0,648.2 32.8,646.3 33.6,643.8 34.4,641.3 35.2,639.0 36.0,636.8 36.8,634.7 37.6,632.7 38.4,630.6 39.2,628.7 40.0,627.1 40.8,625.8 41.6,624.7 42.4,623.8 43.2,622.9 44.0,622.2 44.8,621.4 45.6,620.7 46.4,620.1 47.2,619.5 48.0,618.9 48.8,618.4 49.6,617.9 50.4,617.5 51.2,617.1 52.0,616.8 52.8,616.6 53.6,616.4 54.4,616.4 55.2,616.4 56.0,616.5 56.8,616.7 57.6,617.0 58.4,617.4 59.2,617.9 60.0,618.4 60.8,618.9 61.6,619.6 62.4,620.3 63.2,621.1 64.0,622.0 64.8,623.0 65.6,624.2 66.4,625.6 67.2,627.1 68.0,628.7 68.8,630.4 69.6,632.2 70.4,634.0 71.2,635.8 72.0,637.7 72.8,639.7 73.6,641.8 74.4,644.1 75.2,646.6 76.0,649.3 76.8,652.3 77.6,655.7 78.4,659.5 79.2,663.5 80.0,667.8 80.8,672.1 81.6,676.6 82.4,681.7 83.2,687.8 84.0,697.8 84.8,707.6 85.6,707.6 86.4,703.0 87.2,693.4 88.0,685.8 88.8,680.7 89.6,677.3 90.4,674.5 91.2,672.2 92.0,670.2 92.8,668.4 93.6,666.8 94.4,665.4 95.2,664.2 96.0,663.2 96.8,662.5 97.6,662.1 98.4,661.8 99.2,661.6 100.0,661.6 100.8,661.7 101.6,661.8 102.4,662.2 103.2,662.6 104.0,663.3 104.8,664.0 105.6,665.0 106.4,666.0 107.2,667.3 108.0,668.7 108.8,670.2 109.6,671.9 110.4,673.7 111.2,675.7 112.0,677.9 112.8,680.4 113.6,683.2 114.4,686.2 115.2,689.6 116.0,693.6 116.8,699.2 117.6,706.1 118.4,707.6 119.2,707.6 120.0,707.6 120.8,706.9 121.6,704.0 122.4,701.3 123.2,698.8 124.0,696.7 124.8,695.1 125.6,693.9 126.4,693.1 127.2,692.8 128.0,692.5 128.8,692.4 129.6,692.3 130.4,692.3 131.2,692.4 132.0,692.5 132.8,692.5 133.6,692.6 134.4,692.7 135.2,692.7 136.0,692.8 136.8,692.7 137.6,692.6 138.4,692.5 139.2,692.3 140.0,692.0 140.8,691.7 141.6,691.4 142.4,691.0 143.2,690.8 144.0,690.5 144.8,690.4 145.6,690.3 146.4,690.4 147.2,690.6 148.0,691.1 148.8,691.8 149.6,692.7 150.4,693.7 151.2,694.9 152.0,696.2 152.8,697.7 153.6,699.2 154.4,700.7 155.2,702.8 156.0,706.5 156.8,707.6 157.6,707.6 158.4,707.6 159.2,707.6 160.0,707.6 160.8,707.6 161.6,707.6 162.4,707.6 163.2,707.6 164.0,707.6 164.8,707.6 165.6,707.6 166.4,706.4 167.2,705.1 168.0,704.0 168.8,703.2 169.6,702.7 170.4,702.4 171.2,702.2 172.0,702.2 172.8,702.2 173.6,702.2 174.4,702.2 175.2,702.2 176.0,702.2 176.8,702.2 177.6,702.1 178.4,701.9 179.2,701.6 180.0,701.3 180.8,700.9 181.6,700.5 182.4,700.1 183.2,699.7 184.0,699.2 184.8,698.8 185.6,698.3 186.4,697.9 187.2,697.5 188.0,697.0 188.8,696.5 189.6,695.9 190.4,695.4 191.2,695.0 192.0,694.8 192.8,695.0 193.6,695.6 194.4,696.4 195.2,697.6 196.0,699.0 196.8,700.8 197.6,705.5 198.4,707.6 199.2,707.6 200.0,707.6 200.8,707.6 201.6,707.6 202.4,707.6 203.2,707.6 204.0,707.6 204.8,707.6 205.6,707.6 206.4,707.6 207.2,706.3 208.0,704.4 208.8,702.4 209.6,700.4 210.4,698.6 211.2,697.2 212.0,695.9 212.8,694.8 213.6,694.0 214.4,693.5 215.2,693.4 216.0,693.9 216.8,694.8 217.6,696.0 218.4,697.4 219.2,698.8 220.0,700.2 220.8,701.7 221.6,703.4 222.4,705.1 223.2,706.8 224.0,707.6 224.8,707.6 225.6,705.9 226.4,701.6 227.2,700.0 228.0,699.1 228.8,698.5 229.6,698.0 230.4,697.7 231.2,697.4 232.0,697.2 232.8,697.1 233.6,697.1 234.4,697.2 235.2,697.4 236.0,697.7 236.8,698.1 237.6,698.7 238.4,699.6 239.2,701.5 240.0,704.2 240.8,705.8 241.6,706.8 242.4,707.6 243.2,707.6 244.0,707.6 244.8,707.6 245.6,707.6 246.4,707.6 247.2,707.6 248.0,707.6 248.8,707.6 249.6,707.6 250.4,707.6 251.2,707.6 252.0,707.6 252.8,707.6 253.6,707.6 254.4,707.6 255.2,707.6 256.0,707.6 256.8,707.6 257.6,707.6 258.4,707.6 259.2,707.6 260.0,707.6 260.8,707.6 261.6,707.6 262.4,707.6 263.2,707.6 264.0,707.6 264.8,707.6 265.6,707.6 266.4,707.6 267.2,707.6 268.0,707.6 268.8,707.6 269.6,707.6 270.4,707.6 271.2,707.6 272.0,707.6 272.8,707.6 273.6,707.5 274.4,707.0 275.2,706.2 276.0,704.9 276.8,703.5 277.6,703.3 278.4,703.3 279.2,703.7 280.0,704.3 280.8,705.2 281.6,706.6 282.4,707.6 283.2,707.6 284.0,707.6 284.8,707.6 285.6,707.6 286.4,707.6 287.2,707.6 288.0,707.6 288.8,707.6 289.6,707.6 290.4,707.6 291.2,707.6 292.0,707.5 292.8,706.7 293.6,705.6 294.4,704.9 295.2,707.6 296.0,707.6 296.8,707.6 297.6,707.6 298.4,707.6 299.2,707.6 300.0,707.6 300.8,707.6 301.6,707.6 302.4,707.6 303.2,707.6 304.0,707.6 304.8,707.6 305.6,707.6 306.4,707.6 307.2,707.6 308.0,707.6 308.8,707.6 309.6,707.6 310.4,707.6 311.2,707.6 312.0,707.6 312.8,707.6 313.6,707.6 314.4,707.6 315.2,707.6 316.0,707.6 316.8,707.6 317.6,707.6 318.4,707.6 319.2,707.2 320.0,706.4 320.8,706.6 321.6,707.5 322.4,707.6 323.2,707.6 324.0,707.6 324.8,707.6 325.6,707.6 326.4,707.6 327.2,707.6 328.0,707.6 328.8,707.6 329.6,707.6 330.4,707.6 331.2,707.6 332.0,707.6 332.8,707.6 333.6,707.6 334.4,706.7 335.2,705.7 336.0,704.9 336.8,704.4 337.6,704.1 338.4,703.8 339.2,703.6 340.0,703.5 340.8,703.4 341.6,703.3 342.4,703.3 343.2,703.4 344.0,703.6 344.8,703.8 345.6,704.1 346.4,704.4 347.2,704.9 348.0,705.3 348.8,705.8 349.6,706.4 350.4,707.1 351.2,707.6 352.0,707.6 352.8,707.6 353.6,707.6 354.4,707.6 355.2,707.6 356.0,707.6 356.8,707.6 357.6,707.6 358.4,707.6 359.2,707.6 360.0,707.6 360.8,707.6 361.6,707.6 362.4,707.6 363.2,707.6 364.0,707.6 364.8,707.6 365.6,707.6 366.4,707.6 367.2,707.6 368.0,707.6 368.8,707.6 369.6,707.6 370.4,707.6 371.2,707.6 372.0,707.6 372.8,707.6 373.6,707.6 374.4,707.6 375.2,707.6 376.0,707.6 376.8,707.6 377.6,707.6 378.4,707.6 379.2,707.6 380.0,707.6 380.8,707.6 381.6,707.6 382.4,707.6 383.2,707.6 384.0,707.6 384.8,707.6 385.6,707.6 386.4,707.6 387.2,707.6 388.0,707.6 388.8,707.6 389.6,707.6 390.4,707.6 391.0,707.6 391.0,707.6 Z" fill="#6cc870" fill-opacity="0.94" stroke="none"/>
<path d="M32.6,709.6 32.7,704.4 32.9,666.7 33.5,644.1 34.1,662.8 34.3,699.3 34.4,709.6 M36.1,709.6 36.2,694.0 36.4,656.4 37.0,634.2 37.6,653.2 37.8,689.8 37.9,709.6 M39.6,709.6 39.7,685.4 39.9,647.9 40.5,626.3 41.1,646.0 41.3,682.7 41.4,709.6 M43.1,709.6 43.2,680.6 43.4,643.4 44.0,622.2 44.6,642.2 44.8,679.1 44.9,709.6 M46.6,709.6 46.7,677.5 46.9,640.3 47.5,619.3 48.1,639.5 48.3,676.4 48.4,709.6 M50.1,709.6 50.2,675.3 50.4,638.1 51.0,617.2 51.6,637.5 51.8,674.5 51.9,709.6 M53.6,709.6 53.7,674.1 53.9,637.0 54.5,616.3 55.1,637.0 55.3,674.1 55.4,709.6 M57.1,709.6 57.2,674.6 57.4,637.6 58.0,617.2 58.6,638.1 58.8,675.3 58.9,709.6 M60.6,709.6 60.7,676.5 60.9,639.6 61.5,619.5 62.1,640.7 62.3,677.9 62.4,709.6 M64.1,709.6 64.2,679.9 64.4,643.1 65.0,623.3 65.6,644.8 65.8,682.2 65.9,709.6 M67.6,709.6 67.7,685.7 67.9,649.1 68.5,629.8 69.1,651.7 69.3,689.2 69.4,709.6 M71.1,709.6 71.2,693.5 71.4,656.9 72.0,637.7 72.6,659.9 72.8,697.4 72.9,709.6 M74.6,709.6 74.7,702.6 74.9,666.2 75.5,647.5 76.1,670.3 76.3,708.1 76.4,709.6 M78.1,709.6 78.2,709.6 78.4,680.0 79.0,662.5 79.6,686.3 79.8,709.6 79.9,709.6 M81.6,709.6 81.7,709.6 81.9,699.0 82.5,682.4 83.1,707.7 83.3,709.6 83.4,709.6 M85.1,709.6 85.2,709.6 85.4,709.6 86.0,707.6 86.6,709.6 86.8,709.6 86.9,709.6 M88.6,709.6 88.7,709.6 88.9,700.9 89.5,677.7 90.1,696.1 90.3,709.6 90.4,709.6 M92.1,709.6 92.2,709.6 92.4,689.9 93.0,668.0 93.6,687.4 93.8,709.6 93.9,709.6 M95.6,709.6 95.7,709.6 95.9,683.9 96.5,662.8 97.1,682.9 97.3,709.6 97.4,709.6 M99.1,709.6 99.2,709.6 99.4,682.2 100.0,661.6 100.6,682.2 100.8,709.6 100.9,709.6 M102.6,709.6 102.7,709.6 102.9,683.0 103.5,662.8 104.1,684.0 104.3,709.6 104.4,709.6 M106.1,709.6 106.2,709.6 106.4,686.6 107.0,667.0 107.6,688.6 107.8,709.6 107.9,709.6 M109.6,709.6 109.7,709.6 109.9,693.1 110.5,674.0 111.1,696.1 111.3,709.6 111.4,709.6 M113.1,709.6 113.2,709.6 113.4,703.0 114.0,684.7 114.6,707.7 114.8,709.6 114.9,709.6 M116.6,709.6 116.7,709.6 116.9,709.6 117.5,705.2 118.1,709.6 118.3,709.6 118.4,709.6 M120.1,709.6 120.2,709.6 120.4,709.6 121.0,706.2 121.6,709.6 121.8,709.6 121.9,709.6 M123.6,709.6 123.7,709.6 123.9,709.6 124.5,695.7 125.1,709.6 125.3,709.6 125.4,709.6 M127.1,709.6 127.2,709.6 127.4,709.6 128.0,692.5 128.6,709.6 128.8,709.6 128.9,709.6 M130.6,709.6 130.7,709.6 130.9,709.6 131.5,692.4 132.1,709.6 132.3,709.6 132.4,709.6 M134.1,709.6 134.2,709.6 134.4,709.6 135.0,692.7 135.6,709.6 135.8,709.6 135.9,709.6 M137.6,709.6 137.7,709.6 137.9,709.6 138.5,692.5 139.1,709.6 139.3,709.6 139.4,709.6 M141.1,709.6 141.2,709.6 141.4,709.6 142.0,691.2 142.6,709.6 142.8,709.6 142.9,709.6 M144.6,709.6 144.7,709.6 144.9,709.6 145.5,690.3 146.1,709.6 146.3,709.6 146.4,709.6 M148.1,709.6 148.2,709.6 148.4,709.6 149.0,692.0 149.6,709.6 149.8,709.6 149.9,709.6 M151.6,709.6 151.7,709.6 151.9,709.6 152.5,697.1 153.1,709.6 153.3,709.6 153.4,709.6 M155.1,709.6 155.2,709.6 155.4,709.6 156.0,706.5 156.6,709.6 156.8,709.6 156.9,709.6 M158.6,709.6 158.7,709.6 158.9,709.6 159.5,709.6 160.1,709.6 160.3,709.6 160.4,709.6 M162.1,709.6 162.2,709.6 162.4,709.6 163.0,709.6 163.6,709.6 163.8,709.6 163.9,709.6 M165.6,709.6 165.7,709.6 165.9,709.6 166.5,706.2 167.1,709.6 167.3,709.6 167.4,709.6 M169.1,709.6 169.2,709.6 169.4,709.6 170.0,702.5 170.6,709.6 170.8,709.6 170.9,709.6 M172.6,709.6 172.7,709.6 172.9,709.6 173.5,702.2 174.1,709.6 174.3,709.6 174.4,709.6 M176.1,709.6 176.2,709.6 176.4,709.6 177.0,702.1 177.6,709.6 177.8,709.6 177.9,709.6 M179.6,709.6 179.7,709.6 179.9,709.6 180.5,701.1 181.1,709.6 181.3,709.6 181.4,709.6 M183.1,709.6 183.2,709.6 183.4,709.6 184.0,699.2 184.6,709.6 184.8,709.6 184.9,709.6 M186.6,709.6 186.7,709.6 186.9,709.6 187.5,697.3 188.1,709.6 188.3,709.6 188.4,709.6 M190.1,709.6 190.2,709.6 190.4,709.6 191.0,695.1 191.6,709.6 191.8,709.6 191.9,709.6 M193.6,709.6 193.7,709.6 193.9,709.6 194.5,696.6 195.1,709.6 195.3,709.6 195.4,709.6 M197.1,709.6 197.2,709.6 197.4,709.6 198.0,707.3 198.6,709.6 198.8,709.6 198.9,709.6 M200.6,709.6 200.7,709.6 200.9,709.6 201.5,709.6 202.1,709.6 202.3,709.6 202.4,709.6 M204.1,709.6 204.2,709.6 204.4,709.6 205.0,709.6 205.6,709.6 205.8,709.6 205.9,709.6 M207.6,709.6 207.7,709.6 207.9,709.6 208.5,703.2 209.1,709.6 209.3,709.6 209.4,709.6 M211.1,709.6 211.2,709.6 211.4,709.6 212.0,695.9 212.6,709.6 212.8,709.6 212.9,709.6 M214.6,709.6 214.7,709.6 214.9,709.6 215.5,693.5 216.1,709.6 216.3,709.6 216.4,709.6 M218.1,709.6 218.2,709.6 218.4,709.6 219.0,698.4 219.6,709.6 219.8,709.6 219.9,709.6 M221.6,709.6 221.7,709.6 221.9,709.6 222.5,705.3 223.1,709.6 223.3,709.6 223.4,709.6 M225.1,709.6 225.2,709.6 225.4,709.6 226.0,703.2 226.6,709.6 226.8,709.6 226.9,709.6 M228.6,709.6 228.7,709.6 228.9,709.6 229.5,698.1 230.1,709.6 230.3,709.6 230.4,709.6 M232.1,709.6 232.2,709.6 232.4,709.6 233.0,697.1 233.6,709.6 233.8,709.6 233.9,709.6 M235.6,709.6 235.7,709.6 235.9,709.6 236.5,697.9 237.1,709.6 237.3,709.6 237.4,709.6 M239.1,709.6 239.2,709.6 239.4,709.6 240.0,704.2 240.6,709.6 240.8,709.6 240.9,709.6 M242.6,709.6 242.7,709.6 242.9,709.6 243.5,708.4 244.1,709.6 244.3,709.6 244.4,709.6 M246.1,709.6 246.2,709.6 246.4,709.6 247.0,709.6 247.6,709.6 247.8,709.6 247.9,709.6 M249.6,709.6 249.7,709.6 249.9,709.6 250.5,709.6 251.1,709.6 251.3,709.6 251.4,709.6 M253.1,709.6 253.2,709.6 253.4,709.6 254.0,709.6 254.6,709.6 254.8,709.6 254.9,709.6 M256.6,709.6 256.7,709.6 256.9,709.6 257.5,709.6 258.1,709.6 258.3,709.6 258.4,709.6 M260.1,709.6 260.2,709.6 260.4,709.6 261.0,709.6 261.6,709.6 261.8,709.6 261.9,709.6 M263.6,709.6 263.7,709.6 263.9,709.6 264.5,709.6 265.1,709.6 265.3,709.6 265.4,709.6 M267.1,709.6 267.2,709.6 267.4,709.6 268.0,709.6 268.6,709.6 268.8,709.6 268.9,709.6 M270.6,709.6 270.7,709.6 270.9,709.6 271.5,708.9 272.1,709.6 272.3,709.6 272.4,709.6 M274.1,709.6 274.2,709.6 274.4,709.6 275.0,706.4 275.6,709.6 275.8,709.6 275.9,709.6 M277.6,709.6 277.7,709.6 277.9,709.6 278.5,703.4 279.1,709.6 279.3,709.6 279.4,709.6 M281.1,709.6 281.2,709.6 281.4,709.6 282.0,707.5 282.6,709.6 282.8,709.6 282.9,709.6 M284.6,709.6 284.7,709.6 284.9,709.6 285.5,709.6 286.1,709.6 286.3,709.6 286.4,709.6 M288.1,709.6 288.2,709.6 288.4,709.6 289.0,709.6 289.6,709.6 289.8,709.6 289.9,709.6 M291.6,709.6 291.7,709.6 291.9,709.6 292.5,707.1 293.1,709.6 293.3,709.6 293.4,709.6 M295.1,709.6 295.2,709.6 295.4,709.6 296.0,709.5 296.6,709.6 296.8,709.6 296.9,709.6 M298.6,709.6 298.7,709.6 298.9,709.6 299.5,709.6 300.1,709.6 300.3,709.6 300.4,709.6 M302.1,709.6 302.2,709.6 302.4,709.6 303.0,709.6 303.6,709.6 303.8,709.6 303.9,709.6 M305.6,709.6 305.7,709.6 305.9,709.6 306.5,709.6 307.1,709.6 307.3,709.6 307.4,709.6 M309.1,709.6 309.2,709.6 309.4,709.6 310.0,709.6 310.6,709.6 310.8,709.6 310.9,709.6 M312.6,709.6 312.7,709.6 312.9,709.6 313.5,709.6 314.1,709.6 314.3,709.6 314.4,709.6 M316.1,709.6 316.2,709.6 316.4,709.6 317.0,709.6 317.6,709.6 317.8,709.6 317.9,709.6 M319.6,709.6 319.7,709.6 319.9,709.6 320.5,706.4 321.1,709.6 321.3,709.6 321.4,709.6 M323.1,709.6 323.2,709.6 323.4,709.6 324.0,709.6 324.6,709.6 324.8,709.6 324.9,709.6 M326.6,709.6 326.7,709.6 326.9,709.6 327.5,709.6 328.1,709.6 328.3,709.6 328.4,709.6 M330.1,709.6 330.2,709.6 330.4,709.6 331.0,709.3 331.6,709.6 331.8,709.6 331.9,709.6 M333.6,709.6 333.7,709.6 333.9,709.6 334.5,706.6 335.1,709.6 335.3,709.6 335.4,709.6 M337.1,709.6 337.2,709.6 337.4,709.6 338.0,704.0 338.6,709.6 338.8,709.6 338.9,709.6 M340.6,709.6 340.7,709.6 340.9,709.6 341.5,703.3 342.1,709.6 342.3,709.6 342.4,709.6 M344.1,709.6 344.2,709.6 344.4,709.6 345.0,703.9 345.6,709.6 345.8,709.6 345.9,709.6 M347.6,709.6 347.7,709.6 347.9,709.6 348.5,705.6 349.1,709.6 349.3,709.6 349.4,709.6 M351.1,709.6 351.2,709.6 351.4,709.6 352.0,709.6 352.6,709.6 352.8,709.6 352.9,709.6 M354.6,709.6 354.7,709.6 354.9,709.6 355.5,709.6 356.1,709.6 356.3,709.6 356.4,709.6 M358.1,709.6 358.2,709.6 358.4,709.6 359.0,709.6 359.6,709.6 359.8,709.6 359.9,709.6 M361.6,709.6 361.7,709.6 361.9,709.6 362.5,709.6 363.1,709.6 363.3,709.6 363.4,709.6 M365.1,709.6 365.2,709.6 365.4,709.6 366.0,709.6 366.6,709.6 366.8,709.6 366.9,709.6 M368.6,709.6 368.7,709.6 368.9,709.6 369.5,709.6 370.1,709.6 370.3,709.6 370.4,709.6 M372.1,709.6 372.2,709.6 372.4,709.6 373.0,709.6 373.6,709.6 373.8,709.6 373.9,709.6 M375.6,709.6 375.7,709.6 375.9,709.6 376.5,709.6 377.1,709.6 377.3,709.6 377.4,709.6 M379.1,709.6 379.2,709.6 379.4,709.6 380.0,709.6 380.6,709.6 380.8,709.6 380.9,709.6 M382.6,709.6 382.7,709.6 382.9,709.6 383.5,709.6 384.1,709.6 384.3,709.6 384.4,709.6 M386.1,709.6 386.2,709.6 386.4,709.6 387.0,709.6 387.6,709.6 387.8,709.6 387.9,709.6 M389.6,709.6 389.7,709.6 389.9,709.6 390.5,709.6" fill="none" stroke="#58b860" stroke-width="0.6" />
<path d="M32.0,551.2 32.8,550.9 33.6,550.6 34.4,550.2 35.2,549.8 36.0,549.4 36.8,549.1 37.6,548.7 38.4,548.4 39.2,548.1 40.0,547.7 40.8,547.4 41.6,547.2 42.4,546.9 43.2,546.7 44.0,546.4 44.8,546.2 45.6,546.0 46.4,545.8 47.2,545.6 48.0,545.5 48.8,545.3 49.6,545.1 50.4,544.9 51.2,544.8 52.0,544.6 52.8,544.5 53.6,544.3 54.4,544.2 55.2,544.0 56.0,543.9 56.8,543.8 57.6,543.6 58.4,543.5 59.2,543.4 60.0,543.3 60.8,543.2 61.6,543.0 62.4,542.9 63.2,542.8 64.0,542.7 64.8,542.6 65.6,542.5 66.4,542.4 67.2,542.3 68.0,542.2 68.8,542.2 69.6,542.1 70.4,542.0 71.2,541.9 72.0,541.9 72.8,541.8 73.6,541.7 74.4,541.7 75.2,541.6 76.0,541.6 76.8,541.5 77.6,541.5 78.4,541.4 79.2,541.4 80.0,541.4 80.8,541.4 81.6,541.3 82.4,541.3 83.2,541.3 84.0,541.3 84.8,541.3 85.6,541.3 86.4,541.3 87.2,541.3 88.0,541.4 88.8,541.4 89.6,541.4 90.4,541.5 91.2,541.5 92.0,541.5 92.8,541.6 93.6,541.6 94.4,541.7 95.2,541.7 96.0,541.8 96.8,541.9 97.6,541.9 98.4,542.0 99.2,542.0 100.0,542.1 100.8,542.2 101.6,542.2 102.4,542.3 103.2,542.4 104.0,542.4 104.8,542.5 105.6,542.6 106.4,542.6 107.2,542.7 108.0,542.8 108.8,542.9 109.6,543.0 110.4,543.1 111.2,543.2 112.0,543.3 112.8,543.4 113.6,543.5 114.4,543.6 115.2,543.7 116.0,543.8 116.8,543.9 117.6,544.0 118.4,544.1 119.2,544.3 120.0,544.4 120.8,544.5 121.6,544.7 122.4,544.9 123.2,545.1 124.0,545.3 124.8,545.5 125.6,545.7 126.4,545.9 127.2,546.2 128.0,546.4 128.8,546.6 129.6,546.9 130.4,547.1 131.2,547.4 132.0,547.6 132.8,547.9 133.6,548.1 134.4,548.4 135.2,548.7 136.0,548.9 136.8,549.2 137.6,549.5 138.4,549.8 139.2,550.1 140.0,550.4 140.8,550.7 141.6,551.0 142.4,551.3 143.2,551.6 144.0,551.9 144.8,552.3 145.6,552.6 146.4,553.0 147.2,553.3 148.0,553.7 148.8,554.0 149.6,554.4 150.4,554.8 151.2,555.2 152.0,555.5 152.8,555.9 153.6,556.3 154.4,556.7 155.2,557.1 156.0,557.5 156.8,557.9 157.6,558.3 158.4,558.7 159.2,559.2 160.0,559.6 160.8,560.0 161.6,560.4 162.4,560.8 163.2,561.3 164.0,561.7 164.8,562.1 165.6,562.5 166.4,563.0 167.2,563.4 168.0,563.8 168.8,564.3 169.6,564.7 170.4,565.2 171.2,565.6 172.0,566.1 172.8,566.6 173.6,567.0 174.4,567.5 175.2,568.0 176.0,568.6 176.8,569.3 177.6,570.2 178.4,571.0 179.2,571.8 180.0,572.5 180.8,573.2 181.6,573.9 182.4,574.5 183.2,575.2 184.0,575.9 184.8,576.6 185.6,577.3 186.4,577.9 187.2,578.6 188.0,579.3 188.8,580.0 189.6,580.7 190.4,581.4 191.2,582.1 192.0,582.8 192.8,583.5 193.6,584.2 194.4,585.0 195.2,585.7 196.0,586.4 196.8,587.2 197.6,588.0 198.4,588.8 199.2,589.6 200.0,590.5 200.8,591.4 201.6,592.3 202.4,593.2 203.2,594.1 204.0,595.0 204.8,596.0 205.6,596.9 206.4,597.9 207.2,598.8 208.0,599.7 208.8,600.7 209.6,601.6 210.4,602.4 211.2,603.3 212.0,604.2 212.8,605.1 213.6,605.9 214.4,606.8 215.2,607.7 216.0,608.5 216.8,609.4 217.6,610.2 218.4,611.0 219.2,611.8 220.0,612.5 220.8,613.3 221.6,614.0 222.4,614.7 223.2,615.3 224.0,615.9 224.8,616.5 225.6,617.1 226.4,617.6 227.2,618.2 228.0,618.7 228.8,619.2 229.6,619.7 230.4,620.2 231.2,620.7 232.0,621.2 232.8,621.7 233.6,622.3 234.4,622.8 235.2,623.4 236.0,624.0 236.8,624.6 237.6,625.3 238.4,625.9 239.2,626.6 240.0,627.3 240.8,628.0 241.6,628.6 242.4,629.2 243.2,629.8 244.0,630.3 244.8,630.7 245.6,631.1 246.4,631.3 247.2,631.5 248.0,631.7 248.8,631.7 249.6,631.6 250.4,631.5 251.2,631.3 252.0,631.1 252.8,630.8 253.6,630.5 254.4,630.2 255.2,629.8 256.0,629.5 256.8,629.2 257.6,628.9 258.4,628.6 259.2,628.4 260.0,628.1 260.8,627.9 261.6,627.6 262.4,627.3 263.2,627.0 264.0,626.7 264.8,626.5 265.6,626.2 266.4,625.9 267.2,625.6 268.0,625.3 268.8,625.0 269.6,624.7 270.4,624.5 271.2,624.2 272.0,623.9 272.8,623.7 273.6,623.4 274.4,623.1 275.2,622.9 276.0,622.7 276.8,622.4 277.6,622.2 278.4,622.0 279.2,621.8 280.0,621.6 280.8,621.3 281.6,621.1 282.4,620.9 283.2,620.7 284.0,620.5 284.8,620.3 285.6,620.1 286.4,619.9 287.2,619.7 288.0,619.5 288.8,619.3 289.6,619.1 290.4,618.9 291.2,618.8 292.0,618.6 292.8,618.5 293.6,618.3 294.4,618.2 295.2,618.1 296.0,618.0 296.8,617.9 297.6,617.9 298.4,617.8 299.2,617.8 300.0,617.8 300.8,617.8 301.6,617.9 302.4,617.9 303.2,618.0 304.0,618.1 304.8,618.2 305.6,618.3 306.4,618.4 307.2,618.6 308.0,618.7 308.8,618.9 309.6,619.1 310.4,619.2 311.2,619.4 312.0,619.6 312.8,619.8 313.6,620.0 314.4,620.2 315.2,620.4 316.0,620.6 316.8,620.8 317.6,621.0 318.4,621.1 319.2,621.3 320.0,621.5 320.8,621.8 321.6,622.1 322.4,622.5 323.2,623.0 324.0,623.5 324.8,624.1 325.6,624.7 326.4,625.3 327.2,626.0 328.0,626.7 328.8,627.5 329.6,628.3 330.4,629.1 331.2,630.0 332.0,630.9 332.8,631.8 333.6,632.8 334.4,633.9 335.2,634.9 336.0,636.0 336.8,637.2 337.6,638.3 338.4,639.5 339.2,640.7 340.0,642.0 340.8,643.4 341.6,644.9 342.4,646.5 343.2,648.1 344.0,649.7 344.8,651.2 345.6,652.4 346.4,653.5 347.2,654.4 348.0,655.1 348.8,655.7 349.6,656.2 350.4,656.6 351.2,656.9 352.0,657.0 352.8,657.0 353.6,656.8 354.4,656.5 355.2,656.1 356.0,655.6 356.8,655.0 357.6,654.3 358.4,653.6 359.2,652.9 360.0,652.0 360.8,651.0 361.6,650.0 362.4,649.0 363.2,648.0 364.0,647.0 364.8,646.0 365.6,645.0 366.4,644.0 367.2,642.9 368.0,641.9 368.8,641.0 369.6,640.1 370.4,639.2 371.2,638.4 372.0,637.7 372.8,637.0 373.6,636.3 374.4,635.6 375.2,635.0 376.0,634.4 376.8,633.9 377.6,633.4 378.4,632.9 379.2,632.4 380.0,632.0 380.8,631.6 381.6,631.2 382.4,630.9 383.2,630.5 384.0,630.2 384.8,629.9 385.6,629.6 386.4,629.2 387.2,628.9 388.0,628.6 388.8,628.3 389.6,628.0 390.4,627.7" fill="none" stroke="#333" stroke-width="1.0"/>
<path d="M32.0,568.2 32.8,568.2 33.6,568.1 34.4,568.0 35.2,568.0 36.0,567.9 36.8,567.8 37.6,567.8 38.4,567.7 39.2,567.7 40.0,567.6 40.8,567.6 41.6,567.5 42.4,567.5 43.2,567.4 44.0,567.4 44.8,567.4 45.6,567.3 46.4,567.3 47.2,567.3 48.0,567.2 48.8,567.2 49.6,567.2 50.4,567.2 51.2,567.1 52.0,567.1 52.8,567.1 53.6,567.1 54.4,567.1 55.2,567.1 56.0,567.1 56.8,567.1 57.6,567.1 58.4,567.1 59.2,567.1 60.0,567.2 60.8,567.2 61.6,567.2 62.4,567.2 63.2,567.3 64.0,567.3 64.8,567.4 65.6,567.4 66.4,567.5 67.2,567.5 68.0,567.6 68.8,567.7 69.6,567.8 70.4,567.9 71.2,568.0 72.0,568.1 72.8,568.2 73.6,568.4 74.4,568.5 75.2,568.6 76.0,568.8 76.8,568.9 77.6,569.1 78.4,569.2 79.2,569.4 80.0,569.6 80.8,569.8 81.6,570.0 82.4,570.3 83.2,570.5 84.0,570.8 84.8,571.1 85.6,571.4 86.4,571.7 87.2,572.0 88.0,572.3 88.8,572.7 89.6,573.1 90.4,573.4 91.2,573.8 92.0,574.2 92.8,574.6 93.6,575.1 94.4,575.5 95.2,576.0 96.0,576.4 96.8,576.9 97.6,577.4 98.4,577.9 99.2,578.4 100.0,579.0 100.8,579.6 101.6,580.1 102.4,580.8 103.2,581.4 104.0,582.0 104.8,582.7 105.6,583.3 106.4,584.0 107.2,584.6 108.0,585.3 108.8,586.0 109.6,586.7 110.4,587.3 111.2,588.0 112.0,588.7 112.8,589.3 113.6,590.0 114.4,590.6 115.2,591.2 116.0,591.8 116.8,592.4 117.6,593.1 118.4,593.7 119.2,594.3 120.0,594.9 120.8,595.6 121.6,596.2 122.4,596.8 123.2,597.5 124.0,598.2 124.8,598.9 125.6,599.6 126.4,600.4 127.2,601.3 128.0,602.2 128.8,603.2 129.6,604.3 130.4,605.4 131.2,606.6 132.0,607.7 132.8,608.7 133.6,609.7 134.4,610.8 135.2,611.8 136.0,612.8 136.8,613.8 137.6,614.7 138.4,615.6 139.2,616.3 140.0,616.9 140.8,617.4 141.6,617.8 142.4,618.0 143.2,618.2 144.0,618.3 144.8,618.3 145.6,618.4 146.4,618.4 147.2,618.4 148.0,618.4 148.8,618.4 149.6,618.4 150.4,618.4 151.2,618.3 152.0,618.3 152.8,618.2 153.6,618.2 154.4,618.1 155.2,618.0 156.0,617.9 156.8,617.7 157.6,617.6 158.4,617.4 159.2,617.3 160.0,617.0 160.8,616.8 161.6,616.6 162.4,616.3 163.2,616.1 164.0,615.9 164.8,615.7 165.6,615.5 166.4,615.3 167.2,615.2 168.0,615.1 168.8,615.0 169.6,614.9 170.4,614.9 171.2,614.8 172.0,614.8 172.8,614.9 173.6,614.9 174.4,614.9 175.2,615.0 176.0,615.1 176.8,615.2 177.6,615.3 178.4,615.4 179.2,615.5 180.0,615.7 180.8,615.8 181.6,615.9 182.4,616.1 183.2,616.2 184.0,616.4 184.8,616.6 185.6,616.7 186.4,617.0 187.2,617.2 188.0,617.4 188.8,617.7 189.6,618.0 190.4,618.4 191.2,618.8 192.0,619.2 192.8,619.7 193.6,620.2 194.4,620.7 195.2,621.3 196.0,621.9 196.8,622.5 197.6,623.2 198.4,623.9 199.2,624.6 200.0,625.4 200.8,626.1 201.6,627.0 202.4,627.8 203.2,628.7 204.0,629.6 204.8,630.7 205.6,631.8 206.4,633.1 207.2,634.6 208.0,636.1 208.8,637.7 209.6,639.3 210.4,640.8 211.2,642.1 212.0,643.4 212.8,644.4 213.6,645.3 214.4,646.0 215.2,646.6 216.0,647.2 216.8,647.7 217.6,648.2 218.4,648.6 219.2,649.0 220.0,649.3 220.8,649.6 221.6,649.9 222.4,650.2 223.2,650.5 224.0,650.7 224.8,651.0 225.6,651.2 226.4,651.4 227.2,651.6 228.0,651.8 228.8,651.9 229.6,651.9 230.4,651.7 231.2,651.4 232.0,650.9 232.8,650.2 233.6,649.4 234.4,648.3 235.2,647.1 236.0,645.8 236.8,644.5 237.6,643.3 238.4,642.1 239.2,641.0 240.0,640.0 240.8,639.1 241.6,638.4 242.4,637.7 243.2,637.0 244.0,636.4 244.8,635.8 245.6,635.2 246.4,634.7 247.2,634.1 248.0,633.7 248.8,633.2 249.6,632.7 250.4,632.3 251.2,631.9 252.0,631.5 252.8,631.1 253.6,630.7 254.4,630.3 255.2,630.0 256.0,629.6 256.8,629.3 257.6,629.0 258.4,628.7 259.2,628.4 260.0,628.1 260.8,627.9 261.6,627.6 262.4,627.4 263.2,627.2 264.0,626.9 264.8,626.8 265.6,626.6 266.4,626.4 267.2,626.3 268.0,626.1 268.8,626.0 269.6,625.9 270.4,625.8 271.2,625.8 272.0,625.8 272.8,625.8 273.6,625.8 274.4,625.8 275.2,625.9 276.0,626.0 276.8,626.2 277.6,626.4 278.4,626.6 279.2,626.9 280.0,627.2 280.8,627.6 281.6,628.0 282.4,628.4 283.2,628.9 284.0,629.4 284.8,630.0 285.6,630.5 286.4,631.1 287.2,631.7 288.0,632.3 288.8,632.9 289.6,633.5 290.4,634.2 291.2,634.9 292.0,635.6 292.8,636.3 293.6,637.0 294.4,637.8 295.2,638.6 296.0,639.4 296.8,640.3 297.6,641.2 298.4,642.2 299.2,643.3 300.0,644.4 300.8,645.6 301.6,646.9 302.4,648.3 303.2,649.8 304.0,651.3 304.8,652.9 305.6,654.7 306.4,656.7 307.2,658.8 308.0,660.9 308.8,663.0 309.6,665.0 310.4,666.7 311.2,668.3 312.0,669.7 312.8,670.1 313.6,669.7 314.4,668.7 315.2,667.4 316.0,665.9 316.8,664.2 317.6,662.4 318.4,660.7 319.2,658.9 320.0,657.2 320.8,655.5 321.6,653.6 322.4,651.5 323.2,649.6 324.0,648.1 324.8,646.8 325.6,645.7 326.4,644.8 327.2,643.9 328.0,643.1 328.8,642.4 329.6,641.6 330.4,640.9 331.2,640.3 332.0,639.6 332.8,639.0 333.6,638.4 334.4,637.9 335.2,637.4 336.0,636.9 336.8,636.5 337.6,636.1 338.4,635.8 339.2,635.5 340.0,635.3 340.8,635.1 341.6,635.0 342.4,635.0 343.2,635.0 344.0,635.1 344.8,635.2 345.6,635.3 346.4,635.5 347.2,635.6 348.0,635.8 348.8,636.1 349.6,636.3 350.4,636.5 351.2,636.8 352.0,637.1 352.8,637.4 353.6,637.8 354.4,638.2 355.2,638.8 356.0,639.5 356.8,640.3 357.6,641.2 358.4,642.0 359.2,643.0 360.0,644.0 360.8,645.1 361.6,646.3 362.4,647.5 363.2,648.6 364.0,649.7 364.8,650.6 365.6,651.5 366.4,652.4 367.2,653.1 368.0,653.9 368.8,654.6 369.6,655.2 370.4,655.8 371.2,656.5 372.0,657.1 372.8,657.7 373.6,658.0 374.4,658.2 375.2,658.2 376.0,658.1 376.8,657.8 377.6,657.6 378.4,657.3 379.2,656.9 380.0,656.5 380.8,656.1 381.6,655.7 382.4,655.2 383.2,654.7 384.0,654.2 384.8,653.7 385.6,653.1 386.4,652.5 387.2,651.8 388.0,651.1 388.8,650.4 389.6,649.7 390.4,649.0" fill="none" stroke="#ff1a1a" stroke-width="1.3"/>
<path d="M32.0,585.9 32.8,585.8 33.6,585.6 34.4,585.5 35.2,585.3 36.0,585.2 36.8,585.0 37.6,584.8 38.4,584.7 39.2,584.5 40.0,584.3 40.8,584.1 41.6,583.9 42.4,583.7 43.2,583.5 44.0,583.3 44.8,583.1 45.6,582.9 46.4,582.7 47.2,582.6 48.0,582.4 48.8,582.3 49.6,582.2 50.4,582.1 51.2,582.1 52.0,582.1 52.8,582.1 53.6,582.2 54.4,582.3 55.2,582.4 56.0,582.6 56.8,582.7 57.6,582.9 58.4,583.1 59.2,583.3 60.0,583.6 60.8,583.8 61.6,584.0 62.4,584.3 63.2,584.6 64.0,584.9 64.8,585.2 65.6,585.5 66.4,585.9 67.2,586.3 68.0,586.7 68.8,587.1 69.6,587.5 70.4,588.0 71.2,588.5 72.0,589.0 72.8,589.5 73.6,590.1 74.4,590.7 75.2,591.2 76.0,591.8 76.8,592.4 77.6,593.0 78.4,593.7 79.2,594.3 80.0,595.0 80.8,595.7 81.6,596.4 82.4,597.2 83.2,598.0 84.0,598.9 84.8,599.9 85.6,601.0 86.4,602.0 87.2,603.1 88.0,604.1 88.8,605.0 89.6,605.9 90.4,606.8 91.2,607.6 92.0,608.5 92.8,609.3 93.6,610.1 94.4,610.8 95.2,611.5 96.0,612.1 96.8,612.6 97.6,613.2 98.4,613.7 99.2,614.2 100.0,614.6 100.8,615.0 101.6,615.4 102.4,615.7 103.2,616.0 104.0,616.2 104.8,616.4 105.6,616.5 106.4,616.6 107.2,616.7 108.0,616.7 108.8,616.7 109.6,616.8 110.4,616.8 111.2,616.7 112.0,616.7 112.8,616.7 113.6,616.7 114.4,616.7 115.2,616.8 116.0,616.8 116.8,616.9 117.6,616.9 118.4,616.9 119.2,616.9 120.0,616.9 120.8,617.0 121.6,617.0 122.4,617.1 123.2,617.2 124.0,617.3 124.8,617.5 125.6,617.7 126.4,618.0 127.2,618.3 128.0,618.7 128.8,619.2 129.6,619.8 130.4,620.4 131.2,621.0 132.0,621.6 132.8,622.2 133.6,622.8 134.4,623.3 135.2,623.8 136.0,624.4 136.8,624.9 137.6,625.4 138.4,625.9 139.2,626.5 140.0,627.0 140.8,627.5 141.6,628.0 142.4,628.5 143.2,629.0 144.0,629.4 144.8,629.9 145.6,630.4 146.4,630.8 147.2,631.2 148.0,631.6 148.8,632.0 149.6,632.3 150.4,632.6 151.2,633.0 152.0,633.3 152.8,633.6 153.6,633.9 154.4,634.2 155.2,634.5 156.0,634.7 156.8,635.0 157.6,635.3 158.4,635.6 159.2,636.0 160.0,636.3 160.8,636.6 161.6,637.0 162.4,637.4 163.2,637.7 164.0,638.1 164.8,638.4 165.6,638.8 166.4,639.2 167.2,639.6 168.0,640.0 168.8,640.5 169.6,641.0 170.4,641.7 171.2,642.4 172.0,643.3 172.8,644.2 173.6,645.3 174.4,646.5 175.2,647.8 176.0,649.2 176.8,650.7 177.6,652.3 178.4,654.0 179.2,656.0 180.0,658.2 180.8,660.8 181.6,663.5 182.4,666.0 183.2,668.7 184.0,672.0 184.8,673.3 185.6,673.6 186.4,673.6 187.2,673.5 188.0,673.3 188.8,673.0 189.6,672.6 190.4,672.2 191.2,671.7 192.0,671.1 192.8,670.5 193.6,669.7 194.4,668.8 195.2,667.6 196.0,666.1 196.8,664.5 197.6,662.7 198.4,661.0 199.2,659.4 200.0,658.1 200.8,657.0 201.6,656.0 202.4,655.2 203.2,654.4 204.0,653.7 204.8,653.0 205.6,652.4 206.4,651.8 207.2,651.3 208.0,650.8 208.8,650.4 209.6,650.0 210.4,649.8 211.2,649.6 212.0,649.5 212.8,649.5 213.6,649.7 214.4,649.9 215.2,650.2 216.0,650.6 216.8,651.0 217.6,651.4 218.4,651.9 219.2,652.3 220.0,652.8 220.8,653.4 221.6,654.1 222.4,655.0 223.2,655.7 224.0,656.3 224.8,656.6 225.6,656.7 226.4,656.3 227.2,655.7 228.0,655.0 228.8,654.4 229.6,653.9 230.4,653.8 231.2,654.0 232.0,654.5 232.8,655.3 233.6,656.2 234.4,657.3 235.2,658.4 236.0,659.6 236.8,660.7 237.6,661.8 238.4,662.7 239.2,663.6 240.0,664.5 240.8,665.3 241.6,666.1 242.4,666.8 243.2,667.6 244.0,668.3 244.8,668.9 245.6,669.6 246.4,670.2 247.2,670.8 248.0,671.3 248.8,671.8 249.6,672.4 250.4,672.9 251.2,673.4 252.0,673.9 252.8,674.3 253.6,674.8 254.4,675.2 255.2,675.6 256.0,676.0 256.8,676.4 257.6,676.7 258.4,677.1 259.2,677.4 260.0,677.7 260.8,678.0 261.6,678.3 262.4,678.6 263.2,678.8 264.0,679.0 264.8,679.2 265.6,679.4 266.4,679.7 267.2,679.9 268.0,680.1 268.8,680.3 269.6,680.3 270.4,680.2 271.2,680.0 272.0,679.5 272.8,678.5 273.6,677.0 274.4,674.9 275.2,672.5 276.0,670.2 276.8,668.3 277.6,666.9 278.4,665.8 279.2,664.8 280.0,664.0 280.8,663.3 281.6,662.6 282.4,662.0 283.2,661.4 284.0,660.9 284.8,660.4 285.6,659.9 286.4,659.5 287.2,659.2 288.0,658.9 288.8,658.6 289.6,658.5 290.4,658.3 291.2,658.2 292.0,658.2 292.8,658.1 293.6,658.1 294.4,658.2 295.2,658.3 296.0,658.4 296.8,658.6 297.6,659.0 298.4,659.4 299.2,659.9 300.0,660.6 300.8,661.4 301.6,662.3 302.4,663.5 303.2,664.9 304.0,666.6 304.8,668.7 305.6,671.0 306.4,673.7 307.2,676.6 308.0,679.8 308.8,683.2 309.6,687.5 310.4,693.4 311.2,698.4 312.0,700.5 312.8,700.0 313.6,698.1 314.4,696.2 315.2,694.6 316.0,692.9 316.8,691.1 317.6,689.2 318.4,687.3 319.2,685.4 320.0,683.6 320.8,681.8 321.6,680.1 322.4,678.4 323.2,676.8 324.0,675.3 324.8,673.9 325.6,672.7 326.4,671.6 327.2,670.6 328.0,669.6 328.8,668.7 329.6,668.0 330.4,667.2 331.2,666.5 332.0,665.8 332.8,665.2 333.6,664.6 334.4,664.0 335.2,663.5 336.0,663.0 336.8,662.6 337.6,662.2 338.4,661.8 339.2,661.5 340.0,661.3 340.8,661.1 341.6,661.0 342.4,661.1 343.2,661.3 344.0,661.6 344.8,662.1 345.6,662.7 346.4,663.4 347.2,664.3 348.0,665.2 348.8,666.1 349.6,667.2 350.4,668.4 351.2,669.9 352.0,671.5 352.8,673.3 353.6,675.0 354.4,676.7 355.2,678.2 356.0,679.6 356.8,680.9 357.6,681.9 358.4,682.8 359.2,683.6 360.0,684.3 360.8,685.0 361.6,685.5 362.4,686.1 363.2,686.6 364.0,687.2 364.8,687.7 365.6,688.2 366.4,688.7 367.2,689.2 368.0,689.7 368.8,690.2 369.6,690.8 370.4,691.4 371.2,692.1 372.0,692.8 372.8,693.7 373.6,694.7 374.4,695.9 375.2,697.2 376.0,698.7 376.8,700.2 377.6,701.7 378.4,703.0 379.2,704.1 380.0,705.0 380.8,705.7 381.6,706.4 382.4,707.0 383.2,707.5 384.0,708.1 384.8,708.6 385.6,709.0 386.4,709.5 387.2,709.9 388.0,710.4 388.8,710.6 389.6,710.6 390.4,710.6" fill="none" stroke="#1a1aff" stroke-width="1.3"/>
<path d="M32.0,655.0 32.8,652.3 33.6,648.7 34.4,645.1 35.2,641.5 36.0,638.0 36.8,634.3 37.6,630.4 38.4,627.0 39.2,624.4 40.0,622.2 40.8,620.2 41.6,618.4 42.4,616.7 43.2,615.3 44.0,614.1 44.8,613.0 45.6,612.2 46.4,611.4 47.2,610.8 48.0,610.3 48.8,609.8 49.6,609.3 50.4,609.0 51.2,608.6 52.0,608.3 52.8,608.0 53.6,607.8 54.4,607.5 55.2,607.4 56.0,607.2 56.8,607.1 57.6,607.1 58.4,607.1 59.2,607.1 60.0,607.1 60.8,607.3 61.6,607.4 62.4,607.6 63.2,607.8 64.0,608.1 64.8,608.3 65.6,608.7 66.4,609.0 67.2,609.5 68.0,610.0 68.8,610.6 69.6,611.2 70.4,612.0 71.2,612.9 72.0,613.9 72.8,614.9 73.6,616.1 74.4,617.3 75.2,618.6 76.0,619.9 76.8,621.3 77.6,622.7 78.4,624.1 79.2,625.6 80.0,627.1 80.8,628.8 81.6,630.6 82.4,632.4 83.2,634.2 84.0,636.0 84.8,637.7 85.6,639.4 86.4,640.9 87.2,642.2 88.0,643.3 88.8,644.2 89.6,645.0 90.4,645.5 91.2,646.0 92.0,646.3 92.8,646.5 93.6,646.7 94.4,646.8 95.2,646.8 96.0,646.6 96.8,646.2 97.6,645.8 98.4,645.3 99.2,644.8 100.0,644.4 100.8,644.1 101.6,644.0 102.4,644.0 103.2,644.1 104.0,644.3 104.8,644.5 105.6,644.8 106.4,645.1 107.2,645.4 108.0,645.8 108.8,646.2 109.6,646.7 110.4,647.3 111.2,647.9 112.0,648.6 112.8,649.3 113.6,649.9 114.4,650.5 115.2,651.0 116.0,651.4 116.8,651.6 117.6,651.6 118.4,651.4 119.2,651.0 120.0,650.5 120.8,649.8 121.6,649.1 122.4,648.3 123.2,647.6 124.0,646.9 124.8,646.4 125.6,645.6 126.4,645.0 127.2,645.1 128.0,645.4 128.8,645.9 129.6,646.4 130.4,646.9 131.2,647.5 132.0,648.2 132.8,648.9 133.6,649.6 134.4,650.3 135.2,651.2 136.0,652.1 136.8,653.1 137.6,654.3 138.4,655.6 139.2,657.2 140.0,658.9 140.8,660.7 141.6,662.7 142.4,664.7 143.2,666.6 144.0,668.5 144.8,670.3 145.6,672.3 146.4,674.4 147.2,676.5 148.0,678.1 148.8,679.1 149.6,679.2 150.4,678.4 151.2,676.9 152.0,675.0 152.8,672.9 153.6,670.9 154.4,669.2 155.2,667.5 156.0,665.8 156.8,664.0 157.6,662.2 158.4,660.5 159.2,658.9 160.0,657.4 160.8,656.1 161.6,655.1 162.4,654.2 163.2,653.4 164.0,652.7 164.8,652.2 165.6,651.9 166.4,651.7 167.2,651.6 168.0,651.7 168.8,651.8 169.6,652.0 170.4,652.4 171.2,652.8 172.0,653.2 172.8,653.8 173.6,654.4 174.4,655.1 175.2,655.9 176.0,656.9 176.8,658.0 177.6,659.4 178.4,661.3 179.2,663.5 180.0,666.1 180.8,668.7 181.6,671.2 182.4,673.2 183.2,674.5 184.0,675.4 184.8,675.7 185.6,675.6 186.4,675.3 187.2,674.9 188.0,674.2 188.8,673.4 189.6,672.5 190.4,671.6 191.2,670.7 192.0,669.9 192.8,669.1 193.6,668.4 194.4,667.7 195.2,667.0 196.0,666.3 196.8,665.7 197.6,665.2 198.4,664.8 199.2,664.6 200.0,664.5 200.8,664.4 201.6,664.5 202.4,664.6 203.2,664.8 204.0,665.2 204.8,665.8 205.6,666.6 206.4,667.7 207.2,669.3 208.0,671.8 208.8,674.9 209.6,678.4 210.4,681.7 211.2,684.4 212.0,686.0 212.8,686.5 213.6,685.9 214.4,684.5 215.2,682.7 216.0,680.5 216.8,678.2 217.6,675.9 218.4,673.7 219.2,671.0 220.0,668.0 220.8,665.2 221.6,662.9 222.4,661.2 223.2,659.8 224.0,658.5 224.8,657.4 225.6,656.3 226.4,655.5 227.2,654.7 228.0,654.1 228.8,653.7 229.6,653.5 230.4,653.4 231.2,653.5 232.0,653.9 232.8,654.4 233.6,655.1 234.4,656.0 235.2,657.3 236.0,658.7 236.8,660.4 237.6,662.1 238.4,663.9 239.2,665.8 240.0,667.7 240.8,669.9 241.6,672.3 242.4,674.7 243.2,677.0 244.0,678.9 244.8,680.3 245.6,681.0 246.4,681.2 247.2,680.8 248.0,680.0 248.8,679.1 249.6,678.1 250.4,677.1 251.2,676.3 252.0,675.4 252.8,674.3 253.6,673.3 254.4,672.2 255.2,671.2 256.0,670.3 256.8,669.5 257.6,669.0 258.4,668.6 259.2,668.5 260.0,668.5 260.8,668.7 261.6,668.9 262.4,669.3 263.2,669.7 264.0,670.2 264.8,670.8 265.6,671.4 266.4,672.0 267.2,672.8 268.0,673.5 268.8,674.4 269.6,675.2 270.4,676.1 271.2,676.9 272.0,677.8 272.8,678.7 273.6,679.5 274.4,680.5 275.2,681.7 276.0,682.9 276.8,683.6 277.6,683.6 278.4,683.3 279.2,682.7 280.0,682.0 280.8,681.2 281.6,680.3 282.4,679.4 283.2,678.4 284.0,677.5 284.8,676.6 285.6,675.7 286.4,674.7 287.2,673.6 288.0,672.5 288.8,671.5 289.6,670.4 290.4,669.4 291.2,668.5 292.0,667.7 292.8,667.0 293.6,666.6 294.4,666.2 295.2,666.0 296.0,666.0 296.8,666.0 297.6,666.2 298.4,666.6 299.2,667.1 300.0,667.7 300.8,668.5 301.6,669.5 302.4,670.7 303.2,672.1 304.0,673.7 304.8,675.7 305.6,678.0 306.4,681.2 307.2,686.7 308.0,694.0 308.8,698.8 309.6,700.0 310.4,698.8 311.2,696.7 312.0,694.9 312.8,693.1 313.6,691.1 314.4,689.0 315.2,686.9 316.0,684.9 316.8,683.0 317.6,681.3 318.4,679.9 319.2,678.7 320.0,677.7 320.8,676.9 321.6,676.2 322.4,675.5 323.2,675.0 324.0,674.6 324.8,674.2 325.6,673.9 326.4,673.7 327.2,673.5 328.0,673.5 328.8,673.6 329.6,673.8 330.4,674.2 331.2,674.7 332.0,675.3 332.8,676.1 333.6,677.0 334.4,678.0 335.2,679.1 336.0,680.6 336.8,682.3 337.6,684.3 338.4,686.4 339.2,688.4 340.0,690.2 340.8,691.8 341.6,692.7 342.4,692.8 343.2,691.9 344.0,689.7 344.8,686.8 345.6,683.8 346.4,681.2 347.2,679.2 348.0,677.7 348.8,676.3 349.6,674.9 350.4,673.6 351.2,672.4 352.0,671.2 352.8,670.2 353.6,669.2 354.4,668.4 355.2,667.8 356.0,667.4 356.8,667.2 357.6,667.2 358.4,667.3 359.2,667.6 360.0,668.0 360.8,668.5 361.6,669.2 362.4,670.0 363.2,671.0 364.0,672.0 364.8,673.2 365.6,674.6 366.4,676.3 367.2,678.2 368.0,680.4 368.8,682.7 369.6,685.1 370.4,687.7 371.2,690.2 372.0,692.6 372.8,695.3 373.6,699.1 374.4,702.8 375.2,703.9 376.0,702.5 376.8,699.1 377.6,694.7 378.4,690.0 379.2,685.6 380.0,681.9 380.8,679.1 381.6,677.3 382.4,676.1 383.2,675.2 384.0,674.5 384.8,674.0 385.6,673.5 386.4,673.2 387.2,672.9 388.0,672.6 388.8,672.3 389.6,672.5 390.4,673.1" fill="none" stroke="#ff1aff" stroke-width="1.3"/>
<path d="M32.0,648.2 32.8,646.3 33.6,643.8 34.4,641.3 35.2,639.0 36.0,636.8 36.8,634.7 37.6,632.7 38.4,630.6 39.2,628.7 40.0,627.1 40.8,625.8 41.6,624.7 42.4,623.8 43.2,622.9 44.0,622.2 44.8,621.4 45.6,620.7 46.4,620.1 47.2,619.5 48.0,618.9 48.8,618.4 49.6,617.9 50.4,617.5 51.2,617.1 52.0,616.8 52.8,616.6 53.6,616.4 54.4,616.4 55.2,616.4 56.0,616.5 56.8,616.7 57.6,617.0 58.4,617.4 59.2,617.9 60.0,618.4 60.8,618.9 61.6,619.6 62.4,620.3 63.2,621.1 64.0,622.0 64.8,623.0 65.6,624.2 66.4,625.6 67.2,627.1 68.0,628.7 68.8,630.4 69.6,632.2 70.4,634.0 71.2,635.8 72.0,637.7 72.8,639.7 73.6,641.8 74.4,644.1 75.2,646.6 76.0,649.3 76.8,652.3 77.6,655.7 78.4,659.5 79.2,663.5 80.0,667.8 80.8,672.1 81.6,676.6 82.4,681.7 83.2,687.8 84.0,697.8 84.8,710.3 85.6,710.6 86.4,703.0 87.2,693.4 88.0,685.8 88.8,680.7 89.6,677.3 90.4,674.5 91.2,672.2 92.0,670.2 92.8,668.4 93.6,666.8 94.4,665.4 95.2,664.2 96.0,663.2 96.8,662.5 97.6,662.1 98.4,661.8 99.2,661.6 100.0,661.6 100.8,661.7 101.6,661.8 102.4,662.2 103.2,662.6 104.0,663.3 104.8,664.0 105.6,665.0 106.4,666.0 107.2,667.3 108.0,668.7 108.8,670.2 109.6,671.9 110.4,673.7 111.2,675.7 112.0,677.9 112.8,680.4 113.6,683.2 114.4,686.2 115.2,689.6 116.0,693.6 116.8,699.2 117.6,706.1 118.4,710.6 119.2,710.6 120.0,710.4 120.8,706.9 121.6,704.0 122.4,701.3 123.2,698.8 124.0,696.7 124.8,695.1 125.6,693.9 126.4,693.1 127.2,692.8 128.0,692.5 128.8,692.4 129.6,692.3 130.4,692.3 131.2,692.4 132.0,692.5 132.8,692.5 133.6,692.6 134.4,692.7 135.2,692.7 136.0,692.8 136.8,692.7 137.6,692.6 138.4,692.5 139.2,692.3 140.0,692.0 140.8,691.7 141.6,691.4 142.4,691.0 143.2,690.8 144.0,690.5 144.8,690.4 145.6,690.3 146.4,690.4 147.2,690.6 148.0,691.1 148.8,691.8 149.6,692.7 150.4,693.7 151.2,694.9 152.0,696.2 152.8,697.7 153.6,699.2 154.4,700.7 155.2,702.8 156.0,706.5 156.8,708.5 157.6,710.3 158.4,710.6 159.2,710.6 160.0,710.6 160.8,710.6 161.6,710.6 162.4,710.6 163.2,710.6 164.0,710.6 164.8,709.0 165.6,707.6 166.4,706.4 167.2,705.1 168.0,704.0 168.8,703.2 169.6,702.7 170.4,702.4 171.2,702.2 172.0,702.2 172.8,702.2 173.6,702.2 174.4,702.2 175.2,702.2 176.0,702.2 176.8,702.2 177.6,702.1 178.4,701.9 179.2,701.6 180.0,701.3 180.8,700.9 181.6,700.5 182.4,700.1 183.2,699.7 184.0,699.2 184.8,698.8 185.6,698.3 186.4,697.9 187.2,697.5 188.0,697.0 188.8,696.5 189.6,695.9 190.4,695.4 191.2,695.0 192.0,694.8 192.8,695.0 193.6,695.6 194.4,696.4 195.2,697.6 196.0,699.0 196.8,700.8 197.6,705.5 198.4,708.4 199.2,710.6 200.0,710.6 200.8,710.6 201.6,710.6 202.4,710.6 203.2,710.6 204.0,710.6 204.8,710.6 205.6,709.7 206.4,708.0 207.2,706.3 208.0,704.4 208.8,702.4 209.6,700.4 210.4,698.6 211.2,697.2 212.0,695.9 212.8,694.8 213.6,694.0 214.4,693.5 215.2,693.4 216.0,693.9 216.8,694.8 217.6,696.0 218.4,697.4 219.2,698.8 220.0,700.2 220.8,701.7 221.6,703.4 222.4,705.1 223.2,706.8 224.0,708.5 224.8,710.3 225.6,705.9 226.4,701.6 227.2,700.0 228.0,699.1 228.8,698.5 229.6,698.0 230.4,697.7 231.2,697.4 232.0,697.2 232.8,697.1 233.6,697.1 234.4,697.2 235.2,697.4 236.0,697.7 236.8,698.1 237.6,698.7 238.4,699.6 239.2,701.5 240.0,704.2 240.8,705.8 241.6,706.8 242.4,707.6 243.2,708.2 244.0,708.8 244.8,709.4 245.6,709.9 246.4,710.5 247.2,710.6 248.0,710.6 248.8,710.6 249.6,710.6 250.4,710.6 251.2,710.6 252.0,710.6 252.8,710.6 253.6,710.6 254.4,710.6 255.2,710.6 256.0,710.6 256.8,710.6 257.6,710.6 258.4,710.6 259.2,710.6 260.0,710.6 260.8,710.6 261.6,710.6 262.4,710.6 263.2,710.6 264.0,710.6 264.8,710.6 265.6,710.6 266.4,710.6 267.2,710.6 268.0,710.6 268.8,710.6 269.6,710.1 270.4,709.6 271.2,709.1 272.0,708.6 272.8,708.0 273.6,707.5 274.4,707.0 275.2,706.2 276.0,704.9 276.8,703.5 277.6,703.3 278.4,703.3 279.2,703.7 280.0,704.3 280.8,705.2 281.6,706.6 282.4,708.4 283.2,710.0 284.0,710.6 284.8,710.6 285.6,710.6 286.4,710.6 287.2,710.6 288.0,710.6 288.8,710.2 289.6,709.5 290.4,708.9 291.2,708.2 292.0,707.5 292.8,706.7 293.6,705.6 294.4,704.9 295.2,708.5 296.0,709.5 296.8,709.9 297.6,710.2 298.4,710.4 299.2,710.6 300.0,710.6 300.8,710.6 301.6,710.6 302.4,710.6 303.2,710.6 304.0,710.6 304.8,710.6 305.6,710.6 306.4,710.6 307.2,710.6 308.0,710.6 308.8,710.6 309.6,710.6 310.4,710.6 311.2,710.6 312.0,710.6 312.8,710.6 313.6,710.6 314.4,710.6 315.2,710.6 316.0,710.6 316.8,710.6 317.6,710.4 318.4,709.0 319.2,707.2 320.0,706.4 320.8,706.6 321.6,707.5 322.4,709.0 323.2,710.4 324.0,710.6 324.8,710.6 325.6,710.6 326.4,710.6 327.2,710.6 328.0,710.6 328.8,710.6 329.6,710.3 330.4,709.7 331.2,709.2 332.0,708.7 332.8,708.1 333.6,707.6 334.4,706.7 335.2,705.7 336.0,704.9 336.8,704.4 337.6,704.1 338.4,703.8 339.2,703.6 340.0,703.5 340.8,703.4 341.6,703.3 342.4,703.3 343.2,703.4 344.0,703.6 344.8,703.8 345.6,704.1 346.4,704.4 347.2,704.9 348.0,705.3 348.8,705.8 349.6,706.4 350.4,707.1 351.2,708.1 352.0,710.6 352.8,710.6 353.6,710.6 354.4,710.6 355.2,710.6 356.0,710.6 356.8,710.6 357.6,710.6 358.4,710.6 359.2,710.6 360.0,710.6 360.8,710.6 361.6,710.6 362.4,710.6 363.2,710.6 364.0,710.6 364.8,710.6 365.6,710.6 366.4,710.6 367.2,710.6 368.0,710.6 368.8,710.6 369.6,710.6 370.4,710.6 371.2,710.6 372.0,710.6 372.8,710.6 373.6,710.6 374.4,710.6 375.2,710.6 376.0,710.6 376.8,710.6 377.6,710.6 378.4,710.6 379.2,710.6 380.0,710.6 380.8,710.6 381.6,710.6 382.4,710.6 383.2,710.6 384.0,710.6 384.8,710.6 385.6,710.6 386.4,710.6 387.2,710.6 388.0,710.6 388.8,710.6 389.6,710.6 390.4,710.6" fill="none" stroke="#1aee1a" stroke-width="1.3"/>
<line x1="54.3" y1="536.1" x2="54.3" y2="707.6" stroke="#222" stroke-width="0.8" />
</g>
<line x1="32" y1="698.55" x2="34.2" y2="698.55" stroke="#111" stroke-width="0.7" />
<line x1="391" y1="698.55" x2="388.8" y2="698.55" stroke="#111" stroke-width="0.7" />
<line x1="32" y1="693.26" x2="34.2" y2="693.26" stroke="#111" stroke-width="0.7" />
<line x1="391" y1="693.26" x2="388.8" y2="693.26" stroke="#111" stroke-width="0.7" />
<line x1="32" y1="689.51" x2="34.2" y2="689.51" stroke="#111" stroke-width="0.7" />
<line x1="391" y1="689.51" x2="388.8" y2="689.51" stroke="#111" stroke-width="0.7" />
<line x1="32" y1="686.6" x2="34.2" y2="686.6" stroke="#111" stroke-width="0.7" />
<line x1="391" y1="686.6" x2="388.8" y2="686.6" stroke="#111" stroke-width="0.7" />
<line x1="32" y1="684.22" x2="34.2" y2="684.22" stroke="#111" stroke-width="0.7" />
<line x1="391" y1="684.22" x2="388.8" y2="684.22" stroke="#111" stroke-width="0.7" />
<line x1="32" y1="682.2" x2="34.2" y2="682.2" stroke="#111" stroke-width="0.7" />
<line x1="391" y1="682.2" x2="388.8" y2="682.2" stroke="#111" stroke-width="0.7" />
<line x1="32" y1="680.46" x2="34.2" y2="680.46" stroke="#111" stroke-width="0.7" />
<line x1="391" y1="680.46" x2="388.8" y2="680.46" stroke="#111" stroke-width="0.7" />
<line x1="32" y1="678.93" x2="34.2" y2="678.93" stroke="#111" stroke-width="0.7" />
<line x1="391" y1="678.93" x2="388.8" y2="678.93" stroke="#111" stroke-width="0.7" />
<line x1="32" y1="677.55" x2="36" y2="677.55" stroke="#111" stroke-width="0.7" />
<line x1="391" y1="677.55" x2="387" y2="677.55" stroke="#111" stroke-width="0.7" />
<line x1="32" y1="668.5" x2="34.2" y2="668.5" stroke="#111" stroke-width="0.7" />
<line x1="391" y1="668.5" x2="388.8" y2="668.5" stroke="#111" stroke-width="0.7" />
<line x1="32" y1="663.21" x2="34.2" y2="663.21" stroke="#111" stroke-width="0.7" />
<line x1="391" y1="663.21" x2="388.8" y2="663.21" stroke="#111" stroke-width="0.7" />
<line x1="32" y1="659.46" x2="34.2" y2="659.46" stroke="#111" stroke-width="0.7" />
<line x1="391" y1="659.46" x2="388.8" y2="659.46" stroke="#111" stroke-width="0.7" />
<line x1="32" y1="656.55" x2="34.2" y2="656.55" stroke="#111" stroke-width="0.7" />
<line x1="391" y1="656.55" x2="388.8" y2="656.55" stroke="#111" stroke-width="0.7" />
<line x1="32" y1="654.17" x2="34.2" y2="654.17" stroke="#111" stroke-width="0.7" />
<line x1="391" y1="654.17" x2="388.8" y2="654.17" stroke="#111" stroke-width="0.7" />
<line x1="32" y1="652.15" x2="34.2" y2="652.15" stroke="#111" stroke-width="0.7" />
<line x1="391" y1="652.15" x2="388.8" y2="652.15" stroke="#111" stroke-width="0.7" />
<line x1="32" y1="650.41" x2="34.2" y2="650.41" stroke="#111" stroke-width="0.7" />
<line x1="391" y1="650.41" x2="388.8" y2="650.41" stroke="#111" stroke-width="0.7" />
<line x1="32" y1="648.88" x2="34.2" y2="648.88" stroke="#111" stroke-width="0.7" />
<line x1="391" y1="648.88" x2="388.8" y2="648.88" stroke="#111" stroke-width="0.7" />
<line x1="32" y1="647.5" x2="36" y2="647.5" stroke="#111" stroke-width="0.7" />
<line x1="391" y1="647.5" x2="387" y2="647.5" stroke="#111" stroke-width="0.7" />
<line x1="32" y1="638.45" x2="34.2" y2="638.45" stroke="#111" stroke-width="0.7" />
<line x1="391" y1="638.45" x2="388.8" y2="638.45" stroke="#111" stroke-width="0.7" />
<line x1="32" y1="633.16" x2="34.2" y2="633.16" stroke="#111" stroke-width="0.7" />
<line x1="391" y1="633.16" x2="388.8" y2="633.16" stroke="#111" stroke-width="0.7" />
<line x1="32" y1="629.41" x2="34.2" y2="629.41" stroke="#111" stroke-width="0.7" />
<line x1="391" y1="629.41" x2="388.8" y2="629.41" stroke="#111" stroke-width="0.7" />
<line x1="32" y1="626.5" x2="34.2" y2="626.5" stroke="#111" stroke-width="0.7" />
<line x1="391" y1="626.5" x2="388.8" y2="626.5" stroke="#111" stroke-width="0.7" />
<line x1="32" y1="624.12" x2="34.2" y2="624.12" stroke="#111" stroke-width="0.7" />
<line x1="391" y1="624.12" x2="388.8" y2="624.12" stroke="#111" stroke-width="0.7" />
<line x1="32" y1="622.1" x2="34.2" y2="622.1" stroke="#111" stroke-width="0.7" />
<line x1="391" y1="622.1" x2="388.8" y2="622.1" stroke="#111" stroke-width="0.7" />
<line x1="32" y1="620.36" x2="34.2" y2="620.36" stroke="#111" stroke-width="0.7" />
<line x1="391" y1="620.36" x2="388.8" y2="620.36" stroke="#111" stroke-width="0.7" />
<line x1="32" y1="618.83" x2="34.2" y2="618.83" stroke="#111" stroke-width="0.7" />
<line x1="391" y1="618.83" x2="388.8" y2="618.83" stroke="#111" stroke-width="0.7" />
<line x1="32" y1="617.45" x2="36" y2="617.45" stroke="#111" stroke-width="0.7" />
<line x1="391" y1="617.45" x2="387" y2="617.45" stroke="#111" stroke-width="0.7" />
<line x1="32" y1="608.4" x2="34.2" y2="608.4" stroke="#111" stroke-width="0.7" />
<line x1="391" y1="608.4" x2="388.8" y2="608.4" stroke="#111" stroke-width="0.7" />
<line x1="32" y1="603.11" x2="34.2" y2="603.11" stroke="#111" stroke-width="0.7" />
<line x1="391" y1="603.11" x2="388.8" y2="603.11" stroke="#111" stroke-width="0.7" />
<line x1="32" y1="599.36" x2="34.2" y2="599.36" stroke="#111" stroke-width="0.7" />
<line x1="391" y1="599.36" x2="388.8" y2="599.36" stroke="#111" stroke-width="0.7" />
<line x1="32" y1="596.45" x2="34.2" y2="596.45" stroke="#111" stroke-width="0.7" />
<line x1="391" y1="596.45" x2="388.8" y2="596.45" stroke="#111" stroke-width="0.7" />
<line x1="32" y1="594.07" x2="34.2" y2="594.07" stroke="#111" stroke-width="0.7" />
<line x1="391" y1="594.07" x2="388.8" y2="594.07" stroke="#111" stroke-width="0.7" />
<line x1="32" y1="592.05" x2="34.2" y2="592.05" stroke="#111" stroke-width="0.7" />
<line x1="391" y1="592.05" x2="388.8" y2="592.05" stroke="#111" stroke-width="0.7" />
<line x1="32" y1="590.31" x2="34.2" y2="590.31" stroke="#111" stroke-width="0.7" />
<line x1="391" y1="590.31" x2="388.8" y2="590.31" stroke="#111" stroke-width="0.7" />
<line x1="32" y1="588.78" x2="34.2" y2="588.78" stroke="#111" stroke-width="0.7" />
<line x1="391" y1="588.78" x2="388.8" y2="588.78" stroke="#111" stroke-width="0.7" />
<line x1="32" y1="587.4" x2="36" y2="587.4" stroke="#111" stroke-width="0.7" />
<line x1="391" y1="587.4" x2="387" y2="587.4" stroke="#111" stroke-width="0.7" />
<line x1="32" y1="578.35" x2="34.2" y2="578.35" stroke="#111" stroke-width="0.7" />
<line x1="391" y1="578.35" x2="388.8" y2="578.35" stroke="#111" stroke-width="0.7" />
<line x1="32" y1="573.06" x2="34.2" y2="573.06" stroke="#111" stroke-width="0.7" />
<line x1="391" y1="573.06" x2="388.8" y2="573.06" stroke="#111" stroke-width="0.7" />
<line x1="32" y1="569.31" x2="34.2" y2="569.31" stroke="#111" stroke-width="0.7" />
<line x1="391" y1="569.31" x2="388.8" y2="569.31" stroke="#111" stroke-width="0.7" />
<line x1="32" y1="566.4" x2="34.2" y2="566.4" stroke="#111" stroke-width="0.7" />
<line x1="391" y1="566.4" x2="388.8" y2="566.4" stroke="#111" stroke-width="0.7" />
<line x1="32" y1="564.02" x2="34.2" y2="564.02" stroke="#111" stroke-width="0.7" />
<line x1="391" y1="564.02" x2="388.8" y2="564.02" stroke="#111" stroke-width="0.7" />
<line x1="32" y1="562" x2="34.2" y2="562" stroke="#111" stroke-width="0.7" />
<line x1="391" y1="562" x2="388.8" y2="562" stroke="#111" stroke-width="0.7" />
<line x1="32" y1="560.26" x2="34.2" y2="560.26" stroke="#111" stroke-width="0.7" />
<line x1="391" y1="560.26" x2="388.8" y2="560.26" stroke="#111" stroke-width="0.7" />
<line x1="32" y1="558.73" x2="34.2" y2="558.73" stroke="#111" stroke-width="0.7" />
<line x1="391" y1="558.73" x2="388.8" y2="558.73" stroke="#111" stroke-width="0.7" />
<line x1="32" y1="557.35" x2="36" y2="557.35" stroke="#111" stroke-width="0.7" />
<line x1="391" y1="557.35" x2="387" y2="557.35" stroke="#111" stroke-width="0.7" />
<line x1="32" y1="548.3" x2="34.2" y2="548.3" stroke="#111" stroke-width="0.7" />
<line x1="391" y1="548.3" x2="388.8" y2="548.3" stroke="#111" stroke-width="0.7" />
<line x1="32" y1="543.01" x2="34.2" y2="543.01" stroke="#111" stroke-width="0.7" />
<line x1="391" y1="543.01" x2="388.8" y2="543.01" stroke="#111" stroke-width="0.7" />
<line x1="32" y1="539.26" x2="34.2" y2="539.26" stroke="#111" stroke-width="0.7" />
<line x1="391" y1="539.26" x2="388.8" y2="539.26" stroke="#111" stroke-width="0.7" />
<line x1="54.3" y1="536.1" x2="54.3" y2="540.1" stroke="#111" stroke-width="0.8" />
<line x1="54.3" y1="707.6" x2="54.3" y2="703.6" stroke="#111" stroke-width="0.8" />
<line x1="110.42" y1="536.1" x2="110.42" y2="538.6" stroke="#111" stroke-width="0.8" />
<line x1="110.42" y1="707.6" x2="110.42" y2="705.1" stroke="#111" stroke-width="0.8" />
<line x1="166.55" y1="536.1" x2="166.55" y2="540.1" stroke="#111" stroke-width="0.8" />
<line x1="166.55" y1="707.6" x2="166.55" y2="703.6" stroke="#111" stroke-width="0.8" />
<line x1="222.68" y1="536.1" x2="222.68" y2="538.6" stroke="#111" stroke-width="0.8" />
<line x1="222.68" y1="707.6" x2="222.68" y2="705.1" stroke="#111" stroke-width="0.8" />
<line x1="278.8" y1="536.1" x2="278.8" y2="540.1" stroke="#111" stroke-width="0.8" />
<line x1="278.8" y1="707.6" x2="278.8" y2="703.6" stroke="#111" stroke-width="0.8" />
<line x1="334.93" y1="536.1" x2="334.93" y2="538.6" stroke="#111" stroke-width="0.8" />
<line x1="334.93" y1="707.6" x2="334.93" y2="705.1" stroke="#111" stroke-width="0.8" />
<rect x="32" y="536.1" width="359" height="171.5" stroke="#111" stroke-width="1.0" fill="none" />
<rect x="325.3" y="541.6" width="37.7" height="60" stroke="#111" stroke-width="0.9" fill="#fff" />
<line x1="326.9" y1="548.3" x2="348.6" y2="548.3" stroke="#111" stroke-width="1.3" />
<text x="350.8" y="551.7" font-size="9.5" text-anchor="start" font-weight="normal" fill="#111" >3</text>
<line x1="326.9" y1="560.2" x2="348.6" y2="560.2" stroke="#ff1a1a" stroke-width="1.3" />
<text x="350.8" y="563.6" font-size="9.5" text-anchor="start" font-weight="normal" fill="#111" >5</text>
<line x1="326.9" y1="571.9" x2="348.6" y2="571.9" stroke="#1a1aff" stroke-width="1.3" />
<text x="350.8" y="575.3" font-size="9.5" text-anchor="start" font-weight="normal" fill="#111" >7</text>
<line x1="326.9" y1="583.6" x2="348.6" y2="583.6" stroke="#ff1aff" stroke-width="1.3" />
<text x="350.8" y="587" font-size="9.5" text-anchor="start" font-weight="normal" fill="#111" >9</text>
<line x1="326.9" y1="595.5" x2="348.6" y2="595.5" stroke="#1aee1a" stroke-width="1.3" />
<text x="350.8" y="598.9" font-size="9.5" text-anchor="start" font-weight="normal" fill="#111" >11</text>
<text x="27.2" y="560.46" font-size="8.7" text-anchor="end" fill="#111">10<tspan font-size="6.26" dy="-3.65">-2</tspan></text>
<text x="27.2" y="590.51" font-size="8.7" text-anchor="end" fill="#111">10<tspan font-size="6.26" dy="-3.65">-3</tspan></text>
<text x="27.2" y="620.56" font-size="8.7" text-anchor="end" fill="#111">10<tspan font-size="6.26" dy="-3.65">-4</tspan></text>
<text x="27.2" y="650.61" font-size="8.7" text-anchor="end" fill="#111">10<tspan font-size="6.26" dy="-3.65">-5</tspan></text>
<text x="27.2" y="680.66" font-size="8.7" text-anchor="end" fill="#111">10<tspan font-size="6.26" dy="-3.65">-6</tspan></text>
<text x="27.2" y="710.71" font-size="8.7" text-anchor="end" fill="#111">10<tspan font-size="6.26" dy="-3.65">-7</tspan></text>
<text x="54.3" y="719.57" font-size="9.4" text-anchor="middle" font-weight="normal" fill="#111" >0</text>
<text x="166.55" y="719.57" font-size="9.4" text-anchor="middle" font-weight="normal" fill="#111" >5</text>
<text x="278.8" y="719.57" font-size="9.4" text-anchor="middle" font-weight="normal" fill="#111" >10</text>
<text x="391.05" y="719.57" font-size="9.4" text-anchor="middle" font-weight="normal" fill="#111" >15</text>
<text x="206.9" y="732.17" font-size="9.4" text-anchor="middle" font-weight="normal" fill="#111" >Time (ms)</text>
<text x="0" y="0" font-size="9.4" text-anchor="middle" fill="#111" transform="translate(7.8,621.6) rotate(-90)">Modal power (a.u.)</text>
<text x="1.5" y="540.7" font-size="20" text-anchor="start" font-weight="bold" fill="#111" >g</text>
<line x1="482.6" y1="346.2" x2="482.6" y2="349.2" stroke="#222" stroke-width="0.8" />
<line x1="482.6" y1="708.5" x2="482.6" y2="705.5" stroke="#222" stroke-width="0.8" />
<line x1="526.6" y1="346.2" x2="526.6" y2="350.2" stroke="#222" stroke-width="0.8" />
<line x1="526.6" y1="708.5" x2="526.6" y2="704.5" stroke="#222" stroke-width="0.8" />
<line x1="570.6" y1="346.2" x2="570.6" y2="349.2" stroke="#222" stroke-width="0.8" />
<line x1="570.6" y1="708.5" x2="570.6" y2="705.5" stroke="#222" stroke-width="0.8" />
<line x1="614.6" y1="346.2" x2="614.6" y2="350.2" stroke="#222" stroke-width="0.8" />
<line x1="614.6" y1="708.5" x2="614.6" y2="704.5" stroke="#222" stroke-width="0.8" />
<line x1="658.6" y1="346.2" x2="658.6" y2="349.2" stroke="#222" stroke-width="0.8" />
<line x1="658.6" y1="708.5" x2="658.6" y2="705.5" stroke="#222" stroke-width="0.8" />
<line x1="438.6" y1="663.23" x2="441.6" y2="663.23" stroke="#222" stroke-width="0.8" />
<line x1="702.4" y1="663.23" x2="699.4" y2="663.23" stroke="#222" stroke-width="0.8" />
<line x1="438.6" y1="617.95" x2="442.6" y2="617.95" stroke="#222" stroke-width="0.8" />
<line x1="702.4" y1="617.95" x2="698.4" y2="617.95" stroke="#222" stroke-width="0.8" />
<line x1="438.6" y1="572.67" x2="441.6" y2="572.67" stroke="#222" stroke-width="0.8" />
<line x1="702.4" y1="572.67" x2="699.4" y2="572.67" stroke="#222" stroke-width="0.8" />
<line x1="438.6" y1="527.4" x2="442.6" y2="527.4" stroke="#222" stroke-width="0.8" />
<line x1="702.4" y1="527.4" x2="698.4" y2="527.4" stroke="#222" stroke-width="0.8" />
<line x1="438.6" y1="482.12" x2="441.6" y2="482.12" stroke="#222" stroke-width="0.8" />
<line x1="702.4" y1="482.12" x2="699.4" y2="482.12" stroke="#222" stroke-width="0.8" />
<line x1="438.6" y1="436.85" x2="442.6" y2="436.85" stroke="#222" stroke-width="0.8" />
<line x1="702.4" y1="436.85" x2="698.4" y2="436.85" stroke="#222" stroke-width="0.8" />
<line x1="438.6" y1="391.57" x2="441.6" y2="391.57" stroke="#222" stroke-width="0.8" />
<line x1="702.4" y1="391.57" x2="699.4" y2="391.57" stroke="#222" stroke-width="0.8" />
<rect x="438.6" y="346.2" width="263.8" height="362.3" stroke="#222" stroke-width="0.9" fill="none" />
<g clip-path="url(#clipH)">
<path d="M443,658.39 L445.2,647.13 L447.4,637.63 L449.6,629.27 L451.8,621.71 L454,614.75 L456.2,608.28 L458.4,602.2 L460.6,596.45 L462.8,590.98 L465,585.76 L467.2,580.74 L469.4,575.92 L471.6,571.27 L473.8,566.77 L476,562.4 L478.2,558.17 L480.4,554.05 L482.6,550.04 L484.8,546.12 L487,542.3 L489.2,538.57 L491.4,534.91 L493.6,531.33 L495.8,527.82 L498,524.38 L500.2,521 L502.4,517.69 L504.6,514.42 L506.8,511.22 L509,508.06 L511.2,504.95 L513.4,501.89 L515.6,498.87 L517.8,495.9 L520,492.97 L522.2,490.07 L524.4,487.22 L526.6,484.4 L528.8,481.62 L531,478.87 L533.2,476.15 L535.4,473.46 L537.6,470.81 L539.8,468.18 L542,465.58 L544.2,463.01 L546.4,460.47 L548.6,457.95 L550.8,455.46 L553,452.99 L555.2,450.54 L557.4,448.12 L559.6,445.72 L561.8,443.34 L564,440.98 L566.2,438.65 L568.4,436.33 L570.6,434.03 L572.8,431.76 L575,429.5 L577.2,427.26 L579.4,425.03 L581.6,422.83 L583.8,420.64 L586,418.47 L588.2,416.31 L590.4,414.17 L592.6,412.04 L594.8,409.93 L597,407.84 L599.2,405.76 L601.4,403.69 L603.6,401.64 L605.8,399.6 L608,397.57 L610.2,395.56 L612.4,393.56 L614.6,391.58 L616.8,389.6 L619,387.64 L621.2,385.69 L623.4,383.75 L625.6,381.82 L627.8,379.91 L630,378 L632.2,376.11 L634.4,374.22 L636.6,372.35 L638.8,370.49 L641,368.64 L643.2,366.79 L645.4,364.96 L647.6,363.14 L649.8,361.33 L652,359.52 L654.2,357.73 L656.4,355.94 L658.6,354.17 L660.8,352.4 L663,350.64 L665.2,348.89 L667.4,347.15 L669.6,345.42 L671.8,343.69 L674,341.98 L676.2,340.27 L678.4,338.57 L680.6,336.87 L682.8,335.19 L685,333.51 L687.2,331.84 L689.4,330.18 L691.6,328.52 L693.8,326.87 L696,325.23 L698.2,323.6 L700.4,321.97 L702.6,320.35" stroke="#111" stroke-width="1.3" fill="none" stroke-linejoin="round" stroke-linecap="round" />
<path d="M442.56,669.74 L444.76,660.15 L446.96,652.18 L449.16,645.2 L451.36,638.92 L453.56,633.16 L455.76,627.81 L457.96,622.79 L460.16,618.05 L462.36,613.55 L464.56,609.25 L466.76,605.13 L468.96,601.17 L471.16,597.35 L473.36,593.65 L475.56,590.07 L477.76,586.6 L479.96,583.22 L482.16,579.93 L484.36,576.73 L486.56,573.6 L488.76,570.54 L490.96,567.54 L493.16,564.61 L495.36,561.74 L497.56,558.92 L499.76,556.16 L501.96,553.44 L504.16,550.77 L506.36,548.15 L508.56,545.57 L510.76,543.02 L512.96,540.52 L515.16,538.05 L517.36,535.62 L519.56,533.22 L521.76,530.86 L523.96,528.52 L526.16,526.22 L528.36,523.94 L530.56,521.7 L532.76,519.47 L534.96,517.28 L537.16,515.11 L539.36,512.96 L541.56,510.84 L543.76,508.74 L545.96,506.66 L548.16,504.6 L550.36,502.57 L552.56,500.55 L554.76,498.55 L556.96,496.57 L559.16,494.61 L561.36,492.67 L563.56,490.74 L565.76,488.83 L567.96,486.94 L570.16,485.07 L572.36,483.21 L574.56,481.36 L576.76,479.53 L578.96,477.71 L581.16,475.91 L583.36,474.13 L585.56,472.35 L587.76,470.59 L589.96,468.84 L592.16,467.11 L594.36,465.38 L596.56,463.67 L598.76,461.97 L600.96,460.29 L603.16,458.61 L605.36,456.95 L607.56,455.29 L609.76,453.65 L611.96,452.02 L614.16,450.39 L616.36,448.78 L618.56,447.18 L620.76,445.59 L622.96,444 L625.16,442.43 L627.36,440.87 L629.56,439.31 L631.76,437.76 L633.96,436.23 L636.16,434.7 L638.36,433.18 L640.56,431.67 L642.76,430.16 L644.96,428.67 L647.16,427.18 L649.36,425.7 L651.56,424.23 L653.76,422.76 L655.96,421.31 L658.16,419.86 L660.36,418.41 L662.56,416.98 L664.76,415.55 L666.96,414.13 L669.16,412.71 L671.36,411.31 L673.56,409.9 L675.76,408.51 L677.96,407.12 L680.16,405.74 L682.36,404.36 L684.56,402.99 L686.76,401.63 L688.96,400.27 L691.16,398.92 L693.36,397.58 L695.56,396.24 L697.76,394.9 L699.96,393.58 L702.16,392.25" stroke="#ff1a1a" stroke-width="1.3" fill="none" stroke-linejoin="round" stroke-linecap="round" />
</g>
<line x1="462.9" y1="627.8" x2="462.9" y2="664" stroke="#111" stroke-width="1.2" />
<line x1="460.7" y1="627.8" x2="465.1" y2="627.8" stroke="#111" stroke-width="1.2" />
<line x1="460.7" y1="664" x2="465.1" y2="664" stroke="#111" stroke-width="1.2" />
<line x1="473.2" y1="590.7" x2="473.2" y2="624.5" stroke="#111" stroke-width="1.2" />
<line x1="471" y1="590.7" x2="475.4" y2="590.7" stroke="#111" stroke-width="1.2" />
<line x1="471" y1="624.5" x2="475.4" y2="624.5" stroke="#111" stroke-width="1.2" />
<line x1="482.9" y1="580.3" x2="482.9" y2="616.2" stroke="#111" stroke-width="1.2" />
<line x1="480.7" y1="580.3" x2="485.1" y2="580.3" stroke="#111" stroke-width="1.2" />
<line x1="480.7" y1="616.2" x2="485.1" y2="616.2" stroke="#111" stroke-width="1.2" />
<line x1="493.5" y1="551.8" x2="493.5" y2="592.6" stroke="#111" stroke-width="1.2" />
<line x1="491.3" y1="551.8" x2="495.7" y2="551.8" stroke="#111" stroke-width="1.2" />
<line x1="491.3" y1="592.6" x2="495.7" y2="592.6" stroke="#111" stroke-width="1.2" />
<line x1="503" y1="540.4" x2="503" y2="584.4" stroke="#111" stroke-width="1.2" />
<line x1="500.8" y1="540.4" x2="505.2" y2="540.4" stroke="#111" stroke-width="1.2" />
<line x1="500.8" y1="584.4" x2="505.2" y2="584.4" stroke="#111" stroke-width="1.2" />
<line x1="522.3" y1="457.5" x2="522.3" y2="523.3" stroke="#111" stroke-width="1.2" />
<line x1="520.1" y1="457.5" x2="524.5" y2="457.5" stroke="#111" stroke-width="1.2" />
<line x1="520.1" y1="523.3" x2="524.5" y2="523.3" stroke="#111" stroke-width="1.2" />
<line x1="542.7" y1="382.4" x2="542.7" y2="466.7" stroke="#111" stroke-width="1.2" />
<line x1="540.5" y1="382.4" x2="544.9" y2="382.4" stroke="#111" stroke-width="1.2" />
<line x1="540.5" y1="466.7" x2="544.9" y2="466.7" stroke="#111" stroke-width="1.2" />
<line x1="570.4" y1="369.5" x2="570.4" y2="458.5" stroke="#111" stroke-width="1.2" />
<line x1="568.2" y1="369.5" x2="572.6" y2="369.5" stroke="#111" stroke-width="1.2" />
<line x1="568.2" y1="458.5" x2="572.6" y2="458.5" stroke="#111" stroke-width="1.2" />
<line x1="590.8" y1="357" x2="590.8" y2="449.1" stroke="#111" stroke-width="1.2" />
<line x1="588.6" y1="357" x2="593" y2="357" stroke="#111" stroke-width="1.2" />
<line x1="588.6" y1="449.1" x2="593" y2="449.1" stroke="#111" stroke-width="1.2" />
<line x1="457.2" y1="660.6" x2="457.2" y2="678" stroke="#ff1a1a" stroke-width="1.2" />
<line x1="455" y1="660.6" x2="459.4" y2="660.6" stroke="#ff1a1a" stroke-width="1.2" />
<line x1="455" y1="678" x2="459.4" y2="678" stroke="#ff1a1a" stroke-width="1.2" />
<line x1="472.4" y1="644.1" x2="472.4" y2="662.2" stroke="#ff1a1a" stroke-width="1.2" />
<line x1="470.2" y1="644.1" x2="474.6" y2="644.1" stroke="#ff1a1a" stroke-width="1.2" />
<line x1="470.2" y1="662.2" x2="474.6" y2="662.2" stroke="#ff1a1a" stroke-width="1.2" />
<line x1="492.3" y1="600.7" x2="492.3" y2="618.1" stroke="#ff1a1a" stroke-width="1.2" />
<line x1="490.1" y1="600.7" x2="494.5" y2="600.7" stroke="#ff1a1a" stroke-width="1.2" />
<line x1="490.1" y1="618.1" x2="494.5" y2="618.1" stroke="#ff1a1a" stroke-width="1.2" />
<line x1="514.2" y1="543.6" x2="514.2" y2="586.6" stroke="#ff1a1a" stroke-width="1.2" />
<line x1="512" y1="543.6" x2="516.4" y2="543.6" stroke="#ff1a1a" stroke-width="1.2" />
<line x1="512" y1="586.6" x2="516.4" y2="586.6" stroke="#ff1a1a" stroke-width="1.2" />
<line x1="539.2" y1="508.3" x2="539.2" y2="560.5" stroke="#ff1a1a" stroke-width="1.2" />
<line x1="537" y1="508.3" x2="541.4" y2="508.3" stroke="#ff1a1a" stroke-width="1.2" />
<line x1="537" y1="560.5" x2="541.4" y2="560.5" stroke="#ff1a1a" stroke-width="1.2" />
<line x1="571.3" y1="458.9" x2="571.3" y2="524.1" stroke="#ff1a1a" stroke-width="1.2" />
<line x1="569.1" y1="458.9" x2="573.5" y2="458.9" stroke="#ff1a1a" stroke-width="1.2" />
<line x1="569.1" y1="524.1" x2="573.5" y2="524.1" stroke="#ff1a1a" stroke-width="1.2" />
<line x1="606.8" y1="396.1" x2="606.8" y2="477.2" stroke="#ff1a1a" stroke-width="1.2" />
<line x1="604.6" y1="396.1" x2="609" y2="396.1" stroke="#ff1a1a" stroke-width="1.2" />
<line x1="604.6" y1="477.2" x2="609" y2="477.2" stroke="#ff1a1a" stroke-width="1.2" />
<path d="M453.1,671.38 L461.3,671.38 L457.2,664.41 Z" stroke="#ff1a1a" stroke-width="1.35" fill="#fff" stroke-linejoin="miter"/>
<path d="M468.3,655.99 L476.5,655.99 L472.4,649.01 Z" stroke="#ff1a1a" stroke-width="1.35" fill="#fff" stroke-linejoin="miter"/>
<path d="M488.2,612.49 L496.4,612.49 L492.3,605.51 Z" stroke="#ff1a1a" stroke-width="1.35" fill="#fff" stroke-linejoin="miter"/>
<path d="M510.1,568.09 L518.3,568.09 L514.2,561.12 Z" stroke="#ff1a1a" stroke-width="1.35" fill="#fff" stroke-linejoin="miter"/>
<path d="M535.1,537.09 L543.3,537.09 L539.2,530.12 Z" stroke="#ff1a1a" stroke-width="1.35" fill="#fff" stroke-linejoin="miter"/>
<path d="M567.2,493.59 L575.4,493.59 L571.3,486.62 Z" stroke="#ff1a1a" stroke-width="1.35" fill="#fff" stroke-linejoin="miter"/>
<path d="M602.7,439.49 L610.9,439.49 L606.8,432.51 Z" stroke="#ff1a1a" stroke-width="1.35" fill="#fff" stroke-linejoin="miter"/>
<path d="M437.6,696.45 L446.2,696.45 L441.9,689.14 Z" stroke="#ff1a1a" stroke-width="1.0" fill="#ff1a1a" stroke-linejoin="miter"/>
<path d="M443.7,695.25 L452.3,695.25 L448,687.95 Z" stroke="#ff1a1a" stroke-width="1.0" fill="#ff1a1a" stroke-linejoin="miter"/>
<path d="M452.9,655.65 L461.5,655.65 L457.2,648.35 Z" stroke="#ff1a1a" stroke-width="1.0" fill="#ff1a1a" stroke-linejoin="miter"/>
<path d="M469.2,619.95 L477.8,619.95 L473.5,612.64 Z" stroke="#ff1a1a" stroke-width="1.0" fill="#ff1a1a" stroke-linejoin="miter"/>
<circle cx="462.9" cy="645.9" r="3.3" stroke="#111" stroke-width="1.5" fill="#fff"/>
<circle cx="473.2" cy="608" r="3.3" stroke="#111" stroke-width="1.5" fill="#fff"/>
<circle cx="482.9" cy="598.5" r="3.3" stroke="#111" stroke-width="1.5" fill="#fff"/>
<circle cx="493.5" cy="571.6" r="3.3" stroke="#111" stroke-width="1.5" fill="#fff"/>
<circle cx="503" cy="562.1" r="3.3" stroke="#111" stroke-width="1.5" fill="#fff"/>
<circle cx="522.3" cy="490.7" r="3.3" stroke="#111" stroke-width="1.5" fill="#fff"/>
<circle cx="542.7" cy="424.8" r="3.3" stroke="#111" stroke-width="1.5" fill="#fff"/>
<circle cx="570.4" cy="414.2" r="3.3" stroke="#111" stroke-width="1.5" fill="#fff"/>
<circle cx="590.8" cy="402.8" r="3.3" stroke="#111" stroke-width="1.5" fill="#fff"/>
<rect x="600.3" y="580.2" width="67.2" height="46" stroke="#222" stroke-width="0.9" fill="#fff" />
<circle cx="611.2" cy="585.8" r="3.3" stroke="#111" stroke-width="1.6" fill="none"/>
<path d="M607.1,600.38 L615.3,600.38 L611.2,593.41 Z" stroke="#ff1a1a" stroke-width="1.4" fill="none" stroke-linejoin="miter"/>
<line x1="600.6" y1="608.9" x2="621.8" y2="608.9" stroke="#111" stroke-width="1.1" />
<line x1="600.6" y1="620.5" x2="621.8" y2="620.5" stroke="#ff1a1a" stroke-width="1.1" />
<text x="624.7" y="589.06" font-size="9.1" text-anchor="start" font-weight="normal" fill="#111" >rat B1</text>
<text x="624.7" y="600.16" font-size="9.1" text-anchor="start" font-weight="normal" fill="#111" >mouse C1</text>
<text x="627.5" y="612.16" font-size="9.1" text-anchor="start" font-weight="normal" fill="#111" >rat</text>
<text x="627.5" y="623.76" font-size="9.1" text-anchor="start" font-weight="normal" fill="#111" >mouse</text>
<text x="434" y="711.69" font-size="8.9" text-anchor="end" font-weight="normal" fill="#111" >0</text>
<text x="434" y="621.14" font-size="8.9" text-anchor="end" font-weight="normal" fill="#111" >10</text>
<text x="434" y="530.59" font-size="8.9" text-anchor="end" font-weight="normal" fill="#111" >20</text>
<text x="434" y="440.04" font-size="8.9" text-anchor="end" font-weight="normal" fill="#111" >30</text>
<text x="434" y="349.49" font-size="8.9" text-anchor="end" font-weight="normal" fill="#111" >40</text>
<text x="438.6" y="720.79" font-size="8.9" text-anchor="middle" font-weight="normal" fill="#111" >0</text>
<text x="526.6" y="720.79" font-size="8.9" text-anchor="middle" font-weight="normal" fill="#111" >2k</text>
<text x="614.6" y="720.79" font-size="8.9" text-anchor="middle" font-weight="normal" fill="#111" >4k</text>
<text x="702.6" y="720.79" font-size="8.9" text-anchor="middle" font-weight="normal" fill="#111" >6k</text>
<text x="568.3" y="733.99" font-size="8.9" text-anchor="middle" font-weight="normal" fill="#111" >Frequency (Hz)</text>
<text x="0" y="0" font-size="9.5" text-anchor="middle" fill="#111" transform="translate(415.8,523.3) rotate(-90)">Group velocity (m/s)</text>
<text x="404.6" y="348.8" font-size="20" text-anchor="start" font-weight="bold" fill="#111" >h</text>
</svg></body></html>
